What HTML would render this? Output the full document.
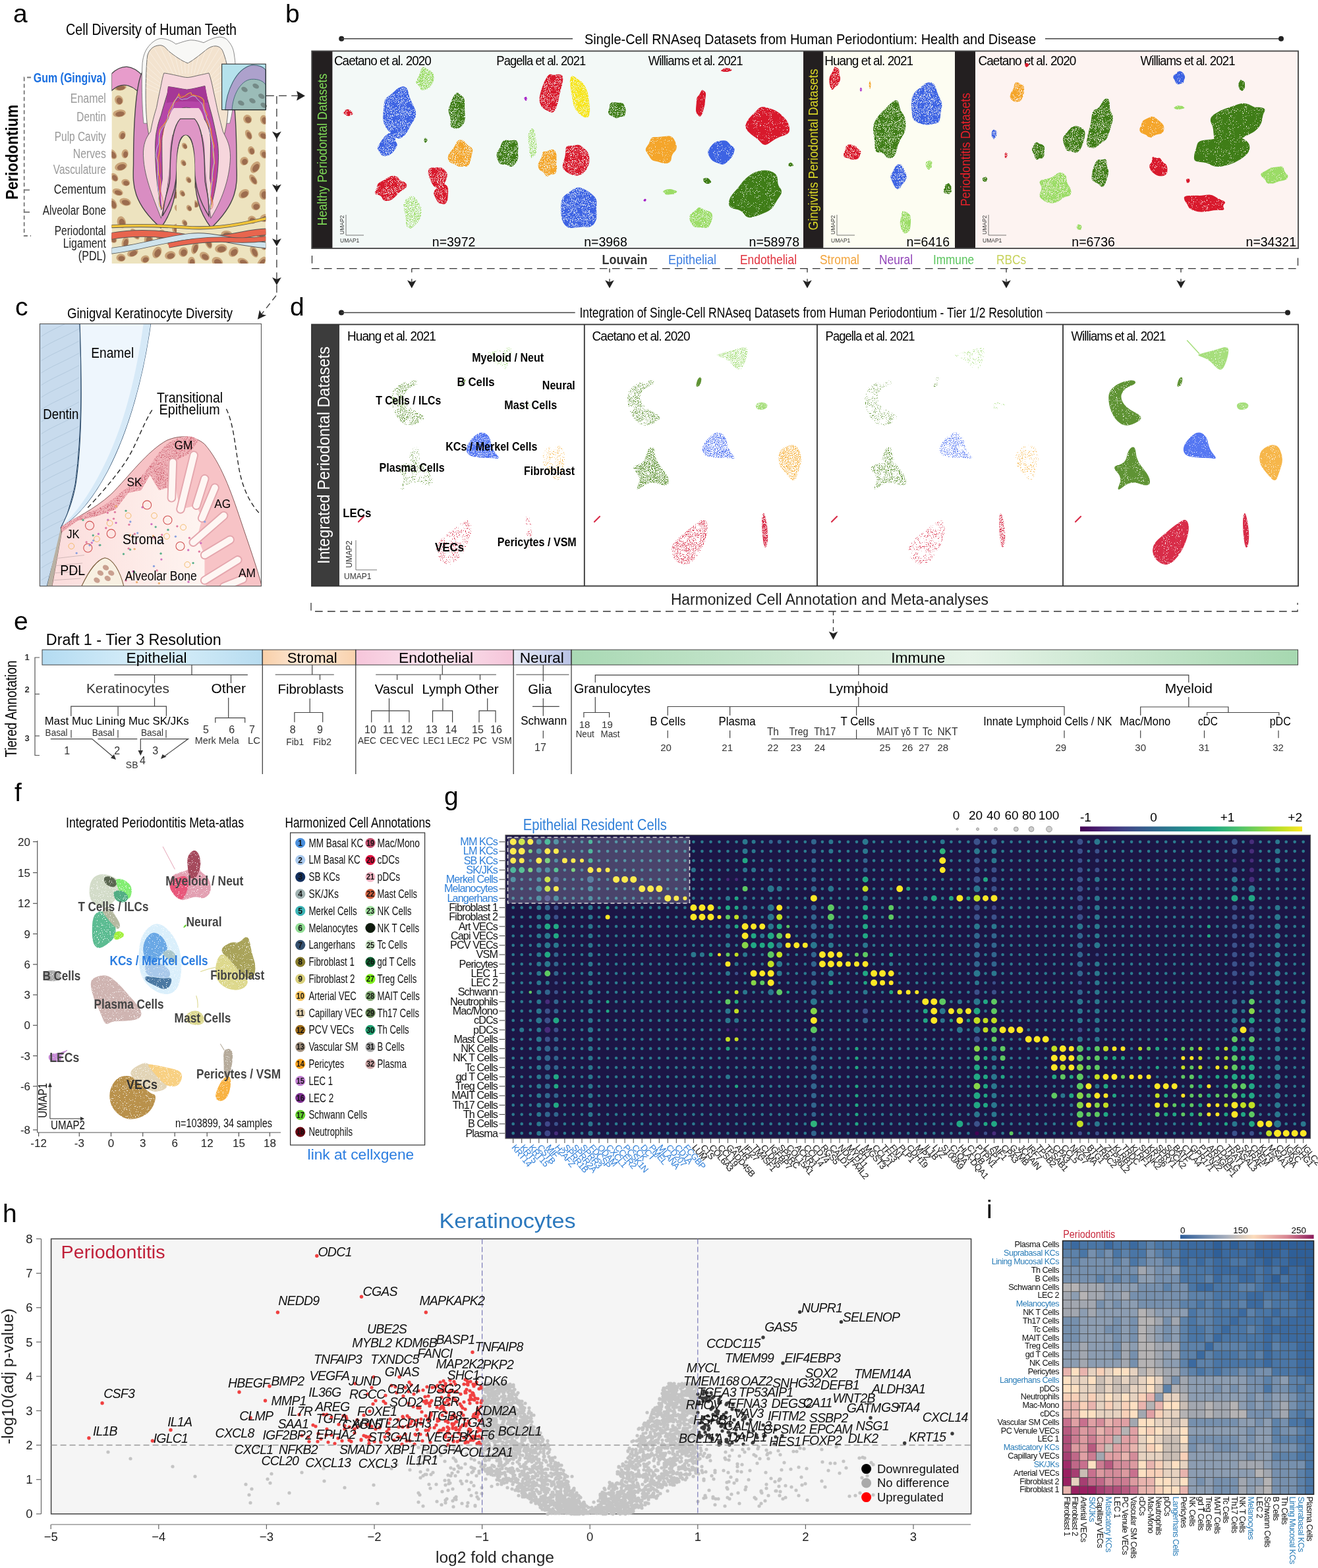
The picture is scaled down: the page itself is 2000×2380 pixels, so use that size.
<!DOCTYPE html>
<html><head><meta charset="utf-8"><title>Periodontal single-cell atlas</title>
<style>html,body{margin:0;padding:0;background:#fff;}body{width:2000px;height:2380px;overflow:hidden;}svg{display:block;font-family:"Liberation Sans",Arial,sans-serif;}</style></head><body>
<svg xmlns="http://www.w3.org/2000/svg" width="2000" height="2380" viewBox="0 0 2000 2380" font-family="Liberation Sans, Arial, sans-serif">
<defs><filter id="s95" x="-5%" y="-5%" width="110%" height="110%" color-interpolation-filters="sRGB"><feTurbulence type="fractalNoise" baseFrequency="0.95" numOctaves="2" seed="3" result="n"/><feColorMatrix in="n" type="matrix" values="0 0 0 0 0  0 0 0 0 0  0 0 0 0 0  12 0 0 0 -3.2" result="m"/><feComposite in="SourceGraphic" in2="m" operator="in"/></filter><filter id="s85" x="-5%" y="-5%" width="110%" height="110%" color-interpolation-filters="sRGB"><feTurbulence type="fractalNoise" baseFrequency="0.95" numOctaves="2" seed="5" result="n"/><feColorMatrix in="n" type="matrix" values="0 0 0 0 0  0 0 0 0 0  0 0 0 0 0  12 0 0 0 -4.2" result="m"/><feComposite in="SourceGraphic" in2="m" operator="in"/></filter><filter id="s65" x="-5%" y="-5%" width="110%" height="110%" color-interpolation-filters="sRGB"><feTurbulence type="fractalNoise" baseFrequency="0.95" numOctaves="2" seed="7" result="n"/><feColorMatrix in="n" type="matrix" values="0 0 0 0 0  0 0 0 0 0  0 0 0 0 0  12 0 0 0 -5.0" result="m"/><feComposite in="SourceGraphic" in2="m" operator="in"/></filter><filter id="s45" x="-5%" y="-5%" width="110%" height="110%" color-interpolation-filters="sRGB"><feTurbulence type="fractalNoise" baseFrequency="0.95" numOctaves="2" seed="9" result="n"/><feColorMatrix in="n" type="matrix" values="0 0 0 0 0  0 0 0 0 0  0 0 0 0 0  12 0 0 0 -5.8" result="m"/><feComposite in="SourceGraphic" in2="m" operator="in"/></filter><filter id="s25" x="-5%" y="-5%" width="110%" height="110%" color-interpolation-filters="sRGB"><feTurbulence type="fractalNoise" baseFrequency="0.95" numOctaves="2" seed="11" result="n"/><feColorMatrix in="n" type="matrix" values="0 0 0 0 0  0 0 0 0 0  0 0 0 0 0  12 0 0 0 -6.6" result="m"/><feComposite in="SourceGraphic" in2="m" operator="in"/></filter><filter id="s12" x="-5%" y="-5%" width="110%" height="110%" color-interpolation-filters="sRGB"><feTurbulence type="fractalNoise" baseFrequency="0.95" numOctaves="2" seed="13" result="n"/><feColorMatrix in="n" type="matrix" values="0 0 0 0 0  0 0 0 0 0  0 0 0 0 0  12 0 0 0 -7.3" result="m"/><feComposite in="SourceGraphic" in2="m" operator="in"/></filter></defs>
<text x="20.0" y="34.0" font-size="39">a</text>
<text x="100.0" y="52.8" font-size="23.62" textLength="259.0" lengthAdjust="spacingAndGlyphs">Cell Diversity of Human Teeth</text>
<text x="26.8" y="231.0" font-size="25.73" text-anchor="middle" font-weight="bold" textLength="144.0" lengthAdjust="spacingAndGlyphs" transform="rotate(-90 26.8 231.0)">Periodontium</text>
<path d="M47,117.5 H36.7 V358 H47" fill="none" stroke="#777" stroke-width="1.8" stroke-dasharray="6 4"/>
<line x1="36.7" y1="288.4" x2="45.0" y2="288.4" stroke="#777" stroke-width="1.8"/>
<line x1="36.7" y1="322.0" x2="45.0" y2="322.0" stroke="#777" stroke-width="1.8"/>
<text x="160.8" y="125.3" font-size="19.95" text-anchor="end" font-weight="bold" fill="#1a6fe0" textLength="110.0" lengthAdjust="spacingAndGlyphs">Gum (Gingiva)</text>
<text x="160.8" y="155.5" font-size="20.48" text-anchor="end" fill="#9a9a9a" textLength="54.0" lengthAdjust="spacingAndGlyphs">Enamel</text>
<text x="160.8" y="184.0" font-size="20.48" text-anchor="end" fill="#9a9a9a" textLength="44.5" lengthAdjust="spacingAndGlyphs">Dentin</text>
<text x="160.8" y="213.8" font-size="20.48" text-anchor="end" fill="#9a9a9a" textLength="78.0" lengthAdjust="spacingAndGlyphs">Pulp Cavity</text>
<text x="160.8" y="239.5" font-size="20.48" text-anchor="end" fill="#9a9a9a" textLength="50.0" lengthAdjust="spacingAndGlyphs">Nerves</text>
<text x="160.8" y="264.3" font-size="20.48" text-anchor="end" fill="#9a9a9a" textLength="80.0" lengthAdjust="spacingAndGlyphs">Vasculature</text>
<text x="160.8" y="294.0" font-size="20.48" text-anchor="end" fill="#222" textLength="79.0" lengthAdjust="spacingAndGlyphs">Cementum</text>
<text x="160.8" y="325.7" font-size="20.48" text-anchor="end" fill="#222" textLength="96.0" lengthAdjust="spacingAndGlyphs">Alveolar Bone</text>
<text x="160.8" y="356.5" font-size="20.48" text-anchor="end" fill="#222" textLength="78.0" lengthAdjust="spacingAndGlyphs">Periodontal</text>
<text x="160.8" y="375.5" font-size="20.48" text-anchor="end" fill="#222" textLength="65.0" lengthAdjust="spacingAndGlyphs">Ligament</text>
<text x="160.8" y="394.6" font-size="20.48" text-anchor="end" fill="#222" textLength="42.0" lengthAdjust="spacingAndGlyphs">(PDL)</text>
<g transform="translate(160,50) scale(0.171527)">
<clipPath id="clipA"><rect x="55" y="0" width="1363" height="2040"/></clipPath>
<g clip-path="url(#clipA)">
<path d="M55,2040 L55,510 Q190,400 330,560 L1418,560 L1418,2040 Z" fill="#ede3bf"/>
<ellipse cx="1133.5" cy="1937.3" rx="49.1" ry="37.7" fill="#c9a378" transform="rotate(133.18174345318752 1133.5 1937.3)"/>
<ellipse cx="1138.5" cy="1943.3" rx="34.4" ry="25.7" fill="#9c6c4e" transform="rotate(133.18174345318752 1138.5 1943.3)"/>
<ellipse cx="688.6" cy="1938.8" rx="43.8" ry="39.8" fill="#c9a378" transform="rotate(116.81541956464636 688.6 1938.8)"/>
<ellipse cx="693.6" cy="1944.8" rx="30.6" ry="27.1" fill="#9c6c4e" transform="rotate(116.81541956464636 693.6 1944.8)"/>
<ellipse cx="794.1" cy="1344.0" rx="56.8" ry="30.0" fill="#c9a378" transform="rotate(2.3605541260023966 794.1 1344.0)"/>
<ellipse cx="799.1" cy="1350.0" rx="39.7" ry="20.4" fill="#9c6c4e" transform="rotate(2.3605541260023966 799.1 1350.0)"/>
<ellipse cx="1297.1" cy="1652.8" rx="38.5" ry="32.9" fill="#c9a378" transform="rotate(28.72875822444688 1297.1 1652.8)"/>
<ellipse cx="1302.1" cy="1658.8" rx="26.9" ry="22.4" fill="#9c6c4e" transform="rotate(28.72875822444688 1302.1 1658.8)"/>
<ellipse cx="62.4" cy="1823.0" rx="42.5" ry="30.7" fill="#c9a378" transform="rotate(37.70214884912122 62.4 1823.0)"/>
<ellipse cx="67.4" cy="1829.0" rx="29.8" ry="20.9" fill="#9c6c4e" transform="rotate(37.70214884912122 67.4 1829.0)"/>
<ellipse cx="350.9" cy="2001.7" rx="38.5" ry="33.0" fill="#c9a378" transform="rotate(157.03339777862433 350.9 2001.7)"/>
<ellipse cx="355.9" cy="2007.7" rx="26.9" ry="22.4" fill="#9c6c4e" transform="rotate(157.03339777862433 355.9 2007.7)"/>
<ellipse cx="788.0" cy="1511.3" rx="42.1" ry="30.6" fill="#c9a378" transform="rotate(36.86031261608271 788.0 1511.3)"/>
<ellipse cx="793.0" cy="1517.3" rx="29.4" ry="20.8" fill="#9c6c4e" transform="rotate(36.86031261608271 793.0 1517.3)"/>
<ellipse cx="1330.3" cy="1531.9" rx="40.0" ry="37.8" fill="#c9a378" transform="rotate(173.98157621709518 1330.3 1531.9)"/>
<ellipse cx="1335.3" cy="1537.9" rx="28.0" ry="25.7" fill="#9c6c4e" transform="rotate(173.98157621709518 1335.3 1537.9)"/>
<ellipse cx="1266.6" cy="901.1" rx="46.4" ry="27.2" fill="#c9a378" transform="rotate(65.01418825002915 1266.6 901.1)"/>
<ellipse cx="1271.6" cy="907.1" rx="32.5" ry="18.5" fill="#9c6c4e" transform="rotate(65.01418825002915 1271.6 907.1)"/>
<ellipse cx="147.9" cy="905.2" rx="38.5" ry="29.9" fill="#c9a378" transform="rotate(108.55979953337778 147.9 905.2)"/>
<ellipse cx="152.9" cy="911.2" rx="27.0" ry="20.3" fill="#9c6c4e" transform="rotate(108.55979953337778 152.9 911.2)"/>
<ellipse cx="64.6" cy="1511.5" rx="51.2" ry="33.0" fill="#c9a378" transform="rotate(60.82143509301572 64.6 1511.5)"/>
<ellipse cx="69.6" cy="1517.5" rx="35.9" ry="22.4" fill="#9c6c4e" transform="rotate(60.82143509301572 69.6 1517.5)"/>
<ellipse cx="137.0" cy="1989.9" rx="41.2" ry="33.6" fill="#c9a378" transform="rotate(4.115801385489728 137.0 1989.9)"/>
<ellipse cx="142.0" cy="1995.9" rx="28.9" ry="22.9" fill="#9c6c4e" transform="rotate(4.115801385489728 142.0 1995.9)"/>
<ellipse cx="1072.2" cy="1780.3" rx="49.6" ry="31.7" fill="#c9a378" transform="rotate(3.2521563681354215 1072.2 1780.3)"/>
<ellipse cx="1077.2" cy="1786.3" rx="34.7" ry="21.5" fill="#9c6c4e" transform="rotate(3.2521563681354215 1077.2 1786.3)"/>
<ellipse cx="123.1" cy="711.3" rx="57.3" ry="32.6" fill="#c9a378" transform="rotate(171.93238192640993 123.1 711.3)"/>
<ellipse cx="128.1" cy="717.3" rx="40.1" ry="22.1" fill="#9c6c4e" transform="rotate(171.93238192640993 128.1 717.3)"/>
<ellipse cx="1315.0" cy="1936.7" rx="54.1" ry="30.3" fill="#c9a378" transform="rotate(61.988726349542155 1315.0 1936.7)"/>
<ellipse cx="1320.0" cy="1942.7" rx="37.8" ry="20.6" fill="#9c6c4e" transform="rotate(61.988726349542155 1320.0 1942.7)"/>
<ellipse cx="1307.7" cy="1297.7" rx="51.2" ry="27.1" fill="#c9a378" transform="rotate(56.241066481723244 1307.7 1297.7)"/>
<ellipse cx="1312.7" cy="1303.7" rx="35.8" ry="18.4" fill="#9c6c4e" transform="rotate(56.241066481723244 1312.7 1303.7)"/>
<ellipse cx="990.4" cy="2024.7" rx="50.9" ry="39.7" fill="#c9a378" transform="rotate(29.075303596430924 990.4 2024.7)"/>
<ellipse cx="995.4" cy="2030.7" rx="35.6" ry="27.0" fill="#9c6c4e" transform="rotate(29.075303596430924 995.4 2030.7)"/>
<ellipse cx="780.3" cy="1073.5" rx="51.5" ry="29.4" fill="#c9a378" transform="rotate(42.720588693771724 780.3 1073.5)"/>
<ellipse cx="785.3" cy="1079.5" rx="36.1" ry="20.0" fill="#9c6c4e" transform="rotate(42.720588693771724 785.3 1079.5)"/>
<ellipse cx="675.1" cy="1099.0" rx="38.1" ry="38.5" fill="#c9a378" transform="rotate(10.027301581420819 675.1 1099.0)"/>
<ellipse cx="680.1" cy="1105.0" rx="26.7" ry="26.2" fill="#9c6c4e" transform="rotate(10.027301581420819 680.1 1105.0)"/>
<ellipse cx="726.3" cy="1769.9" rx="52.6" ry="34.8" fill="#c9a378" transform="rotate(23.5029288875616 726.3 1769.9)"/>
<ellipse cx="731.3" cy="1775.9" rx="36.8" ry="23.7" fill="#9c6c4e" transform="rotate(23.5029288875616 731.3 1775.9)"/>
<ellipse cx="261.5" cy="1780.0" rx="56.3" ry="28.4" fill="#c9a378" transform="rotate(53.0663267181548 261.5 1780.0)"/>
<ellipse cx="266.5" cy="1786.0" rx="39.4" ry="19.3" fill="#9c6c4e" transform="rotate(53.0663267181548 266.5 1786.0)"/>
<ellipse cx="715.7" cy="1659.3" rx="49.2" ry="29.6" fill="#c9a378" transform="rotate(124.3589321440261 715.7 1659.3)"/>
<ellipse cx="720.7" cy="1665.3" rx="34.4" ry="20.1" fill="#9c6c4e" transform="rotate(124.3589321440261 720.7 1665.3)"/>
<ellipse cx="456.7" cy="1942.3" rx="53.9" ry="37.6" fill="#c9a378" transform="rotate(116.94458687422342 456.7 1942.3)"/>
<ellipse cx="461.7" cy="1948.3" rx="37.8" ry="25.6" fill="#9c6c4e" transform="rotate(116.94458687422342 461.7 1948.3)"/>
<ellipse cx="1197.9" cy="1820.6" rx="50.8" ry="36.8" fill="#c9a378" transform="rotate(123.9006522369469 1197.9 1820.6)"/>
<ellipse cx="1202.9" cy="1826.6" rx="35.6" ry="25.0" fill="#9c6c4e" transform="rotate(123.9006522369469 1202.9 1826.6)"/>
<ellipse cx="1325.5" cy="1188.4" rx="56.8" ry="36.5" fill="#c9a378" transform="rotate(124.45660527192511 1325.5 1188.4)"/>
<ellipse cx="1330.5" cy="1194.4" rx="39.8" ry="24.8" fill="#9c6c4e" transform="rotate(124.45660527192511 1330.5 1194.4)"/>
<ellipse cx="628.1" cy="1424.2" rx="54.4" ry="35.7" fill="#c9a378" transform="rotate(139.44685426416297 628.1 1424.2)"/>
<ellipse cx="633.1" cy="1430.2" rx="38.0" ry="24.3" fill="#9c6c4e" transform="rotate(139.44685426416297 633.1 1430.2)"/>
<ellipse cx="60.9" cy="1072.7" rx="49.3" ry="32.9" fill="#c9a378" transform="rotate(50.13505275587625 60.9 1072.7)"/>
<ellipse cx="65.9" cy="1078.7" rx="34.5" ry="22.4" fill="#9c6c4e" transform="rotate(50.13505275587625 65.9 1078.7)"/>
<ellipse cx="108.7" cy="1407.8" rx="48.1" ry="30.0" fill="#c9a378" transform="rotate(17.067899503936154 108.7 1407.8)"/>
<ellipse cx="113.7" cy="1413.8" rx="33.7" ry="20.4" fill="#9c6c4e" transform="rotate(17.067899503936154 113.7 1413.8)"/>
<ellipse cx="796.0" cy="966.4" rx="41.1" ry="28.6" fill="#c9a378" transform="rotate(104.56132287364099 796.0 966.4)"/>
<ellipse cx="801.0" cy="972.4" rx="28.7" ry="19.5" fill="#9c6c4e" transform="rotate(104.56132287364099 801.0 972.4)"/>
<ellipse cx="625.8" cy="1728.9" rx="42.2" ry="34.1" fill="#c9a378" transform="rotate(115.613377518277 625.8 1728.9)"/>
<ellipse cx="630.8" cy="1734.9" rx="29.5" ry="23.2" fill="#9c6c4e" transform="rotate(115.613377518277 630.8 1734.9)"/>
<ellipse cx="909.8" cy="1855.0" rx="57.9" ry="28.7" fill="#c9a378" transform="rotate(67.65269471150756 909.8 1855.0)"/>
<ellipse cx="914.8" cy="1861.0" rx="40.5" ry="19.5" fill="#9c6c4e" transform="rotate(67.65269471150756 914.8 1861.0)"/>
<ellipse cx="572.7" cy="1967.4" rx="48.2" ry="35.9" fill="#c9a378" transform="rotate(164.47450808156228 572.7 1967.4)"/>
<ellipse cx="577.7" cy="1973.4" rx="33.7" ry="24.4" fill="#9c6c4e" transform="rotate(164.47450808156228 577.7 1973.4)"/>
<ellipse cx="77.8" cy="1277.4" rx="41.4" ry="29.9" fill="#c9a378" transform="rotate(49.28177150953495 77.8 1277.4)"/>
<ellipse cx="82.8" cy="1283.4" rx="29.0" ry="20.3" fill="#9c6c4e" transform="rotate(49.28177150953495 82.8 1283.4)"/>
<ellipse cx="1290.8" cy="1040.6" rx="38.4" ry="29.7" fill="#c9a378" transform="rotate(70.53582431986239 1290.8 1040.6)"/>
<ellipse cx="1295.8" cy="1046.6" rx="26.9" ry="20.2" fill="#9c6c4e" transform="rotate(70.53582431986239 1295.8 1046.6)"/>
<ellipse cx="1381.2" cy="2027.3" rx="55.1" ry="27.4" fill="#c9a378" transform="rotate(126.22466703954636 1381.2 2027.3)"/>
<ellipse cx="1386.2" cy="2033.3" rx="38.6" ry="18.6" fill="#9c6c4e" transform="rotate(126.22466703954636 1386.2 2033.3)"/>
<ellipse cx="118.8" cy="594.2" rx="42.8" ry="37.0" fill="#c9a378" transform="rotate(68.25583006586649 118.8 594.2)"/>
<ellipse cx="123.8" cy="600.2" rx="29.9" ry="25.2" fill="#9c6c4e" transform="rotate(68.25583006586649 123.8 600.2)"/>
<ellipse cx="175.1" cy="1495.4" rx="51.9" ry="32.8" fill="#c9a378" transform="rotate(16.412089432845114 175.1 1495.4)"/>
<ellipse cx="180.1" cy="1501.4" rx="36.3" ry="22.3" fill="#9c6c4e" transform="rotate(16.412089432845114 180.1 1501.4)"/>
<ellipse cx="382.1" cy="1831.9" rx="56.8" ry="39.9" fill="#c9a378" transform="rotate(86.48422742928638 382.1 1831.9)"/>
<ellipse cx="387.1" cy="1837.9" rx="39.7" ry="27.1" fill="#9c6c4e" transform="rotate(86.48422742928638 387.1 1837.9)"/>
<ellipse cx="142.2" cy="1674.6" rx="52.7" ry="38.3" fill="#c9a378" transform="rotate(73.8303849887575 142.2 1674.6)"/>
<ellipse cx="147.2" cy="1680.6" rx="36.9" ry="26.1" fill="#9c6c4e" transform="rotate(73.8303849887575 147.2 1680.6)"/>
<ellipse cx="129.3" cy="480.5" rx="56.3" ry="29.4" fill="#c9a378" transform="rotate(174.8924439773671 129.3 480.5)"/>
<ellipse cx="134.3" cy="486.5" rx="39.4" ry="20.0" fill="#9c6c4e" transform="rotate(174.8924439773671 134.3 486.5)"/>
<ellipse cx="603.2" cy="1275.4" rx="38.7" ry="39.4" fill="#c9a378" transform="rotate(15.184754929305342 603.2 1275.4)"/>
<ellipse cx="608.2" cy="1281.4" rx="27.1" ry="26.8" fill="#9c6c4e" transform="rotate(15.184754929305342 608.2 1281.4)"/>
<ellipse cx="791.6" cy="1903.3" rx="55.5" ry="29.4" fill="#c9a378" transform="rotate(107.6915718135745 791.6 1903.3)"/>
<ellipse cx="796.6" cy="1909.3" rx="38.9" ry="20.0" fill="#9c6c4e" transform="rotate(107.6915718135745 796.6 1909.3)"/>
<ellipse cx="1386.3" cy="1772.7" rx="53.4" ry="32.4" fill="#c9a378" transform="rotate(152.9701513884352 1386.3 1772.7)"/>
<ellipse cx="1391.3" cy="1778.7" rx="37.4" ry="22.0" fill="#9c6c4e" transform="rotate(152.9701513884352 1391.3 1778.7)"/>
<ellipse cx="1225.2" cy="1423.2" rx="50.3" ry="36.7" fill="#c9a378" transform="rotate(144.0667183385546 1225.2 1423.2)"/>
<ellipse cx="1230.2" cy="1429.2" rx="35.2" ry="24.9" fill="#9c6c4e" transform="rotate(144.0667183385546 1230.2 1429.2)"/>
<ellipse cx="1257.1" cy="762.5" rx="40.3" ry="36.8" fill="#c9a378" transform="rotate(55.004365768520884 1257.1 762.5)"/>
<ellipse cx="1262.1" cy="768.5" rx="28.2" ry="25.0" fill="#9c6c4e" transform="rotate(55.004365768520884 1262.1 768.5)"/>
<ellipse cx="877.2" cy="1976.2" rx="47.4" ry="34.6" fill="#c9a378" transform="rotate(33.702148615767996 877.2 1976.2)"/>
<ellipse cx="882.2" cy="1982.2" rx="33.2" ry="23.5" fill="#9c6c4e" transform="rotate(33.702148615767996 882.2 1982.2)"/>
<ellipse cx="489.9" cy="1789.0" rx="51.3" ry="36.0" fill="#c9a378" transform="rotate(116.13263956564154 489.9 1789.0)"/>
<ellipse cx="494.9" cy="1795.0" rx="35.9" ry="24.5" fill="#9c6c4e" transform="rotate(116.13263956564154 494.9 1795.0)"/>
<ellipse cx="1022.7" cy="1907.8" rx="54.5" ry="38.4" fill="#c9a378" transform="rotate(172.2422007059545 1022.7 1907.8)"/>
<ellipse cx="1027.7" cy="1913.8" rx="38.1" ry="26.1" fill="#9c6c4e" transform="rotate(172.2422007059545 1027.7 1913.8)"/>
<ellipse cx="173.1" cy="1069.2" rx="40.3" ry="30.0" fill="#c9a378" transform="rotate(97.82391446739258 173.1 1069.2)"/>
<ellipse cx="178.1" cy="1075.2" rx="28.2" ry="20.4" fill="#9c6c4e" transform="rotate(97.82391446739258 178.1 1075.2)"/>
<ellipse cx="1408.7" cy="1637.6" rx="42.6" ry="34.0" fill="#c9a378" transform="rotate(160.52027241077465 1408.7 1637.6)"/>
<ellipse cx="1413.7" cy="1643.6" rx="29.8" ry="23.1" fill="#9c6c4e" transform="rotate(160.52027241077465 1413.7 1643.6)"/>
<ellipse cx="1402.1" cy="768.9" rx="42.6" ry="32.5" fill="#c9a378" transform="rotate(75.85473935541742 1402.1 768.9)"/>
<ellipse cx="1407.1" cy="774.9" rx="29.8" ry="22.1" fill="#9c6c4e" transform="rotate(75.85473935541742 1407.1 774.9)"/>
<ellipse cx="1393.8" cy="905.9" rx="42.9" ry="31.3" fill="#c9a378" transform="rotate(29.996018606107782 1393.8 905.9)"/>
<ellipse cx="1398.8" cy="911.9" rx="30.0" ry="21.3" fill="#9c6c4e" transform="rotate(29.996018606107782 1398.8 911.9)"/>
<ellipse cx="611.3" cy="950.2" rx="44.8" ry="31.7" fill="#c9a378" transform="rotate(17.266660601998247 611.3 950.2)"/>
<ellipse cx="616.3" cy="956.2" rx="31.3" ry="21.6" fill="#9c6c4e" transform="rotate(17.266660601998247 616.3 956.2)"/>
<ellipse cx="1216.8" cy="2025.2" rx="49.9" ry="30.7" fill="#c9a378" transform="rotate(23.43081255274075 1216.8 2025.2)"/>
<ellipse cx="1221.8" cy="2031.2" rx="34.9" ry="20.9" fill="#9c6c4e" transform="rotate(23.43081255274075 1221.8 2031.2)"/>
<ellipse cx="726.3" cy="1214.5" rx="53.8" ry="32.6" fill="#c9a378" transform="rotate(118.3391688827336 726.3 1214.5)"/>
<ellipse cx="731.3" cy="1220.5" rx="37.6" ry="22.2" fill="#9c6c4e" transform="rotate(118.3391688827336 731.3 1220.5)"/>
<ellipse cx="175.0" cy="1853.4" rx="50.9" ry="30.5" fill="#c9a378" transform="rotate(104.06905739494776 175.0 1853.4)"/>
<ellipse cx="180.0" cy="1859.4" rx="35.7" ry="20.7" fill="#9c6c4e" transform="rotate(104.06905739494776 180.0 1859.4)"/>
<ellipse cx="241.0" cy="1945.9" rx="51.1" ry="32.0" fill="#c9a378" transform="rotate(155.78871894863198 241.0 1945.9)"/>
<ellipse cx="246.0" cy="1951.9" rx="35.8" ry="21.8" fill="#9c6c4e" transform="rotate(155.78871894863198 246.0 1951.9)"/>
<ellipse cx="656.4" cy="1555.6" rx="48.9" ry="33.1" fill="#c9a378" transform="rotate(27.526814953654032 656.4 1555.6)"/>
<ellipse cx="661.4" cy="1561.6" rx="34.2" ry="22.5" fill="#9c6c4e" transform="rotate(27.526814953654032 661.4 1561.6)"/>
<ellipse cx="1401.4" cy="1427.9" rx="48.2" ry="39.2" fill="#c9a378" transform="rotate(88.58924094435382 1401.4 1427.9)"/>
<ellipse cx="1406.4" cy="1433.9" rx="33.7" ry="26.7" fill="#9c6c4e" transform="rotate(88.58924094435382 1406.4 1433.9)"/>
<ellipse cx="1227.6" cy="1134.0" rx="38.3" ry="36.3" fill="#c9a378" transform="rotate(115.20904075045182 1227.6 1134.0)"/>
<ellipse cx="1232.6" cy="1140.0" rx="26.8" ry="24.7" fill="#9c6c4e" transform="rotate(115.20904075045182 1232.6 1140.0)"/>
<ellipse cx="137.0" cy="1181.2" rx="55.9" ry="36.3" fill="#c9a378" transform="rotate(161.32342769173383 137.0 1181.2)"/>
<ellipse cx="142.0" cy="1187.2" rx="39.1" ry="24.7" fill="#9c6c4e" transform="rotate(161.32342769173383 142.0 1187.2)"/>
<ellipse cx="179.0" cy="1323.5" rx="38.2" ry="30.7" fill="#c9a378" transform="rotate(15.118315711783437 179.0 1323.5)"/>
<ellipse cx="184.0" cy="1329.5" rx="26.8" ry="20.9" fill="#9c6c4e" transform="rotate(15.118315711783437 184.0 1329.5)"/>
<ellipse cx="761.7" cy="2024.7" rx="43.8" ry="32.7" fill="#c9a378" transform="rotate(90.73133209992844 761.7 2024.7)"/>
<ellipse cx="766.7" cy="2030.7" rx="30.7" ry="22.3" fill="#9c6c4e" transform="rotate(90.73133209992844 766.7 2030.7)"/>
<ellipse cx="580.0" cy="1849.6" rx="38.8" ry="32.6" fill="#c9a378" transform="rotate(159.26361090190122 580.0 1849.6)"/>
<ellipse cx="585.0" cy="1855.6" rx="27.2" ry="22.2" fill="#9c6c4e" transform="rotate(159.26361090190122 585.0 1855.6)"/>
<ellipse cx="1409.9" cy="1883.9" rx="39.5" ry="27.8" fill="#c9a378" transform="rotate(119.4336429606546 1409.9 1883.9)"/>
<ellipse cx="1414.9" cy="1889.9" rx="27.6" ry="18.9" fill="#9c6c4e" transform="rotate(119.4336429606546 1414.9 1889.9)"/>
<ellipse cx="1401.7" cy="1072.0" rx="41.1" ry="32.7" fill="#c9a378" transform="rotate(58.50108825977425 1401.7 1072.0)"/>
<ellipse cx="1406.7" cy="1078.0" rx="28.8" ry="22.2" fill="#9c6c4e" transform="rotate(58.50108825977425 1406.7 1078.0)"/>
<path d="M55,360 Q190,230 330,380 L360,600 Q200,380 55,510 Z" fill="#e79ccb" stroke="#444" stroke-width="7"/>
<path d="M490,1725 C208,1475 248,1300 248,1150 C248,740.0 278,390 338,330 L1070,330 C1130,390 1160,740.0 1160,1150 C1160,1300 1200,1475 935,1725 C820,1575 790,1425 790,1210 C790,990 760.0,910 710.0,910 C660.0,910 630,990 630,1210 C630,1425 600,1575 490,1725 Z" fill="#d98dc2" stroke="#444" stroke-width="8"/>
<path d="M338,800 C322,650 318,400 327,265 C335,200 350,150 399,99 C440,60 470,50 491,49 C550,50 600,80 623,99 C680,80 720,66 756,63 C800,62 840,78 869,86 C920,60 960,40 1008,36 C1050,36 1075,55 1087,73 C1120,110 1135,150 1140,198 C1150,260 1150,300 1146,331 C1150,450 1140,650 1100,800 Z" fill="#f8f8f6" stroke="#777" stroke-width="5"/>
<path d="M385,905 C360,800 352,600 359,400 C362,300 365,250 372,198 C390,140 430,110 484,109 C520,110 540,140 557,159 C620,210 680,250 729,268 C780,240 840,190 888,152 C920,125 950,116 974,116 C1010,118 1030,140 1040,166 C1065,230 1078,290 1080,331 C1085,450 1088,550 1086,595 C1088,700 1075,820 1050,905 Z" fill="#f3e3cf" stroke="#555" stroke-width="5"/>
<clipPath id="clipCream"><path d="M385,905 C360,800 352,600 359,400 C362,300 365,250 372,198 C390,140 430,110 484,109 C520,110 540,140 557,159 C620,210 680,250 729,268 C780,240 840,190 888,152 C920,125 950,116 974,116 C1010,118 1030,140 1040,166 C1065,230 1078,290 1080,331 C1085,450 1088,550 1086,595 C1088,700 1075,820 1050,905 Z"/></clipPath>
<path d="M476,531 L194,428 M486,508 L215,378 M498,485 L241,330 M512,464 L272,285 M528,445 L306,242 M546,427 L345,204 M566,411 L388,169 M587,397 L433,139 M609,385 L482,113 M633,375 L532,92 M657,368 L585,77 M682,363 L638,66 M707,360 L693,61 M733,360 L747,61 M758,363 L802,66 M783,368 L855,77 M807,375 L908,92 M831,385 L958,113 M853,397 L1007,139 M874,411 L1052,169 M894,427 L1095,204 M912,445 L1134,242 M928,464 L1168,285 M942,485 L1199,330 M954,508 L1225,378 M964,531 L1246,428" fill="none" stroke="#fbf3ea" stroke-width="4" clip-path="url(#clipCream)"/>
<path d="M492,1640 C420,1450 330,1250 335,1050 C340,960 370,910 399,874 C420,760 440,700 452,661 C470,560 485,500 492,463 C500,420 508,380 518,355 C560,360 600,370 624,375 C670,385 700,394 730,394 C770,390 800,380 822,375 C860,368 890,360 915,355 C925,380 935,420 945,463 C960,540 975,600 987,661 C1000,720 1020,800 1040,874 C1080,950 1105,1000 1105,1100 C1100,1300 1020,1500 932,1640 C915,1490 885,1340 885,1060 C885,840 800,760 725,760 C650,760 565,840 565,1060 C565,1340 530,1490 492,1640 Z" fill="#f6d6dc" stroke="#555" stroke-width="5"/>
<path d="M495,1565 C460,1400 440,1200 440,1000 C445,900 450,880 452,874 C465,800 480,760 492,727 C515,640 535,580 550,528 C552,510 554,490 556,475 C610,482 670,495 721,502 C780,495 830,480 880,469 C884,490 886,510 888,528 C905,600 925,670 941,727 C955,780 965,830 974,874 C990,950 1000,1000 1000,1100 C995,1300 960,1450 925,1565 C915,1420 930,1200 930,960 C930,760 800,660 715,660 C630,660 500,760 500,960 C500,1200 510,1420 495,1565 Z" fill="#b646a8" stroke="#444" stroke-width="5"/>
<path d="M556,475 C610,482 670,495 721,502 C780,495 830,480 880,469 C895,530 905,580 905,620 C800,600 640,600 540,620 C540,570 548,520 556,475 Z" fill="#a53896"/>
<path d="M500,1560 C475,1310 515,1350 515,1200 C515,932.5 545,725 605,665 L825,665 C885,725 915,932.5 915,1200 C915,1350 955,1310 920,1560 C910,1410 880,1260 880,1060 C880,840 775.0,760 725.0,760 C675.0,760 570,840 570,1060 C570,1260 540,1410 500,1560 Z" fill="#f3d2dc"/>
<path d="M505,1620 C532,1370 572,1400 572,1250 C572,1005.0 602,820 662,760 L788,760 C848,820 878,1005.0 878,1250 C878,1400 918,1370 915,1620 C820,1470 790,1320 790,1205 C790,985 760.0,905 710.0,905 C660.0,905 630,985 630,1205 C630,1320 600,1470 505,1620 Z" fill="#df96c6" stroke="#444" stroke-width="8"/>
<path d="M630,1800 L630,1200 C630,990 680,905 710,905 C740,905 790,990 790,1200 L790,1800 Z" fill="#ede3bf"/>
<ellipse cx="700.0" cy="1000.0" rx="30.0" ry="22.0" fill="#c9a378" transform="rotate(60 700.0 1000.0)"/>
<ellipse cx="705.0" cy="1004.0" rx="21.0" ry="15.0" fill="#9b6e50" transform="rotate(60 705.0 1004.0)"/>
<ellipse cx="690.0" cy="1150.0" rx="30.0" ry="22.0" fill="#c9a378" transform="rotate(60 690.0 1150.0)"/>
<ellipse cx="695.0" cy="1154.0" rx="21.0" ry="15.0" fill="#9b6e50" transform="rotate(60 695.0 1154.0)"/>
<ellipse cx="735.0" cy="1300.0" rx="30.0" ry="22.0" fill="#c9a378" transform="rotate(60 735.0 1300.0)"/>
<ellipse cx="740.0" cy="1304.0" rx="21.0" ry="15.0" fill="#9b6e50" transform="rotate(60 740.0 1304.0)"/>
<ellipse cx="680.0" cy="1420.0" rx="30.0" ry="22.0" fill="#c9a378" transform="rotate(60 680.0 1420.0)"/>
<ellipse cx="685.0" cy="1424.0" rx="21.0" ry="15.0" fill="#9b6e50" transform="rotate(60 685.0 1424.0)"/>
<ellipse cx="740.0" cy="1550.0" rx="30.0" ry="22.0" fill="#c9a378" transform="rotate(60 740.0 1550.0)"/>
<ellipse cx="745.0" cy="1554.0" rx="21.0" ry="15.0" fill="#9b6e50" transform="rotate(60 745.0 1554.0)"/>
<ellipse cx="700.0" cy="1680.0" rx="30.0" ry="22.0" fill="#c9a378" transform="rotate(60 700.0 1680.0)"/>
<ellipse cx="705.0" cy="1684.0" rx="21.0" ry="15.0" fill="#9b6e50" transform="rotate(60 705.0 1684.0)"/>
<path d="M490,1550 Q456,1503 480,1400 Q496,1305 470,1250 Q467,1171 465,1100 Q485,1048 480,950 Q463,847 510,820 Q562,755 560,700 Q606,610 610,600 Q626,588 650,540 Q653,586 700,560 Q762,512 760,540 Q752,553 820,560 Q880,580 870,620 Q862,664 900,720 Q877,763 930,850 Q940,925 960,1000 Q941,1053 965,1150 Q935,1222 950,1300 Q923,1337 930,1450 Q955,1505 925,1550" fill="none" stroke="#f2b12a" stroke-width="6"/>
<path d="M500,1560 Q527,1516 490,1410 Q454,1306 480,1260 Q501,1202 475,1110 Q494,1022 490,960 Q512,902 520,830 Q551,746 570,710 Q590,653 620,610 Q656,615 660,550 Q716,563 710,570 Q736,544 770,550 Q768,527 830,570 Q853,587 880,630 Q887,707 910,730 Q927,799 940,860 Q937,902 970,1010 Q960,1060 975,1160 Q968,1270 960,1310 Q962,1363 940,1460 Q965,1531 935,1560" fill="none" stroke="#e8503a" stroke-width="4"/>
<path d="M482,1575 Q459,1503 472,1425 Q458,1357 462,1275 Q468,1170 457,1125 Q430,1074 472,975 Q470,891 502,845 Q562,783 552,725 Q601,673 602,625 Q632,571 642,565 Q676,601 692,585 Q724,592 752,565 Q794,544 812,585 Q855,621 862,645 Q863,662 892,745 Q933,808 922,875 Q952,977 952,1025 Q969,1129 957,1175 Q942,1271 942,1325 Q928,1430 922,1475 Q946,1497 917,1575" fill="none" stroke="#b8d4ee" stroke-width="5"/>
<path d="M40,1712 C300,1700 500,1705 700,1720 C900,1735 1100,1720 1430,1640" fill="none" stroke="#555" stroke-width="30"/>
<path d="M40,1712 C300,1700 500,1705 700,1720 C900,1735 1100,1720 1430,1640" fill="none" stroke="#f2c43a" stroke-width="20"/>
<path d="M40,1800 C250,1760 450,1770 650,1800 C850,1840 1000,1830 1200,1790 C1300,1770 1380,1760 1430,1760" fill="none" stroke="#555" stroke-width="62"/>
<path d="M40,1800 C250,1760 450,1770 650,1800 C850,1840 1000,1830 1200,1790 C1300,1770 1380,1760 1430,1760" fill="none" stroke="#e8654e" stroke-width="52"/>
<path d="M40,1930 C300,1900 500,1830 750,1800 C950,1780 1100,1850 1430,1880" fill="none" stroke="#555" stroke-width="56"/>
<path d="M40,1930 C300,1900 500,1830 750,1800 C950,1780 1100,1850 1430,1880" fill="none" stroke="#cfe3ec" stroke-width="46"/>
<path d="M560,1880 C700,1850 900,1820 1100,1830 C1250,1840 1350,1830 1430,1820" fill="none" stroke="#555" stroke-width="48"/>
<path d="M560,1880 C700,1850 900,1820 1100,1830 C1250,1840 1350,1830 1430,1820" fill="none" stroke="#e8654e" stroke-width="38"/>
</g>
<rect x="1030.0" y="275.0" width="388.0" height="405.0" fill="#bfe6ef"/>
<path d="M1060,680 C1070,520 1150,320 1290,285 C1350,280 1400,300 1418,330 L1418,680 Z" fill="#b596c8" stroke="#2a4a5a" stroke-width="6"/>
<path d="M1120,680 C1125,560 1190,420 1290,410 C1360,405 1400,430 1418,460 L1418,680 Z" fill="#9fb8b0" stroke="#2a4a5a" stroke-width="5"/>
<ellipse cx="1230.0" cy="500.0" rx="30.0" ry="20.0" fill="#707a74" transform="rotate(30 1230.0 500.0)"/>
<ellipse cx="1330.0" cy="470.0" rx="30.0" ry="20.0" fill="#707a74" transform="rotate(30 1330.0 470.0)"/>
<ellipse cx="1380.0" cy="560.0" rx="30.0" ry="20.0" fill="#707a74" transform="rotate(30 1380.0 560.0)"/>
<ellipse cx="1200.0" cy="620.0" rx="30.0" ry="20.0" fill="#707a74" transform="rotate(30 1200.0 620.0)"/>
<ellipse cx="1300.0" cy="600.0" rx="30.0" ry="20.0" fill="#707a74" transform="rotate(30 1300.0 600.0)"/>
<ellipse cx="1400.0" cy="640.0" rx="30.0" ry="20.0" fill="#707a74" transform="rotate(30 1400.0 640.0)"/>
<rect x="1030.0" y="275.0" width="388.0" height="405.0" fill="rgba(140,210,220,0.18)" stroke="#222" stroke-width="6"/>
</g>
<line x1="404.0" y1="145.4" x2="452.0" y2="145.4" stroke="#333" stroke-width="1.4" stroke-dasharray="11.8 7.3"/>
<path d="M463.0,145.4 L450.1,152.7 L452.1,145.4 L450.1,138.1 Z" fill="#222"/>
<line x1="419.9" y1="146.0" x2="419.9" y2="449.0" stroke="#444" stroke-width="1.4" stroke-dasharray="11.8 7.3"/>
<path d="M419.9,211.2 L413.0,199.4 L419.9,202.4 L426.8,199.4 Z" fill="#222"/>
<path d="M419.9,291.5 L413.0,279.7 L419.9,282.7 L426.8,279.7 Z" fill="#222"/>
<path d="M419.9,373.8 L413.0,362.0 L419.9,365.0 L426.8,362.0 Z" fill="#222"/>
<path d="M419.9,432.7 L413.0,420.9 L419.9,423.9 L426.8,420.9 Z" fill="#222"/>
<line x1="418.9" y1="448.7" x2="396.0" y2="478.0" stroke="#444" stroke-width="1.4" stroke-dasharray="9 6"/>
<path d="M390.9,484.7 L393.9,470.5 L397.1,476.9 L404.1,478.6 Z" fill="#222"/>
<text x="433.0" y="34.0" font-size="39">b</text>
<circle cx="518.2" cy="58.7" r="4.00" fill="#222"/>
<line x1="518.0" y1="58.7" x2="869.0" y2="58.7" stroke="#444" stroke-width="1.6"/>
<text x="887.0" y="66.5" font-size="22.57" textLength="685.0" lengthAdjust="spacingAndGlyphs">Single-Cell RNAseq Datasets from Human Periodontium: Health and Disease</text>
<line x1="1586.0" y1="58.7" x2="1944.0" y2="58.7" stroke="#444" stroke-width="1.6"/>
<circle cx="1944.0" cy="58.7" r="4.00" fill="#222"/>
<rect x="504.0" y="77.5" width="715.0" height="299.5" fill="#f3f9f7"/>
<rect x="1249.0" y="77.5" width="200.0" height="299.5" fill="#fdfdf2"/>
<rect x="1480.0" y="77.5" width="490.0" height="299.5" fill="#fdf3f1"/>
<rect x="473.2" y="77.5" width="31.2" height="299.5" fill="#231f20"/>
<rect x="1219.0" y="77.5" width="30.3" height="299.5" fill="#231f20"/>
<rect x="1449.0" y="77.5" width="31.0" height="299.5" fill="#231f20"/>
<rect x="473.2" y="77.5" width="1496.8" height="299.5" fill="none" stroke="#444" stroke-width="1.8"/>
<text x="496.0" y="227.0" font-size="20.48" text-anchor="middle" fill="#7ed957" textLength="231.0" lengthAdjust="spacingAndGlyphs" transform="rotate(-90 496.0 227.0)">Healthy Periodontal Datasets</text>
<text x="1241.0" y="227.0" font-size="20.48" text-anchor="middle" fill="#d9d627" textLength="245.0" lengthAdjust="spacingAndGlyphs" transform="rotate(-90 1241.0 227.0)">Gingivitis Periodontal Datasets</text>
<text x="1472.0" y="227.0" font-size="20.48" text-anchor="middle" fill="#e8202a" textLength="172.0" lengthAdjust="spacingAndGlyphs" transform="rotate(-90 1472.0 227.0)">Periodontitis Datasets</text>
<text x="506.9" y="99.0" font-size="20.48" textLength="147.0" lengthAdjust="spacingAndGlyphs" letter-spacing="-1">Caetano et al. 2020</text>
<text x="753.3" y="99.0" font-size="20.48" textLength="135.0" lengthAdjust="spacingAndGlyphs" letter-spacing="-1">Pagella et al. 2021</text>
<text x="983.7" y="99.0" font-size="20.48" textLength="143.0" lengthAdjust="spacingAndGlyphs" letter-spacing="-1">Williams et al. 2021</text>
<text x="1251.2" y="99.0" font-size="20.48" textLength="134.0" lengthAdjust="spacingAndGlyphs" letter-spacing="-1">Huang et al. 2021</text>
<text x="1484.4" y="99.0" font-size="20.48" textLength="148.0" lengthAdjust="spacingAndGlyphs" letter-spacing="-1">Caetano et al. 2020</text>
<text x="1730.6" y="99.0" font-size="20.48" textLength="143.0" lengthAdjust="spacingAndGlyphs" letter-spacing="-1">Williams et al. 2021</text>
<text x="655.8" y="374.0" font-size="19.5">n=3972</text>
<text x="886.2" y="374.0" font-size="19.5">n=3968</text>
<text x="1213.0" y="374.0" font-size="19.5" text-anchor="end">n=58978</text>
<text x="1441.0" y="374.0" font-size="19.5" text-anchor="end">n=6416</text>
<text x="1626.3" y="374.0" font-size="19.5">n=6736</text>
<text x="1967.0" y="374.0" font-size="19.5" text-anchor="end">n=34321</text>
<line x1="525.0" y1="357.0" x2="525.0" y2="326.0" stroke="#555" stroke-width="0.8"/>
<line x1="525.0" y1="357.0" x2="552.0" y2="357.0" stroke="#555" stroke-width="0.8"/>
<text x="522.0" y="356.0" font-size="8.5" fill="#333" transform="rotate(-90 522.0 356.0)">UMAP2</text>
<text x="516.0" y="368.0" font-size="8.5" fill="#333">UMAP1</text>
<line x1="1270.0" y1="357.0" x2="1270.0" y2="326.0" stroke="#555" stroke-width="0.8"/>
<line x1="1270.0" y1="357.0" x2="1297.0" y2="357.0" stroke="#555" stroke-width="0.8"/>
<text x="1267.0" y="356.0" font-size="8.5" fill="#333" transform="rotate(-90 1267.0 356.0)">UMAP2</text>
<text x="1261.0" y="368.0" font-size="8.5" fill="#333">UMAP1</text>
<line x1="1500.0" y1="357.0" x2="1500.0" y2="326.0" stroke="#555" stroke-width="0.8"/>
<line x1="1500.0" y1="357.0" x2="1527.0" y2="357.0" stroke="#555" stroke-width="0.8"/>
<text x="1497.0" y="356.0" font-size="8.5" fill="#333" transform="rotate(-90 1497.0 356.0)">UMAP2</text>
<text x="1491.0" y="368.0" font-size="8.5" fill="#333">UMAP1</text>
<path d="M658.6,116.7Q658.6,121.3 656.9,125.5Q655.1,129.7 652.4,132.2Q649.7,134.7 646.9,135.7Q644.1,136.7 641.3,136.7Q638.4,136.7 637.2,133.2Q635.9,129.8 633.0,127.8Q630.0,125.8 632.3,121.4Q634.6,117.1 635.9,114.2Q637.2,111.3 638.3,107.0Q639.3,102.8 642.1,101.9Q644.9,101.1 647.0,103.2Q649.0,105.3 651.3,106.3Q653.5,107.2 656.0,109.6Q658.5,112.0 658.6,116.7Z" fill="#9bdc66" filter="url(#s65)"/>
<path d="M534.5,170.4Q535.5,171.4 535.4,172.6Q535.2,173.9 533.7,174.5Q532.2,175.1 530.9,175.7Q529.6,176.3 528.1,176.1Q526.6,175.9 525.5,175.3Q524.4,174.7 523.6,173.9Q522.9,173.2 521.4,172.3Q519.9,171.4 521.5,170.5Q523.0,169.7 523.1,168.4Q523.1,167.0 524.7,166.4Q526.2,165.8 527.9,166.1Q529.6,166.5 531.0,167.0Q532.4,167.5 533.0,168.5Q533.5,169.5 534.5,170.4Z" fill="#d8192c" filter="url(#s85)"/>
<path d="M630.2,167.1Q633.2,175.2 628.1,182.4Q623.1,189.5 619.4,197.5Q615.7,205.5 609.3,209.0Q602.9,212.5 597.9,207.1Q592.9,201.6 588.8,197.7Q584.7,193.8 582.6,187.3Q580.6,180.9 581.3,173.5Q582.0,166.2 582.7,157.9Q583.4,149.6 589.0,146.2Q594.5,142.8 599.5,137.7Q604.4,132.6 610.9,131.3Q617.4,130.0 619.3,139.0Q621.2,148.1 624.2,153.5Q627.2,159.0 630.2,167.1Z" fill="#3d63e3" filter="url(#s85)"/>
<path d="M601.3,223.9Q598.8,228.3 595.9,231.6Q593.0,235.0 590.0,235.7Q586.9,236.4 584.3,236.9Q581.8,237.3 579.9,236.1Q578.0,234.9 577.0,232.6Q575.9,230.3 573.8,227.4Q571.7,224.5 574.5,220.2Q577.3,215.9 579.9,211.9Q582.5,207.9 586.0,205.0Q589.5,202.1 593.2,201.1Q596.9,200.2 598.3,203.6Q599.7,206.9 599.7,210.5Q599.7,214.0 601.7,216.8Q603.8,219.6 601.3,223.9Z" fill="#3d63e3" filter="url(#s85)"/>
<path d="M705.3,166.1Q705.4,171.0 705.8,177.3Q706.3,183.6 703.6,187.7Q700.9,191.7 698.0,193.6Q695.1,195.4 692.2,195.2Q689.3,194.9 686.2,193.8Q683.0,192.6 683.6,185.4Q684.2,178.2 681.8,173.4Q679.3,168.7 681.4,163.1Q683.5,157.5 685.4,152.1Q687.4,146.8 690.5,143.0Q693.6,139.3 696.6,141.9Q699.6,144.5 702.3,146.8Q705.0,149.0 705.1,155.1Q705.2,161.2 705.3,166.1Z" fill="#3f7d17" filter="url(#s85)"/>
<path d="M648.4,212.2Q648.5,213.0 648.2,213.7Q647.9,214.4 647.5,214.9Q647.2,215.4 646.8,216.1Q646.4,216.8 645.8,216.8Q645.2,216.8 644.8,216.2Q644.4,215.5 643.8,215.1Q643.2,214.7 643.4,213.9Q643.6,213.0 643.3,212.1Q643.1,211.2 643.6,210.6Q644.1,210.1 644.7,209.7Q645.2,209.4 645.8,209.4Q646.4,209.4 646.9,209.9Q647.3,210.3 647.8,210.8Q648.3,211.3 648.4,212.2Z" fill="#3f7d17" filter="url(#s85)"/>
<path d="M717.0,230.4Q715.6,235.8 714.8,240.0Q714.1,244.3 712.4,248.6Q710.7,253.0 706.6,253.0Q702.4,253.0 699.0,253.1Q695.6,253.1 692.7,251.2Q689.8,249.2 685.3,247.6Q680.8,246.0 679.9,240.9Q679.1,235.8 682.3,232.0Q685.6,228.3 687.7,225.3Q689.9,222.4 692.1,217.3Q694.4,212.2 699.0,212.3Q703.6,212.4 706.4,216.7Q709.2,220.9 713.8,222.9Q718.3,224.9 717.0,230.4Z" fill="#f4a52a" filter="url(#s85)"/>
<path d="M611.5,275.6Q616.4,276.9 617.1,281.0Q617.8,285.0 612.1,288.1Q606.4,291.1 603.9,294.2Q601.3,297.2 597.1,300.9Q592.9,304.6 587.2,305.0Q581.4,305.4 580.1,300.9Q578.8,296.4 572.9,295.7Q566.9,294.9 569.5,290.6Q572.0,286.2 572.3,282.1Q572.5,278.1 577.7,275.9Q582.8,273.7 587.3,270.3Q591.7,266.9 597.2,266.8Q602.8,266.7 604.7,270.5Q606.6,274.3 611.5,275.6Z" fill="#d8192c" filter="url(#s85)"/>
<path d="M677.6,261.8Q679.8,265.2 678.4,269.0Q676.9,272.8 675.9,276.1Q674.8,279.4 672.6,282.1Q670.3,284.8 667.1,285.4Q663.8,286.1 660.7,284.5Q657.6,282.9 656.0,279.5Q654.4,276.2 653.1,273.2Q651.7,270.2 650.4,266.3Q649.1,262.5 650.1,258.4Q651.2,254.4 655.1,254.5Q659.0,254.6 661.6,254.3Q664.2,253.9 667.0,254.1Q669.9,254.2 672.6,256.3Q675.3,258.4 677.6,261.8Z" fill="#d8192c" filter="url(#s85)"/>
<path d="M680.0,293.7Q679.6,296.7 679.5,300.2Q679.4,303.7 677.7,307.2Q676.0,310.7 673.0,310.0Q669.9,309.4 667.6,308.8Q665.3,308.2 663.9,305.9Q662.5,303.7 661.4,301.4Q660.3,299.0 658.8,295.9Q657.3,292.8 659.1,289.7Q660.9,286.6 663.3,285.2Q665.8,283.9 667.9,281.6Q670.1,279.4 672.8,279.4Q675.6,279.4 677.7,281.5Q679.8,283.7 680.1,287.2Q680.4,290.7 680.0,293.7Z" fill="#d8192c" filter="url(#s85)"/>
<path d="M639.6,318.7Q640.0,324.0 638.4,328.4Q636.9,332.7 635.1,335.9Q633.3,339.1 631.0,340.7Q628.7,342.3 625.9,345.2Q623.1,348.2 619.9,346.5Q616.6,344.8 616.1,338.8Q615.7,332.8 615.4,328.4Q615.1,324.0 613.0,317.7Q611.0,311.3 613.4,306.5Q615.9,301.6 619.3,299.3Q622.7,297.0 626.2,297.7Q629.7,298.4 632.1,302.4Q634.5,306.4 636.9,309.9Q639.2,313.3 639.6,318.7Z" fill="#9bdc66" filter="url(#s45)"/>
<path d="M800.1,149.0Q799.8,149.7 799.7,150.2Q799.6,150.7 799.4,151.3Q799.2,151.8 798.8,152.4Q798.4,153.1 797.8,152.9Q797.2,152.7 796.9,152.1Q796.5,151.6 796.2,151.2Q795.8,150.9 795.7,150.3Q795.6,149.7 795.4,149.0Q795.2,148.2 795.8,147.9Q796.3,147.5 796.8,147.4Q797.3,147.3 797.9,146.8Q798.4,146.4 798.8,147.0Q799.1,147.7 799.7,148.0Q800.3,148.3 800.1,149.0Z" fill="#a31cc6" filter="url(#s85)"/>
<path d="M850.6,137.5Q848.4,143.9 847.6,151.3Q846.8,158.7 843.2,165.4Q839.7,172.1 835.8,170.6Q831.9,169.1 829.2,167.6Q826.4,166.0 823.7,163.7Q821.1,161.5 819.4,156.4Q817.7,151.3 819.4,143.9Q821.2,136.5 823.6,129.8Q826.1,123.1 829.6,117.2Q833.2,111.4 836.7,112.9Q840.3,114.4 843.9,113.3Q847.4,112.1 851.3,113.5Q855.1,114.8 854.0,123.0Q852.8,131.1 850.6,137.5Z" fill="#d8192c" filter="url(#s85)"/>
<path d="M890.1,136.0Q892.5,141.7 893.2,147.9Q893.8,154.0 894.8,161.1Q895.8,168.2 894.4,173.7Q893.1,179.1 889.4,178.5Q885.8,177.9 882.1,175.4Q878.5,173.0 874.8,168.3Q871.1,163.5 869.6,155.9Q868.0,148.3 867.1,142.0Q866.2,135.6 865.2,128.2Q864.1,120.7 866.3,117.1Q868.5,113.6 872.3,116.8Q876.1,120.0 878.9,121.5Q881.7,123.0 884.7,126.6Q887.6,130.2 890.1,136.0Z" fill="#f7e51c" filter="url(#s85)"/>
<path d="M949.5,168.9Q949.0,171.4 948.4,174.2Q947.9,176.9 944.5,176.9Q941.2,176.9 938.5,178.5Q935.8,180.1 933.0,178.4Q930.2,176.7 926.7,175.4Q923.2,174.0 923.0,170.8Q922.9,167.6 924.2,165.2Q925.4,162.8 925.2,159.4Q924.9,156.0 928.4,155.4Q931.8,154.7 934.9,155.5Q938.0,156.2 941.5,155.8Q945.1,155.4 946.6,158.4Q948.1,161.3 949.0,163.9Q950.0,166.4 949.5,168.9Z" fill="#3f7d17" filter="url(#s85)"/>
<path d="M786.3,226.7Q785.6,231.3 786.2,235.8Q786.8,240.4 784.7,244.5Q782.6,248.5 779.2,251.5Q775.8,254.4 772.0,251.7Q768.2,249.0 763.7,249.7Q759.1,250.4 756.7,246.0Q754.2,241.6 753.7,236.5Q753.2,231.3 756.3,227.7Q759.4,224.1 760.3,219.7Q761.2,215.4 764.6,213.6Q767.9,211.9 771.3,212.8Q774.8,213.6 779.4,212.7Q784.1,211.8 785.5,216.9Q786.9,222.1 786.3,226.7Z" fill="#3f7d17" filter="url(#s85)"/>
<path d="M813.7,213.6Q814.3,217.7 814.6,223.0Q814.8,228.3 813.6,232.0Q812.4,235.7 810.8,236.5Q809.2,237.2 807.7,239.1Q806.1,241.0 805.0,237.2Q803.8,233.5 803.3,229.4Q802.7,225.4 802.3,221.5Q801.9,217.7 801.5,212.6Q801.0,207.5 802.0,203.1Q803.0,198.8 804.6,196.8Q806.1,194.9 807.8,194.9Q809.5,194.9 810.7,198.2Q811.9,201.5 812.5,205.6Q813.2,209.6 813.7,213.6Z" fill="#9bdc66" filter="url(#s45)"/>
<path d="M844.5,242.5Q843.8,247.0 844.8,251.7Q845.8,256.5 844.1,260.8Q842.3,265.1 838.8,264.7Q835.3,264.4 832.3,267.0Q829.2,269.7 827.2,265.4Q825.2,261.1 821.4,259.5Q817.5,258.0 816.7,252.5Q816.0,247.0 819.2,243.3Q822.5,239.6 822.9,234.4Q823.3,229.2 826.7,229.8Q830.2,230.4 833.0,228.2Q835.9,226.0 839.3,227.0Q842.8,228.0 844.0,233.0Q845.3,237.9 844.5,242.5Z" fill="#f4a52a" filter="url(#s85)"/>
<path d="M893.9,236.8Q894.9,242.0 893.9,247.2Q893.0,252.3 890.2,256.8Q887.5,261.3 883.1,264.3Q878.7,267.3 873.6,266.6Q868.5,265.9 864.0,263.7Q859.4,261.5 855.8,257.4Q852.3,253.2 854.4,247.6Q856.4,242.0 857.3,238.0Q858.3,233.9 858.3,227.5Q858.3,221.1 863.8,221.2Q869.2,221.4 873.8,220.2Q878.3,218.9 882.2,221.7Q886.2,224.5 889.6,228.1Q893.0,231.7 893.9,236.8Z" fill="#d8192c" filter="url(#s85)"/>
<path d="M905.5,309.6Q904.8,317.5 905.4,325.3Q906.0,333.2 901.8,339.2Q897.7,345.2 891.4,344.8Q885.1,344.4 880.2,344.8Q875.3,345.2 868.5,346.1Q861.7,347.0 856.8,340.9Q852.0,334.8 851.4,326.2Q850.9,317.5 851.5,308.9Q852.0,300.2 858.0,295.8Q863.9,291.4 869.0,287.4Q874.2,283.5 880.1,284.7Q886.0,285.8 890.9,289.3Q895.9,292.7 901.0,297.2Q906.2,301.7 905.5,309.6Z" fill="#3d63e3" filter="url(#s85)"/>
<path d="M1110.3,106.0Q1110.9,106.6 1109.8,107.2Q1108.7,107.7 1107.7,108.1Q1106.6,108.5 1105.3,108.8Q1104.0,109.0 1102.5,109.0Q1101.1,108.9 1099.2,109.0Q1097.3,109.0 1095.7,108.6Q1094.0,108.1 1094.1,107.4Q1094.2,106.6 1095.4,106.1Q1096.6,105.5 1097.1,104.9Q1097.6,104.3 1099.0,103.7Q1100.4,103.1 1102.4,103.3Q1104.4,103.6 1106.3,103.7Q1108.2,103.9 1108.9,104.6Q1109.7,105.3 1110.3,106.0Z" fill="#d8192c" filter="url(#s95)"/>
<path d="M1069.8,155.5Q1069.7,159.0 1068.6,162.4Q1067.6,165.8 1066.4,170.2Q1065.3,174.5 1063.3,176.2Q1061.3,177.8 1060.0,175.6Q1058.7,173.5 1057.4,172.3Q1056.0,171.2 1056.0,167.5Q1056.0,163.8 1056.4,160.2Q1056.8,156.7 1057.0,152.2Q1057.2,147.7 1059.2,146.1Q1061.2,144.5 1063.0,140.0Q1064.9,135.5 1066.6,136.7Q1068.4,137.9 1070.1,139.5Q1071.7,141.2 1070.8,146.6Q1069.8,152.0 1069.8,155.5Z" fill="#d8192c" filter="url(#s95)"/>
<path d="M1198.0,194.8Q1199.1,202.8 1190.2,205.4Q1181.4,208.0 1176.6,211.0Q1171.9,214.0 1165.8,218.3Q1159.7,222.5 1155.0,216.8Q1150.2,211.1 1145.0,207.8Q1139.9,204.6 1134.6,199.0Q1129.3,193.5 1132.4,186.6Q1135.5,179.7 1140.4,175.4Q1145.4,171.1 1149.7,166.0Q1154.0,160.9 1160.5,162.6Q1167.0,164.4 1172.5,166.1Q1178.1,167.9 1182.8,171.7Q1187.5,175.5 1192.3,181.1Q1197.0,186.7 1198.0,194.8Z" fill="#d8192c" filter="url(#s95)"/>
<path d="M1026.6,221.3Q1027.5,226.8 1023.3,230.7Q1019.1,234.6 1018.8,240.6Q1018.6,246.6 1013.2,247.7Q1007.8,248.8 1003.2,247.0Q998.6,245.2 993.9,244.6Q989.1,243.9 986.7,239.8Q984.3,235.7 981.2,231.3Q978.1,226.8 981.6,222.6Q985.2,218.3 986.5,213.2Q987.9,208.1 993.2,208.1Q998.5,208.0 1003.0,207.4Q1007.4,206.7 1013.4,206.4Q1019.4,206.0 1022.6,210.9Q1025.7,215.8 1026.6,221.3Z" fill="#f4a52a" filter="url(#s95)"/>
<path d="M1111.5,222.2Q1115.1,224.2 1114.5,228.1Q1113.9,232.0 1112.3,235.3Q1110.6,238.7 1107.8,241.7Q1105.1,244.6 1101.2,247.8Q1097.4,250.9 1093.1,249.0Q1088.8,247.2 1084.9,245.9Q1081.0,244.5 1078.8,241.4Q1076.5,238.3 1074.9,234.4Q1073.3,230.5 1075.7,226.5Q1078.2,222.5 1081.4,219.0Q1084.5,215.5 1089.3,214.2Q1094.2,213.0 1098.8,213.2Q1103.5,213.4 1105.7,216.8Q1108.0,220.2 1111.5,222.2Z" fill="#3d63e3" filter="url(#s95)"/>
<path d="M1079.1,275.7Q1079.5,276.8 1078.5,277.3Q1077.5,277.9 1076.6,278.5Q1075.7,279.1 1074.3,279.0Q1072.9,278.9 1071.6,278.4Q1070.2,277.9 1069.0,277.1Q1067.8,276.3 1067.7,275.2Q1067.7,274.2 1067.1,273.1Q1066.4,272.0 1067.2,271.3Q1068.0,270.5 1069.3,270.3Q1070.5,270.1 1071.8,270.0Q1073.1,269.9 1074.4,270.5Q1075.7,271.0 1076.4,272.0Q1077.0,273.0 1077.8,273.8Q1078.6,274.6 1079.1,275.7Z" fill="#3f7d17" filter="url(#s95)"/>
<path d="M1027.2,290.6Q1027.5,291.6 1025.9,292.4Q1024.3,293.1 1023.5,293.9Q1022.6,294.7 1020.4,294.8Q1018.2,294.8 1016.1,295.3Q1014.0,295.8 1011.6,295.5Q1009.1,295.3 1009.1,294.1Q1009.0,293.0 1007.4,292.3Q1005.9,291.6 1006.2,290.6Q1006.5,289.7 1008.0,288.9Q1009.6,288.2 1011.7,287.6Q1013.8,287.1 1016.4,287.0Q1019.1,286.9 1020.7,287.8Q1022.3,288.7 1024.5,289.1Q1026.8,289.6 1027.2,290.6Z" fill="#9bdc66" filter="url(#s95)"/>
<path d="M1081.1,326.8Q1081.7,331.0 1080.1,334.7Q1078.5,338.4 1076.8,342.1Q1075.1,345.9 1071.2,346.0Q1067.2,346.1 1064.1,345.6Q1061.0,345.1 1057.2,345.2Q1053.4,345.2 1051.1,342.0Q1048.8,338.8 1047.0,334.9Q1045.1,331.0 1046.8,327.0Q1048.5,323.1 1052.0,321.4Q1055.6,319.8 1057.9,316.7Q1060.3,313.7 1063.6,315.5Q1067.0,317.2 1069.7,318.4Q1072.5,319.7 1076.5,321.1Q1080.5,322.5 1081.1,326.8Z" fill="#9bdc66" filter="url(#s85)"/>
<path d="M1180.1,273.2Q1179.8,280.9 1184.1,285.8Q1188.3,290.8 1183.7,297.2Q1179.1,303.6 1175.3,310.8Q1171.5,318.1 1162.7,322.1Q1154.0,326.1 1144.0,329.2Q1133.9,332.4 1129.6,325.5Q1125.3,318.6 1115.3,317.2Q1105.2,315.7 1106.0,307.5Q1106.7,299.4 1113.3,292.5Q1119.9,285.7 1124.5,279.0Q1129.2,272.2 1137.4,266.2Q1145.6,260.2 1155.8,258.8Q1166.0,257.4 1173.1,261.5Q1180.3,265.6 1180.1,273.2Z" fill="#3f7d17" filter="url(#s95)"/>
<path d="M1203.2,249.5Q1203.6,250.0 1204.0,250.8Q1204.4,251.6 1203.2,251.8Q1202.1,251.9 1201.4,252.1Q1200.7,252.3 1199.9,252.7Q1199.0,253.2 1198.4,252.6Q1197.8,252.1 1196.7,251.8Q1195.7,251.6 1196.1,250.8Q1196.6,250.0 1196.5,249.4Q1196.4,248.7 1197.1,248.3Q1197.7,247.8 1198.3,247.2Q1198.9,246.5 1199.9,246.7Q1200.9,247.0 1201.5,247.5Q1202.1,248.0 1202.5,248.5Q1202.8,249.0 1203.2,249.5Z" fill="#3f7d17" filter="url(#s95)"/>
<path d="M980.6,303.4Q980.3,303.9 980.3,304.3Q980.2,304.6 980.0,304.9Q979.7,305.2 979.4,305.5Q979.1,305.8 978.7,305.8Q978.3,305.7 977.9,305.6Q977.4,305.5 977.0,305.2Q976.6,304.9 976.5,304.4Q976.4,303.9 976.7,303.5Q977.1,303.1 977.3,302.8Q977.6,302.5 977.9,302.2Q978.2,301.9 978.7,301.7Q979.2,301.6 979.6,301.9Q980.0,302.2 980.4,302.5Q980.8,302.9 980.6,303.4Z" fill="#a31cc6" filter="url(#s95)"/>
<path d="M1274.4,115.8Q1275.8,118.8 1274.6,122.3Q1273.4,125.9 1272.0,128.2Q1270.5,130.5 1268.9,131.0Q1267.3,131.5 1265.2,134.6Q1263.1,137.7 1261.5,135.3Q1259.9,132.9 1259.1,129.1Q1258.4,125.4 1258.3,121.3Q1258.2,117.2 1260.0,114.4Q1261.8,111.7 1262.9,109.4Q1264.0,107.1 1265.3,103.4Q1266.6,99.8 1268.3,101.5Q1269.9,103.3 1271.8,103.7Q1273.7,104.1 1273.4,108.4Q1273.1,112.8 1274.4,115.8Z" fill="#d8192c" filter="url(#s85)"/>
<path d="M1321.6,127.5Q1321.5,129.0 1321.5,130.3Q1321.4,131.7 1321.2,132.7Q1321.0,133.8 1320.7,134.5Q1320.4,135.2 1320.0,134.6Q1319.7,134.1 1319.4,133.6Q1319.2,133.2 1318.9,132.5Q1318.6,131.7 1318.6,130.4Q1318.7,129.0 1318.7,127.7Q1318.7,126.4 1318.9,125.8Q1319.2,125.1 1319.4,123.7Q1319.6,122.3 1320.0,122.4Q1320.4,122.4 1320.6,123.4Q1320.9,124.4 1321.2,125.2Q1321.6,126.0 1321.6,127.5Z" fill="#f4a52a" filter="url(#s85)"/>
<path d="M1307.8,135.4Q1307.8,136.0 1307.8,136.5Q1307.7,137.1 1307.7,137.8Q1307.6,138.6 1307.3,138.7Q1306.9,138.8 1306.6,138.9Q1306.3,139.0 1306.0,138.6Q1305.7,138.3 1305.3,137.9Q1305.0,137.6 1304.9,136.8Q1304.9,136.0 1304.9,135.2Q1305.0,134.5 1305.3,133.9Q1305.6,133.4 1305.9,133.2Q1306.3,133.1 1306.6,132.9Q1307.0,132.7 1307.3,133.2Q1307.5,133.6 1307.7,134.2Q1307.8,134.8 1307.8,135.4Z" fill="#a31cc6" filter="url(#s85)"/>
<path d="M1374.5,188.5Q1374.8,199.4 1369.2,207.3Q1363.7,215.1 1360.9,227.1Q1358.2,239.1 1352.4,240.1Q1346.7,241.1 1343.0,235.9Q1339.3,230.8 1333.4,231.4Q1327.5,232.1 1327.4,221.5Q1327.2,210.9 1325.4,200.6Q1323.7,190.4 1329.1,181.7Q1334.5,173.1 1339.2,169.0Q1343.9,164.8 1348.1,160.1Q1352.3,155.3 1357.6,152.7Q1362.8,150.0 1364.3,159.0Q1365.9,168.0 1370.1,172.8Q1374.3,177.7 1374.5,188.5Z" fill="#3f7d17" filter="url(#s85)"/>
<path d="M1426.7,150.3Q1430.5,156.7 1428.9,164.0Q1427.3,171.2 1426.7,178.7Q1426.0,186.2 1420.8,187.3Q1415.5,188.3 1411.2,189.1Q1407.0,189.8 1402.2,189.1Q1397.4,188.3 1391.1,185.8Q1384.8,183.2 1384.0,174.1Q1383.2,165.1 1382.9,157.3Q1382.5,149.5 1385.6,143.9Q1388.6,138.4 1392.8,135.8Q1396.9,133.1 1401.2,129.0Q1405.5,124.9 1411.7,125.1Q1417.9,125.3 1420.4,134.6Q1423.0,143.8 1426.7,150.3Z" fill="#3d63e3" filter="url(#s85)"/>
<path d="M1306.2,232.8Q1305.0,235.7 1303.8,238.4Q1302.7,241.2 1299.7,241.8Q1296.7,242.3 1294.1,242.5Q1291.6,242.7 1289.4,241.5Q1287.3,240.2 1283.9,239.5Q1280.6,238.9 1280.2,235.8Q1279.8,232.6 1281.5,230.2Q1283.2,227.7 1283.0,224.3Q1282.8,220.9 1285.8,219.9Q1288.8,218.8 1291.6,219.5Q1294.4,220.2 1296.7,221.1Q1299.0,222.0 1300.4,223.9Q1301.9,225.9 1304.7,227.9Q1307.4,229.9 1306.2,232.8Z" fill="#d8192c" filter="url(#s85)"/>
<path d="M1374.6,263.7Q1376.5,267.6 1375.0,271.8Q1373.4,276.0 1371.1,277.7Q1368.7,279.4 1367.3,282.8Q1365.8,286.2 1363.2,287.1Q1360.6,287.9 1358.7,284.9Q1356.7,281.9 1355.3,278.7Q1353.8,275.5 1352.1,271.5Q1350.3,267.6 1352.7,264.2Q1355.0,260.7 1356.2,257.8Q1357.4,254.8 1359.2,252.3Q1360.9,249.7 1363.4,249.2Q1365.8,248.7 1368.0,250.6Q1370.3,252.5 1371.4,256.2Q1372.6,259.8 1374.6,263.7Z" fill="#3d63e3" filter="url(#s85)"/>
<path d="M1414.2,248.2Q1413.5,250.3 1413.9,252.2Q1414.4,254.1 1413.2,254.7Q1411.9,255.2 1411.3,256.7Q1410.6,258.2 1409.6,257.7Q1408.5,257.2 1407.7,256.4Q1406.9,255.6 1406.2,254.5Q1405.6,253.3 1405.2,251.8Q1404.9,250.3 1404.7,248.4Q1404.5,246.5 1405.7,245.7Q1406.8,244.9 1407.7,244.5Q1408.6,244.1 1409.6,243.6Q1410.5,243.0 1411.6,243.4Q1412.7,243.9 1413.8,245.0Q1414.9,246.1 1414.2,248.2Z" fill="#9bdc66" filter="url(#s85)"/>
<path d="M1443.7,284.8Q1443.8,286.6 1444.0,288.6Q1444.2,290.6 1443.2,292.0Q1442.1,293.4 1440.8,294.2Q1439.4,295.0 1438.1,294.2Q1436.8,293.5 1435.3,293.6Q1433.7,293.8 1432.6,292.3Q1431.5,290.8 1432.0,288.7Q1432.6,286.6 1433.1,285.2Q1433.7,283.8 1433.9,282.0Q1434.1,280.1 1435.5,280.0Q1436.9,279.9 1438.2,278.6Q1439.6,277.2 1440.6,278.9Q1441.6,280.6 1442.6,281.8Q1443.5,283.0 1443.7,284.8Z" fill="#3f7d17" filter="url(#s85)"/>
<path d="M1382.1,331.8Q1382.2,335.6 1381.9,339.2Q1381.6,342.8 1381.0,346.8Q1380.3,350.8 1378.4,352.1Q1376.5,353.4 1374.5,354.1Q1372.5,354.8 1370.7,352.7Q1368.9,350.7 1367.7,347.3Q1366.5,343.9 1366.0,339.8Q1365.5,335.6 1366.8,332.2Q1368.0,328.8 1368.3,324.1Q1368.5,319.4 1370.8,320.3Q1373.1,321.2 1374.6,321.6Q1376.1,322.0 1377.6,322.9Q1379.0,323.8 1380.5,325.9Q1382.0,328.0 1382.1,331.8Z" fill="#9bdc66" filter="url(#s85)"/>
<path d="M1561.2,98.2Q1561.6,98.9 1561.0,99.5Q1560.4,100.0 1560.0,100.5Q1559.7,101.1 1559.2,101.3Q1558.6,101.6 1557.9,101.9Q1557.3,102.1 1556.9,101.4Q1556.5,100.8 1555.8,100.5Q1555.2,100.2 1555.4,99.6Q1555.6,98.9 1555.2,98.1Q1554.8,97.3 1555.4,96.9Q1556.1,96.5 1556.7,96.0Q1557.2,95.5 1558.0,95.6Q1558.7,95.6 1559.3,96.1Q1559.9,96.5 1560.3,97.1Q1560.7,97.6 1561.2,98.2Z" fill="#d8192c" filter="url(#s85)"/>
<path d="M1553.9,139.6Q1553.5,143.2 1552.4,146.4Q1551.2,149.6 1549.4,152.1Q1547.6,154.5 1545.5,154.5Q1543.4,154.4 1541.5,154.4Q1539.6,154.3 1537.6,153.4Q1535.6,152.5 1533.8,150.1Q1532.0,147.6 1533.1,143.7Q1534.2,139.8 1536.0,137.4Q1537.8,134.9 1538.6,130.7Q1539.3,126.4 1541.9,125.1Q1544.4,123.9 1546.3,126.0Q1548.2,128.2 1550.8,128.3Q1553.4,128.5 1553.9,132.3Q1554.3,136.0 1553.9,139.6Z" fill="#f4a52a" filter="url(#s85)"/>
<path d="M1512.6,201.5Q1512.6,203.2 1512.3,204.7Q1512.0,206.2 1511.4,207.4Q1510.8,208.5 1510.1,209.4Q1509.3,210.3 1508.3,210.9Q1507.3,211.5 1506.7,209.9Q1506.0,208.4 1505.3,207.4Q1504.6,206.4 1504.6,204.8Q1504.6,203.2 1504.8,201.8Q1505.1,200.4 1505.5,199.1Q1505.9,197.7 1506.8,197.4Q1507.6,197.1 1508.4,196.8Q1509.3,196.5 1510.0,197.2Q1510.8,197.9 1511.7,198.8Q1512.5,199.7 1512.6,201.5Z" fill="#3d63e3" filter="url(#s85)"/>
<path d="M1528.7,234.5Q1528.7,235.8 1528.4,236.8Q1528.2,237.8 1528.0,238.8Q1527.8,239.8 1527.3,239.7Q1526.9,239.7 1526.5,239.9Q1526.1,240.1 1525.6,240.1Q1525.1,240.1 1524.9,239.0Q1524.7,237.9 1524.8,236.9Q1524.9,235.8 1524.7,234.5Q1524.4,233.2 1524.9,233.0Q1525.5,232.7 1525.8,232.0Q1526.1,231.2 1526.5,231.5Q1526.9,231.7 1527.3,231.9Q1527.7,232.0 1528.2,232.6Q1528.7,233.2 1528.7,234.5Z" fill="#d8192c" filter="url(#s85)"/>
<path d="M1585.0,225.6Q1584.7,229.0 1584.9,232.3Q1585.1,235.7 1583.6,238.3Q1582.1,241.0 1579.7,240.5Q1577.2,239.9 1575.2,241.7Q1573.2,243.5 1571.7,241.1Q1570.1,238.7 1569.6,236.1Q1569.1,233.4 1567.3,231.2Q1565.4,229.0 1566.1,226.0Q1566.8,222.9 1568.2,220.6Q1569.6,218.3 1571.4,216.6Q1573.3,215.0 1575.2,216.8Q1577.1,218.6 1579.1,218.8Q1581.0,219.1 1583.1,220.6Q1585.3,222.2 1585.0,225.6Z" fill="#3f7d17" filter="url(#s85)"/>
<path d="M1644.5,213.9Q1642.9,218.4 1641.3,223.0Q1639.7,227.5 1636.1,230.3Q1632.6,233.1 1629.1,231.1Q1625.7,229.2 1622.4,229.4Q1619.1,229.7 1617.7,226.4Q1616.2,223.1 1614.8,219.8Q1613.5,216.5 1613.0,211.9Q1612.6,207.4 1616.0,204.3Q1619.4,201.3 1622.0,197.3Q1624.6,193.4 1628.6,192.0Q1632.6,190.7 1636.4,191.9Q1640.1,193.1 1643.5,195.8Q1646.9,198.5 1646.4,204.0Q1646.0,209.4 1644.5,213.9Z" fill="#3f7d17" filter="url(#s85)"/>
<path d="M1687.8,185.5Q1685.2,194.8 1682.4,203.5Q1679.6,212.2 1675.1,214.4Q1670.6,216.7 1667.0,220.6Q1663.3,224.4 1659.7,224.7Q1656.2,224.9 1652.1,223.6Q1648.0,222.2 1649.3,212.5Q1650.7,202.8 1653.2,194.9Q1655.7,186.9 1656.5,176.9Q1657.4,166.8 1662.4,166.0Q1667.4,165.2 1671.7,156.8Q1676.1,148.4 1680.0,149.3Q1684.0,150.3 1683.9,159.2Q1683.8,168.2 1687.1,172.2Q1690.4,176.2 1687.8,185.5Z" fill="#3f7d17" filter="url(#s85)"/>
<path d="M1681.3,256.6Q1682.9,260.8 1681.6,265.2Q1680.3,269.7 1679.0,274.1Q1677.8,278.5 1675.2,282.0Q1672.7,285.5 1669.9,282.2Q1667.0,278.8 1664.4,277.8Q1661.9,276.7 1658.6,274.5Q1655.4,272.2 1656.4,266.5Q1657.5,260.8 1658.6,256.8Q1659.7,252.9 1661.1,249.5Q1662.4,246.0 1664.6,243.8Q1666.8,241.6 1669.3,242.2Q1671.8,242.8 1675.4,241.7Q1679.0,240.5 1679.3,246.5Q1679.6,252.5 1681.3,256.6Z" fill="#3f7d17" filter="url(#s85)"/>
<path d="M1621.9,281.9Q1625.1,285.7 1625.5,291.1Q1626.0,296.6 1619.7,298.0Q1613.4,299.5 1610.0,302.9Q1606.5,306.3 1601.0,307.8Q1595.5,309.4 1589.8,307.5Q1584.1,305.5 1579.8,301.3Q1575.5,297.1 1578.9,291.4Q1582.2,285.7 1578.7,279.9Q1575.1,274.1 1582.1,272.8Q1589.0,271.5 1593.1,270.2Q1597.2,268.9 1602.5,264.5Q1607.8,260.1 1613.2,262.9Q1618.7,265.8 1618.7,271.9Q1618.6,278.1 1621.9,281.9Z" fill="#9bdc66" filter="url(#s85)"/>
<path d="M1498.1,271.2Q1498.2,272.0 1498.1,272.8Q1498.0,273.5 1497.6,274.2Q1497.2,275.0 1496.4,275.3Q1495.6,275.7 1494.8,275.7Q1493.9,275.8 1493.1,275.5Q1492.2,275.3 1491.6,274.5Q1491.0,273.8 1491.1,272.9Q1491.2,272.0 1490.9,271.0Q1490.6,270.0 1491.5,269.5Q1492.4,269.0 1493.2,268.9Q1494.1,268.9 1494.9,268.6Q1495.7,268.3 1496.4,268.7Q1497.1,269.1 1497.6,269.8Q1498.0,270.5 1498.1,271.2Z" fill="#3f7d17" filter="url(#s85)"/>
<path d="M1641.4,343.6Q1641.6,344.7 1641.2,345.7Q1640.8,346.6 1640.6,347.9Q1640.4,349.2 1639.4,348.8Q1638.3,348.5 1637.6,348.8Q1636.8,349.0 1636.0,348.8Q1635.2,348.5 1634.9,347.5Q1634.7,346.4 1633.8,345.6Q1633.0,344.7 1633.9,343.8Q1634.8,343.0 1635.0,341.9Q1635.1,340.8 1636.0,340.6Q1636.8,340.5 1637.6,340.7Q1638.3,340.9 1639.0,341.2Q1639.6,341.5 1640.4,342.0Q1641.1,342.6 1641.4,343.6Z" fill="#9bdc66" filter="url(#s85)"/>
<path d="M1798.0,116.1Q1798.4,118.0 1797.5,119.7Q1796.5,121.3 1796.3,123.8Q1796.2,126.3 1793.9,126.6Q1791.7,127.0 1789.4,127.7Q1787.2,128.4 1785.5,126.9Q1783.7,125.4 1783.2,123.4Q1782.7,121.3 1781.3,119.7Q1779.9,118.0 1780.4,115.9Q1781.0,113.8 1783.0,113.0Q1785.0,112.3 1786.2,110.1Q1787.3,108.0 1789.6,108.0Q1791.9,108.0 1793.7,109.3Q1795.5,110.6 1796.5,112.4Q1797.5,114.2 1798.0,116.1Z" fill="#3d63e3" filter="url(#s95)"/>
<path d="M1889.0,127.4Q1889.1,129.3 1889.1,131.3Q1889.2,133.3 1888.2,134.6Q1887.3,135.8 1886.3,137.1Q1885.3,138.4 1884.1,137.7Q1882.9,137.0 1881.9,136.3Q1880.9,135.6 1880.3,134.1Q1879.7,132.6 1879.5,130.9Q1879.3,129.3 1879.4,127.6Q1879.6,125.9 1880.4,124.8Q1881.2,123.8 1882.0,122.0Q1882.7,120.1 1883.8,121.6Q1884.9,123.1 1886.2,122.8Q1887.4,122.4 1888.2,124.0Q1888.9,125.5 1889.0,127.4Z" fill="#3f7d17" filter="url(#s95)"/>
<path d="M1796.5,162.8Q1797.7,163.3 1797.2,163.9Q1796.7,164.6 1795.1,164.9Q1793.5,165.1 1792.4,165.6Q1791.2,166.0 1789.5,166.2Q1787.8,166.3 1786.0,166.1Q1784.3,165.8 1783.5,165.2Q1782.7,164.6 1781.8,163.9Q1780.9,163.3 1782.3,162.8Q1783.6,162.2 1783.9,161.5Q1784.1,160.7 1785.9,160.4Q1787.6,160.1 1789.4,160.4Q1791.1,160.8 1793.0,160.8Q1794.9,160.8 1795.1,161.5Q1795.3,162.3 1796.5,162.8Z" fill="#9bdc66" filter="url(#s95)"/>
<path d="M1763.4,187.3Q1765.5,189.5 1766.2,192.6Q1766.9,195.8 1765.4,199.4Q1763.8,202.9 1758.7,203.6Q1753.5,204.2 1749.2,207.5Q1745.0,210.7 1741.8,207.3Q1738.6,203.9 1734.7,202.9Q1730.8,201.9 1729.7,199.0Q1728.6,196.0 1730.3,193.1Q1732.0,190.3 1732.5,187.0Q1733.0,183.7 1736.8,181.7Q1740.6,179.7 1745.1,177.7Q1749.7,175.7 1753.0,178.5Q1756.3,181.3 1758.8,183.2Q1761.3,185.0 1763.4,187.3Z" fill="#f4a52a" filter="url(#s95)"/>
<path d="M1908.0,165.9Q1914.2,170.3 1915.2,177.7Q1916.1,185.1 1910.6,192.4Q1905.1,199.7 1896.5,203.4Q1888.0,207.1 1881.6,211.7Q1875.2,216.3 1865.9,220.6Q1856.7,224.9 1850.0,221.1Q1843.4,217.2 1842.5,210.7Q1841.5,204.2 1841.2,198.8Q1841.0,193.5 1837.7,186.3Q1834.5,179.0 1842.8,173.3Q1851.1,167.6 1859.8,164.8Q1868.6,161.9 1878.0,158.4Q1887.4,155.0 1894.6,158.3Q1901.9,161.5 1908.0,165.9Z" fill="#3f7d17" filter="url(#s95)"/>
<path d="M1892.6,215.0Q1897.2,219.7 1896.2,225.8Q1895.3,231.8 1888.7,237.3Q1882.2,242.7 1873.4,246.8Q1864.6,250.8 1854.4,252.5Q1844.2,254.2 1837.7,250.4Q1831.2,246.5 1821.6,246.0Q1812.0,245.6 1811.9,240.2Q1811.8,234.7 1813.5,229.9Q1815.2,225.1 1816.6,219.2Q1818.0,213.4 1828.8,212.5Q1839.5,211.6 1846.9,209.9Q1854.4,208.3 1863.4,207.1Q1872.3,206.0 1880.2,208.2Q1888.0,210.4 1892.6,215.0Z" fill="#3f7d17" filter="url(#s95)"/>
<path d="M1917.6,164.3Q1920.8,166.0 1918.5,170.1Q1916.2,174.3 1916.0,177.3Q1915.8,180.4 1912.8,183.4Q1909.9,186.4 1906.3,189.5Q1902.7,192.7 1898.8,191.8Q1894.9,190.9 1889.3,193.2Q1883.7,195.5 1882.2,192.3Q1880.8,189.1 1878.9,186.2Q1877.0,183.3 1880.1,179.4Q1883.1,175.4 1885.6,171.7Q1888.1,167.9 1892.6,165.1Q1897.2,162.4 1901.6,162.6Q1906.0,162.8 1910.1,162.7Q1914.3,162.6 1917.6,164.3Z" fill="#3f7d17" filter="url(#s95)"/>
<path d="M1767.0,247.6Q1770.3,249.4 1771.1,253.5Q1771.8,257.6 1771.1,261.2Q1770.3,264.8 1767.7,265.9Q1765.0,267.0 1762.7,267.2Q1760.4,267.4 1758.1,266.9Q1755.8,266.3 1753.4,264.9Q1751.0,263.4 1748.3,260.9Q1745.7,258.4 1744.5,254.4Q1743.3,250.3 1745.9,248.2Q1748.6,246.1 1748.3,241.3Q1748.0,236.5 1751.6,238.6Q1755.3,240.7 1757.8,239.7Q1760.3,238.7 1762.1,242.2Q1763.8,245.7 1767.0,247.6Z" fill="#d8192c" filter="url(#s95)"/>
<path d="M1858.1,309.3Q1854.9,312.2 1857.0,315.8Q1859.2,319.4 1850.8,319.1Q1842.4,318.7 1837.6,320.0Q1832.8,321.3 1825.4,321.6Q1818.0,321.9 1811.3,319.4Q1804.6,316.8 1803.2,313.4Q1801.9,310.0 1799.4,307.0Q1796.9,304.0 1796.7,300.6Q1796.4,297.3 1804.0,296.9Q1811.5,296.5 1817.6,296.8Q1823.8,297.2 1831.1,295.8Q1838.4,294.4 1843.0,297.9Q1847.7,301.3 1854.5,303.9Q1861.3,306.4 1858.1,309.3Z" fill="#d8192c" filter="url(#s95)"/>
<path d="M1949.5,260.5Q1950.7,262.5 1953.2,265.0Q1955.8,267.6 1953.5,270.6Q1951.2,273.7 1945.8,274.2Q1940.3,274.7 1936.2,277.0Q1932.0,279.3 1927.0,279.1Q1922.1,278.8 1921.1,275.6Q1920.2,272.4 1917.4,270.6Q1914.6,268.8 1913.5,265.9Q1912.3,262.9 1917.2,260.9Q1922.0,258.8 1925.1,256.5Q1928.1,254.2 1932.5,254.0Q1936.9,253.8 1942.1,252.8Q1947.2,251.9 1947.8,255.2Q1948.4,258.6 1949.5,260.5Z" fill="#9bdc66" filter="url(#s95)"/>
<path d="M1805.5,273.8Q1805.6,274.4 1805.4,274.9Q1805.2,275.4 1804.9,275.9Q1804.6,276.4 1804.1,276.9Q1803.7,277.4 1803.0,277.5Q1802.3,277.6 1801.5,277.4Q1800.8,277.2 1800.7,276.4Q1800.6,275.6 1800.3,275.0Q1800.0,274.4 1799.9,273.6Q1799.7,272.8 1800.2,272.2Q1800.8,271.6 1801.5,271.4Q1802.3,271.2 1803.0,271.2Q1803.7,271.3 1804.5,271.4Q1805.3,271.5 1805.3,272.4Q1805.3,273.3 1805.5,273.8Z" fill="#d8192c" filter="url(#s95)"/>
<path d="M473.5,388 V407.6 H1969.5 V388" fill="none" stroke="#333" stroke-width="1.3" stroke-dasharray="11.7 7.3"/>
<line x1="624.8" y1="407.6" x2="624.8" y2="428.0" stroke="#333" stroke-width="1.3" stroke-dasharray="6 9.7"/>
<path d="M624.8,437.5 L618.0,425.3 L624.8,428.3 L631.6,425.3 Z" fill="#222"/>
<line x1="925.0" y1="407.6" x2="925.0" y2="428.0" stroke="#333" stroke-width="1.3" stroke-dasharray="6 9.7"/>
<path d="M925.0,437.5 L918.2,425.3 L925.0,428.3 L931.8,425.3 Z" fill="#222"/>
<line x1="1225.0" y1="407.6" x2="1225.0" y2="428.0" stroke="#333" stroke-width="1.3" stroke-dasharray="6 9.7"/>
<path d="M1225.0,437.5 L1218.2,425.3 L1225.0,428.3 L1231.8,425.3 Z" fill="#222"/>
<line x1="1527.0" y1="407.6" x2="1527.0" y2="428.0" stroke="#333" stroke-width="1.3" stroke-dasharray="6 9.7"/>
<path d="M1527.0,437.5 L1520.2,425.3 L1527.0,428.3 L1533.8,425.3 Z" fill="#222"/>
<line x1="1792.0" y1="407.6" x2="1792.0" y2="428.0" stroke="#333" stroke-width="1.3" stroke-dasharray="6 9.7"/>
<path d="M1792.0,437.5 L1785.2,425.3 L1792.0,428.3 L1798.8,425.3 Z" fill="#222"/>
<text x="913.4" y="401.0" font-size="19.43" font-weight="bold" fill="#333" textLength="69.0" lengthAdjust="spacingAndGlyphs">Louvain</text>
<text x="1014.0" y="401.0" font-size="19.43" fill="#3b7de0" textLength="73.0" lengthAdjust="spacingAndGlyphs">Epithelial</text>
<text x="1123.0" y="401.0" font-size="19.43" fill="#e0303c" textLength="86.0" lengthAdjust="spacingAndGlyphs">Endothelial</text>
<text x="1244.0" y="401.0" font-size="19.43" fill="#f2a33a" textLength="60.0" lengthAdjust="spacingAndGlyphs">Stromal</text>
<text x="1334.0" y="401.0" font-size="19.43" fill="#9042b8" textLength="51.0" lengthAdjust="spacingAndGlyphs">Neural</text>
<text x="1416.0" y="401.0" font-size="19.43" fill="#59c45c" textLength="62.0" lengthAdjust="spacingAndGlyphs">Immune</text>
<text x="1512.0" y="401.0" font-size="19.43" fill="#c7d25a" textLength="45.0" lengthAdjust="spacingAndGlyphs">RBCs</text>
<text x="23.0" y="479.0" font-size="39">c</text>
<text x="102.0" y="482.9" font-size="22.57" textLength="251.0" lengthAdjust="spacingAndGlyphs">Ginigval Keratinocyte Diversity</text>
<g transform="translate(0,380) scale(0.272109)">
<clipPath id="clipC"><rect x="222" y="410" width="1235" height="1463"/></clipPath><g clip-path="url(#clipC)">
<rect x="222.0" y="410.0" width="1235.0" height="1463.0" fill="#ffffff"/>
<path d="M222,410 L445,410 C455,700 460,1000 420,1300 C390,1450 340,1560 262,1873 L222,1873 Z" fill="#c8dbed" stroke="#2a4a6a" stroke-width="4"/>
<path d="M230,480 C290,440 350,420 440,370 M230,548 C290,508 350,488 440,438 M230,616 C290,576 350,556 440,506 M230,684 C290,644 350,624 440,574 M230,752 C290,712 350,692 440,642 M230,820 C290,780 350,760 440,710 M230,888 C290,848 350,828 440,778 M230,956 C290,916 350,896 440,846 M230,1024 C290,984 350,964 440,914 M230,1092 C290,1052 350,1032 440,982 M230,1160 C290,1120 350,1100 440,1050 M230,1228 C290,1188 350,1168 440,1118 M230,1296 C290,1256 350,1236 440,1186 M230,1364 C290,1324 350,1304 440,1254 M230,1432 C290,1392 350,1372 440,1322 M230,1500 C290,1460 350,1440 440,1390 M230,1568 C290,1528 350,1508 440,1458 M230,1636 C290,1596 350,1576 440,1526 M230,1704 C290,1664 350,1644 440,1594 M230,1772 C290,1732 350,1712 440,1662 M230,1840 C290,1800 350,1780 440,1730 M230,1908 C290,1868 350,1848 440,1798" fill="none" stroke="#a9c1d6" stroke-width="2.5"/>
<path d="M445,410 L840,410 C800,700 720,1000 600,1230 C520,1380 440,1480 340,1545 C390,1450 420,1350 430,1250 C460,1000 455,700 445,410 Z" fill="#eef6fd" stroke="#2a4a6a" stroke-width="4"/>
<path d="M800,410 L840,410 C800,700 720,1000 600,1230 C520,1380 440,1480 340,1545 C420,1470 500,1360 570,1220 C690,990 760,700 800,410 Z" fill="#d6e9f7"/>
<path d="M340,1545 L262,1873 L292,1873 L345,1580 Z" fill="#b9b1a3"/>
<path d="M340,1545 C420,1490 520,1450 620,1360 C720,1260 820,1120 930,1060 C1000,1030 1080,1030 1140,1080 C1230,1180 1290,1350 1340,1500 C1390,1650 1430,1760 1460,1873 L292,1873 L345,1580 Z" fill="#f7c3c6" stroke="#6a3a3a" stroke-width="3"/>
<linearGradient id="gStroma" x1="0" x2="1" y1="0" y2="0"><stop offset="0" stop-color="#fbdcdc"/><stop offset="0.5" stop-color="#fde9e6"/><stop offset="1" stop-color="#fef5f1"/></linearGradient>
<path d="M345,1575 L433,1508 L539,1483 L645,1444 L716,1352 L787,1338 L837,1253 L886,1338 L936,1324 L957,1189 L990,1380 L1007,1444 L1095,1423 L1127,1494 L1100,1600 L1141,1700 L1141,1841 L1150,1873 L292,1873 Z" fill="url(#gStroma)"/>
<path d="M341,1543 C390,1505 440,1480 539,1444 C600,1420 680,1340 759,1289 C820,1240 880,1120 929,1083 C960,1060 1000,1040 1040,1037 C1080,1037 1100,1050 1106,1062 L1056,1133 L1014,1154 L957,1189 L936,1324 L886,1338 L837,1253 L787,1338 L716,1352 L645,1444 L539,1483 L433,1508 L345,1570 Z" fill="#efb2b8"/>
<path d="M341,1543 C390,1505 440,1480 539,1444 C600,1420 680,1340 759,1289 C820,1240 880,1120 929,1083 C960,1060 1000,1040 1040,1037 C1080,1037 1100,1050 1106,1062 L1056,1133 L1014,1154 L957,1189 L936,1324 L886,1338 L837,1253 L787,1338 L716,1352 L645,1444 L539,1483 L433,1508 L345,1570 Z" fill="#d06a78" filter="url(#s25)"/>
<line x1="964" y1="1182" x2="957" y2="1381" stroke="#e4a6ad" stroke-width="50" stroke-linecap="round"/>
<line x1="964" y1="1182" x2="957" y2="1381" stroke="#fef6f3" stroke-width="36" stroke-linecap="round"/>
<line x1="1081" y1="1143" x2="1007" y2="1444" stroke="#e4a6ad" stroke-width="50" stroke-linecap="round"/>
<line x1="1081" y1="1143" x2="1007" y2="1444" stroke="#fef6f3" stroke-width="36" stroke-linecap="round"/>
<line x1="1141.6" y1="1274" x2="1095" y2="1423" stroke="#e4a6ad" stroke-width="50" stroke-linecap="round"/>
<line x1="1141.6" y1="1274" x2="1095" y2="1423" stroke="#fef6f3" stroke-width="36" stroke-linecap="round"/>
<line x1="1198" y1="1324" x2="1127" y2="1494" stroke="#e4a6ad" stroke-width="50" stroke-linecap="round"/>
<line x1="1198" y1="1324" x2="1127" y2="1494" stroke="#fef6f3" stroke-width="36" stroke-linecap="round"/>
<line x1="1248" y1="1480" x2="1077.6" y2="1628.5" stroke="#e4a6ad" stroke-width="50" stroke-linecap="round"/>
<line x1="1248" y1="1480" x2="1077.6" y2="1628.5" stroke="#fef6f3" stroke-width="36" stroke-linecap="round"/>
<line x1="1283" y1="1614.5" x2="1141.6" y2="1699.5" stroke="#e4a6ad" stroke-width="50" stroke-linecap="round"/>
<line x1="1283" y1="1614.5" x2="1141.6" y2="1699.5" stroke="#fef6f3" stroke-width="36" stroke-linecap="round"/>
<line x1="1325.6" y1="1727" x2="1141.6" y2="1841" stroke="#e4a6ad" stroke-width="50" stroke-linecap="round"/>
<line x1="1325.6" y1="1727" x2="1141.6" y2="1841" stroke="#fef6f3" stroke-width="36" stroke-linecap="round"/>
<line x1="1354" y1="1834" x2="1248" y2="1876" stroke="#e4a6ad" stroke-width="50" stroke-linecap="round"/>
<line x1="1354" y1="1834" x2="1248" y2="1876" stroke="#fef6f3" stroke-width="36" stroke-linecap="round"/>
<circle cx="750" cy="1666" r="6" fill="#f0b070"/><circle cx="750" cy="1796" r="6" fill="#5ab08a"/><circle cx="555" cy="1645" r="6" fill="#d070c0"/><circle cx="641" cy="1460" r="6" fill="#e07aa0"/><circle cx="855" cy="1594" r="6" fill="#f0b070"/><circle cx="897" cy="1691" r="6" fill="#5ab08a"/><circle cx="875" cy="1786" r="6" fill="#e07aa0"/><circle cx="463" cy="1504" r="6" fill="#5ab08a"/><circle cx="858" cy="1762" r="6" fill="#8aa0e0"/><circle cx="742" cy="1791" r="6" fill="#d070c0"/><circle cx="591" cy="1549" r="6" fill="#e07aa0"/><circle cx="904" cy="1621" r="6" fill="#8aa0e0"/><circle cx="717" cy="1663" r="6" fill="#e07aa0"/><circle cx="937" cy="1559" r="6" fill="#5ab08a"/><circle cx="794" cy="1433" r="6" fill="#d070c0"/><circle cx="979" cy="1596" r="6" fill="#8aa0e0"/><circle cx="702" cy="1842" r="6" fill="#e07aa0"/><circle cx="576" cy="1828" r="6" fill="#e07aa0"/><circle cx="763" cy="1851" r="6" fill="#f0b070"/><circle cx="726" cy="1669" r="6" fill="#5ab08a"/><circle cx="988" cy="1539" r="6" fill="#e07aa0"/><circle cx="647" cy="1427" r="6" fill="#f0b070"/><circle cx="600" cy="1464" r="6" fill="#e07aa0"/><circle cx="759" cy="1634" r="6" fill="#d070c0"/><circle cx="558" cy="1644" r="6" fill="#5ab08a"/><circle cx="726" cy="1589" r="6" fill="#f0b070"/><circle cx="727" cy="1514" r="6" fill="#8aa0e0"/><circle cx="1051" cy="1849" r="6" fill="#d070c0"/><circle cx="642" cy="1809" r="6" fill="#5ab08a"/><circle cx="557" cy="1858" r="6" fill="#d070c0"/><circle cx="1142" cy="1514" r="6" fill="#8aa0e0"/><circle cx="427" cy="1689" r="6" fill="#8aa0e0"/><circle cx="702" cy="1453" r="6" fill="#5ab08a"/><circle cx="845" cy="1527" r="6" fill="#d070c0"/><circle cx="689" cy="1694" r="6" fill="#5ab08a"/><circle cx="1120" cy="1633" r="6" fill="#d070c0"/><circle cx="519" cy="1590" r="6" fill="#5ab08a"/><circle cx="647" cy="1520" r="6" fill="#d070c0"/><circle cx="602" cy="1504" r="6" fill="#d070c0"/><circle cx="564" cy="1838" r="6" fill="#f0b070"/><circle cx="861" cy="1605" r="6" fill="#e07aa0"/><circle cx="500" cy="1645" r="6" fill="#8aa0e0"/><circle cx="594" cy="1730" r="6" fill="#8aa0e0"/><circle cx="727" cy="1818" r="6" fill="#f0b070"/><circle cx="634" cy="1497" r="6" fill="#e07aa0"/><circle cx="512" cy="1631" r="6" fill="#d070c0"/><circle cx="868" cy="1543" r="6" fill="#5ab08a"/><circle cx="720" cy="1530" r="6" fill="#e07aa0"/><circle cx="549" cy="1582" r="6" fill="#d070c0"/><circle cx="521" cy="1618" r="6" fill="#8aa0e0"/><circle cx="900" cy="1724" r="6" fill="#d070c0"/><circle cx="1111" cy="1680" r="6" fill="#e07aa0"/><circle cx="767" cy="1577" r="6" fill="#8aa0e0"/><circle cx="884" cy="1632" r="6" fill="#8aa0e0"/><circle cx="653" cy="1860" r="6" fill="#e07aa0"/><circle cx="751" cy="1582" r="6" fill="#e07aa0"/><circle cx="1077" cy="1744" r="6" fill="#5ab08a"/><circle cx="999" cy="1823" r="6" fill="#8aa0e0"/><circle cx="482" cy="1628" r="6" fill="#e07aa0"/><circle cx="1056" cy="1604" r="6" fill="#e07aa0"/><circle cx="1050" cy="1672" r="6" fill="#d070c0"/><circle cx="903" cy="1587" r="6" fill="#e07aa0"/><circle cx="887" cy="1857" r="6" fill="#f0b070"/><circle cx="820" cy="1420" r="24" fill="none" stroke="#d05050" stroke-width="4"/><circle cx="935" cy="1505" r="24" fill="none" stroke="#d05050" stroke-width="4"/><circle cx="500" cy="1535" r="24" fill="none" stroke="#d05050" stroke-width="4"/><circle cx="620" cy="1580" r="24" fill="none" stroke="#d05050" stroke-width="4"/><circle cx="490" cy="1660" r="24" fill="none" stroke="#d05050" stroke-width="4"/><circle cx="1005" cy="1650" r="24" fill="none" stroke="#d05050" stroke-width="4"/><circle cx="715" cy="1480" r="16" fill="none" stroke="#f0b050" stroke-width="3"/><circle cx="860" cy="1480" r="16" fill="none" stroke="#f0b050" stroke-width="3"/><circle cx="612" cy="1522" r="16" fill="none" stroke="#f0b050" stroke-width="3"/><circle cx="540" cy="1610" r="16" fill="none" stroke="#f0b050" stroke-width="3"/><circle cx="930" cy="1595" r="16" fill="none" stroke="#f0b050" stroke-width="3"/><circle cx="398" cy="1650" r="16" fill="none" stroke="#f0b050" stroke-width="3"/><circle cx="1022" cy="1545" r="16" fill="none" stroke="#f0b050" stroke-width="3"/><circle cx="1045" cy="1753" r="16" fill="none" stroke="#f0b050" stroke-width="3"/>
<path d="M300,1720 L470,1700 M300,1760 L460,1745 M300,1800 L455,1790 M300,1840 L450,1830" fill="none" stroke="#c8b0b0" stroke-width="3"/>
<path d="M455,1873 C500,1780 540,1725 585,1715 C630,1720 670,1790 690,1873 Z" fill="#f8f0e2" stroke="#7a5a3a" stroke-width="4"/>
<ellipse cx="560.0" cy="1800.0" rx="18.0" ry="14.0" fill="#c9a090" transform="rotate(30 560.0 1800.0)"/>
<ellipse cx="590.0" cy="1770.0" rx="18.0" ry="14.0" fill="#c9a090" transform="rotate(30 590.0 1770.0)"/>
<ellipse cx="600.0" cy="1830.0" rx="18.0" ry="14.0" fill="#c9a090" transform="rotate(30 600.0 1830.0)"/>
<ellipse cx="540.0" cy="1840.0" rx="18.0" ry="14.0" fill="#c9a090" transform="rotate(30 540.0 1840.0)"/>
<ellipse cx="620.0" cy="1800.0" rx="18.0" ry="14.0" fill="#c9a090" transform="rotate(30 620.0 1800.0)"/>
<path d="M490,1435 C560,1360 640,1270 700,1180 C760,1090 800,960 855,880" fill="none" stroke="#222" stroke-width="5" stroke-dasharray="26 16"/>
<path d="M1262,885 C1300,960 1310,1080 1330,1200 C1350,1330 1400,1420 1450,1470" fill="none" stroke="#222" stroke-width="5" stroke-dasharray="26 16"/>
</g>
<rect x="222.0" y="410.0" width="1235.0" height="1463.0" fill="none" stroke="#555" stroke-width="4"/>
</g>
<text x="138.2" y="543.3" font-size="22.05" textLength="65.0" lengthAdjust="spacingAndGlyphs">Enamel</text>
<text x="65.3" y="636.3" font-size="22.05" textLength="54.0" lengthAdjust="spacingAndGlyphs">Dentin</text>
<text x="238.1" y="610.7" font-size="22.05" textLength="100.0" lengthAdjust="spacingAndGlyphs">Transitional</text>
<text x="241.6" y="629.0" font-size="22.05" textLength="92.0" lengthAdjust="spacingAndGlyphs">Epithelium</text>
<text x="264.5" y="682.0" font-size="18.38" textLength="28.0" lengthAdjust="spacingAndGlyphs">GM</text>
<text x="192.4" y="737.8" font-size="18.38" textLength="23.0" lengthAdjust="spacingAndGlyphs">SK</text>
<text x="325.2" y="770.5" font-size="18.38" textLength="25.0" lengthAdjust="spacingAndGlyphs">AG</text>
<text x="101.2" y="816.7" font-size="18.38" textLength="19.5" lengthAdjust="spacingAndGlyphs">JK</text>
<text x="185.9" y="826.3" font-size="22.05" textLength="63.0" lengthAdjust="spacingAndGlyphs">Stroma</text>
<text x="91.2" y="872.5" font-size="22.05" textLength="38.0" lengthAdjust="spacingAndGlyphs">PDL</text>
<text x="189.7" y="880.7" font-size="20.48" textLength="109.0" lengthAdjust="spacingAndGlyphs">Alveolar Bone</text>
<text x="361.9" y="876.1" font-size="18.38" textLength="26.0" lengthAdjust="spacingAndGlyphs">AM</text>
<text x="440.0" y="479.0" font-size="39">d</text>
<circle cx="518.0" cy="474.5" r="4.00" fill="#222"/>
<line x1="518.0" y1="474.5" x2="872.7" y2="474.5" stroke="#444" stroke-width="1.6"/>
<text x="879.5" y="482.0" font-size="22.57" textLength="703.0" lengthAdjust="spacingAndGlyphs">Integration of Single-Cell RNAseq Datasets from Human Periodontium - Tier 1/2 Resolution</text>
<line x1="1587.0" y1="474.5" x2="1954.0" y2="474.5" stroke="#444" stroke-width="1.6"/>
<circle cx="1954.0" cy="474.5" r="4.00" fill="#222"/>
<rect x="473.0" y="492.5" width="496.5" height="397.0" fill="#ffffff"/>
<rect x="473.0" y="492.5" width="42.0" height="397.0" fill="#3c3c3c"/>
<rect x="473.0" y="492.5" width="1497.0" height="397.0" fill="none" stroke="#333" stroke-width="1.8"/>
<line x1="886.8" y1="492.5" x2="886.8" y2="889.5" stroke="#333" stroke-width="1.8"/>
<line x1="1240.0" y1="492.5" x2="1240.0" y2="889.5" stroke="#333" stroke-width="1.8"/>
<line x1="1613.0" y1="492.5" x2="1613.0" y2="889.5" stroke="#333" stroke-width="1.8"/>
<text x="500.0" y="691.0" font-size="25.2" text-anchor="middle" fill="#ffffff" textLength="330.0" lengthAdjust="spacingAndGlyphs" transform="rotate(-90 500.0 691.0)">Integrated Periodontal Datasets</text>
<text x="527.0" y="517.0" font-size="20.48" textLength="134.0" lengthAdjust="spacingAndGlyphs" letter-spacing="-1">Huang et al. 2021</text>
<text x="898.5" y="517.0" font-size="20.48" textLength="148.0" lengthAdjust="spacingAndGlyphs" letter-spacing="-1">Caetano et al. 2020</text>
<text x="1252.6" y="517.0" font-size="20.48" textLength="135.0" lengthAdjust="spacingAndGlyphs" letter-spacing="-1">Pagella et al. 2021</text>
<text x="1625.4" y="517.0" font-size="20.48" textLength="143.0" lengthAdjust="spacingAndGlyphs" letter-spacing="-1">Williams et al. 2021</text>
<line x1="540.0" y1="865.0" x2="540.0" y2="820.0" stroke="#555" stroke-width="0.8"/>
<line x1="540.0" y1="865.0" x2="572.0" y2="865.0" stroke="#555" stroke-width="0.8"/>
<text x="534.0" y="862.0" font-size="12" fill="#333" transform="rotate(-90 534.0 862.0)">UMAP2</text>
<text x="522.0" y="879.0" font-size="12" fill="#333">UMAP1</text>
<path d="M1709.8,578.2Q1720.4,576.1 1722.6,579.2Q1724.7,582.4 1716.2,585.6Q1707.7,588.8 1703.5,595.2Q1699.2,601.6 1703.5,610.1Q1707.7,618.6 1720.5,625.0Q1733.2,631.3 1731.1,635.5Q1728.9,639.8 1718.3,644.0Q1707.7,648.3 1699.2,642.0Q1690.7,635.6 1686.5,625.0Q1682.2,614.3 1682.2,603.7Q1682.2,593.1 1690.7,586.7Q1699.2,580.3 1709.8,578.2Z" fill="#5f9334" filter="url(#s95)"/>
<path d="M1717.3,679.1Q1722.6,676.0 1723.7,687.7Q1724.7,699.4 1735.3,712.1Q1746.0,724.9 1744.9,732.3Q1743.8,739.7 1730.0,734.4Q1716.2,729.1 1704.6,738.7Q1692.9,748.2 1698.2,736.5Q1703.4,724.9 1694.9,716.4Q1686.4,707.9 1697.1,705.8Q1707.7,703.6 1709.8,693.0Q1712.0,682.3 1717.3,679.1Z" fill="#5f9334" filter="url(#s95)"/>
<path d="M1794.8,789.7Q1801.2,786.5 1803.3,796.0Q1805.4,805.6 1799.1,822.7Q1792.7,839.7 1782.1,850.3Q1771.4,860.9 1760.8,854.5Q1750.2,848.2 1749.2,837.5Q1748.1,826.9 1757.7,818.4Q1767.2,809.9 1777.8,801.4Q1788.5,792.9 1794.8,789.7Z" fill="#d82c48" filter="url(#s95)"/>
<path d="M1811.8,659.0Q1818.2,654.7 1824.6,657.9Q1831.0,661.1 1833.1,671.7Q1835.2,682.3 1841.6,689.8Q1848.0,697.2 1841.6,696.2Q1835.2,695.1 1824.6,695.1Q1814.0,695.1 1805.5,693.0Q1797.0,690.8 1796.0,684.5Q1794.9,678.1 1800.2,670.7Q1805.5,663.2 1811.8,659.0Z" fill="#5577f2" filter="url(#s95)"/>
<path d="M1818.2,538.8Q1818.2,537.8 1831.0,534.6Q1843.7,531.4 1853.3,528.2Q1862.9,525.0 1864.0,530.4Q1865.0,535.7 1860.8,548.5Q1856.5,561.2 1852.2,561.2Q1848.0,561.2 1841.6,553.8Q1835.2,546.3 1826.7,543.1Q1818.2,539.9 1818.2,538.8Z" fill="#a6de7c" filter="url(#s95)"/>
<path d="M1911.3,693.0Q1911.8,682.3 1924.5,677.0Q1937.3,671.7 1942.6,683.4Q1947.9,695.1 1944.7,705.7Q1941.5,716.3 1938.3,724.8Q1935.2,733.4 1927.8,724.8Q1920.3,716.3 1915.6,710.0Q1910.9,703.6 1911.3,693.0Z" fill="#f6b64a" filter="url(#s95)"/>
<path d="M1887.5,780.5Q1889.0,776.0 1891.0,783.0Q1893.0,790.0 1894.5,802.5Q1896.0,815.0 1894.5,823.5Q1893.0,832.0 1891.0,831.0Q1889.0,830.0 1887.5,817.5Q1886.0,805.0 1886.0,795.0Q1886.0,785.0 1887.5,780.5Z" fill="#d82c48" filter="url(#s95)"/>
<path d="M1877.0,617.0Q1876.0,612.0 1883.0,611.0Q1890.0,610.0 1893.0,613.0Q1896.0,616.0 1893.0,619.0Q1890.0,622.0 1884.0,622.0Q1878.0,622.0 1877.0,617.0Z" fill="#a6de7c" filter="url(#s95)"/>
<path d="M1788.5,576.5Q1790.0,573.0 1792.5,572.5Q1795.0,572.0 1794.0,578.5Q1793.0,585.0 1789.5,586.5Q1786.0,588.0 1786.5,584.0Q1787.0,580.0 1788.5,576.5Z" fill="#5f9334" filter="url(#s95)"/>
<path d="M1632,792 L1640,784" fill="none" stroke="#d82c48" stroke-width="2.2" stroke-linecap="round"/>
<path d="M979.8,578.2Q990.4,576.1 992.6,579.2Q994.7,582.4 986.2,585.6Q977.7,588.8 973.5,595.2Q969.2,601.6 973.5,610.1Q977.7,618.6 990.5,625.0Q1003.2,631.3 1001.1,635.5Q998.9,639.8 988.3,644.0Q977.7,648.3 969.2,642.0Q960.7,635.6 956.5,625.0Q952.2,614.3 952.2,603.7Q952.2,593.1 960.7,586.7Q969.2,580.3 979.8,578.2Z" fill="#5f9334" filter="url(#s25)"/>
<path d="M987.3,679.1Q992.6,676.0 993.6,687.7Q994.7,699.4 1005.4,712.1Q1016.0,724.9 1014.9,732.3Q1013.8,739.7 1000.0,734.4Q986.2,729.1 974.6,738.7Q962.9,748.2 968.2,736.5Q973.4,724.9 964.9,716.4Q956.4,707.9 967.1,705.8Q977.7,703.6 979.9,693.0Q982.0,682.3 987.3,679.1Z" fill="#5f9334" filter="url(#s45)"/>
<path d="M1064.8,789.7Q1071.2,786.5 1073.3,796.0Q1075.4,805.6 1069.1,822.7Q1062.7,839.7 1052.1,850.3Q1041.4,860.9 1030.8,854.5Q1020.2,848.2 1019.1,837.5Q1018.1,826.9 1027.7,818.4Q1037.2,809.9 1047.8,801.4Q1058.5,792.9 1064.8,789.7Z" fill="#d82c48" filter="url(#s25)"/>
<path d="M1081.8,659.0Q1088.2,654.7 1094.6,657.9Q1101.0,661.1 1103.1,671.7Q1105.2,682.3 1111.6,689.8Q1118.0,697.2 1111.6,696.2Q1105.2,695.1 1094.6,695.1Q1084.0,695.1 1075.5,693.0Q1067.0,690.8 1066.0,684.5Q1064.9,678.1 1070.2,670.7Q1075.5,663.2 1081.8,659.0Z" fill="#5577f2" filter="url(#s45)"/>
<path d="M1088.2,538.8Q1088.2,537.8 1101.0,534.6Q1113.7,531.4 1123.3,528.2Q1132.9,525.0 1134.0,530.4Q1135.0,535.7 1130.8,548.5Q1126.5,561.2 1122.2,561.2Q1118.0,561.2 1111.6,553.8Q1105.2,546.3 1096.7,543.1Q1088.2,539.9 1088.2,538.8Z" fill="#a6de7c" filter="url(#s45)"/>
<path d="M1181.3,693.0Q1181.8,682.3 1194.5,677.0Q1207.3,671.7 1212.6,683.4Q1217.9,695.1 1214.7,705.7Q1211.5,716.3 1208.3,724.8Q1205.2,733.4 1197.8,724.8Q1190.3,716.3 1185.6,710.0Q1180.9,703.6 1181.3,693.0Z" fill="#f6b64a" filter="url(#s45)"/>
<path d="M1157.5,780.5Q1159.0,776.0 1161.0,783.0Q1163.0,790.0 1164.5,802.5Q1166.0,815.0 1164.5,823.5Q1163.0,832.0 1161.0,831.0Q1159.0,830.0 1157.5,817.5Q1156.0,805.0 1156.0,795.0Q1156.0,785.0 1157.5,780.5Z" fill="#d82c48" filter="url(#s65)"/>
<path d="M1147.0,617.0Q1146.0,612.0 1153.0,611.0Q1160.0,610.0 1163.0,613.0Q1166.0,616.0 1163.0,619.0Q1160.0,622.0 1154.0,622.0Q1148.0,622.0 1147.0,617.0Z" fill="#a6de7c" filter="url(#s85)"/>
<path d="M1058.5,576.5Q1060.0,573.0 1062.5,572.5Q1065.0,572.0 1064.0,578.5Q1063.0,585.0 1059.5,586.5Q1056.0,588.0 1056.5,584.0Q1057.0,580.0 1058.5,576.5Z" fill="#5f9334" filter="url(#s95)"/>
<path d="M902,792 L910,784" fill="none" stroke="#d82c48" stroke-width="2.2" stroke-linecap="round"/>
<path d="M1339.8,578.2Q1350.4,576.1 1352.6,579.2Q1354.7,582.4 1346.2,585.6Q1337.7,588.8 1333.5,595.2Q1329.2,601.6 1333.5,610.1Q1337.7,618.6 1350.5,625.0Q1363.2,631.3 1361.1,635.5Q1358.9,639.8 1348.3,644.0Q1337.7,648.3 1329.2,642.0Q1320.7,635.6 1316.5,625.0Q1312.2,614.3 1312.2,603.7Q1312.2,593.1 1320.7,586.7Q1329.2,580.3 1339.8,578.2Z" fill="#5f9334" filter="url(#s12)"/>
<path d="M1347.3,679.1Q1352.6,676.0 1353.7,687.7Q1354.7,699.4 1365.3,712.1Q1376.0,724.9 1374.9,732.3Q1373.8,739.7 1360.0,734.4Q1346.2,729.1 1334.6,738.7Q1322.9,748.2 1328.2,736.5Q1333.4,724.9 1324.9,716.4Q1316.4,707.9 1327.1,705.8Q1337.7,703.6 1339.8,693.0Q1342.0,682.3 1347.3,679.1Z" fill="#5f9334" filter="url(#s25)"/>
<path d="M1424.8,789.7Q1431.2,786.5 1433.3,796.0Q1435.4,805.6 1429.1,822.7Q1422.7,839.7 1412.1,850.3Q1401.4,860.9 1390.8,854.5Q1380.2,848.2 1379.2,837.5Q1378.1,826.9 1387.7,818.4Q1397.2,809.9 1407.8,801.4Q1418.5,792.9 1424.8,789.7Z" fill="#d82c48" filter="url(#s12)"/>
<path d="M1441.8,659.0Q1448.2,654.7 1454.6,657.9Q1461.0,661.1 1463.1,671.7Q1465.2,682.3 1471.6,689.8Q1478.0,697.2 1471.6,696.2Q1465.2,695.1 1454.6,695.1Q1444.0,695.1 1435.5,693.0Q1427.0,690.8 1426.0,684.5Q1424.9,678.1 1430.2,670.7Q1435.5,663.2 1441.8,659.0Z" fill="#5577f2" filter="url(#s25)"/>
<path d="M1448.2,538.8Q1448.2,537.8 1461.0,534.6Q1473.7,531.4 1483.3,528.2Q1492.9,525.0 1494.0,530.4Q1495.0,535.7 1490.8,548.5Q1486.5,561.2 1482.2,561.2Q1478.0,561.2 1471.6,553.8Q1465.2,546.3 1456.7,543.1Q1448.2,539.9 1448.2,538.8Z" fill="#a6de7c" filter="url(#s12)"/>
<path d="M1541.3,693.0Q1541.8,682.3 1554.5,677.0Q1567.3,671.7 1572.6,683.4Q1577.9,695.1 1574.7,705.7Q1571.5,716.3 1568.3,724.8Q1565.2,733.4 1557.8,724.8Q1550.3,716.3 1545.6,710.0Q1540.9,703.6 1541.3,693.0Z" fill="#f6b64a" filter="url(#s12)"/>
<path d="M1517.5,780.5Q1519.0,776.0 1521.0,783.0Q1523.0,790.0 1524.5,802.5Q1526.0,815.0 1524.5,823.5Q1523.0,832.0 1521.0,831.0Q1519.0,830.0 1517.5,817.5Q1516.0,805.0 1516.0,795.0Q1516.0,785.0 1517.5,780.5Z" fill="#d82c48" filter="url(#s45)"/>
<path d="M1507.0,617.0Q1506.0,612.0 1513.0,611.0Q1520.0,610.0 1523.0,613.0Q1526.0,616.0 1523.0,619.0Q1520.0,622.0 1514.0,622.0Q1508.0,622.0 1507.0,617.0Z" fill="#a6de7c" filter="url(#s12)"/>
<path d="M1418.5,576.5Q1420.0,573.0 1422.5,572.5Q1425.0,572.0 1424.0,578.5Q1423.0,585.0 1419.5,586.5Q1416.0,588.0 1416.5,584.0Q1417.0,580.0 1418.5,576.5Z" fill="#5f9334" filter="url(#s25)"/>
<path d="M1262,792 L1270,784" fill="none" stroke="#d82c48" stroke-width="2.2" stroke-linecap="round"/>
<path d="M621.8,578.2Q632.4,576.1 634.6,579.2Q636.7,582.4 628.2,585.6Q619.7,588.8 615.5,595.2Q611.2,601.6 615.5,610.1Q619.7,618.6 632.5,625.0Q645.2,631.3 643.1,635.5Q640.9,639.8 630.3,644.0Q619.7,648.3 611.2,642.0Q602.7,635.6 598.5,625.0Q594.2,614.3 594.2,603.7Q594.2,593.1 602.7,586.7Q611.2,580.3 621.8,578.2Z" fill="#5f9334" filter="url(#s25)"/>
<path d="M629.3,679.1Q634.6,676.0 635.6,687.7Q636.7,699.4 647.4,712.1Q658.0,724.9 656.9,732.3Q655.8,739.7 642.0,734.4Q628.2,729.1 616.6,738.7Q604.9,748.2 610.2,736.5Q615.4,724.9 606.9,716.4Q598.4,707.9 609.1,705.8Q619.7,703.6 621.9,693.0Q624.0,682.3 629.3,679.1Z" fill="#5f9334" filter="url(#s12)"/>
<path d="M706.9,789.7Q713.2,786.5 715.3,796.0Q717.4,805.6 711.1,822.7Q704.7,839.7 694.1,850.3Q683.4,860.9 672.8,854.5Q662.2,848.2 661.1,837.5Q660.1,826.9 669.6,818.4Q679.2,809.9 689.9,801.4Q700.5,792.9 706.9,789.7Z" fill="#d82c48" filter="url(#s12)"/>
<path d="M723.9,659.0Q730.2,654.7 736.6,657.9Q743.0,661.1 745.1,671.7Q747.2,682.3 753.6,689.8Q760.0,697.2 753.6,696.2Q747.2,695.1 736.6,695.1Q726.0,695.1 717.5,693.0Q709.0,690.8 708.0,684.5Q706.9,678.1 712.2,670.7Q717.5,663.2 723.9,659.0Z" fill="#5577f2" filter="url(#s85)"/>
<path d="M730.2,538.8Q730.2,537.8 743.0,534.6Q755.7,531.4 765.3,528.2Q774.9,525.0 776.0,530.4Q777.0,535.7 772.8,548.5Q768.5,561.2 764.2,561.2Q760.0,561.2 753.6,553.8Q747.2,546.3 738.7,543.1Q730.2,539.9 730.2,538.8Z" fill="#a6de7c" filter="url(#s12)"/>
<path d="M823.4,693.0Q823.8,682.3 836.5,677.0Q849.3,671.7 854.6,683.4Q859.9,695.1 856.7,705.7Q853.5,716.3 850.4,724.8Q847.2,733.4 839.8,724.8Q832.3,716.3 827.6,710.0Q822.9,703.6 823.4,693.0Z" fill="#f6b64a" filter="url(#s12)"/>
<path d="M799.5,780.5Q801.0,776.0 803.0,783.0Q805.0,790.0 806.5,802.5Q808.0,815.0 806.5,823.5Q805.0,832.0 803.0,831.0Q801.0,830.0 799.5,817.5Q798.0,805.0 798.0,795.0Q798.0,785.0 799.5,780.5Z" fill="#d82c48" filter="url(#s12)"/>
<path d="M789.0,617.0Q788.0,612.0 795.0,611.0Q802.0,610.0 805.0,613.0Q808.0,616.0 805.0,619.0Q802.0,622.0 796.0,622.0Q790.0,622.0 789.0,617.0Z" fill="#a6de7c" filter="url(#s12)"/>
<path d="M700.5,576.5Q702.0,573.0 704.5,572.5Q707.0,572.0 706.0,578.5Q705.0,585.0 701.5,586.5Q698.0,588.0 698.5,584.0Q699.0,580.0 700.5,576.5Z" fill="#5f9334" filter="url(#s45)"/>
<path d="M544,792 L552,784" fill="none" stroke="#d82c48" stroke-width="2.2" stroke-linecap="round"/>
<path d="M1801.2,516.5 L1820,537" fill="none" stroke="#a6de7c" stroke-width="1.5"/>
<text x="716.2" y="548.8" font-size="18.38" font-weight="bold" textLength="109.0" lengthAdjust="spacingAndGlyphs">Myeloid / Neut</text>
<text x="693.6" y="586.0" font-size="18.38" font-weight="bold" textLength="57.0" lengthAdjust="spacingAndGlyphs">B Cells</text>
<text x="822.8" y="590.6" font-size="18.38" font-weight="bold" textLength="50.0" lengthAdjust="spacingAndGlyphs">Neural</text>
<text x="570.2" y="613.7" font-size="18.38" font-weight="bold" textLength="99.0" lengthAdjust="spacingAndGlyphs">T Cells / ILCs</text>
<text x="765.2" y="620.5" font-size="18.38" font-weight="bold" textLength="80.0" lengthAdjust="spacingAndGlyphs">Mast Cells</text>
<text x="676.3" y="684.0" font-size="18.38" font-weight="bold" textLength="139.0" lengthAdjust="spacingAndGlyphs">KCs / Merkel Cells</text>
<text x="575.6" y="715.7" font-size="18.38" font-weight="bold" textLength="99.0" lengthAdjust="spacingAndGlyphs">Plasma Cells</text>
<text x="795.1" y="721.2" font-size="18.38" font-weight="bold" textLength="77.0" lengthAdjust="spacingAndGlyphs">Fibroblast</text>
<text x="520.3" y="784.7" font-size="18.38" font-weight="bold" textLength="43.0" lengthAdjust="spacingAndGlyphs">LECs</text>
<text x="660.0" y="836.8" font-size="18.38" font-weight="bold" textLength="44.0" lengthAdjust="spacingAndGlyphs">VECs</text>
<text x="754.8" y="829.0" font-size="18.38" font-weight="bold" textLength="120.0" lengthAdjust="spacingAndGlyphs">Pericytes / VSM</text>
<text x="1017.9" y="917.8" font-size="23.1" fill="#222" textLength="482.0" lengthAdjust="spacingAndGlyphs">Harmonized Cell Annotation and Meta-analyses</text>
<path d="M472,915 V928 H1969 V915" fill="none" stroke="#333" stroke-width="1.3" stroke-dasharray="11.7 7.3"/>
<line x1="1264.5" y1="928.0" x2="1264.5" y2="962.0" stroke="#333" stroke-width="1.3" stroke-dasharray="6 6"/>
<path d="M1264.5,971.0 L1257.7,958.5 L1264.5,961.5 L1271.3,958.5 Z" fill="#222"/>
<defs><linearGradient id="gEpi" x1="0" x2="1" y1="0" y2="0"><stop offset="0" stop-color="#b3dbf1"/><stop offset="0.5" stop-color="#dbf0fa"/><stop offset="1" stop-color="#b7dcf0"/></linearGradient><linearGradient id="gStr" x1="0" x2="1" y1="0" y2="0"><stop offset="0" stop-color="#f8cfa8"/><stop offset="0.45" stop-color="#fde9d8"/><stop offset="1" stop-color="#f9d2ad"/></linearGradient><linearGradient id="gEnd" x1="0" x2="1" y1="0" y2="0"><stop offset="0" stop-color="#f6c5da"/><stop offset="0.5" stop-color="#fbe7f0"/><stop offset="1" stop-color="#f5c4d9"/></linearGradient><linearGradient id="gNeu" x1="0" x2="1" y1="0" y2="0"><stop offset="0" stop-color="#e7eaf6"/><stop offset="1" stop-color="#b8c2e5"/></linearGradient><linearGradient id="gImm" x1="0" x2="1" y1="0" y2="0"><stop offset="0" stop-color="#a9d9b4"/><stop offset="0.55" stop-color="#e6f3e8"/><stop offset="1" stop-color="#a6d8b0"/></linearGradient></defs>
<text x="21.0" y="956.0" font-size="39">e</text>
<text x="69.8" y="978.7" font-size="23.62" textLength="266.0" lengthAdjust="spacingAndGlyphs">Draft 1 - Tier 3 Resolution</text>
<rect x="64.0" y="986.2" width="334.3" height="23.0" fill="url(#gEpi)" stroke="#444" stroke-width="1"/>
<rect x="398.3" y="986.2" width="141.5" height="23.0" fill="url(#gStr)" stroke="#444" stroke-width="1"/>
<rect x="539.8" y="986.2" width="239.4" height="23.0" fill="url(#gEnd)" stroke="#444" stroke-width="1"/>
<rect x="779.2" y="986.2" width="87.8" height="23.0" fill="url(#gNeu)" stroke="#444" stroke-width="1"/>
<rect x="867.0" y="986.2" width="1102.5" height="23.0" fill="url(#gImm)" stroke="#444" stroke-width="1"/>
<text x="237.6" y="1006.3" font-size="22.57" text-anchor="middle" textLength="92.0" lengthAdjust="spacingAndGlyphs">Epithelial</text>
<text x="473.7" y="1006.3" font-size="22.57" text-anchor="middle" textLength="76.0" lengthAdjust="spacingAndGlyphs">Stromal</text>
<text x="661.5" y="1006.3" font-size="22.57" text-anchor="middle" textLength="113.0" lengthAdjust="spacingAndGlyphs">Endothelial</text>
<text x="822.2" y="1006.3" font-size="22.57" text-anchor="middle" textLength="67.0" lengthAdjust="spacingAndGlyphs">Neural</text>
<text x="1393.3" y="1006.3" font-size="22.57" text-anchor="middle" textLength="82.0" lengthAdjust="spacingAndGlyphs">Immune</text>
<line x1="398.3" y1="986.0" x2="398.3" y2="1175.0" stroke="#444" stroke-width="1.3"/>
<line x1="539.8" y1="986.0" x2="539.8" y2="1175.0" stroke="#444" stroke-width="1.3"/>
<line x1="779.2" y1="986.0" x2="779.2" y2="1175.0" stroke="#444" stroke-width="1.3"/>
<line x1="867.0" y1="986.0" x2="867.0" y2="1175.0" stroke="#444" stroke-width="1.3"/>
<text x="25.0" y="1076.0" font-size="23.1" text-anchor="middle" textLength="147.0" lengthAdjust="spacingAndGlyphs" transform="rotate(-90 25.0 1076.0)">Tiered Annotation</text>
<path d="M60,998 H53 V1146.5 H60" fill="none" stroke="#555" stroke-width="1.2"/>
<line x1="53.0" y1="1053.5" x2="60.0" y2="1053.5" stroke="#555" stroke-width="1.2"/>
<line x1="53.0" y1="1117.0" x2="60.0" y2="1117.0" stroke="#555" stroke-width="1.2"/>
<text x="41.0" y="1002.4" font-size="13" text-anchor="middle" font-weight="bold" fill="#333">1</text>
<text x="41.0" y="1051.0" font-size="13" text-anchor="middle" font-weight="bold" fill="#333">2</text>
<text x="41.0" y="1124.6" font-size="13" text-anchor="middle" font-weight="bold" fill="#333">3</text>
<path d="M291.0,1009.0 L291.0,1024.3" fill="none" stroke="#444" stroke-width="1.2"/>
<path d="M173.4,1024.3 L375.9,1024.3" fill="none" stroke="#444" stroke-width="1.2"/>
<path d="M234.5,1024.3 L234.5,1037.0" fill="none" stroke="#444" stroke-width="1.2"/>
<path d="M350.5,1024.3 L350.5,1037.0" fill="none" stroke="#444" stroke-width="1.2"/>
<text x="131.0" y="1052.2" font-size="20.48" fill="#333" textLength="126.0" lengthAdjust="spacingAndGlyphs">Keratinocytes</text>
<text x="320.5" y="1052.2" font-size="20.48" textLength="52.5" lengthAdjust="spacingAndGlyphs">Other</text>
<path d="M234.5,1058.5 L234.5,1072.2" fill="none" stroke="#444" stroke-width="1.2"/>
<path d="M107.8,1087.0 L107.8,1072.2 L252.4,1072.2 L252.4,1087.0" fill="none" stroke="#444" stroke-width="1.2"/>
<path d="M179.1,1072.2 L179.1,1087.0" fill="none" stroke="#444" stroke-width="1.2"/>
<text x="67.8" y="1099.6" font-size="17.32" textLength="219.0" lengthAdjust="spacingAndGlyphs">Mast Muc Lining Muc SK/JKs</text>
<text x="68.6" y="1116.6" font-size="15.23" fill="#333" textLength="34.0" lengthAdjust="spacingAndGlyphs">Basal</text>
<text x="139.7" y="1116.6" font-size="15.23" fill="#333" textLength="34.0" lengthAdjust="spacingAndGlyphs">Basal</text>
<text x="214.0" y="1116.6" font-size="15.23" fill="#333" textLength="34.0" lengthAdjust="spacingAndGlyphs">Basal</text>
<path d="M108.0,1108.0 L108.0,1120.0" fill="none" stroke="#444" stroke-width="1.2"/>
<path d="M179.0,1108.0 L179.0,1120.0" fill="none" stroke="#444" stroke-width="1.2"/>
<path d="M252.0,1108.0 L252.0,1120.0" fill="none" stroke="#444" stroke-width="1.2"/>
<path d="M76.8,1121.6 L139.7,1121.6 L172.0,1149.0" fill="none" stroke="#444" stroke-width="1.2"/>
<path d="M148.4,1121.6 L208.3,1121.6" fill="none" stroke="#444" stroke-width="1.2"/>
<path d="M213.3,1142.0 L213.3,1121.6 L285.6,1121.6 L248.0,1149.0" fill="none" stroke="#444" stroke-width="1.2"/>
<path d="M168,1150.5 L176,1153 L173,1145 Z" fill="#333"/>
<path d="M209.5,1139 L213.3,1147 L217,1139 Z" fill="#333"/>
<path d="M244,1152 L252.5,1148.5 L246.5,1145 Z" fill="#333"/>
<text x="101.8" y="1144.5" font-size="16" text-anchor="middle" fill="#333">1</text>
<text x="177.6" y="1144.5" font-size="16" text-anchor="middle" fill="#333">2</text>
<text x="235.7" y="1144.5" font-size="16" text-anchor="middle" fill="#333">3</text>
<text x="190.8" y="1166.0" font-size="14" fill="#333">SB</text>
<text x="216.5" y="1160.0" font-size="16" text-anchor="middle" fill="#333">4</text>
<path d="M346.7,1059.0 L346.7,1089.7" fill="none" stroke="#444" stroke-width="1.2"/>
<path d="M326.8,1097.0 L326.8,1089.7 L371.7,1089.7 L371.7,1097.0" fill="none" stroke="#444" stroke-width="1.2"/>
<text x="312.5" y="1113.4" font-size="16" text-anchor="middle" fill="#333">5</text>
<text x="351.7" y="1113.4" font-size="16" text-anchor="middle" fill="#333">6</text>
<text x="382.4" y="1113.4" font-size="16" text-anchor="middle" fill="#333">7</text>
<text x="311.8" y="1128.8" font-size="15.23" text-anchor="middle" fill="#333" textLength="32.0" lengthAdjust="spacingAndGlyphs">Merk</text>
<text x="347.2" y="1128.8" font-size="15.23" text-anchor="middle" fill="#333" textLength="31.0" lengthAdjust="spacingAndGlyphs">Mela</text>
<text x="385.4" y="1128.8" font-size="15.23" text-anchor="middle" fill="#333" textLength="19.0" lengthAdjust="spacingAndGlyphs">LC</text>
<path d="M473.7,1009.0 L473.7,1024.0" fill="none" stroke="#444" stroke-width="1.2"/>
<path d="M417.7,1024.0 L506.8,1024.0" fill="none" stroke="#444" stroke-width="1.2"/>
<path d="M485.5,1024.0 L485.5,1032.0" fill="none" stroke="#444" stroke-width="1.2"/>
<text x="471.4" y="1052.9" font-size="20.48" text-anchor="middle" textLength="100.0" lengthAdjust="spacingAndGlyphs">Fibroblasts</text>
<path d="M470.2,1060.2 L470.2,1081.5" fill="none" stroke="#444" stroke-width="1.2"/>
<path d="M446.9,1096.2 L446.9,1081.5 L489.7,1081.5 L489.7,1096.2" fill="none" stroke="#444" stroke-width="1.2"/>
<text x="444.3" y="1113.3" font-size="16" text-anchor="middle" fill="#333">8</text>
<text x="485.5" y="1113.3" font-size="16" text-anchor="middle" fill="#333">9</text>
<text x="447.8" y="1131.0" font-size="15.23" text-anchor="middle" fill="#333" textLength="27.0" lengthAdjust="spacingAndGlyphs">Fib1</text>
<text x="489.0" y="1131.0" font-size="15.23" text-anchor="middle" fill="#333" textLength="28.0" lengthAdjust="spacingAndGlyphs">Fib2</text>
<path d="M671.3,1009.0 L671.3,1024.0" fill="none" stroke="#444" stroke-width="1.2"/>
<path d="M570.2,1024.0 L752.9,1024.0" fill="none" stroke="#444" stroke-width="1.2"/>
<path d="M602.6,1024.0 L602.6,1032.0" fill="none" stroke="#444" stroke-width="1.2"/>
<path d="M668.0,1024.0 L668.0,1032.0" fill="none" stroke="#444" stroke-width="1.2"/>
<path d="M728.5,1024.0 L728.5,1032.0" fill="none" stroke="#444" stroke-width="1.2"/>
<text x="598.2" y="1052.9" font-size="20.48" text-anchor="middle" textLength="59.0" lengthAdjust="spacingAndGlyphs">Vascul</text>
<text x="670.4" y="1052.9" font-size="20.48" text-anchor="middle" textLength="60.0" lengthAdjust="spacingAndGlyphs">Lymph</text>
<text x="730.8" y="1052.9" font-size="20.48" text-anchor="middle" textLength="52.0" lengthAdjust="spacingAndGlyphs">Other</text>
<path d="M590.5,1060.0 L590.5,1096.5" fill="none" stroke="#444" stroke-width="1.2"/>
<path d="M563.7,1096.5 L563.7,1078.8 L620.9,1078.8 L620.9,1096.5" fill="none" stroke="#444" stroke-width="1.2"/>
<path d="M671.9,1060.0 L671.9,1078.8" fill="none" stroke="#444" stroke-width="1.2"/>
<path d="M656.5,1096.5 L656.5,1078.8 L686.6,1078.8 L686.6,1096.5" fill="none" stroke="#444" stroke-width="1.2"/>
<path d="M739.7,1060.0 L739.7,1078.8" fill="none" stroke="#444" stroke-width="1.2"/>
<path d="M727.0,1096.5 L727.0,1078.8 L752.0,1078.8 L752.0,1096.5" fill="none" stroke="#444" stroke-width="1.2"/>
<text x="561.9" y="1113.3" font-size="16" text-anchor="middle" fill="#333">10</text>
<text x="589.3" y="1113.3" font-size="16" text-anchor="middle" fill="#333">11</text>
<text x="617.3" y="1113.3" font-size="16" text-anchor="middle" fill="#333">12</text>
<text x="654.8" y="1113.3" font-size="16" text-anchor="middle" fill="#333">13</text>
<text x="684.5" y="1113.3" font-size="16" text-anchor="middle" fill="#333">14</text>
<text x="724.9" y="1113.3" font-size="16" text-anchor="middle" fill="#333">15</text>
<text x="752.9" y="1113.3" font-size="16" text-anchor="middle" fill="#333">16</text>
<text x="556.9" y="1128.6" font-size="15.23" text-anchor="middle" fill="#333" textLength="28.0" lengthAdjust="spacingAndGlyphs">AEC</text>
<text x="590.8" y="1128.6" font-size="15.23" text-anchor="middle" fill="#333" textLength="29.0" lengthAdjust="spacingAndGlyphs">CEC</text>
<text x="621.7" y="1128.6" font-size="15.23" text-anchor="middle" fill="#333" textLength="29.0" lengthAdjust="spacingAndGlyphs">VEC</text>
<text x="658.6" y="1128.6" font-size="15.23" text-anchor="middle" fill="#333" textLength="33.0" lengthAdjust="spacingAndGlyphs">LEC1</text>
<text x="695.4" y="1128.6" font-size="15.23" text-anchor="middle" fill="#333" textLength="34.0" lengthAdjust="spacingAndGlyphs">LEC2</text>
<text x="728.5" y="1128.6" font-size="15.23" text-anchor="middle" fill="#333" textLength="21.0" lengthAdjust="spacingAndGlyphs">PC</text>
<text x="761.8" y="1128.6" font-size="15.23" text-anchor="middle" fill="#333" textLength="30.0" lengthAdjust="spacingAndGlyphs">VSM</text>
<path d="M824.3,1009.0 L824.3,1034.0" fill="none" stroke="#444" stroke-width="1.2"/>
<path d="M783.3,1024.0 L863.5,1024.0" fill="none" stroke="#444" stroke-width="1.2"/>
<text x="819.3" y="1052.9" font-size="20.48" text-anchor="middle" textLength="36.0" lengthAdjust="spacingAndGlyphs">Glia</text>
<path d="M824.3,1060.0 L824.3,1086.8" fill="none" stroke="#444" stroke-width="1.2"/>
<path d="M808.0,1072.3 L848.7,1072.3" fill="none" stroke="#444" stroke-width="1.2"/>
<text x="825.2" y="1100.0" font-size="18.9" text-anchor="middle" textLength="70.0" lengthAdjust="spacingAndGlyphs">Schwann</text>
<path d="M824.3,1108.9 L824.3,1120.7" fill="none" stroke="#444" stroke-width="1.2"/>
<text x="819.9" y="1139.8" font-size="16" text-anchor="middle" fill="#333">17</text>
<path d="M1302.8,1009.0 L1302.8,1024.6" fill="none" stroke="#444" stroke-width="1.2"/>
<path d="M903.3,1036.0 L903.3,1024.6 L1803.8,1024.6 L1803.8,1036.0" fill="none" stroke="#444" stroke-width="1.2"/>
<text x="929.0" y="1052.4" font-size="20.48" text-anchor="middle" textLength="116.0" lengthAdjust="spacingAndGlyphs">Granulocytes</text>
<text x="1302.8" y="1052.4" font-size="20.48" text-anchor="middle" textLength="90.0" lengthAdjust="spacingAndGlyphs">Lymphoid</text>
<text x="1803.8" y="1052.4" font-size="20.48" text-anchor="middle" textLength="72.0" lengthAdjust="spacingAndGlyphs">Myeloid</text>
<path d="M1302.8,1034.0 L1302.8,1040.0" fill="none" stroke="#444" stroke-width="1.2"/>
<path d="M1302.8,1058.0 L1302.8,1072.5" fill="none" stroke="#444" stroke-width="1.2"/>
<path d="M903.3,1058.0 L903.3,1081.5" fill="none" stroke="#444" stroke-width="1.2"/>
<path d="M885.9,1089.0 L885.9,1081.5 L924.6,1081.5 L924.6,1089.0" fill="none" stroke="#444" stroke-width="1.2"/>
<text x="887.0" y="1105.4" font-size="15" text-anchor="middle" fill="#333">18</text>
<text x="921.4" y="1105.4" font-size="15" text-anchor="middle" fill="#333">19</text>
<text x="887.8" y="1119.0" font-size="14.7" text-anchor="middle" fill="#333" textLength="28.0" lengthAdjust="spacingAndGlyphs">Neut</text>
<text x="926.0" y="1119.0" font-size="14.7" text-anchor="middle" fill="#333" textLength="29.0" lengthAdjust="spacingAndGlyphs">Mast</text>
<path d="M1013.2,1086.0 L1013.2,1072.5 L1615.0,1072.5 L1615.0,1086.0" fill="none" stroke="#444" stroke-width="1.2"/>
<path d="M1107.6,1072.5 L1107.6,1086.0" fill="none" stroke="#444" stroke-width="1.2"/>
<path d="M1299.6,1072.5 L1299.6,1086.0" fill="none" stroke="#444" stroke-width="1.2"/>
<text x="1013.2" y="1101.0" font-size="18.38" text-anchor="middle" textLength="54.0" lengthAdjust="spacingAndGlyphs">B Cells</text>
<text x="1118.6" y="1101.0" font-size="18.38" text-anchor="middle" textLength="56.0" lengthAdjust="spacingAndGlyphs">Plasma</text>
<text x="1301.5" y="1101.0" font-size="18.38" text-anchor="middle" textLength="52.0" lengthAdjust="spacingAndGlyphs">T Cells</text>
<text x="1492.2" y="1101.0" font-size="18.38" textLength="195.0" lengthAdjust="spacingAndGlyphs">Innate Lymphoid Cells / NK</text>
<path d="M1013.2,1108.7 L1013.2,1120.3" fill="none" stroke="#444" stroke-width="1.2"/>
<path d="M1107.6,1108.7 L1107.6,1120.3" fill="none" stroke="#444" stroke-width="1.2"/>
<path d="M1615.0,1108.7 L1615.0,1120.3" fill="none" stroke="#444" stroke-width="1.2"/>
<path d="M1299.6,1107.4 L1299.6,1121.6" fill="none" stroke="#444" stroke-width="1.2"/>
<path d="M1170.3,1121.6 L1441.8,1121.6" fill="none" stroke="#444" stroke-width="1.2"/>
<text x="1172.9" y="1116.4" font-size="16.8" text-anchor="middle" fill="#333" textLength="18.0" lengthAdjust="spacingAndGlyphs">Th</text>
<text x="1212.0" y="1116.4" font-size="16.8" text-anchor="middle" fill="#333" textLength="29.0" lengthAdjust="spacingAndGlyphs">Treg</text>
<text x="1251.7" y="1116.4" font-size="16.8" text-anchor="middle" fill="#333" textLength="33.0" lengthAdjust="spacingAndGlyphs">Th17</text>
<text x="1347.0" y="1116.4" font-size="16.8" text-anchor="middle" fill="#333" textLength="34.0" lengthAdjust="spacingAndGlyphs">MAIT</text>
<text x="1380.7" y="1116.4" font-size="16.8" text-anchor="middle" fill="#333" textLength="26.5" lengthAdjust="spacingAndGlyphs">γδ T</text>
<text x="1407.2" y="1116.4" font-size="16.8" text-anchor="middle" fill="#333" textLength="15.0" lengthAdjust="spacingAndGlyphs">Tc</text>
<text x="1437.9" y="1116.4" font-size="16.8" text-anchor="middle" fill="#333" textLength="31.0" lengthAdjust="spacingAndGlyphs">NKT</text>
<text x="1010.6" y="1139.7" font-size="15" text-anchor="middle" fill="#333">20</text>
<text x="1103.7" y="1139.7" font-size="15" text-anchor="middle" fill="#333">21</text>
<text x="1172.9" y="1139.7" font-size="15" text-anchor="middle" fill="#333">22</text>
<text x="1207.8" y="1139.7" font-size="15" text-anchor="middle" fill="#333">23</text>
<text x="1244.0" y="1139.7" font-size="15" text-anchor="middle" fill="#333">24</text>
<text x="1342.9" y="1139.7" font-size="15" text-anchor="middle" fill="#333">25</text>
<text x="1377.1" y="1139.7" font-size="15" text-anchor="middle" fill="#333">26</text>
<text x="1402.3" y="1139.7" font-size="15" text-anchor="middle" fill="#333">27</text>
<text x="1430.8" y="1139.7" font-size="15" text-anchor="middle" fill="#333">28</text>
<text x="1609.8" y="1139.7" font-size="15" text-anchor="middle" fill="#333">29</text>
<text x="1730.7" y="1139.7" font-size="15" text-anchor="middle" fill="#333">30</text>
<text x="1827.0" y="1139.7" font-size="15" text-anchor="middle" fill="#333">31</text>
<text x="1939.5" y="1139.7" font-size="15" text-anchor="middle" fill="#333">32</text>
<path d="M1803.8,1058.0 L1803.8,1073.0" fill="none" stroke="#444" stroke-width="1.2"/>
<path d="M1730.7,1086.0 L1730.7,1073.0 L1863.9,1073.0 L1863.9,1081.5" fill="none" stroke="#444" stroke-width="1.2"/>
<path d="M1831.6,1086.0 L1831.6,1081.5 L1940.8,1081.5 L1940.8,1086.0" fill="none" stroke="#444" stroke-width="1.2"/>
<text x="1737.8" y="1101.0" font-size="18.38" text-anchor="middle" textLength="77.0" lengthAdjust="spacingAndGlyphs">Mac/Mono</text>
<text x="1832.9" y="1101.0" font-size="18.38" text-anchor="middle" textLength="30.0" lengthAdjust="spacingAndGlyphs">cDC</text>
<text x="1942.7" y="1101.0" font-size="18.38" text-anchor="middle" textLength="32.0" lengthAdjust="spacingAndGlyphs">pDC</text>
<path d="M1730.7,1108.7 L1730.7,1120.3" fill="none" stroke="#444" stroke-width="1.2"/>
<path d="M1827.5,1108.7 L1827.5,1120.3" fill="none" stroke="#444" stroke-width="1.2"/>
<path d="M1940.0,1108.7 L1940.0,1120.3" fill="none" stroke="#444" stroke-width="1.2"/>
<text x="22.0" y="1216.0" font-size="39">f</text>
<text x="100.0" y="1256.4" font-size="21.53" textLength="270.0" lengthAdjust="spacingAndGlyphs">Integrated Periodontitis Meta-atlas</text>
<text x="432.5" y="1256.4" font-size="21.53" textLength="221.0" lengthAdjust="spacingAndGlyphs">Harmonized Cell Annotations</text>
<line x1="56.7" y1="1276.0" x2="56.7" y2="1719.0" stroke="#555" stroke-width="1.2"/>
<line x1="56.7" y1="1719.0" x2="426.0" y2="1719.0" stroke="#555" stroke-width="1.2"/>
<line x1="50.0" y1="1277.6" x2="56.7" y2="1277.6" stroke="#555" stroke-width="1.2"/>
<text x="46.0" y="1283.6" font-size="17" text-anchor="end" fill="#222">20</text>
<line x1="50.0" y1="1324.6" x2="56.7" y2="1324.6" stroke="#555" stroke-width="1.2"/>
<text x="46.0" y="1330.6" font-size="17" text-anchor="end" fill="#222">15</text>
<line x1="50.0" y1="1371.3" x2="56.7" y2="1371.3" stroke="#555" stroke-width="1.2"/>
<text x="46.0" y="1377.3" font-size="17" text-anchor="end" fill="#222">12</text>
<line x1="50.0" y1="1417.5" x2="56.7" y2="1417.5" stroke="#555" stroke-width="1.2"/>
<text x="46.0" y="1423.5" font-size="17" text-anchor="end" fill="#222">9</text>
<line x1="50.0" y1="1463.8" x2="56.7" y2="1463.8" stroke="#555" stroke-width="1.2"/>
<text x="46.0" y="1469.8" font-size="17" text-anchor="end" fill="#222">6</text>
<line x1="50.0" y1="1510.0" x2="56.7" y2="1510.0" stroke="#555" stroke-width="1.2"/>
<text x="46.0" y="1516.0" font-size="17" text-anchor="end" fill="#222">3</text>
<line x1="50.0" y1="1556.3" x2="56.7" y2="1556.3" stroke="#555" stroke-width="1.2"/>
<text x="46.0" y="1562.3" font-size="17" text-anchor="end" fill="#222">0</text>
<line x1="50.0" y1="1602.6" x2="56.7" y2="1602.6" stroke="#555" stroke-width="1.2"/>
<text x="46.0" y="1608.6" font-size="17" text-anchor="end" fill="#222">-3</text>
<line x1="50.0" y1="1648.8" x2="56.7" y2="1648.8" stroke="#555" stroke-width="1.2"/>
<text x="46.0" y="1654.8" font-size="17" text-anchor="end" fill="#222">-6</text>
<line x1="50.0" y1="1715.0" x2="56.7" y2="1715.0" stroke="#555" stroke-width="1.2"/>
<text x="46.0" y="1721.0" font-size="17" text-anchor="end" fill="#222">-8</text>
<line x1="58.6" y1="1719.0" x2="58.6" y2="1725.0" stroke="#555" stroke-width="1.2"/>
<text x="58.6" y="1740.5" font-size="17" text-anchor="middle" fill="#222">-12</text>
<line x1="120.3" y1="1719.0" x2="120.3" y2="1725.0" stroke="#555" stroke-width="1.2"/>
<text x="120.3" y="1740.5" font-size="17" text-anchor="middle" fill="#222">-3</text>
<line x1="168.5" y1="1719.0" x2="168.5" y2="1725.0" stroke="#555" stroke-width="1.2"/>
<text x="168.5" y="1740.5" font-size="17" text-anchor="middle" fill="#222">0</text>
<line x1="216.7" y1="1719.0" x2="216.7" y2="1725.0" stroke="#555" stroke-width="1.2"/>
<text x="216.7" y="1740.5" font-size="17" text-anchor="middle" fill="#222">3</text>
<line x1="265.2" y1="1719.0" x2="265.2" y2="1725.0" stroke="#555" stroke-width="1.2"/>
<text x="265.2" y="1740.5" font-size="17" text-anchor="middle" fill="#222">6</text>
<line x1="314.2" y1="1719.0" x2="314.2" y2="1725.0" stroke="#555" stroke-width="1.2"/>
<text x="314.2" y="1740.5" font-size="17" text-anchor="middle" fill="#222">12</text>
<line x1="362.4" y1="1719.0" x2="362.4" y2="1725.0" stroke="#555" stroke-width="1.2"/>
<text x="362.4" y="1740.5" font-size="17" text-anchor="middle" fill="#222">15</text>
<line x1="409.4" y1="1719.0" x2="409.4" y2="1725.0" stroke="#555" stroke-width="1.2"/>
<text x="409.4" y="1740.5" font-size="17" text-anchor="middle" fill="#222">18</text>
<g transform="translate(50,1270) scale(0.21542)">
<path d="M915,70 L1000,230" fill="none" stroke="#e8b0c0" stroke-width="5"/>
<path d="M965.0,340.0Q960.0,300.0 980.0,280.0Q1000.0,260.0 1040.0,250.0Q1080.0,240.0 1095.0,230.0Q1110.0,220.0 1105.0,180.0Q1100.0,140.0 1115.0,115.0Q1130.0,90.0 1145.0,100.0Q1160.0,110.0 1170.0,140.0Q1180.0,170.0 1175.0,205.0Q1170.0,240.0 1200.0,260.0Q1230.0,280.0 1242.5,310.0Q1255.0,340.0 1252.5,370.0Q1250.0,400.0 1225.0,420.0Q1200.0,440.0 1175.0,430.0Q1150.0,420.0 1115.0,430.0Q1080.0,440.0 1065.0,445.0Q1050.0,450.0 1030.0,440.0Q1010.0,430.0 990.0,405.0Q970.0,380.0 965.0,340.0Z" fill="#e3a0b2" filter="url(#s95)"/>
<path d="M962.5,345.0Q960.0,320.0 985.0,305.0Q1010.0,290.0 1045.0,280.0Q1080.0,270.0 1090.0,300.0Q1100.0,330.0 1090.0,365.0Q1080.0,400.0 1065.0,425.0Q1050.0,450.0 1025.0,435.0Q1000.0,420.0 982.5,395.0Q965.0,370.0 962.5,345.0Z" fill="#e8567a" filter="url(#s95)"/>
<path d="M1087.5,180.0Q1085.0,140.0 1107.5,115.0Q1130.0,90.0 1147.5,100.0Q1165.0,110.0 1175.0,145.0Q1185.0,180.0 1177.5,215.0Q1170.0,250.0 1155.0,275.0Q1140.0,300.0 1120.0,295.0Q1100.0,290.0 1095.0,255.0Q1090.0,220.0 1087.5,180.0Z" fill="#a4495c" filter="url(#s95)"/>
<path d="M397.5,375.0Q400.0,330.0 415.0,305.0Q430.0,280.0 455.0,271.0Q480.0,262.0 510.0,266.0Q540.0,270.0 570.0,285.0Q600.0,300.0 620.0,325.0Q640.0,350.0 620.0,385.0Q600.0,420.0 580.0,445.0Q560.0,470.0 530.0,485.0Q500.0,500.0 465.0,490.0Q430.0,480.0 412.5,450.0Q395.0,420.0 397.5,375.0Z" fill="#d3dcc9" filter="url(#s95)"/>
<path d="M502.5,312.5Q495.0,290.0 512.5,282.5Q530.0,275.0 555.0,285.0Q580.0,295.0 587.5,317.5Q595.0,340.0 577.5,350.0Q560.0,360.0 535.0,347.5Q510.0,335.0 502.5,312.5Z" fill="#5a6650" filter="url(#s95)"/>
<path d="M585.0,317.5Q580.0,295.0 610.0,297.5Q640.0,300.0 670.0,325.0Q700.0,350.0 695.0,390.0Q690.0,430.0 675.0,435.0Q660.0,440.0 635.0,415.0Q610.0,390.0 600.0,365.0Q590.0,340.0 585.0,317.5Z" fill="#82ee72" filter="url(#s95)"/>
<path d="M570.0,415.0Q560.0,380.0 600.0,380.0Q640.0,380.0 660.0,405.0Q680.0,430.0 660.0,450.0Q640.0,470.0 610.0,460.0Q580.0,450.0 570.0,415.0Z" fill="#52ad84" filter="url(#s95)"/>
<path d="M417.5,630.0Q420.0,560.0 445.0,540.0Q470.0,520.0 495.0,525.0Q520.0,530.0 540.0,565.0Q560.0,600.0 575.0,625.0Q590.0,650.0 580.0,685.0Q570.0,720.0 545.0,740.0Q520.0,760.0 495.0,775.0Q470.0,790.0 450.0,780.0Q430.0,770.0 422.5,735.0Q415.0,700.0 417.5,630.0Z" fill="#5cbc92" filter="url(#s95)"/>
<path d="M495.0,540.0Q480.0,520.0 505.0,500.0Q530.0,480.0 550.0,510.0Q570.0,540.0 595.0,580.0Q620.0,620.0 610.0,640.0Q600.0,660.0 580.0,640.0Q560.0,620.0 535.0,590.0Q510.0,560.0 495.0,540.0Z" fill="#b4b9a0" filter="url(#s95)"/>
<path d="M570.0,705.0Q570.0,680.0 590.0,670.0Q610.0,660.0 630.0,675.0Q650.0,690.0 635.0,705.0Q620.0,720.0 595.0,725.0Q570.0,730.0 570.0,705.0Z" fill="#a2f03e" filter="url(#s95)"/>
<path d="M750.0,775.0Q760.0,700.0 795.0,660.0Q830.0,620.0 865.0,615.0Q900.0,610.0 940.0,645.0Q980.0,680.0 1010.0,740.0Q1040.0,800.0 1045.0,875.0Q1050.0,950.0 1035.0,1015.0Q1020.0,1080.0 980.0,1100.0Q940.0,1120.0 890.0,1100.0Q840.0,1080.0 800.0,1035.0Q760.0,990.0 750.0,920.0Q740.0,850.0 750.0,775.0Z" fill="#daeffb" filter="url(#s95)"/>
<path d="M780.0,760.0Q790.0,720.0 815.0,695.0Q840.0,670.0 870.0,680.0Q900.0,690.0 920.0,720.0Q940.0,750.0 945.0,775.0Q950.0,800.0 925.0,815.0Q900.0,830.0 880.0,865.0Q860.0,900.0 830.0,890.0Q800.0,880.0 785.0,840.0Q770.0,800.0 780.0,760.0Z" fill="#6aa8e5" filter="url(#s95)"/>
<path d="M790.0,940.0Q780.0,900.0 815.0,890.0Q850.0,880.0 885.0,890.0Q920.0,900.0 945.0,925.0Q970.0,950.0 965.0,975.0Q960.0,1000.0 920.0,995.0Q880.0,990.0 840.0,985.0Q800.0,980.0 790.0,940.0Z" fill="#a9c9ea" filter="url(#s95)"/>
<path d="M935.0,850.0Q900.0,820.0 930.0,805.0Q960.0,790.0 985.0,810.0Q1010.0,830.0 1010.0,865.0Q1010.0,900.0 990.0,890.0Q970.0,880.0 935.0,850.0Z" fill="#aac6ca" filter="url(#s95)"/>
<path d="M790.0,995.0Q790.0,980.0 820.0,985.0Q850.0,990.0 890.0,995.0Q930.0,1000.0 955.0,995.0Q980.0,990.0 975.0,1020.0Q970.0,1050.0 950.0,1065.0Q930.0,1080.0 905.0,1070.0Q880.0,1060.0 850.0,1045.0Q820.0,1030.0 805.0,1020.0Q790.0,1010.0 790.0,995.0Z" fill="#4a78a2" filter="url(#s95)"/>
<path d="M1330.0,800.0Q1330.0,780.0 1365.0,760.0Q1400.0,740.0 1425.0,745.0Q1450.0,750.0 1475.0,725.0Q1500.0,700.0 1512.5,710.0Q1525.0,720.0 1532.5,770.0Q1540.0,820.0 1555.0,860.0Q1570.0,900.0 1565.0,945.0Q1560.0,990.0 1540.0,1000.0Q1520.0,1010.0 1485.0,980.0Q1450.0,950.0 1420.0,910.0Q1390.0,870.0 1360.0,845.0Q1330.0,820.0 1330.0,800.0Z" fill="#a9a35a" filter="url(#s95)"/>
<path d="M1290.0,900.0Q1300.0,850.0 1320.0,835.0Q1340.0,820.0 1365.0,845.0Q1390.0,870.0 1420.0,910.0Q1450.0,950.0 1485.0,980.0Q1520.0,1010.0 1510.0,1035.0Q1500.0,1060.0 1470.0,1072.5Q1440.0,1085.0 1400.0,1077.5Q1360.0,1070.0 1330.0,1045.0Q1300.0,1020.0 1290.0,985.0Q1280.0,950.0 1290.0,900.0Z" fill="#ddd88c" filter="url(#s95)"/>
<path d="M1180,950 Q1230,930 1285,920" fill="none" stroke="#ddd88c" stroke-width="5"/>
<path d="M72.5,982.5Q70.0,960.0 90.0,950.0Q110.0,940.0 140.0,942.5Q170.0,945.0 185.0,960.0Q200.0,975.0 190.0,995.0Q180.0,1015.0 150.0,1017.5Q120.0,1020.0 97.5,1012.5Q75.0,1005.0 72.5,982.5Z" fill="#a9a9a9" filter="url(#s95)"/>
<path d="M415.0,1090.0Q400.0,1030.0 415.0,1010.0Q430.0,990.0 475.0,980.0Q520.0,970.0 560.0,1000.0Q600.0,1030.0 630.0,1065.0Q660.0,1100.0 705.0,1150.0Q750.0,1200.0 760.0,1230.0Q770.0,1260.0 750.0,1275.0Q730.0,1290.0 685.0,1295.0Q640.0,1300.0 600.0,1300.0Q560.0,1300.0 535.0,1315.0Q510.0,1330.0 495.0,1290.0Q480.0,1250.0 455.0,1200.0Q430.0,1150.0 415.0,1090.0Z" fill="#cfb4b1" filter="url(#s95)"/>
<path d="M1150,1120 Q1165,1160 1160,1205" fill="none" stroke="#dcd890" stroke-width="5"/>
<path d="M1075.0,1285.0Q1070.0,1260.0 1095.0,1242.5Q1120.0,1225.0 1150.0,1227.5Q1180.0,1230.0 1195.0,1255.0Q1210.0,1280.0 1205.0,1300.0Q1200.0,1320.0 1170.0,1325.0Q1140.0,1330.0 1110.0,1320.0Q1080.0,1310.0 1075.0,1285.0Z" fill="#dcd890" filter="url(#s95)"/>
<path d="M110.0,1552.5Q110.0,1535.0 135.0,1530.0Q160.0,1525.0 180.0,1522.5Q200.0,1520.0 222.5,1510.0Q245.0,1500.0 242.5,1505.0Q240.0,1510.0 220.0,1525.0Q200.0,1540.0 200.0,1562.5Q200.0,1585.0 170.0,1587.5Q140.0,1590.0 125.0,1580.0Q110.0,1570.0 110.0,1552.5Z" fill="#c58ad4" filter="url(#s95)"/>
<path d="M540.0,1825.0Q540.0,1780.0 565.0,1740.0Q590.0,1700.0 625.0,1690.0Q660.0,1680.0 690.0,1690.0Q720.0,1700.0 740.0,1725.0Q760.0,1750.0 795.0,1780.0Q830.0,1810.0 850.0,1815.0Q870.0,1820.0 860.0,1860.0Q850.0,1900.0 825.0,1930.0Q800.0,1960.0 760.0,1975.0Q720.0,1990.0 685.0,1990.0Q650.0,1990.0 615.0,1965.0Q580.0,1940.0 560.0,1905.0Q540.0,1870.0 540.0,1825.0Z" fill="#b9914b" filter="url(#s95)"/>
<path d="M690.0,1675.0Q680.0,1650.0 720.0,1625.0Q760.0,1600.0 785.0,1595.0Q810.0,1590.0 845.0,1625.0Q880.0,1660.0 910.0,1690.0Q940.0,1720.0 945.0,1745.0Q950.0,1770.0 915.0,1785.0Q880.0,1800.0 850.0,1795.0Q820.0,1790.0 790.0,1770.0Q760.0,1750.0 730.0,1725.0Q700.0,1700.0 690.0,1675.0Z" fill="#e2d4b6" filter="url(#s95)"/>
<path d="M820.0,1625.0Q800.0,1600.0 835.0,1605.0Q870.0,1610.0 915.0,1620.0Q960.0,1630.0 1000.0,1640.0Q1040.0,1650.0 1047.5,1675.0Q1055.0,1700.0 1037.5,1730.0Q1020.0,1760.0 985.0,1760.0Q950.0,1760.0 925.0,1740.0Q900.0,1720.0 870.0,1685.0Q840.0,1650.0 820.0,1625.0Z" fill="#f8d082" filter="url(#s95)"/>
<path d="M1320,1460 L1348,1505" fill="none" stroke="#b5aa9a" stroke-width="5"/>
<path d="M1342.5,1550.0Q1340.0,1500.0 1370.0,1495.0Q1400.0,1490.0 1405.0,1525.0Q1410.0,1560.0 1402.5,1600.0Q1395.0,1640.0 1387.5,1670.0Q1380.0,1700.0 1362.5,1700.0Q1345.0,1700.0 1345.0,1650.0Q1345.0,1600.0 1342.5,1550.0Z" fill="#b5aa9a" filter="url(#s95)"/>
<path d="M1290.0,1805.0Q1300.0,1770.0 1320.0,1735.0Q1340.0,1700.0 1365.0,1690.0Q1390.0,1680.0 1392.5,1720.0Q1395.0,1760.0 1382.5,1800.0Q1370.0,1840.0 1345.0,1855.0Q1320.0,1870.0 1300.0,1855.0Q1280.0,1840.0 1290.0,1805.0Z" fill="#f8b242" filter="url(#s95)"/>
<path d="M1061.0,641.0Q1058.0,640.0 1064.0,631.0Q1070.0,622.0 1076.0,620.0Q1082.0,618.0 1080.0,625.0Q1078.0,632.0 1071.0,637.0Q1064.0,642.0 1061.0,641.0Z" fill="#62d02c" filter="url(#s95)"/>
</g>
<text x="251.3" y="1344.3" font-size="19.95" font-weight="bold" fill="#444" textLength="118.0" lengthAdjust="spacingAndGlyphs">Myeloid / Neut</text>
<text x="118.4" y="1382.8" font-size="19.95" font-weight="bold" fill="#444" textLength="107.0" lengthAdjust="spacingAndGlyphs">T Cells / ILCs</text>
<text x="282.6" y="1406.0" font-size="19.95" font-weight="bold" fill="#444" textLength="54.0" lengthAdjust="spacingAndGlyphs">Neural</text>
<text x="166.5" y="1464.5" font-size="19.95" font-weight="bold" fill="#2b7de0" textLength="149.0" lengthAdjust="spacingAndGlyphs">KCs / Merkel Cells</text>
<text x="64.4" y="1488.4" font-size="19.95" font-weight="bold" fill="#444" textLength="58.0" lengthAdjust="spacingAndGlyphs">B Cells</text>
<text x="319.2" y="1487.0" font-size="19.95" font-weight="bold" fill="#444" textLength="82.0" lengthAdjust="spacingAndGlyphs">Fibroblast</text>
<text x="142.6" y="1531.2" font-size="19.95" font-weight="bold" fill="#444" textLength="106.0" lengthAdjust="spacingAndGlyphs">Plasma Cells</text>
<text x="264.5" y="1552.4" font-size="19.95" font-weight="bold" fill="#444" textLength="86.0" lengthAdjust="spacingAndGlyphs">Mast Cells</text>
<text x="75.2" y="1612.2" font-size="19.95" font-weight="bold" fill="#444" textLength="45.0" lengthAdjust="spacingAndGlyphs">LECs</text>
<text x="298.0" y="1636.9" font-size="19.95" font-weight="bold" fill="#444" textLength="128.0" lengthAdjust="spacingAndGlyphs">Pericytes / VSM</text>
<text x="192.0" y="1652.7" font-size="19.95" font-weight="bold" fill="#333" textLength="47.0" lengthAdjust="spacingAndGlyphs">VECs</text>
<text x="266.0" y="1710.5" font-size="17.85" fill="#111" textLength="147.0" lengthAdjust="spacingAndGlyphs">n=103899, 34 samples</text>
<line x1="75.9" y1="1698.0" x2="75.9" y2="1648.0" stroke="#333" stroke-width="1"/>
<path d="M73,1650 L75.9,1643 L78.8,1650 Z" fill="#333"/>
<line x1="75.9" y1="1698.0" x2="124.0" y2="1698.0" stroke="#333" stroke-width="1"/>
<path d="M122,1695 L128,1698 L122,1701 Z" fill="#333"/>
<text x="71.0" y="1697.0" font-size="17.85" fill="#111" textLength="53.0" lengthAdjust="spacingAndGlyphs" transform="rotate(-90 71.0 1697.0)">UMAP1</text>
<text x="77.0" y="1714.0" font-size="17.85" fill="#111" textLength="52.0" lengthAdjust="spacingAndGlyphs">UMAP2</text>
<rect x="440.6" y="1264.0" width="204.0" height="474.0" fill="#fff" stroke="#333" stroke-width="1.2"/>
<circle cx="455.7" cy="1279.5" r="7.60" fill="#4a8fdc"/>
<text x="455.7" y="1283.8" font-size="12" text-anchor="middle" font-weight="bold" fill="#111">1</text>
<text x="468.4" y="1285.5" font-size="17.85" fill="#111" textLength="82.9" lengthAdjust="spacingAndGlyphs">MM Basal KC</text>
<circle cx="455.7" cy="1305.3" r="7.60" fill="#a9c9ee"/>
<text x="455.7" y="1309.6" font-size="12" text-anchor="middle" font-weight="bold" fill="#111">2</text>
<text x="468.4" y="1311.3" font-size="17.85" fill="#111" textLength="78.3" lengthAdjust="spacingAndGlyphs">LM Basal KC</text>
<circle cx="455.7" cy="1331.1" r="7.60" fill="#14305e"/>
<text x="455.7" y="1335.4" font-size="12" text-anchor="middle" font-weight="bold" fill="#111">3</text>
<text x="468.4" y="1337.1" font-size="17.85" fill="#111" textLength="47.4" lengthAdjust="spacingAndGlyphs">SB KCs</text>
<circle cx="455.7" cy="1356.9" r="7.60" fill="#9fb1b0"/>
<text x="455.7" y="1361.2" font-size="12" text-anchor="middle" font-weight="bold" fill="#111">4</text>
<text x="468.4" y="1362.9" font-size="17.85" fill="#111" textLength="45.5" lengthAdjust="spacingAndGlyphs">SK/JKs</text>
<circle cx="455.7" cy="1382.7" r="7.60" fill="#3bb3b5"/>
<text x="455.7" y="1387.0" font-size="12" text-anchor="middle" font-weight="bold" fill="#111">5</text>
<text x="468.4" y="1388.7" font-size="17.85" fill="#111" textLength="73.2" lengthAdjust="spacingAndGlyphs">Merkel Cells</text>
<circle cx="455.7" cy="1408.5" r="7.60" fill="#8fdc92"/>
<text x="455.7" y="1412.8" font-size="12" text-anchor="middle" font-weight="bold" fill="#111">6</text>
<text x="468.4" y="1414.5" font-size="17.85" fill="#111" textLength="74.4" lengthAdjust="spacingAndGlyphs">Melanocytes</text>
<circle cx="455.7" cy="1434.3" r="7.60" fill="#34506f"/>
<text x="455.7" y="1438.6" font-size="12" text-anchor="middle" font-weight="bold" fill="#111">7</text>
<text x="468.4" y="1440.3" font-size="17.85" fill="#111" textLength="70.5" lengthAdjust="spacingAndGlyphs">Langerhans</text>
<circle cx="455.7" cy="1460.1" r="7.60" fill="#857a2a"/>
<text x="455.7" y="1464.4" font-size="12" text-anchor="middle" font-weight="bold" fill="#111">8</text>
<text x="468.4" y="1466.1" font-size="17.85" fill="#111" textLength="69.4" lengthAdjust="spacingAndGlyphs">Fibroblast 1</text>
<circle cx="455.7" cy="1485.9" r="7.60" fill="#d8cf7a"/>
<text x="455.7" y="1490.2" font-size="12" text-anchor="middle" font-weight="bold" fill="#111">9</text>
<text x="468.4" y="1491.9" font-size="17.85" fill="#111" textLength="70.2" lengthAdjust="spacingAndGlyphs">Fibroblast 2</text>
<circle cx="455.7" cy="1511.7" r="7.60" fill="#f9c65e"/>
<text x="455.7" y="1516.0" font-size="12.6" text-anchor="middle" font-weight="bold" fill="#111" textLength="12.0" lengthAdjust="spacingAndGlyphs">10</text>
<text x="468.4" y="1517.7" font-size="17.85" fill="#111" textLength="72.5" lengthAdjust="spacingAndGlyphs">Arterial VEC</text>
<circle cx="455.7" cy="1537.5" r="7.60" fill="#dfcfae"/>
<text x="455.7" y="1541.8" font-size="12.6" text-anchor="middle" font-weight="bold" fill="#111" textLength="12.0" lengthAdjust="spacingAndGlyphs">11</text>
<text x="468.4" y="1543.5" font-size="17.85" fill="#111" textLength="82.1" lengthAdjust="spacingAndGlyphs">Capillary VEC</text>
<circle cx="455.7" cy="1563.3" r="7.60" fill="#9c6a18"/>
<text x="455.7" y="1567.6" font-size="12.6" text-anchor="middle" font-weight="bold" fill="#111" textLength="12.0" lengthAdjust="spacingAndGlyphs">12</text>
<text x="468.4" y="1569.3" font-size="17.85" fill="#111" textLength="68.6" lengthAdjust="spacingAndGlyphs">PCV VECs</text>
<circle cx="455.7" cy="1589.1" r="7.60" fill="#9f8e7c"/>
<text x="455.7" y="1593.4" font-size="12.6" text-anchor="middle" font-weight="bold" fill="#111" textLength="12.0" lengthAdjust="spacingAndGlyphs">13</text>
<text x="468.4" y="1595.1" font-size="17.85" fill="#111" textLength="75.2" lengthAdjust="spacingAndGlyphs">Vascular SM</text>
<circle cx="455.7" cy="1614.9" r="7.60" fill="#f9a11c"/>
<text x="455.7" y="1619.2" font-size="12.6" text-anchor="middle" font-weight="bold" fill="#111" textLength="12.0" lengthAdjust="spacingAndGlyphs">14</text>
<text x="468.4" y="1620.9" font-size="17.85" fill="#111" textLength="54.0" lengthAdjust="spacingAndGlyphs">Pericytes</text>
<circle cx="455.7" cy="1640.7" r="7.60" fill="#c27fd2"/>
<text x="455.7" y="1645.0" font-size="12.6" text-anchor="middle" font-weight="bold" fill="#111" textLength="12.0" lengthAdjust="spacingAndGlyphs">15</text>
<text x="468.4" y="1646.7" font-size="17.85" fill="#111" textLength="36.6" lengthAdjust="spacingAndGlyphs">LEC 1</text>
<circle cx="455.7" cy="1666.5" r="7.60" fill="#7d2e90"/>
<text x="455.7" y="1670.8" font-size="12.6" text-anchor="middle" font-weight="bold" fill="#111" textLength="12.0" lengthAdjust="spacingAndGlyphs">16</text>
<text x="468.4" y="1672.5" font-size="17.85" fill="#111" textLength="37.8" lengthAdjust="spacingAndGlyphs">LEC 2</text>
<circle cx="455.7" cy="1692.3" r="7.60" fill="#62d02c"/>
<text x="455.7" y="1696.6" font-size="12.6" text-anchor="middle" font-weight="bold" fill="#111" textLength="12.0" lengthAdjust="spacingAndGlyphs">17</text>
<text x="468.4" y="1698.3" font-size="17.85" fill="#111" textLength="88.7" lengthAdjust="spacingAndGlyphs">Schwann Cells</text>
<circle cx="455.7" cy="1718.1" r="7.60" fill="#6a0010"/>
<text x="455.7" y="1722.4" font-size="12.6" text-anchor="middle" font-weight="bold" fill="#111" textLength="12.0" lengthAdjust="spacingAndGlyphs">18</text>
<text x="468.4" y="1724.1" font-size="17.85" fill="#111" textLength="66.7" lengthAdjust="spacingAndGlyphs">Neutrophils</text>
<circle cx="562.0" cy="1279.5" r="7.60" fill="#bf4d6c"/>
<text x="562.0" y="1283.8" font-size="12.6" text-anchor="middle" font-weight="bold" fill="#111" textLength="12.0" lengthAdjust="spacingAndGlyphs">19</text>
<text x="572.5" y="1285.5" font-size="17.85" fill="#111" textLength="64.4" lengthAdjust="spacingAndGlyphs">Mac/Mono</text>
<circle cx="562.0" cy="1305.3" r="7.60" fill="#e0103f"/>
<text x="562.0" y="1309.6" font-size="12.6" text-anchor="middle" font-weight="bold" fill="#111" textLength="12.0" lengthAdjust="spacingAndGlyphs">20</text>
<text x="572.5" y="1311.3" font-size="17.85" fill="#111" textLength="33.5" lengthAdjust="spacingAndGlyphs">cDCs</text>
<circle cx="562.0" cy="1331.1" r="7.60" fill="#f3b6c4"/>
<text x="562.0" y="1335.4" font-size="12.6" text-anchor="middle" font-weight="bold" fill="#111" textLength="12.0" lengthAdjust="spacingAndGlyphs">21</text>
<text x="572.5" y="1337.1" font-size="17.85" fill="#111" textLength="34.7" lengthAdjust="spacingAndGlyphs">pDCs</text>
<circle cx="562.0" cy="1356.9" r="7.60" fill="#cf5f3e"/>
<text x="562.0" y="1361.2" font-size="12.6" text-anchor="middle" font-weight="bold" fill="#111" textLength="12.0" lengthAdjust="spacingAndGlyphs">22</text>
<text x="572.5" y="1362.9" font-size="17.85" fill="#111" textLength="60.5" lengthAdjust="spacingAndGlyphs">Mast Cells</text>
<circle cx="562.0" cy="1382.7" r="7.60" fill="#a3e2a0"/>
<text x="562.0" y="1387.0" font-size="12.6" text-anchor="middle" font-weight="bold" fill="#111" textLength="12.0" lengthAdjust="spacingAndGlyphs">23</text>
<text x="572.5" y="1388.7" font-size="17.85" fill="#111" textLength="52.0" lengthAdjust="spacingAndGlyphs">NK Cells</text>
<circle cx="562.0" cy="1408.5" r="7.60" fill="#0f1f0c"/>
<text x="562.0" y="1412.8" font-size="12.6" text-anchor="middle" font-weight="bold" fill="#111" textLength="12.0" lengthAdjust="spacingAndGlyphs">24</text>
<text x="572.5" y="1414.5" font-size="17.85" fill="#111" textLength="63.6" lengthAdjust="spacingAndGlyphs">NK T Cells</text>
<circle cx="562.0" cy="1434.3" r="7.60" fill="#c8e1c1"/>
<text x="562.0" y="1438.6" font-size="12.6" text-anchor="middle" font-weight="bold" fill="#111" textLength="12.0" lengthAdjust="spacingAndGlyphs">25</text>
<text x="572.5" y="1440.3" font-size="17.85" fill="#111" textLength="45.5" lengthAdjust="spacingAndGlyphs">Tc Cells</text>
<circle cx="562.0" cy="1460.1" r="7.60" fill="#0e6130"/>
<text x="562.0" y="1464.4" font-size="12.6" text-anchor="middle" font-weight="bold" fill="#111" textLength="12.0" lengthAdjust="spacingAndGlyphs">26</text>
<text x="572.5" y="1466.1" font-size="17.85" fill="#111" textLength="58.2" lengthAdjust="spacingAndGlyphs">gd T Cells</text>
<circle cx="562.0" cy="1485.9" r="7.60" fill="#7ff01c"/>
<text x="562.0" y="1490.2" font-size="12.6" text-anchor="middle" font-weight="bold" fill="#111" textLength="12.0" lengthAdjust="spacingAndGlyphs">27</text>
<text x="572.5" y="1491.9" font-size="17.85" fill="#111" textLength="59.8" lengthAdjust="spacingAndGlyphs">Treg Cells</text>
<circle cx="562.0" cy="1511.7" r="7.60" fill="#82aa72"/>
<text x="562.0" y="1516.0" font-size="12.6" text-anchor="middle" font-weight="bold" fill="#111" textLength="12.0" lengthAdjust="spacingAndGlyphs">28</text>
<text x="572.5" y="1517.7" font-size="17.85" fill="#111" textLength="64.4" lengthAdjust="spacingAndGlyphs">MAIT Cells</text>
<circle cx="562.0" cy="1537.5" r="7.60" fill="#5f7d4e"/>
<text x="562.0" y="1541.8" font-size="12.6" text-anchor="middle" font-weight="bold" fill="#111" textLength="12.0" lengthAdjust="spacingAndGlyphs">29</text>
<text x="572.5" y="1543.5" font-size="17.85" fill="#111" textLength="63.6" lengthAdjust="spacingAndGlyphs">Th17 Cells</text>
<circle cx="562.0" cy="1563.3" r="7.60" fill="#1fa271"/>
<text x="562.0" y="1567.6" font-size="12.6" text-anchor="middle" font-weight="bold" fill="#111" textLength="12.0" lengthAdjust="spacingAndGlyphs">30</text>
<text x="572.5" y="1569.3" font-size="17.85" fill="#111" textLength="48.2" lengthAdjust="spacingAndGlyphs">Th Cells</text>
<circle cx="562.0" cy="1589.1" r="7.60" fill="#a3a3a3"/>
<text x="562.0" y="1593.4" font-size="12.6" text-anchor="middle" font-weight="bold" fill="#111" textLength="12.0" lengthAdjust="spacingAndGlyphs">31</text>
<text x="572.5" y="1595.1" font-size="17.85" fill="#111" textLength="41.2" lengthAdjust="spacingAndGlyphs">B Cells</text>
<circle cx="562.0" cy="1614.9" r="7.60" fill="#c9a2a2"/>
<text x="562.0" y="1619.2" font-size="12.6" text-anchor="middle" font-weight="bold" fill="#111" textLength="12.0" lengthAdjust="spacingAndGlyphs">32</text>
<text x="572.5" y="1620.9" font-size="17.85" fill="#111" textLength="44.3" lengthAdjust="spacingAndGlyphs">Plasma</text>
<text x="547.4" y="1760.0" font-size="22.57" text-anchor="middle" fill="#2b7de0" textLength="161.6" lengthAdjust="spacingAndGlyphs">link at cellxgene</text>
<text x="674.0" y="1222.0" font-size="39">g</text>
<text x="793.8" y="1259.5" font-size="23.62" fill="#2f7fd8" textLength="218.0" lengthAdjust="spacingAndGlyphs">Epithelial Resident Cells</text>
<circle cx="1452.7" cy="1258.5" r="1.60" fill="#cfcfcf" stroke="#777" stroke-width="0.7"/>
<circle cx="1483.5" cy="1258.5" r="2.00" fill="#cfcfcf" stroke="#777" stroke-width="0.7"/>
<circle cx="1510.9" cy="1258.5" r="2.50" fill="#cfcfcf" stroke="#777" stroke-width="0.7"/>
<circle cx="1541.8" cy="1258.5" r="3.40" fill="#cfcfcf" stroke="#777" stroke-width="0.7"/>
<circle cx="1565.0" cy="1258.5" r="3.90" fill="#cfcfcf" stroke="#777" stroke-width="0.7"/>
<circle cx="1592.0" cy="1258.5" r="4.40" fill="#cfcfcf" stroke="#777" stroke-width="0.7"/>
<text x="1451.0" y="1243.5" font-size="19" text-anchor="middle">0</text>
<text x="1480.5" y="1243.5" font-size="19" text-anchor="middle">20</text>
<text x="1507.5" y="1243.5" font-size="19" text-anchor="middle">40</text>
<text x="1535.0" y="1243.5" font-size="19" text-anchor="middle">60</text>
<text x="1561.5" y="1243.5" font-size="19" text-anchor="middle">80</text>
<text x="1591.5" y="1243.5" font-size="19" text-anchor="middle">100</text>
<defs><linearGradient id="vir" x1="0" x2="1" y1="0" y2="0"><stop offset="0.0" stop-color="#440154"/><stop offset="0.1" stop-color="#482475"/><stop offset="0.2" stop-color="#414487"/><stop offset="0.3" stop-color="#355f8d"/><stop offset="0.4" stop-color="#2a788e"/><stop offset="0.5" stop-color="#21918c"/><stop offset="0.6" stop-color="#22a884"/><stop offset="0.7" stop-color="#44bf70"/><stop offset="0.8" stop-color="#7ad151"/><stop offset="0.9" stop-color="#bddf26"/><stop offset="1.0" stop-color="#fde725"/></linearGradient></defs>
<rect x="1639.0" y="1254.5" width="337.0" height="7.5" fill="url(#vir)"/>
<text x="1639.0" y="1247.0" font-size="19">-1</text>
<text x="1750.5" y="1247.0" font-size="19" text-anchor="middle">0</text>
<text x="1862.5" y="1247.0" font-size="19" text-anchor="middle">+1</text>
<text x="1976.0" y="1247.0" font-size="19" text-anchor="end">+2</text>
<rect x="767.0" y="1267.5" width="1221.5" height="460.5" fill="#1c1646" stroke="#555" stroke-width="1.2"/>
<path d="M778.7 1277.8h0M778.7 1292.1h0M791.7 1292.1h0M1430.3 1306.3h0M935.1 1334.9h0M948.1 1334.9h0M961.2 1334.9h0M974.2 1349.1h0M987.2 1349.1h0M1000.3 1349.1h0M1365.2 1349.1h0M1013.3 1363.4h0M1234.9 1363.4h0M1456.4 1363.4h0M1508.5 1363.4h0M1052.4 1377.7h0M1065.4 1377.7h0M1078.5 1377.7h0M1052.4 1392.0h0M1065.4 1392.0h0M1078.5 1392.0h0M1130.6 1406.2h0M1130.6 1420.5h0M1247.9 1449.0h0M1260.9 1449.0h0M1247.9 1463.3h0M1260.9 1463.3h0M1143.6 1477.6h0M1169.7 1477.6h0M1326.1 1477.6h0M1339.1 1477.6h0M1169.7 1491.8h0M1326.1 1491.8h0M1404.3 1520.4h0M1417.3 1520.4h0M1417.3 1534.7h0M1234.9 1548.9h0M1417.3 1548.9h0M1456.4 1548.9h0M1521.6 1563.2h0M1534.6 1563.2h0M1547.6 1563.2h0M1886.5 1563.2h0M1560.7 1577.5h0M1573.7 1577.5h0M1586.7 1577.5h0M1612.8 1591.7h0M1599.8 1606.0h0M1612.8 1606.0h0M1599.8 1620.3h0M1873.5 1677.4h0M1873.5 1691.6h0M1912.6 1705.9h0M1925.6 1705.9h0M1951.7 1720.2h0M1964.7 1720.2h0M1977.7 1720.2h0" stroke="#fde725" stroke-width="10.0" stroke-linecap="round"/>
<path d="M791.7 1277.8h0M1482.5 1363.4h0M1169.7 1463.3h0M1482.5 1548.9h0M1899.5 1677.4h0M1638.9 1705.9h0" stroke="#c2df23" stroke-width="10.0" stroke-linecap="round"/>
<path d="M804.8 1277.8h0M830.8 1292.1h0M778.7 1306.3h0M817.8 1306.3h0M896.0 1320.6h0M1430.3 1320.6h0M1495.5 1363.4h0M1182.7 1377.7h0M1143.6 1406.2h0M1156.7 1406.2h0M1208.8 1434.8h0M1274.0 1449.0h0M1274.0 1463.3h0M1313.1 1463.3h0M1156.7 1477.6h0M1352.2 1477.6h0M1443.4 1534.7h0M1469.4 1534.7h0M1625.8 1606.0h0M1625.8 1620.3h0M1678.0 1634.5h0M1691.0 1634.5h0M1651.9 1648.8h0M1756.2 1648.8h0M1769.2 1648.8h0M1782.2 1648.8h0M1664.9 1663.1h0" stroke="#fde725" stroke-width="9.0" stroke-linecap="round"/>
<path d="M817.8 1277.8h0M843.9 1277.8h0M1130.6 1277.8h0M817.8 1292.1h0M1130.6 1292.1h0M1313.1 1292.1h0M1508.5 1292.1h0M1938.6 1292.1h0M1508.5 1306.3h0M1938.6 1306.3h0M817.8 1320.6h0M830.8 1320.6h0M1938.6 1320.6h0M778.7 1334.9h0M896.0 1349.1h0M1182.7 1349.1h0M817.8 1363.4h0M843.9 1363.4h0M1313.1 1363.4h0M1664.9 1363.4h0M1664.9 1377.7h0M1938.6 1377.7h0M1664.9 1392.0h0M1260.9 1406.2h0M1508.5 1406.2h0M1664.9 1406.2h0M1260.9 1420.5h0M843.9 1434.8h0M1260.9 1434.8h0M1313.1 1434.8h0M1052.4 1449.0h0M1182.7 1477.6h0M1508.5 1477.6h0M1664.9 1477.6h0M817.8 1534.7h0M1104.5 1534.7h0M1638.9 1534.7h0M1873.5 1534.7h0M1104.5 1548.9h0M1638.9 1548.9h0M896.0 1563.2h0M817.8 1577.5h0M1638.9 1577.5h0M1938.6 1577.5h0M1508.5 1591.7h0M1899.5 1591.7h0M1938.6 1591.7h0M1508.5 1606.0h0M1508.5 1663.1h0M1508.5 1691.6h0M1664.9 1705.9h0M1873.5 1705.9h0M1977.7 1705.9h0" stroke="#2a788e" stroke-width="8.0" stroke-linecap="round"/>
<path d="M830.8 1277.8h0M778.7 1320.6h0M1313.1 1334.9h0M1417.3 1363.4h0M830.8 1406.2h0M1143.6 1434.8h0M830.8 1449.0h0M843.9 1548.9h0M1899.5 1548.9h0M1873.5 1591.7h0M1899.5 1606.0h0M1482.5 1620.3h0M1899.5 1620.3h0M1873.5 1634.5h0M1899.5 1634.5h0M1899.5 1648.8h0M1899.5 1663.1h0M1508.5 1705.9h0M1899.5 1705.9h0" stroke="#22a884" stroke-width="9.0" stroke-linecap="round"/>
<path d="M856.9 1277.8h0M869.9 1277.8h0M883.0 1277.8h0M909.0 1277.8h0M922.1 1277.8h0M935.1 1277.8h0M948.1 1277.8h0M961.2 1277.8h0M974.2 1277.8h0M987.2 1277.8h0M1000.3 1277.8h0M1013.3 1277.8h0M1026.3 1277.8h0M1039.4 1277.8h0M1052.4 1277.8h0M1065.4 1277.8h0M1078.5 1277.8h0M1091.5 1277.8h0M1104.5 1277.8h0M1117.6 1277.8h0M1156.7 1277.8h0M1195.8 1277.8h0M1208.8 1277.8h0M1221.8 1277.8h0M1247.9 1277.8h0M1274.0 1277.8h0M1287.0 1277.8h0M1300.0 1277.8h0M1326.1 1277.8h0M1339.1 1277.8h0M1352.2 1277.8h0M1365.2 1277.8h0M1378.2 1277.8h0M1391.3 1277.8h0M1404.3 1277.8h0M1417.3 1277.8h0M1443.4 1277.8h0M1456.4 1277.8h0M1469.4 1277.8h0M1495.5 1277.8h0M1521.6 1277.8h0M1534.6 1277.8h0M1547.6 1277.8h0M1560.7 1277.8h0M1573.7 1277.8h0M1586.7 1277.8h0M1599.8 1277.8h0M1612.8 1277.8h0M1625.8 1277.8h0M1651.9 1277.8h0M1678.0 1277.8h0M1691.0 1277.8h0M1704.0 1277.8h0M1717.1 1277.8h0M1730.1 1277.8h0M1743.1 1277.8h0M1756.2 1277.8h0M1769.2 1277.8h0M1782.2 1277.8h0M1795.3 1277.8h0M1808.3 1277.8h0M1821.3 1277.8h0M1834.4 1277.8h0M1847.4 1277.8h0M1860.4 1277.8h0M1886.5 1277.8h0M1912.6 1277.8h0M1925.6 1277.8h0M1951.7 1277.8h0M1964.7 1277.8h0M1977.7 1277.8h0M856.9 1292.1h0M869.9 1292.1h0M883.0 1292.1h0M909.0 1292.1h0M922.1 1292.1h0M935.1 1292.1h0M948.1 1292.1h0M961.2 1292.1h0M974.2 1292.1h0M987.2 1292.1h0M1000.3 1292.1h0M1013.3 1292.1h0M1026.3 1292.1h0M1039.4 1292.1h0M1052.4 1292.1h0M1065.4 1292.1h0M1078.5 1292.1h0M1091.5 1292.1h0M1104.5 1292.1h0M1117.6 1292.1h0M1156.7 1292.1h0M1169.7 1292.1h0M1182.7 1292.1h0M1195.8 1292.1h0M1208.8 1292.1h0M1221.8 1292.1h0M1247.9 1292.1h0M1274.0 1292.1h0M1287.0 1292.1h0M1300.0 1292.1h0M1326.1 1292.1h0M1339.1 1292.1h0M1352.2 1292.1h0M1365.2 1292.1h0M1378.2 1292.1h0M1391.3 1292.1h0M1404.3 1292.1h0M1417.3 1292.1h0M1443.4 1292.1h0M1456.4 1292.1h0M1469.4 1292.1h0M1495.5 1292.1h0M1521.6 1292.1h0M1534.6 1292.1h0M1547.6 1292.1h0M1560.7 1292.1h0M1573.7 1292.1h0M1586.7 1292.1h0M1599.8 1292.1h0M1612.8 1292.1h0M1625.8 1292.1h0M1651.9 1292.1h0M1678.0 1292.1h0M1691.0 1292.1h0M1704.0 1292.1h0M1717.1 1292.1h0M1730.1 1292.1h0M1743.1 1292.1h0M1756.2 1292.1h0M1769.2 1292.1h0M1782.2 1292.1h0M1795.3 1292.1h0M1808.3 1292.1h0M1821.3 1292.1h0M1834.4 1292.1h0M1847.4 1292.1h0M1860.4 1292.1h0M1886.5 1292.1h0M1912.6 1292.1h0M1925.6 1292.1h0M1951.7 1292.1h0M1964.7 1292.1h0M1977.7 1292.1h0M804.8 1306.3h0M909.0 1306.3h0M922.1 1306.3h0M935.1 1306.3h0M948.1 1306.3h0M961.2 1306.3h0M974.2 1306.3h0M987.2 1306.3h0M1000.3 1306.3h0M1013.3 1306.3h0M1026.3 1306.3h0M1039.4 1306.3h0M1052.4 1306.3h0M1065.4 1306.3h0M1078.5 1306.3h0M1091.5 1306.3h0M1104.5 1306.3h0M1117.6 1306.3h0M1143.6 1306.3h0M1156.7 1306.3h0M1169.7 1306.3h0M1182.7 1306.3h0M1195.8 1306.3h0M1208.8 1306.3h0M1221.8 1306.3h0M1247.9 1306.3h0M1260.9 1306.3h0M1287.0 1306.3h0M1300.0 1306.3h0M1326.1 1306.3h0M1339.1 1306.3h0M1352.2 1306.3h0M1365.2 1306.3h0M1378.2 1306.3h0M1391.3 1306.3h0M1404.3 1306.3h0M1417.3 1306.3h0M1443.4 1306.3h0M1456.4 1306.3h0M1469.4 1306.3h0M1495.5 1306.3h0M1521.6 1306.3h0M1534.6 1306.3h0M1547.6 1306.3h0M1560.7 1306.3h0M1573.7 1306.3h0M1586.7 1306.3h0M1599.8 1306.3h0M1612.8 1306.3h0M1625.8 1306.3h0M1651.9 1306.3h0M1678.0 1306.3h0M1691.0 1306.3h0M1704.0 1306.3h0M1717.1 1306.3h0M1730.1 1306.3h0M1743.1 1306.3h0M1756.2 1306.3h0M1769.2 1306.3h0M1782.2 1306.3h0M1795.3 1306.3h0M1808.3 1306.3h0M1821.3 1306.3h0M1834.4 1306.3h0M1847.4 1306.3h0M1860.4 1306.3h0M1886.5 1306.3h0M1912.6 1306.3h0M1925.6 1306.3h0M1951.7 1306.3h0M1964.7 1306.3h0M1977.7 1306.3h0M856.9 1320.6h0M883.0 1320.6h0M935.1 1320.6h0M948.1 1320.6h0M961.2 1320.6h0M974.2 1320.6h0M987.2 1320.6h0M1000.3 1320.6h0M1013.3 1320.6h0M1026.3 1320.6h0M1039.4 1320.6h0M1065.4 1320.6h0M1078.5 1320.6h0M1091.5 1320.6h0M1104.5 1320.6h0M1117.6 1320.6h0M1156.7 1320.6h0M1182.7 1320.6h0M1195.8 1320.6h0M1208.8 1320.6h0M1221.8 1320.6h0M1247.9 1320.6h0M1260.9 1320.6h0M1274.0 1320.6h0M1287.0 1320.6h0M1300.0 1320.6h0M1326.1 1320.6h0M1339.1 1320.6h0M1352.2 1320.6h0M1365.2 1320.6h0M1378.2 1320.6h0M1391.3 1320.6h0M1404.3 1320.6h0M1417.3 1320.6h0M1443.4 1320.6h0M1456.4 1320.6h0M1469.4 1320.6h0M1495.5 1320.6h0M1521.6 1320.6h0M1534.6 1320.6h0M1547.6 1320.6h0M1560.7 1320.6h0M1573.7 1320.6h0M1586.7 1320.6h0M1599.8 1320.6h0M1612.8 1320.6h0M1625.8 1320.6h0M1651.9 1320.6h0M1678.0 1320.6h0M1691.0 1320.6h0M1704.0 1320.6h0M1717.1 1320.6h0M1730.1 1320.6h0M1743.1 1320.6h0M1756.2 1320.6h0M1769.2 1320.6h0M1782.2 1320.6h0M1795.3 1320.6h0M1808.3 1320.6h0M1821.3 1320.6h0M1834.4 1320.6h0M1847.4 1320.6h0M1860.4 1320.6h0M1886.5 1320.6h0M1912.6 1320.6h0M1925.6 1320.6h0M1951.7 1320.6h0M1964.7 1320.6h0M1977.7 1320.6h0M791.7 1334.9h0M804.8 1334.9h0M856.9 1334.9h0M869.9 1334.9h0M883.0 1334.9h0M909.0 1334.9h0M922.1 1334.9h0M974.2 1334.9h0M987.2 1334.9h0M1000.3 1334.9h0M1013.3 1334.9h0M1026.3 1334.9h0M1039.4 1334.9h0M1052.4 1334.9h0M1065.4 1334.9h0M1078.5 1334.9h0M1091.5 1334.9h0M1130.6 1334.9h0M1143.6 1334.9h0M1156.7 1334.9h0M1169.7 1334.9h0M1182.7 1334.9h0M1195.8 1334.9h0M1208.8 1334.9h0M1221.8 1334.9h0M1247.9 1334.9h0M1260.9 1334.9h0M1274.0 1334.9h0M1287.0 1334.9h0M1300.0 1334.9h0M1326.1 1334.9h0M1339.1 1334.9h0M1352.2 1334.9h0M1365.2 1334.9h0M1378.2 1334.9h0M1391.3 1334.9h0M1404.3 1334.9h0M1417.3 1334.9h0M1430.3 1334.9h0M1443.4 1334.9h0M1456.4 1334.9h0M1469.4 1334.9h0M1521.6 1334.9h0M1534.6 1334.9h0M1547.6 1334.9h0M1560.7 1334.9h0M1573.7 1334.9h0M1586.7 1334.9h0M1599.8 1334.9h0M1612.8 1334.9h0M1625.8 1334.9h0M1651.9 1334.9h0M1678.0 1334.9h0M1691.0 1334.9h0M1704.0 1334.9h0M1717.1 1334.9h0M1730.1 1334.9h0M1743.1 1334.9h0M1756.2 1334.9h0M1769.2 1334.9h0M1782.2 1334.9h0M1795.3 1334.9h0M1808.3 1334.9h0M1821.3 1334.9h0M1834.4 1334.9h0M1847.4 1334.9h0M1860.4 1334.9h0M1886.5 1334.9h0M1912.6 1334.9h0M1925.6 1334.9h0M1951.7 1334.9h0M1964.7 1334.9h0M1977.7 1334.9h0M778.7 1349.1h0M791.7 1349.1h0M804.8 1349.1h0M856.9 1349.1h0M869.9 1349.1h0M883.0 1349.1h0M909.0 1349.1h0M922.1 1349.1h0M935.1 1349.1h0M948.1 1349.1h0M961.2 1349.1h0M1013.3 1349.1h0M1026.3 1349.1h0M1039.4 1349.1h0M1052.4 1349.1h0M1065.4 1349.1h0M1078.5 1349.1h0M1091.5 1349.1h0M1104.5 1349.1h0M1117.6 1349.1h0M1143.6 1349.1h0M1156.7 1349.1h0M1195.8 1349.1h0M1208.8 1349.1h0M1221.8 1349.1h0M1247.9 1349.1h0M1274.0 1349.1h0M1287.0 1349.1h0M1300.0 1349.1h0M1326.1 1349.1h0M1339.1 1349.1h0M1352.2 1349.1h0M1391.3 1349.1h0M1404.3 1349.1h0M1417.3 1349.1h0M1430.3 1349.1h0M1443.4 1349.1h0M1456.4 1349.1h0M1469.4 1349.1h0M1495.5 1349.1h0M1521.6 1349.1h0M1534.6 1349.1h0M1547.6 1349.1h0M1560.7 1349.1h0M1573.7 1349.1h0M1586.7 1349.1h0M1599.8 1349.1h0M1612.8 1349.1h0M1625.8 1349.1h0M1651.9 1349.1h0M1678.0 1349.1h0M1691.0 1349.1h0M1704.0 1349.1h0M1717.1 1349.1h0M1730.1 1349.1h0M1743.1 1349.1h0M1756.2 1349.1h0M1769.2 1349.1h0M1782.2 1349.1h0M1795.3 1349.1h0M1808.3 1349.1h0M1821.3 1349.1h0M1834.4 1349.1h0M1847.4 1349.1h0M1860.4 1349.1h0M1886.5 1349.1h0M1912.6 1349.1h0M1925.6 1349.1h0M1951.7 1349.1h0M1964.7 1349.1h0M1977.7 1349.1h0M778.7 1363.4h0M791.7 1363.4h0M804.8 1363.4h0M856.9 1363.4h0M869.9 1363.4h0M883.0 1363.4h0M909.0 1363.4h0M922.1 1363.4h0M935.1 1363.4h0M948.1 1363.4h0M961.2 1363.4h0M974.2 1363.4h0M987.2 1363.4h0M1000.3 1363.4h0M1052.4 1363.4h0M1065.4 1363.4h0M1078.5 1363.4h0M1091.5 1363.4h0M1130.6 1363.4h0M1143.6 1363.4h0M1156.7 1363.4h0M1169.7 1363.4h0M1182.7 1363.4h0M1195.8 1363.4h0M1208.8 1363.4h0M1221.8 1363.4h0M1247.9 1363.4h0M1260.9 1363.4h0M1274.0 1363.4h0M1287.0 1363.4h0M1300.0 1363.4h0M1326.1 1363.4h0M1339.1 1363.4h0M1352.2 1363.4h0M1365.2 1363.4h0M1378.2 1363.4h0M1391.3 1363.4h0M1430.3 1363.4h0M1521.6 1363.4h0M1534.6 1363.4h0M1547.6 1363.4h0M1560.7 1363.4h0M1573.7 1363.4h0M1586.7 1363.4h0M1599.8 1363.4h0M1612.8 1363.4h0M1625.8 1363.4h0M1651.9 1363.4h0M1678.0 1363.4h0M1691.0 1363.4h0M1704.0 1363.4h0M1717.1 1363.4h0M1730.1 1363.4h0M1743.1 1363.4h0M1756.2 1363.4h0M1769.2 1363.4h0M1782.2 1363.4h0M1795.3 1363.4h0M1808.3 1363.4h0M1834.4 1363.4h0M1847.4 1363.4h0M1860.4 1363.4h0M1886.5 1363.4h0M1912.6 1363.4h0M1925.6 1363.4h0M1951.7 1363.4h0M1964.7 1363.4h0M1977.7 1363.4h0M778.7 1377.7h0M791.7 1377.7h0M804.8 1377.7h0M856.9 1377.7h0M869.9 1377.7h0M883.0 1377.7h0M909.0 1377.7h0M935.1 1377.7h0M948.1 1377.7h0M961.2 1377.7h0M974.2 1377.7h0M987.2 1377.7h0M1000.3 1377.7h0M1013.3 1377.7h0M1026.3 1377.7h0M1039.4 1377.7h0M1143.6 1377.7h0M1156.7 1377.7h0M1195.8 1377.7h0M1208.8 1377.7h0M1221.8 1377.7h0M1247.9 1377.7h0M1274.0 1377.7h0M1287.0 1377.7h0M1300.0 1377.7h0M1326.1 1377.7h0M1339.1 1377.7h0M1365.2 1377.7h0M1378.2 1377.7h0M1391.3 1377.7h0M1404.3 1377.7h0M1417.3 1377.7h0M1430.3 1377.7h0M1443.4 1377.7h0M1456.4 1377.7h0M1469.4 1377.7h0M1495.5 1377.7h0M1521.6 1377.7h0M1534.6 1377.7h0M1547.6 1377.7h0M1560.7 1377.7h0M1573.7 1377.7h0M1586.7 1377.7h0M1599.8 1377.7h0M1612.8 1377.7h0M1625.8 1377.7h0M1651.9 1377.7h0M1678.0 1377.7h0M1691.0 1377.7h0M1704.0 1377.7h0M1717.1 1377.7h0M1730.1 1377.7h0M1743.1 1377.7h0M1756.2 1377.7h0M1769.2 1377.7h0M1782.2 1377.7h0M1795.3 1377.7h0M1808.3 1377.7h0M1821.3 1377.7h0M1834.4 1377.7h0M1847.4 1377.7h0M1860.4 1377.7h0M1886.5 1377.7h0M1912.6 1377.7h0M1925.6 1377.7h0M1951.7 1377.7h0M1964.7 1377.7h0M1977.7 1377.7h0M778.7 1392.0h0M791.7 1392.0h0M804.8 1392.0h0M856.9 1392.0h0M869.9 1392.0h0M883.0 1392.0h0M909.0 1392.0h0M935.1 1392.0h0M948.1 1392.0h0M961.2 1392.0h0M974.2 1392.0h0M987.2 1392.0h0M1000.3 1392.0h0M1013.3 1392.0h0M1026.3 1392.0h0M1039.4 1392.0h0M1143.6 1392.0h0M1156.7 1392.0h0M1195.8 1392.0h0M1208.8 1392.0h0M1221.8 1392.0h0M1247.9 1392.0h0M1274.0 1392.0h0M1287.0 1392.0h0M1300.0 1392.0h0M1326.1 1392.0h0M1339.1 1392.0h0M1365.2 1392.0h0M1378.2 1392.0h0M1391.3 1392.0h0M1404.3 1392.0h0M1417.3 1392.0h0M1430.3 1392.0h0M1443.4 1392.0h0M1456.4 1392.0h0M1469.4 1392.0h0M1495.5 1392.0h0M1521.6 1392.0h0M1534.6 1392.0h0M1547.6 1392.0h0M1560.7 1392.0h0M1573.7 1392.0h0M1586.7 1392.0h0M1599.8 1392.0h0M1612.8 1392.0h0M1625.8 1392.0h0M1651.9 1392.0h0M1678.0 1392.0h0M1691.0 1392.0h0M1704.0 1392.0h0M1717.1 1392.0h0M1730.1 1392.0h0M1743.1 1392.0h0M1756.2 1392.0h0M1769.2 1392.0h0M1782.2 1392.0h0M1795.3 1392.0h0M1808.3 1392.0h0M1821.3 1392.0h0M1834.4 1392.0h0M1847.4 1392.0h0M1860.4 1392.0h0M1886.5 1392.0h0M1912.6 1392.0h0M1925.6 1392.0h0M1951.7 1392.0h0M1964.7 1392.0h0M1977.7 1392.0h0M778.7 1406.2h0M791.7 1406.2h0M804.8 1406.2h0M856.9 1406.2h0M869.9 1406.2h0M883.0 1406.2h0M909.0 1406.2h0M922.1 1406.2h0M935.1 1406.2h0M948.1 1406.2h0M961.2 1406.2h0M974.2 1406.2h0M987.2 1406.2h0M1000.3 1406.2h0M1013.3 1406.2h0M1026.3 1406.2h0M1039.4 1406.2h0M1052.4 1406.2h0M1065.4 1406.2h0M1078.5 1406.2h0M1091.5 1406.2h0M1208.8 1406.2h0M1221.8 1406.2h0M1247.9 1406.2h0M1274.0 1406.2h0M1287.0 1406.2h0M1300.0 1406.2h0M1326.1 1406.2h0M1339.1 1406.2h0M1352.2 1406.2h0M1365.2 1406.2h0M1378.2 1406.2h0M1391.3 1406.2h0M1404.3 1406.2h0M1417.3 1406.2h0M1430.3 1406.2h0M1443.4 1406.2h0M1456.4 1406.2h0M1469.4 1406.2h0M1495.5 1406.2h0M1521.6 1406.2h0M1534.6 1406.2h0M1547.6 1406.2h0M1560.7 1406.2h0M1573.7 1406.2h0M1586.7 1406.2h0M1599.8 1406.2h0M1612.8 1406.2h0M1625.8 1406.2h0M1651.9 1406.2h0M1678.0 1406.2h0M1691.0 1406.2h0M1704.0 1406.2h0M1717.1 1406.2h0M1730.1 1406.2h0M1743.1 1406.2h0M1756.2 1406.2h0M1769.2 1406.2h0M1782.2 1406.2h0M1795.3 1406.2h0M1808.3 1406.2h0M1821.3 1406.2h0M1847.4 1406.2h0M1860.4 1406.2h0M1886.5 1406.2h0M1912.6 1406.2h0M1925.6 1406.2h0M1951.7 1406.2h0M1964.7 1406.2h0M1977.7 1406.2h0M778.7 1420.5h0M791.7 1420.5h0M804.8 1420.5h0M856.9 1420.5h0M869.9 1420.5h0M883.0 1420.5h0M909.0 1420.5h0M922.1 1420.5h0M935.1 1420.5h0M948.1 1420.5h0M961.2 1420.5h0M974.2 1420.5h0M987.2 1420.5h0M1000.3 1420.5h0M1013.3 1420.5h0M1026.3 1420.5h0M1039.4 1420.5h0M1052.4 1420.5h0M1065.4 1420.5h0M1078.5 1420.5h0M1091.5 1420.5h0M1117.6 1420.5h0M1208.8 1420.5h0M1221.8 1420.5h0M1247.9 1420.5h0M1274.0 1420.5h0M1287.0 1420.5h0M1300.0 1420.5h0M1326.1 1420.5h0M1339.1 1420.5h0M1352.2 1420.5h0M1365.2 1420.5h0M1378.2 1420.5h0M1391.3 1420.5h0M1404.3 1420.5h0M1417.3 1420.5h0M1430.3 1420.5h0M1443.4 1420.5h0M1456.4 1420.5h0M1469.4 1420.5h0M1495.5 1420.5h0M1521.6 1420.5h0M1534.6 1420.5h0M1547.6 1420.5h0M1560.7 1420.5h0M1573.7 1420.5h0M1586.7 1420.5h0M1599.8 1420.5h0M1612.8 1420.5h0M1625.8 1420.5h0M1651.9 1420.5h0M1678.0 1420.5h0M1691.0 1420.5h0M1704.0 1420.5h0M1717.1 1420.5h0M1730.1 1420.5h0M1743.1 1420.5h0M1756.2 1420.5h0M1769.2 1420.5h0M1782.2 1420.5h0M1795.3 1420.5h0M1808.3 1420.5h0M1821.3 1420.5h0M1847.4 1420.5h0M1860.4 1420.5h0M1886.5 1420.5h0M1912.6 1420.5h0M1925.6 1420.5h0M1951.7 1420.5h0M1964.7 1420.5h0M1977.7 1420.5h0M778.7 1434.8h0M791.7 1434.8h0M804.8 1434.8h0M856.9 1434.8h0M869.9 1434.8h0M883.0 1434.8h0M909.0 1434.8h0M922.1 1434.8h0M935.1 1434.8h0M948.1 1434.8h0M961.2 1434.8h0M974.2 1434.8h0M987.2 1434.8h0M1000.3 1434.8h0M1013.3 1434.8h0M1026.3 1434.8h0M1039.4 1434.8h0M1052.4 1434.8h0M1065.4 1434.8h0M1078.5 1434.8h0M1091.5 1434.8h0M1117.6 1434.8h0M1247.9 1434.8h0M1274.0 1434.8h0M1287.0 1434.8h0M1300.0 1434.8h0M1326.1 1434.8h0M1339.1 1434.8h0M1352.2 1434.8h0M1365.2 1434.8h0M1378.2 1434.8h0M1391.3 1434.8h0M1404.3 1434.8h0M1417.3 1434.8h0M1430.3 1434.8h0M1443.4 1434.8h0M1456.4 1434.8h0M1469.4 1434.8h0M1495.5 1434.8h0M1521.6 1434.8h0M1534.6 1434.8h0M1547.6 1434.8h0M1560.7 1434.8h0M1573.7 1434.8h0M1586.7 1434.8h0M1599.8 1434.8h0M1612.8 1434.8h0M1625.8 1434.8h0M1651.9 1434.8h0M1678.0 1434.8h0M1691.0 1434.8h0M1704.0 1434.8h0M1717.1 1434.8h0M1730.1 1434.8h0M1743.1 1434.8h0M1756.2 1434.8h0M1769.2 1434.8h0M1782.2 1434.8h0M1795.3 1434.8h0M1808.3 1434.8h0M1821.3 1434.8h0M1834.4 1434.8h0M1847.4 1434.8h0M1860.4 1434.8h0M1886.5 1434.8h0M1912.6 1434.8h0M1925.6 1434.8h0M1951.7 1434.8h0M1964.7 1434.8h0M1977.7 1434.8h0M778.7 1449.0h0M791.7 1449.0h0M804.8 1449.0h0M856.9 1449.0h0M869.9 1449.0h0M883.0 1449.0h0M909.0 1449.0h0M922.1 1449.0h0M935.1 1449.0h0M948.1 1449.0h0M961.2 1449.0h0M974.2 1449.0h0M987.2 1449.0h0M1000.3 1449.0h0M1013.3 1449.0h0M1026.3 1449.0h0M1039.4 1449.0h0M1143.6 1449.0h0M1156.7 1449.0h0M1195.8 1449.0h0M1208.8 1449.0h0M1221.8 1449.0h0M1287.0 1449.0h0M1326.1 1449.0h0M1339.1 1449.0h0M1365.2 1449.0h0M1378.2 1449.0h0M1391.3 1449.0h0M1404.3 1449.0h0M1417.3 1449.0h0M1430.3 1449.0h0M1443.4 1449.0h0M1456.4 1449.0h0M1469.4 1449.0h0M1495.5 1449.0h0M1521.6 1449.0h0M1534.6 1449.0h0M1547.6 1449.0h0M1560.7 1449.0h0M1573.7 1449.0h0M1586.7 1449.0h0M1599.8 1449.0h0M1612.8 1449.0h0M1625.8 1449.0h0M1651.9 1449.0h0M1678.0 1449.0h0M1691.0 1449.0h0M1704.0 1449.0h0M1717.1 1449.0h0M1730.1 1449.0h0M1743.1 1449.0h0M1756.2 1449.0h0M1769.2 1449.0h0M1782.2 1449.0h0M1795.3 1449.0h0M1808.3 1449.0h0M1821.3 1449.0h0M1834.4 1449.0h0M1847.4 1449.0h0M1860.4 1449.0h0M1886.5 1449.0h0M1912.6 1449.0h0M1925.6 1449.0h0M1951.7 1449.0h0M1964.7 1449.0h0M1977.7 1449.0h0M778.7 1463.3h0M791.7 1463.3h0M804.8 1463.3h0M856.9 1463.3h0M869.9 1463.3h0M883.0 1463.3h0M909.0 1463.3h0M922.1 1463.3h0M935.1 1463.3h0M948.1 1463.3h0M961.2 1463.3h0M974.2 1463.3h0M987.2 1463.3h0M1000.3 1463.3h0M1013.3 1463.3h0M1026.3 1463.3h0M1039.4 1463.3h0M1052.4 1463.3h0M1065.4 1463.3h0M1078.5 1463.3h0M1091.5 1463.3h0M1130.6 1463.3h0M1143.6 1463.3h0M1156.7 1463.3h0M1195.8 1463.3h0M1208.8 1463.3h0M1221.8 1463.3h0M1326.1 1463.3h0M1339.1 1463.3h0M1365.2 1463.3h0M1378.2 1463.3h0M1391.3 1463.3h0M1404.3 1463.3h0M1417.3 1463.3h0M1430.3 1463.3h0M1443.4 1463.3h0M1456.4 1463.3h0M1469.4 1463.3h0M1495.5 1463.3h0M1521.6 1463.3h0M1534.6 1463.3h0M1547.6 1463.3h0M1560.7 1463.3h0M1573.7 1463.3h0M1586.7 1463.3h0M1599.8 1463.3h0M1612.8 1463.3h0M1625.8 1463.3h0M1651.9 1463.3h0M1678.0 1463.3h0M1691.0 1463.3h0M1704.0 1463.3h0M1717.1 1463.3h0M1730.1 1463.3h0M1743.1 1463.3h0M1756.2 1463.3h0M1769.2 1463.3h0M1782.2 1463.3h0M1795.3 1463.3h0M1808.3 1463.3h0M1821.3 1463.3h0M1834.4 1463.3h0M1847.4 1463.3h0M1860.4 1463.3h0M1886.5 1463.3h0M1912.6 1463.3h0M1925.6 1463.3h0M1951.7 1463.3h0M1964.7 1463.3h0M1977.7 1463.3h0M778.7 1477.6h0M791.7 1477.6h0M804.8 1477.6h0M856.9 1477.6h0M869.9 1477.6h0M883.0 1477.6h0M909.0 1477.6h0M922.1 1477.6h0M935.1 1477.6h0M948.1 1477.6h0M961.2 1477.6h0M974.2 1477.6h0M987.2 1477.6h0M1000.3 1477.6h0M1013.3 1477.6h0M1026.3 1477.6h0M1039.4 1477.6h0M1052.4 1477.6h0M1065.4 1477.6h0M1078.5 1477.6h0M1091.5 1477.6h0M1130.6 1477.6h0M1195.8 1477.6h0M1208.8 1477.6h0M1221.8 1477.6h0M1247.9 1477.6h0M1274.0 1477.6h0M1287.0 1477.6h0M1300.0 1477.6h0M1365.2 1477.6h0M1378.2 1477.6h0M1391.3 1477.6h0M1404.3 1477.6h0M1417.3 1477.6h0M1430.3 1477.6h0M1443.4 1477.6h0M1456.4 1477.6h0M1469.4 1477.6h0M1495.5 1477.6h0M1521.6 1477.6h0M1534.6 1477.6h0M1547.6 1477.6h0M1560.7 1477.6h0M1573.7 1477.6h0M1586.7 1477.6h0M1599.8 1477.6h0M1612.8 1477.6h0M1625.8 1477.6h0M1651.9 1477.6h0M1678.0 1477.6h0M1691.0 1477.6h0M1704.0 1477.6h0M1717.1 1477.6h0M1730.1 1477.6h0M1743.1 1477.6h0M1756.2 1477.6h0M1769.2 1477.6h0M1782.2 1477.6h0M1795.3 1477.6h0M1808.3 1477.6h0M1821.3 1477.6h0M1834.4 1477.6h0M1847.4 1477.6h0M1860.4 1477.6h0M1886.5 1477.6h0M1912.6 1477.6h0M1925.6 1477.6h0M1951.7 1477.6h0M1964.7 1477.6h0M1977.7 1477.6h0M778.7 1491.8h0M791.7 1491.8h0M804.8 1491.8h0M856.9 1491.8h0M869.9 1491.8h0M883.0 1491.8h0M909.0 1491.8h0M922.1 1491.8h0M935.1 1491.8h0M948.1 1491.8h0M961.2 1491.8h0M974.2 1491.8h0M987.2 1491.8h0M1000.3 1491.8h0M1013.3 1491.8h0M1026.3 1491.8h0M1039.4 1491.8h0M1052.4 1491.8h0M1065.4 1491.8h0M1078.5 1491.8h0M1091.5 1491.8h0M1104.5 1491.8h0M1117.6 1491.8h0M1130.6 1491.8h0M1182.7 1491.8h0M1195.8 1491.8h0M1208.8 1491.8h0M1221.8 1491.8h0M1247.9 1491.8h0M1274.0 1491.8h0M1287.0 1491.8h0M1300.0 1491.8h0M1365.2 1491.8h0M1378.2 1491.8h0M1391.3 1491.8h0M1404.3 1491.8h0M1417.3 1491.8h0M1430.3 1491.8h0M1443.4 1491.8h0M1456.4 1491.8h0M1469.4 1491.8h0M1495.5 1491.8h0M1521.6 1491.8h0M1534.6 1491.8h0M1547.6 1491.8h0M1560.7 1491.8h0M1573.7 1491.8h0M1586.7 1491.8h0M1599.8 1491.8h0M1612.8 1491.8h0M1625.8 1491.8h0M1651.9 1491.8h0M1678.0 1491.8h0M1691.0 1491.8h0M1704.0 1491.8h0M1717.1 1491.8h0M1730.1 1491.8h0M1743.1 1491.8h0M1756.2 1491.8h0M1769.2 1491.8h0M1782.2 1491.8h0M1795.3 1491.8h0M1808.3 1491.8h0M1821.3 1491.8h0M1834.4 1491.8h0M1847.4 1491.8h0M1860.4 1491.8h0M1886.5 1491.8h0M1912.6 1491.8h0M1925.6 1491.8h0M1951.7 1491.8h0M1964.7 1491.8h0M1977.7 1491.8h0M778.7 1506.1h0M791.7 1506.1h0M856.9 1506.1h0M869.9 1506.1h0M883.0 1506.1h0M909.0 1506.1h0M922.1 1506.1h0M935.1 1506.1h0M948.1 1506.1h0M961.2 1506.1h0M974.2 1506.1h0M987.2 1506.1h0M1000.3 1506.1h0M1013.3 1506.1h0M1026.3 1506.1h0M1039.4 1506.1h0M1052.4 1506.1h0M1065.4 1506.1h0M1078.5 1506.1h0M1104.5 1506.1h0M1143.6 1506.1h0M1156.7 1506.1h0M1208.8 1506.1h0M1221.8 1506.1h0M1247.9 1506.1h0M1274.0 1506.1h0M1287.0 1506.1h0M1300.0 1506.1h0M1326.1 1506.1h0M1339.1 1506.1h0M1404.3 1506.1h0M1417.3 1506.1h0M1430.3 1506.1h0M1443.4 1506.1h0M1456.4 1506.1h0M1469.4 1506.1h0M1495.5 1506.1h0M1521.6 1506.1h0M1534.6 1506.1h0M1547.6 1506.1h0M1560.7 1506.1h0M1573.7 1506.1h0M1586.7 1506.1h0M1599.8 1506.1h0M1612.8 1506.1h0M1625.8 1506.1h0M1651.9 1506.1h0M1678.0 1506.1h0M1691.0 1506.1h0M1704.0 1506.1h0M1717.1 1506.1h0M1730.1 1506.1h0M1743.1 1506.1h0M1756.2 1506.1h0M1769.2 1506.1h0M1782.2 1506.1h0M1795.3 1506.1h0M1808.3 1506.1h0M1821.3 1506.1h0M1834.4 1506.1h0M1847.4 1506.1h0M1860.4 1506.1h0M1886.5 1506.1h0M1912.6 1506.1h0M1925.6 1506.1h0M1951.7 1506.1h0M1964.7 1506.1h0M1977.7 1506.1h0M778.7 1520.4h0M791.7 1520.4h0M804.8 1520.4h0M856.9 1520.4h0M869.9 1520.4h0M883.0 1520.4h0M909.0 1520.4h0M935.1 1520.4h0M948.1 1520.4h0M961.2 1520.4h0M974.2 1520.4h0M987.2 1520.4h0M1000.3 1520.4h0M1013.3 1520.4h0M1026.3 1520.4h0M1039.4 1520.4h0M1052.4 1520.4h0M1065.4 1520.4h0M1078.5 1520.4h0M1091.5 1520.4h0M1130.6 1520.4h0M1143.6 1520.4h0M1156.7 1520.4h0M1169.7 1520.4h0M1182.7 1520.4h0M1195.8 1520.4h0M1208.8 1520.4h0M1221.8 1520.4h0M1247.9 1520.4h0M1260.9 1520.4h0M1274.0 1520.4h0M1287.0 1520.4h0M1300.0 1520.4h0M1313.1 1520.4h0M1326.1 1520.4h0M1339.1 1520.4h0M1352.2 1520.4h0M1365.2 1520.4h0M1378.2 1520.4h0M1391.3 1520.4h0M1443.4 1520.4h0M1469.4 1520.4h0M1521.6 1520.4h0M1534.6 1520.4h0M1547.6 1520.4h0M1560.7 1520.4h0M1573.7 1520.4h0M1586.7 1520.4h0M1599.8 1520.4h0M1612.8 1520.4h0M1625.8 1520.4h0M1651.9 1520.4h0M1678.0 1520.4h0M1691.0 1520.4h0M1704.0 1520.4h0M1717.1 1520.4h0M1730.1 1520.4h0M1743.1 1520.4h0M1756.2 1520.4h0M1769.2 1520.4h0M1782.2 1520.4h0M1795.3 1520.4h0M1808.3 1520.4h0M1821.3 1520.4h0M1834.4 1520.4h0M1847.4 1520.4h0M1860.4 1520.4h0M1912.6 1520.4h0M1925.6 1520.4h0M1951.7 1520.4h0M1964.7 1520.4h0M778.7 1534.7h0M791.7 1534.7h0M804.8 1534.7h0M856.9 1534.7h0M869.9 1534.7h0M883.0 1534.7h0M909.0 1534.7h0M935.1 1534.7h0M948.1 1534.7h0M961.2 1534.7h0M974.2 1534.7h0M987.2 1534.7h0M1000.3 1534.7h0M1013.3 1534.7h0M1026.3 1534.7h0M1039.4 1534.7h0M1052.4 1534.7h0M1065.4 1534.7h0M1078.5 1534.7h0M1091.5 1534.7h0M1130.6 1534.7h0M1143.6 1534.7h0M1156.7 1534.7h0M1169.7 1534.7h0M1182.7 1534.7h0M1195.8 1534.7h0M1208.8 1534.7h0M1221.8 1534.7h0M1247.9 1534.7h0M1260.9 1534.7h0M1274.0 1534.7h0M1287.0 1534.7h0M1300.0 1534.7h0M1326.1 1534.7h0M1339.1 1534.7h0M1352.2 1534.7h0M1365.2 1534.7h0M1378.2 1534.7h0M1391.3 1534.7h0M1495.5 1534.7h0M1521.6 1534.7h0M1534.6 1534.7h0M1547.6 1534.7h0M1560.7 1534.7h0M1573.7 1534.7h0M1586.7 1534.7h0M1599.8 1534.7h0M1612.8 1534.7h0M1625.8 1534.7h0M1651.9 1534.7h0M1678.0 1534.7h0M1691.0 1534.7h0M1704.0 1534.7h0M1717.1 1534.7h0M1730.1 1534.7h0M1743.1 1534.7h0M1756.2 1534.7h0M1769.2 1534.7h0M1782.2 1534.7h0M1795.3 1534.7h0M1808.3 1534.7h0M1821.3 1534.7h0M1834.4 1534.7h0M1847.4 1534.7h0M1860.4 1534.7h0M1912.6 1534.7h0M1925.6 1534.7h0M1951.7 1534.7h0M1964.7 1534.7h0M778.7 1548.9h0M791.7 1548.9h0M804.8 1548.9h0M856.9 1548.9h0M869.9 1548.9h0M883.0 1548.9h0M909.0 1548.9h0M922.1 1548.9h0M935.1 1548.9h0M948.1 1548.9h0M961.2 1548.9h0M974.2 1548.9h0M987.2 1548.9h0M1000.3 1548.9h0M1013.3 1548.9h0M1026.3 1548.9h0M1039.4 1548.9h0M1052.4 1548.9h0M1065.4 1548.9h0M1078.5 1548.9h0M1091.5 1548.9h0M1130.6 1548.9h0M1143.6 1548.9h0M1156.7 1548.9h0M1169.7 1548.9h0M1182.7 1548.9h0M1195.8 1548.9h0M1208.8 1548.9h0M1221.8 1548.9h0M1247.9 1548.9h0M1260.9 1548.9h0M1274.0 1548.9h0M1287.0 1548.9h0M1300.0 1548.9h0M1326.1 1548.9h0M1339.1 1548.9h0M1352.2 1548.9h0M1365.2 1548.9h0M1378.2 1548.9h0M1391.3 1548.9h0M1521.6 1548.9h0M1534.6 1548.9h0M1547.6 1548.9h0M1560.7 1548.9h0M1573.7 1548.9h0M1586.7 1548.9h0M1599.8 1548.9h0M1612.8 1548.9h0M1625.8 1548.9h0M1651.9 1548.9h0M1678.0 1548.9h0M1691.0 1548.9h0M1704.0 1548.9h0M1717.1 1548.9h0M1730.1 1548.9h0M1743.1 1548.9h0M1756.2 1548.9h0M1769.2 1548.9h0M1782.2 1548.9h0M1795.3 1548.9h0M1808.3 1548.9h0M1821.3 1548.9h0M1834.4 1548.9h0M1847.4 1548.9h0M1860.4 1548.9h0M1912.6 1548.9h0M1925.6 1548.9h0M1951.7 1548.9h0M1964.7 1548.9h0M778.7 1563.2h0M804.8 1563.2h0M856.9 1563.2h0M869.9 1563.2h0M883.0 1563.2h0M909.0 1563.2h0M922.1 1563.2h0M935.1 1563.2h0M948.1 1563.2h0M961.2 1563.2h0M974.2 1563.2h0M987.2 1563.2h0M1000.3 1563.2h0M1013.3 1563.2h0M1026.3 1563.2h0M1039.4 1563.2h0M1052.4 1563.2h0M1065.4 1563.2h0M1078.5 1563.2h0M1091.5 1563.2h0M1130.6 1563.2h0M1143.6 1563.2h0M1156.7 1563.2h0M1169.7 1563.2h0M1182.7 1563.2h0M1195.8 1563.2h0M1208.8 1563.2h0M1221.8 1563.2h0M1247.9 1563.2h0M1260.9 1563.2h0M1274.0 1563.2h0M1287.0 1563.2h0M1300.0 1563.2h0M1313.1 1563.2h0M1326.1 1563.2h0M1339.1 1563.2h0M1352.2 1563.2h0M1365.2 1563.2h0M1378.2 1563.2h0M1391.3 1563.2h0M1404.3 1563.2h0M1417.3 1563.2h0M1430.3 1563.2h0M1443.4 1563.2h0M1469.4 1563.2h0M1560.7 1563.2h0M1573.7 1563.2h0M1586.7 1563.2h0M1599.8 1563.2h0M1612.8 1563.2h0M1625.8 1563.2h0M1651.9 1563.2h0M1678.0 1563.2h0M1691.0 1563.2h0M1704.0 1563.2h0M1717.1 1563.2h0M1730.1 1563.2h0M1743.1 1563.2h0M1756.2 1563.2h0M1769.2 1563.2h0M1782.2 1563.2h0M1795.3 1563.2h0M1808.3 1563.2h0M1821.3 1563.2h0M1834.4 1563.2h0M1847.4 1563.2h0M1860.4 1563.2h0M1912.6 1563.2h0M1925.6 1563.2h0M1951.7 1563.2h0M1964.7 1563.2h0M778.7 1577.5h0M791.7 1577.5h0M804.8 1577.5h0M856.9 1577.5h0M869.9 1577.5h0M883.0 1577.5h0M909.0 1577.5h0M922.1 1577.5h0M935.1 1577.5h0M948.1 1577.5h0M961.2 1577.5h0M974.2 1577.5h0M987.2 1577.5h0M1000.3 1577.5h0M1013.3 1577.5h0M1026.3 1577.5h0M1039.4 1577.5h0M1052.4 1577.5h0M1065.4 1577.5h0M1078.5 1577.5h0M1091.5 1577.5h0M1130.6 1577.5h0M1143.6 1577.5h0M1156.7 1577.5h0M1169.7 1577.5h0M1182.7 1577.5h0M1195.8 1577.5h0M1208.8 1577.5h0M1221.8 1577.5h0M1247.9 1577.5h0M1260.9 1577.5h0M1274.0 1577.5h0M1287.0 1577.5h0M1300.0 1577.5h0M1313.1 1577.5h0M1326.1 1577.5h0M1339.1 1577.5h0M1352.2 1577.5h0M1365.2 1577.5h0M1378.2 1577.5h0M1391.3 1577.5h0M1404.3 1577.5h0M1417.3 1577.5h0M1430.3 1577.5h0M1443.4 1577.5h0M1456.4 1577.5h0M1469.4 1577.5h0M1495.5 1577.5h0M1521.6 1577.5h0M1534.6 1577.5h0M1547.6 1577.5h0M1599.8 1577.5h0M1612.8 1577.5h0M1625.8 1577.5h0M1651.9 1577.5h0M1678.0 1577.5h0M1691.0 1577.5h0M1704.0 1577.5h0M1717.1 1577.5h0M1730.1 1577.5h0M1743.1 1577.5h0M1756.2 1577.5h0M1782.2 1577.5h0M1795.3 1577.5h0M1808.3 1577.5h0M1821.3 1577.5h0M1834.4 1577.5h0M1847.4 1577.5h0M1860.4 1577.5h0M1912.6 1577.5h0M1925.6 1577.5h0M1951.7 1577.5h0M1964.7 1577.5h0M1977.7 1577.5h0M778.7 1591.7h0M791.7 1591.7h0M804.8 1591.7h0M856.9 1591.7h0M869.9 1591.7h0M883.0 1591.7h0M909.0 1591.7h0M922.1 1591.7h0M935.1 1591.7h0M948.1 1591.7h0M961.2 1591.7h0M974.2 1591.7h0M987.2 1591.7h0M1000.3 1591.7h0M1013.3 1591.7h0M1026.3 1591.7h0M1039.4 1591.7h0M1052.4 1591.7h0M1065.4 1591.7h0M1078.5 1591.7h0M1091.5 1591.7h0M1117.6 1591.7h0M1130.6 1591.7h0M1143.6 1591.7h0M1156.7 1591.7h0M1169.7 1591.7h0M1182.7 1591.7h0M1195.8 1591.7h0M1208.8 1591.7h0M1221.8 1591.7h0M1247.9 1591.7h0M1260.9 1591.7h0M1274.0 1591.7h0M1287.0 1591.7h0M1313.1 1591.7h0M1326.1 1591.7h0M1339.1 1591.7h0M1352.2 1591.7h0M1365.2 1591.7h0M1378.2 1591.7h0M1391.3 1591.7h0M1404.3 1591.7h0M1417.3 1591.7h0M1430.3 1591.7h0M1443.4 1591.7h0M1456.4 1591.7h0M1469.4 1591.7h0M1534.6 1591.7h0M1547.6 1591.7h0M1560.7 1591.7h0M1573.7 1591.7h0M1586.7 1591.7h0M1717.1 1591.7h0M1769.2 1591.7h0M1782.2 1591.7h0M1834.4 1591.7h0M1912.6 1591.7h0M1925.6 1591.7h0M1951.7 1591.7h0M1964.7 1591.7h0M1977.7 1591.7h0M778.7 1606.0h0M791.7 1606.0h0M804.8 1606.0h0M856.9 1606.0h0M869.9 1606.0h0M883.0 1606.0h0M909.0 1606.0h0M922.1 1606.0h0M935.1 1606.0h0M948.1 1606.0h0M961.2 1606.0h0M974.2 1606.0h0M987.2 1606.0h0M1000.3 1606.0h0M1013.3 1606.0h0M1026.3 1606.0h0M1039.4 1606.0h0M1052.4 1606.0h0M1065.4 1606.0h0M1078.5 1606.0h0M1091.5 1606.0h0M1104.5 1606.0h0M1117.6 1606.0h0M1130.6 1606.0h0M1143.6 1606.0h0M1156.7 1606.0h0M1169.7 1606.0h0M1182.7 1606.0h0M1195.8 1606.0h0M1208.8 1606.0h0M1221.8 1606.0h0M1247.9 1606.0h0M1260.9 1606.0h0M1274.0 1606.0h0M1287.0 1606.0h0M1313.1 1606.0h0M1326.1 1606.0h0M1339.1 1606.0h0M1352.2 1606.0h0M1365.2 1606.0h0M1378.2 1606.0h0M1391.3 1606.0h0M1404.3 1606.0h0M1417.3 1606.0h0M1430.3 1606.0h0M1443.4 1606.0h0M1456.4 1606.0h0M1469.4 1606.0h0M1534.6 1606.0h0M1547.6 1606.0h0M1560.7 1606.0h0M1573.7 1606.0h0M1586.7 1606.0h0M1717.1 1606.0h0M1743.1 1606.0h0M1756.2 1606.0h0M1769.2 1606.0h0M1782.2 1606.0h0M1834.4 1606.0h0M1912.6 1606.0h0M1925.6 1606.0h0M1951.7 1606.0h0M1964.7 1606.0h0M1977.7 1606.0h0M778.7 1620.3h0M791.7 1620.3h0M804.8 1620.3h0M856.9 1620.3h0M869.9 1620.3h0M883.0 1620.3h0M909.0 1620.3h0M922.1 1620.3h0M935.1 1620.3h0M948.1 1620.3h0M961.2 1620.3h0M974.2 1620.3h0M987.2 1620.3h0M1000.3 1620.3h0M1013.3 1620.3h0M1026.3 1620.3h0M1039.4 1620.3h0M1052.4 1620.3h0M1065.4 1620.3h0M1078.5 1620.3h0M1091.5 1620.3h0M1104.5 1620.3h0M1117.6 1620.3h0M1130.6 1620.3h0M1143.6 1620.3h0M1156.7 1620.3h0M1169.7 1620.3h0M1182.7 1620.3h0M1195.8 1620.3h0M1208.8 1620.3h0M1221.8 1620.3h0M1247.9 1620.3h0M1260.9 1620.3h0M1274.0 1620.3h0M1287.0 1620.3h0M1313.1 1620.3h0M1326.1 1620.3h0M1339.1 1620.3h0M1352.2 1620.3h0M1365.2 1620.3h0M1378.2 1620.3h0M1391.3 1620.3h0M1404.3 1620.3h0M1417.3 1620.3h0M1430.3 1620.3h0M1443.4 1620.3h0M1456.4 1620.3h0M1469.4 1620.3h0M1534.6 1620.3h0M1547.6 1620.3h0M1560.7 1620.3h0M1573.7 1620.3h0M1586.7 1620.3h0M1678.0 1620.3h0M1691.0 1620.3h0M1704.0 1620.3h0M1717.1 1620.3h0M1730.1 1620.3h0M1743.1 1620.3h0M1769.2 1620.3h0M1782.2 1620.3h0M1834.4 1620.3h0M1912.6 1620.3h0M1925.6 1620.3h0M1951.7 1620.3h0M1964.7 1620.3h0M1977.7 1620.3h0M778.7 1634.5h0M791.7 1634.5h0M804.8 1634.5h0M856.9 1634.5h0M869.9 1634.5h0M883.0 1634.5h0M909.0 1634.5h0M922.1 1634.5h0M935.1 1634.5h0M948.1 1634.5h0M961.2 1634.5h0M974.2 1634.5h0M987.2 1634.5h0M1000.3 1634.5h0M1013.3 1634.5h0M1026.3 1634.5h0M1039.4 1634.5h0M1052.4 1634.5h0M1065.4 1634.5h0M1078.5 1634.5h0M1091.5 1634.5h0M1117.6 1634.5h0M1130.6 1634.5h0M1143.6 1634.5h0M1156.7 1634.5h0M1169.7 1634.5h0M1182.7 1634.5h0M1195.8 1634.5h0M1208.8 1634.5h0M1221.8 1634.5h0M1247.9 1634.5h0M1260.9 1634.5h0M1274.0 1634.5h0M1287.0 1634.5h0M1300.0 1634.5h0M1313.1 1634.5h0M1326.1 1634.5h0M1339.1 1634.5h0M1352.2 1634.5h0M1365.2 1634.5h0M1378.2 1634.5h0M1391.3 1634.5h0M1404.3 1634.5h0M1417.3 1634.5h0M1430.3 1634.5h0M1443.4 1634.5h0M1456.4 1634.5h0M1469.4 1634.5h0M1534.6 1634.5h0M1547.6 1634.5h0M1560.7 1634.5h0M1573.7 1634.5h0M1586.7 1634.5h0M1651.9 1634.5h0M1756.2 1634.5h0M1769.2 1634.5h0M1782.2 1634.5h0M1834.4 1634.5h0M1912.6 1634.5h0M1925.6 1634.5h0M1951.7 1634.5h0M1964.7 1634.5h0M1977.7 1634.5h0M778.7 1648.8h0M791.7 1648.8h0M804.8 1648.8h0M856.9 1648.8h0M869.9 1648.8h0M883.0 1648.8h0M909.0 1648.8h0M922.1 1648.8h0M935.1 1648.8h0M948.1 1648.8h0M961.2 1648.8h0M974.2 1648.8h0M987.2 1648.8h0M1000.3 1648.8h0M1013.3 1648.8h0M1026.3 1648.8h0M1039.4 1648.8h0M1052.4 1648.8h0M1065.4 1648.8h0M1078.5 1648.8h0M1091.5 1648.8h0M1104.5 1648.8h0M1130.6 1648.8h0M1143.6 1648.8h0M1156.7 1648.8h0M1169.7 1648.8h0M1182.7 1648.8h0M1195.8 1648.8h0M1208.8 1648.8h0M1221.8 1648.8h0M1247.9 1648.8h0M1260.9 1648.8h0M1274.0 1648.8h0M1287.0 1648.8h0M1313.1 1648.8h0M1326.1 1648.8h0M1339.1 1648.8h0M1352.2 1648.8h0M1365.2 1648.8h0M1378.2 1648.8h0M1391.3 1648.8h0M1404.3 1648.8h0M1417.3 1648.8h0M1430.3 1648.8h0M1443.4 1648.8h0M1456.4 1648.8h0M1469.4 1648.8h0M1521.6 1648.8h0M1534.6 1648.8h0M1547.6 1648.8h0M1560.7 1648.8h0M1573.7 1648.8h0M1586.7 1648.8h0M1599.8 1648.8h0M1612.8 1648.8h0M1625.8 1648.8h0M1691.0 1648.8h0M1704.0 1648.8h0M1717.1 1648.8h0M1730.1 1648.8h0M1743.1 1648.8h0M1795.3 1648.8h0M1847.4 1648.8h0M1912.6 1648.8h0M1925.6 1648.8h0M1951.7 1648.8h0M1964.7 1648.8h0M1977.7 1648.8h0M778.7 1663.1h0M791.7 1663.1h0M804.8 1663.1h0M856.9 1663.1h0M869.9 1663.1h0M883.0 1663.1h0M909.0 1663.1h0M922.1 1663.1h0M935.1 1663.1h0M948.1 1663.1h0M961.2 1663.1h0M974.2 1663.1h0M987.2 1663.1h0M1000.3 1663.1h0M1013.3 1663.1h0M1026.3 1663.1h0M1039.4 1663.1h0M1052.4 1663.1h0M1065.4 1663.1h0M1078.5 1663.1h0M1091.5 1663.1h0M1104.5 1663.1h0M1117.6 1663.1h0M1130.6 1663.1h0M1143.6 1663.1h0M1156.7 1663.1h0M1169.7 1663.1h0M1182.7 1663.1h0M1195.8 1663.1h0M1208.8 1663.1h0M1221.8 1663.1h0M1247.9 1663.1h0M1260.9 1663.1h0M1274.0 1663.1h0M1287.0 1663.1h0M1313.1 1663.1h0M1326.1 1663.1h0M1339.1 1663.1h0M1352.2 1663.1h0M1365.2 1663.1h0M1378.2 1663.1h0M1391.3 1663.1h0M1404.3 1663.1h0M1417.3 1663.1h0M1430.3 1663.1h0M1443.4 1663.1h0M1456.4 1663.1h0M1469.4 1663.1h0M1521.6 1663.1h0M1534.6 1663.1h0M1547.6 1663.1h0M1560.7 1663.1h0M1573.7 1663.1h0M1586.7 1663.1h0M1704.0 1663.1h0M1717.1 1663.1h0M1730.1 1663.1h0M1743.1 1663.1h0M1782.2 1663.1h0M1912.6 1663.1h0M1925.6 1663.1h0M1951.7 1663.1h0M1964.7 1663.1h0M1977.7 1663.1h0M778.7 1677.4h0M791.7 1677.4h0M804.8 1677.4h0M856.9 1677.4h0M869.9 1677.4h0M883.0 1677.4h0M909.0 1677.4h0M922.1 1677.4h0M935.1 1677.4h0M948.1 1677.4h0M961.2 1677.4h0M974.2 1677.4h0M987.2 1677.4h0M1000.3 1677.4h0M1013.3 1677.4h0M1026.3 1677.4h0M1039.4 1677.4h0M1052.4 1677.4h0M1065.4 1677.4h0M1078.5 1677.4h0M1091.5 1677.4h0M1104.5 1677.4h0M1130.6 1677.4h0M1143.6 1677.4h0M1156.7 1677.4h0M1169.7 1677.4h0M1182.7 1677.4h0M1195.8 1677.4h0M1208.8 1677.4h0M1221.8 1677.4h0M1247.9 1677.4h0M1260.9 1677.4h0M1274.0 1677.4h0M1287.0 1677.4h0M1313.1 1677.4h0M1326.1 1677.4h0M1339.1 1677.4h0M1352.2 1677.4h0M1365.2 1677.4h0M1378.2 1677.4h0M1391.3 1677.4h0M1404.3 1677.4h0M1417.3 1677.4h0M1430.3 1677.4h0M1443.4 1677.4h0M1456.4 1677.4h0M1469.4 1677.4h0M1521.6 1677.4h0M1534.6 1677.4h0M1547.6 1677.4h0M1560.7 1677.4h0M1573.7 1677.4h0M1586.7 1677.4h0M1599.8 1677.4h0M1612.8 1677.4h0M1691.0 1677.4h0M1704.0 1677.4h0M1717.1 1677.4h0M1730.1 1677.4h0M1743.1 1677.4h0M1912.6 1677.4h0M1925.6 1677.4h0M1951.7 1677.4h0M1964.7 1677.4h0M1977.7 1677.4h0M778.7 1691.6h0M791.7 1691.6h0M804.8 1691.6h0M856.9 1691.6h0M869.9 1691.6h0M883.0 1691.6h0M909.0 1691.6h0M922.1 1691.6h0M935.1 1691.6h0M948.1 1691.6h0M961.2 1691.6h0M974.2 1691.6h0M987.2 1691.6h0M1000.3 1691.6h0M1013.3 1691.6h0M1026.3 1691.6h0M1039.4 1691.6h0M1052.4 1691.6h0M1065.4 1691.6h0M1078.5 1691.6h0M1091.5 1691.6h0M1104.5 1691.6h0M1117.6 1691.6h0M1130.6 1691.6h0M1143.6 1691.6h0M1156.7 1691.6h0M1169.7 1691.6h0M1182.7 1691.6h0M1195.8 1691.6h0M1208.8 1691.6h0M1221.8 1691.6h0M1247.9 1691.6h0M1260.9 1691.6h0M1274.0 1691.6h0M1287.0 1691.6h0M1313.1 1691.6h0M1326.1 1691.6h0M1339.1 1691.6h0M1352.2 1691.6h0M1365.2 1691.6h0M1378.2 1691.6h0M1391.3 1691.6h0M1404.3 1691.6h0M1417.3 1691.6h0M1430.3 1691.6h0M1443.4 1691.6h0M1456.4 1691.6h0M1469.4 1691.6h0M1495.5 1691.6h0M1521.6 1691.6h0M1534.6 1691.6h0M1547.6 1691.6h0M1560.7 1691.6h0M1573.7 1691.6h0M1586.7 1691.6h0M1599.8 1691.6h0M1612.8 1691.6h0M1625.8 1691.6h0M1691.0 1691.6h0M1704.0 1691.6h0M1717.1 1691.6h0M1730.1 1691.6h0M1743.1 1691.6h0M1912.6 1691.6h0M1925.6 1691.6h0M1951.7 1691.6h0M1964.7 1691.6h0M1977.7 1691.6h0M778.7 1705.9h0M791.7 1705.9h0M804.8 1705.9h0M856.9 1705.9h0M869.9 1705.9h0M883.0 1705.9h0M909.0 1705.9h0M922.1 1705.9h0M935.1 1705.9h0M948.1 1705.9h0M961.2 1705.9h0M974.2 1705.9h0M987.2 1705.9h0M1000.3 1705.9h0M1013.3 1705.9h0M1026.3 1705.9h0M1039.4 1705.9h0M1052.4 1705.9h0M1065.4 1705.9h0M1078.5 1705.9h0M1091.5 1705.9h0M1104.5 1705.9h0M1117.6 1705.9h0M1130.6 1705.9h0M1143.6 1705.9h0M1156.7 1705.9h0M1169.7 1705.9h0M1182.7 1705.9h0M1195.8 1705.9h0M1208.8 1705.9h0M1221.8 1705.9h0M1247.9 1705.9h0M1260.9 1705.9h0M1274.0 1705.9h0M1287.0 1705.9h0M1313.1 1705.9h0M1326.1 1705.9h0M1339.1 1705.9h0M1352.2 1705.9h0M1365.2 1705.9h0M1378.2 1705.9h0M1391.3 1705.9h0M1404.3 1705.9h0M1417.3 1705.9h0M1430.3 1705.9h0M1443.4 1705.9h0M1469.4 1705.9h0M1521.6 1705.9h0M1534.6 1705.9h0M1547.6 1705.9h0M1560.7 1705.9h0M1573.7 1705.9h0M1586.7 1705.9h0M1599.8 1705.9h0M1612.8 1705.9h0M1625.8 1705.9h0M1651.9 1705.9h0M1678.0 1705.9h0M1691.0 1705.9h0M1704.0 1705.9h0M1717.1 1705.9h0M1730.1 1705.9h0M1743.1 1705.9h0M1756.2 1705.9h0M1769.2 1705.9h0M1782.2 1705.9h0M1795.3 1705.9h0M1808.3 1705.9h0M1834.4 1705.9h0M1847.4 1705.9h0M1886.5 1705.9h0M1951.7 1705.9h0M1964.7 1705.9h0M778.7 1720.2h0M791.7 1720.2h0M804.8 1720.2h0M856.9 1720.2h0M869.9 1720.2h0M883.0 1720.2h0M909.0 1720.2h0M922.1 1720.2h0M935.1 1720.2h0M948.1 1720.2h0M961.2 1720.2h0M974.2 1720.2h0M987.2 1720.2h0M1000.3 1720.2h0M1013.3 1720.2h0M1026.3 1720.2h0M1039.4 1720.2h0M1052.4 1720.2h0M1065.4 1720.2h0M1078.5 1720.2h0M1091.5 1720.2h0M1104.5 1720.2h0M1117.6 1720.2h0M1130.6 1720.2h0M1143.6 1720.2h0M1156.7 1720.2h0M1169.7 1720.2h0M1182.7 1720.2h0M1195.8 1720.2h0M1208.8 1720.2h0M1221.8 1720.2h0M1247.9 1720.2h0M1260.9 1720.2h0M1274.0 1720.2h0M1287.0 1720.2h0M1300.0 1720.2h0M1313.1 1720.2h0M1326.1 1720.2h0M1339.1 1720.2h0M1352.2 1720.2h0M1365.2 1720.2h0M1378.2 1720.2h0M1391.3 1720.2h0M1404.3 1720.2h0M1417.3 1720.2h0M1430.3 1720.2h0M1443.4 1720.2h0M1456.4 1720.2h0M1469.4 1720.2h0M1521.6 1720.2h0M1547.6 1720.2h0M1560.7 1720.2h0M1573.7 1720.2h0M1586.7 1720.2h0M1599.8 1720.2h0M1612.8 1720.2h0M1625.8 1720.2h0M1651.9 1720.2h0M1678.0 1720.2h0M1691.0 1720.2h0M1704.0 1720.2h0M1717.1 1720.2h0M1730.1 1720.2h0M1743.1 1720.2h0M1756.2 1720.2h0M1769.2 1720.2h0M1782.2 1720.2h0M1795.3 1720.2h0M1808.3 1720.2h0M1821.3 1720.2h0M1834.4 1720.2h0M1847.4 1720.2h0M1860.4 1720.2h0M1886.5 1720.2h0M1912.6 1720.2h0" stroke="#2b7a8e" stroke-width="4.7" stroke-linecap="round"/>
<path d="M896.0 1277.8h0" stroke="#22a884" stroke-width="6.4" stroke-linecap="round"/>
<path d="M1143.6 1277.8h0M1143.6 1292.1h0M843.9 1306.3h0M1117.6 1463.3h0M1352.2 1463.3h0M830.8 1491.8h0M1886.5 1520.4h0M1886.5 1534.7h0M1886.5 1577.5h0" stroke="#2a788e" stroke-width="6.0" stroke-linecap="round"/>
<path d="M1169.7 1277.8h0M1182.7 1277.8h0M1234.9 1577.5h0" stroke="#31668e" stroke-width="6.0" stroke-linecap="round"/>
<path d="M1234.9 1277.8h0M830.8 1377.7h0M1508.5 1420.5h0M1508.5 1434.8h0M1508.5 1449.0h0M1508.5 1463.3h0M830.8 1506.1h0M1638.9 1506.1h0M1873.5 1520.4h0M1313.1 1548.9h0M1234.9 1591.7h0M830.8 1634.5h0M830.8 1648.8h0M830.8 1663.1h0M1234.9 1663.1h0M830.8 1677.4h0M1234.9 1677.4h0M830.8 1691.6h0M1234.9 1720.2h0" stroke="#31668e" stroke-width="8.0" stroke-linecap="round"/>
<path d="M1260.9 1277.8h0M1430.3 1277.8h0M1938.6 1277.8h0M1260.9 1292.1h0M1052.4 1320.6h0M1130.6 1320.6h0M1143.6 1320.6h0M817.8 1334.9h0M896.0 1363.4h0M1104.5 1363.4h0M1404.3 1363.4h0M817.8 1377.7h0M1130.6 1377.7h0M817.8 1392.0h0M1130.6 1392.0h0M817.8 1406.2h0M1104.5 1406.2h0M817.8 1420.5h0M1104.5 1420.5h0M1156.7 1420.5h0M817.8 1434.8h0M1104.5 1434.8h0M817.8 1449.0h0M1065.4 1449.0h0M1130.6 1449.0h0M817.8 1463.3h0M817.8 1477.6h0M1104.5 1477.6h0M817.8 1491.8h0M1482.5 1491.8h0M1899.5 1491.8h0M817.8 1506.1h0M1130.6 1506.1h0M1260.9 1506.1h0M1313.1 1506.1h0M1899.5 1506.1h0M1938.6 1506.1h0M817.8 1520.4h0M1456.4 1520.4h0M1977.7 1520.4h0M1977.7 1534.7h0M1117.6 1548.9h0M1430.3 1548.9h0M1886.5 1548.9h0M1977.7 1548.9h0M791.7 1563.2h0M817.8 1563.2h0M1977.7 1563.2h0M817.8 1591.7h0M817.8 1606.0h0M817.8 1620.3h0M1508.5 1620.3h0M817.8 1634.5h0M1104.5 1634.5h0M817.8 1648.8h0M1664.9 1648.8h0M817.8 1663.1h0M1612.8 1663.1h0M817.8 1677.4h0M817.8 1691.6h0M817.8 1705.9h0M817.8 1720.2h0" stroke="#2a788e" stroke-width="7.0" stroke-linecap="round"/>
<path d="M1313.1 1277.8h0M1664.9 1277.8h0M1482.5 1292.1h0M1873.5 1334.9h0M817.8 1349.1h0M1260.9 1349.1h0M1873.5 1349.1h0M830.8 1392.0h0M1938.6 1392.0h0M1169.7 1406.2h0M1482.5 1406.2h0M1638.9 1406.2h0M1938.6 1406.2h0M830.8 1420.5h0M830.8 1434.8h0M1182.7 1434.8h0M1664.9 1434.8h0M830.8 1463.3h0M1182.7 1463.3h0M1260.9 1477.6h0M1169.7 1506.1h0M1638.9 1520.4h0M1938.6 1520.4h0M1430.3 1534.7h0M1938.6 1534.7h0M817.8 1548.9h0M1873.5 1548.9h0M1938.6 1548.9h0M1456.4 1563.2h0M1873.5 1563.2h0M1938.6 1606.0h0M1938.6 1620.3h0M1508.5 1634.5h0M1938.6 1634.5h0M1508.5 1648.8h0M1938.6 1648.8h0M1938.6 1663.1h0M1508.5 1677.4h0M1938.6 1677.4h0M1482.5 1691.6h0M1938.6 1691.6h0" stroke="#2a788e" stroke-width="9.0" stroke-linecap="round"/>
<path d="M1482.5 1277.8h0M1482.5 1334.9h0" stroke="#3b528b" stroke-width="10.0" stroke-linecap="round"/>
<path d="M1508.5 1277.8h0M1638.9 1277.8h0M1873.5 1277.8h0M1482.5 1306.3h0M1482.5 1320.6h0M1638.9 1334.9h0M1638.9 1349.1h0M1638.9 1363.4h0M1482.5 1377.7h0M1482.5 1392.0h0M1638.9 1392.0h0M830.8 1548.9h0M1482.5 1577.5h0M1482.5 1705.9h0" stroke="#3b528b" stroke-width="9.0" stroke-linecap="round"/>
<path d="M1899.5 1277.8h0M1899.5 1292.1h0M1899.5 1320.6h0M830.8 1520.4h0" stroke="#472d7b" stroke-width="7.0" stroke-linecap="round"/>
<path d="M804.8 1292.1h0M869.9 1320.6h0M1104.5 1449.0h0M1300.0 1449.0h0M1743.1 1591.7h0M1795.3 1591.7h0M1808.3 1591.7h0M1651.9 1606.0h0M1847.4 1606.0h0M1808.3 1620.3h0M1704.0 1634.5h0M1795.3 1634.5h0M1808.3 1648.8h0M1808.3 1663.1h0M1821.3 1663.1h0M1847.4 1663.1h0M1860.4 1663.1h0M1782.2 1677.4h0M1808.3 1677.4h0M1795.3 1691.6h0M1821.3 1691.6h0M1534.6 1720.2h0" stroke="#5ec962" stroke-width="6.0" stroke-linecap="round"/>
<path d="M843.9 1292.1h0M791.7 1306.3h0M856.9 1306.3h0M843.9 1349.1h0M1026.3 1363.4h0M1195.8 1420.5h0M1195.8 1434.8h0M1221.8 1434.8h0M1104.5 1463.3h0M1287.0 1463.3h0M1300.0 1463.3h0M1339.1 1491.8h0M1625.8 1591.7h0M1651.9 1677.4h0M1756.2 1677.4h0" stroke="#fde725" stroke-width="8.0" stroke-linecap="round"/>
<path d="M896.0 1292.1h0M896.0 1306.3h0M1495.5 1334.9h0M1443.4 1363.4h0M1104.5 1377.7h0M1260.9 1491.8h0M1495.5 1520.4h0M1404.3 1534.7h0M1404.3 1548.9h0M1886.5 1591.7h0M1886.5 1606.0h0M1886.5 1620.3h0M1495.5 1634.5h0M1599.8 1634.5h0M1886.5 1634.5h0M843.9 1648.8h0M1495.5 1648.8h0M1678.0 1648.8h0M1625.8 1663.1h0M1886.5 1663.1h0M1495.5 1677.4h0M1678.0 1691.6h0M1886.5 1691.6h0" stroke="#22a884" stroke-width="7.0" stroke-linecap="round"/>
<path d="M1234.9 1292.1h0M1234.9 1306.3h0M1313.1 1306.3h0M1169.7 1320.6h0M1234.9 1320.6h0M1313.1 1320.6h0M1234.9 1334.9h0M843.9 1449.0h0M843.9 1463.3h0M843.9 1477.6h0M1234.9 1477.6h0M843.9 1520.4h0M843.9 1534.7h0M843.9 1577.5h0M843.9 1591.7h0M843.9 1606.0h0M843.9 1620.3h0M843.9 1663.1h0M843.9 1691.6h0M1234.9 1691.6h0" stroke="#31668e" stroke-width="7.0" stroke-linecap="round"/>
<path d="M1430.3 1292.1h0M791.7 1320.6h0" stroke="#2fb47c" stroke-width="9.0" stroke-linecap="round"/>
<path d="M1638.9 1292.1h0M1873.5 1292.1h0M1508.5 1320.6h0M1638.9 1320.6h0M1873.5 1320.6h0M843.9 1334.9h0M1508.5 1334.9h0M1508.5 1349.1h0M1638.9 1377.7h0M1873.5 1377.7h0M1899.5 1377.7h0M1508.5 1392.0h0M1873.5 1392.0h0M1899.5 1392.0h0M1873.5 1406.2h0M1899.5 1406.2h0M1873.5 1420.5h0M1899.5 1420.5h0M1873.5 1434.8h0M1899.5 1434.8h0M1873.5 1449.0h0M1899.5 1449.0h0M1873.5 1463.3h0M1899.5 1463.3h0M1873.5 1477.6h0M1899.5 1477.6h0M1482.5 1506.1h0M830.8 1534.7h0M1313.1 1534.7h0M1899.5 1563.2h0M830.8 1577.5h0M1873.5 1720.2h0" stroke="#3b528b" stroke-width="8.0" stroke-linecap="round"/>
<path d="M1664.9 1292.1h0M1638.9 1306.3h0M1664.9 1320.6h0M843.9 1377.7h0M843.9 1392.0h0M1508.5 1506.1h0M843.9 1563.2h0M1638.9 1563.2h0M1899.5 1720.2h0" stroke="#3b528b" stroke-width="7.0" stroke-linecap="round"/>
<path d="M830.8 1306.3h0M1130.6 1349.1h0M1352.2 1377.7h0M1352.2 1392.0h0M1313.1 1449.0h0M1104.5 1520.4h0M1508.5 1577.5h0M1521.6 1591.7h0M1664.9 1591.7h0M1521.6 1606.0h0M1664.9 1606.0h0M1664.9 1620.3h0M1612.8 1634.5h0M1664.9 1691.6h0" stroke="#5ec962" stroke-width="8.0" stroke-linecap="round"/>
<path d="M869.9 1306.3h0M909.0 1320.6h0M922.1 1320.6h0M922.1 1392.0h0M1352.2 1491.8h0M1365.2 1506.1h0M1378.2 1506.1h0M1691.0 1591.7h0M1704.0 1591.7h0M1717.1 1634.5h0M1730.1 1634.5h0M1743.1 1634.5h0M1678.0 1663.1h0" stroke="#fde725" stroke-width="7.0" stroke-linecap="round"/>
<path d="M883.0 1306.3h0M1039.4 1363.4h0M1091.5 1392.0h0M1391.3 1506.1h0M1795.3 1606.0h0M1808.3 1606.0h0M1847.4 1620.3h0M1834.4 1648.8h0M1795.3 1663.1h0M1834.4 1677.4h0M1847.4 1677.4h0M1834.4 1691.6h0M1847.4 1691.6h0" stroke="#fde725" stroke-width="6.0" stroke-linecap="round"/>
<path d="M1130.6 1306.3h0M1313.1 1377.7h0M1313.1 1392.0h0M843.9 1406.2h0M1182.7 1406.2h0M1313.1 1406.2h0M843.9 1420.5h0M1143.6 1420.5h0M1313.1 1420.5h0M1156.7 1434.8h0M1313.1 1477.6h0M843.9 1634.5h0M843.9 1677.4h0" stroke="#22a884" stroke-width="8.0" stroke-linecap="round"/>
<path d="M1274.0 1306.3h0M922.1 1377.7h0M1091.5 1377.7h0M922.1 1520.4h0M922.1 1534.7h0" stroke="#22a884" stroke-width="5.0" stroke-linecap="round"/>
<path d="M1664.9 1306.3h0M1664.9 1349.1h0M1638.9 1491.8h0M1873.5 1491.8h0M843.9 1506.1h0M843.9 1705.9h0M1638.9 1720.2h0M1664.9 1720.2h0" stroke="#3b528b" stroke-width="6.0" stroke-linecap="round"/>
<path d="M1873.5 1306.3h0M1899.5 1306.3h0M843.9 1720.2h0M1508.5 1720.2h0" stroke="#472d7b" stroke-width="6.0" stroke-linecap="round"/>
<path d="M804.8 1320.6h0M1104.5 1392.0h0M1156.7 1491.8h0M1651.9 1620.3h0M1808.3 1634.5h0M1651.9 1663.1h0M1651.9 1691.6h0M1756.2 1691.6h0" stroke="#5ec962" stroke-width="7.0" stroke-linecap="round"/>
<path d="M843.9 1320.6h0" stroke="#2fb47c" stroke-width="7.0" stroke-linecap="round"/>
<path d="M830.8 1334.9h0M830.8 1349.1h0M1313.1 1349.1h0M1182.7 1392.0h0M1182.7 1449.0h0M1456.4 1534.7h0M1508.5 1548.9h0M1599.8 1591.7h0M1612.8 1620.3h0M1886.5 1677.4h0M1925.6 1720.2h0" stroke="#c2df23" stroke-width="9.0" stroke-linecap="round"/>
<path d="M896.0 1334.9h0" stroke="#31668e" stroke-width="10.0" stroke-linecap="round"/>
<path d="M1104.5 1334.9h0M1117.6 1334.9h0M1104.5 1563.2h0M1117.6 1563.2h0" stroke="#472d7b" stroke-width="4.8" stroke-linecap="round"/>
<path d="M1664.9 1334.9h0M1664.9 1420.5h0M1664.9 1463.3h0M1664.9 1491.8h0M1664.9 1506.1h0M1664.9 1520.4h0M1664.9 1534.7h0M1664.9 1548.9h0M1664.9 1563.2h0M1664.9 1577.5h0" stroke="#2a788e" stroke-width="7.6" stroke-linecap="round"/>
<path d="M1899.5 1334.9h0" stroke="#472d7b" stroke-width="8.0" stroke-linecap="round"/>
<path d="M1938.6 1334.9h0M1938.6 1349.1h0M1938.6 1363.4h0M1117.6 1677.4h0M1625.8 1677.4h0" stroke="#2a788e" stroke-width="5.2" stroke-linecap="round"/>
<path d="M1169.7 1349.1h0M1482.5 1349.1h0M1899.5 1349.1h0M1169.7 1377.7h0M1169.7 1392.0h0M1234.9 1434.8h0M1482.5 1477.6h0M1234.9 1520.4h0M1482.5 1520.4h0M1482.5 1563.2h0M1938.6 1563.2h0" stroke="#2a788e" stroke-width="10.0" stroke-linecap="round"/>
<path d="M1234.9 1349.1h0M1234.9 1377.7h0M1234.9 1392.0h0M1234.9 1449.0h0M1234.9 1463.3h0M1234.9 1491.8h0M1234.9 1506.1h0" stroke="#31668e" stroke-width="8.4" stroke-linecap="round"/>
<path d="M1378.2 1349.1h0M1117.6 1363.4h0M1469.4 1363.4h0M1117.6 1377.7h0M1117.6 1406.2h0M1078.5 1449.0h0M1352.2 1449.0h0M1352.2 1506.1h0M1117.6 1520.4h0M1104.5 1591.7h0M1495.5 1591.7h0M1651.9 1591.7h0M1756.2 1591.7h0M1847.4 1591.7h0M1495.5 1606.0h0M1678.0 1606.0h0M1691.0 1606.0h0M1704.0 1606.0h0M1730.1 1606.0h0M1521.6 1634.5h0M1625.8 1634.5h0M1821.3 1634.5h0M1847.4 1634.5h0M1860.4 1634.5h0M1821.3 1648.8h0M1860.4 1648.8h0M1495.5 1663.1h0M1691.0 1663.1h0M1769.2 1663.1h0M1834.4 1663.1h0M1795.3 1677.4h0M1821.3 1677.4h0M1769.2 1691.6h0M1782.2 1691.6h0M1808.3 1691.6h0M1860.4 1691.6h0M1495.5 1705.9h0M1821.3 1705.9h0" stroke="#22a884" stroke-width="6.0" stroke-linecap="round"/>
<path d="M830.8 1363.4h0M830.8 1720.2h0" stroke="#3f4889" stroke-width="9.0" stroke-linecap="round"/>
<path d="M1821.3 1363.4h0" stroke="#2a788e" stroke-width="5.6" stroke-linecap="round"/>
<path d="M1873.5 1363.4h0M1899.5 1363.4h0M1169.7 1420.5h0M1169.7 1434.8h0M1482.5 1534.7h0M1482.5 1634.5h0M1482.5 1663.1h0M1482.5 1677.4h0M1456.4 1705.9h0" stroke="#22a884" stroke-width="10.0" stroke-linecap="round"/>
<path d="M896.0 1377.7h0M896.0 1392.0h0M896.0 1406.2h0M896.0 1420.5h0M896.0 1434.8h0M896.0 1449.0h0M896.0 1463.3h0M896.0 1477.6h0M896.0 1491.8h0M896.0 1506.1h0M896.0 1520.4h0M896.0 1534.7h0M896.0 1548.9h0M896.0 1577.5h0M896.0 1591.7h0M896.0 1606.0h0M896.0 1620.3h0M896.0 1634.5h0M896.0 1648.8h0M896.0 1663.1h0M896.0 1677.4h0M896.0 1691.6h0M896.0 1705.9h0M896.0 1720.2h0" stroke="#2a788e" stroke-width="7.2" stroke-linecap="round"/>
<path d="M1260.9 1377.7h0M1260.9 1392.0h0M1169.7 1449.0h0M1430.3 1520.4h0M1234.9 1563.2h0M1638.9 1591.7h0M1638.9 1606.0h0M1638.9 1634.5h0M1638.9 1648.8h0M1638.9 1691.6h0" stroke="#5ec962" stroke-width="10.0" stroke-linecap="round"/>
<path d="M1508.5 1377.7h0" stroke="#3f4889" stroke-width="7.0" stroke-linecap="round"/>
<path d="M1117.6 1392.0h0M1117.6 1534.7h0M1104.5 1577.5h0M1756.2 1663.1h0M1769.2 1677.4h0" stroke="#c2df23" stroke-width="7.0" stroke-linecap="round"/>
<path d="M1195.8 1406.2h0" stroke="#5ec962" stroke-width="5.0" stroke-linecap="round"/>
<path d="M1234.9 1406.2h0M1234.9 1420.5h0M1482.5 1420.5h0M1482.5 1434.8h0M1482.5 1449.0h0M1482.5 1463.3h0M830.8 1591.7h0M830.8 1606.0h0M1234.9 1606.0h0M830.8 1620.3h0M1234.9 1620.3h0M1234.9 1634.5h0M1234.9 1648.8h0" stroke="#31668e" stroke-width="9.0" stroke-linecap="round"/>
<path d="M1834.4 1406.2h0M1834.4 1420.5h0M1443.4 1548.9h0M1469.4 1548.9h0M1769.2 1577.5h0M1300.0 1591.7h0M1300.0 1606.0h0M1300.0 1620.3h0M1495.5 1620.3h0M1521.6 1620.3h0M1756.2 1620.3h0M1117.6 1648.8h0M1300.0 1648.8h0M1300.0 1663.1h0M1300.0 1677.4h0M1300.0 1691.6h0M1300.0 1705.9h0M1860.4 1705.9h0" stroke="#22a884" stroke-width="5.2" stroke-linecap="round"/>
<path d="M1182.7 1420.5h0M830.8 1477.6h0M1182.7 1506.1h0M1508.5 1520.4h0M1899.5 1520.4h0M1508.5 1534.7h0M1508.5 1563.2h0M1873.5 1577.5h0M1899.5 1577.5h0M1482.5 1606.0h0M1873.5 1606.0h0M1873.5 1620.3h0M1873.5 1648.8h0M1886.5 1648.8h0M1599.8 1663.1h0M1873.5 1663.1h0M1899.5 1691.6h0" stroke="#5ec962" stroke-width="9.0" stroke-linecap="round"/>
<path d="M1638.9 1420.5h0M1638.9 1434.8h0M1638.9 1449.0h0M1638.9 1463.3h0M1638.9 1477.6h0" stroke="#31668e" stroke-width="8.8" stroke-linecap="round"/>
<path d="M1938.6 1420.5h0M1938.6 1434.8h0M1938.6 1449.0h0M1938.6 1463.3h0M1938.6 1477.6h0M1938.6 1491.8h0" stroke="#2a788e" stroke-width="8.6" stroke-linecap="round"/>
<path d="M1130.6 1434.8h0M1234.9 1534.7h0M1638.9 1620.3h0M1482.5 1648.8h0M1638.9 1663.1h0M1638.9 1677.4h0" stroke="#86d549" stroke-width="10.0" stroke-linecap="round"/>
<path d="M1091.5 1449.0h0" stroke="#fde725" stroke-width="5.0" stroke-linecap="round"/>
<path d="M1117.6 1449.0h0M1117.6 1506.1h0M1117.6 1577.5h0M1730.1 1591.7h0M1821.3 1591.7h0M1860.4 1591.7h0M1821.3 1606.0h0M1860.4 1606.0h0M1795.3 1620.3h0M1821.3 1620.3h0M1860.4 1620.3h0M1860.4 1677.4h0" stroke="#c2df23" stroke-width="6.0" stroke-linecap="round"/>
<path d="M1664.9 1449.0h0M1117.6 1477.6h0M843.9 1491.8h0M1508.5 1491.8h0M1495.5 1720.2h0" stroke="#3b528b" stroke-width="5.2" stroke-linecap="round"/>
<path d="M1143.6 1491.8h0M1664.9 1677.4h0" stroke="#86d549" stroke-width="8.0" stroke-linecap="round"/>
<path d="M1313.1 1491.8h0" stroke="#22a884" stroke-width="5.6" stroke-linecap="round"/>
<path d="M804.8 1506.1h0" stroke="#5ec962" stroke-width="4.8" stroke-linecap="round"/>
<path d="M1091.5 1506.1h0M1195.8 1506.1h0" stroke="#22a884" stroke-width="4.8" stroke-linecap="round"/>
<path d="M1873.5 1506.1h0" stroke="#3b528b" stroke-width="5.6" stroke-linecap="round"/>
<path d="M1899.5 1534.7h0M1482.5 1591.7h0" stroke="#86d549" stroke-width="9.0" stroke-linecap="round"/>
<path d="M1495.5 1548.9h0M1495.5 1563.2h0M1678.0 1591.7h0M1664.9 1634.5h0M1678.0 1677.4h0" stroke="#c2df23" stroke-width="8.0" stroke-linecap="round"/>
<path d="M830.8 1563.2h0" stroke="#472d7b" stroke-width="9.0" stroke-linecap="round"/>
<path d="M830.8 1705.9h0" stroke="#3f4889" stroke-width="8.0" stroke-linecap="round"/>
<path d="M1234.9 1705.9h0" stroke="#2fb47c" stroke-width="10.0" stroke-linecap="round"/>
<path d="M1938.6 1705.9h0" stroke="#2a788e" stroke-width="11.0" stroke-linecap="round"/>
<path d="M1482.5 1720.2h0" stroke="#440154" stroke-width="6.0" stroke-linecap="round"/>
<path d="M1938.6 1720.2h0" stroke="#fde725" stroke-width="11.0" stroke-linecap="round"/>
<rect x="770.5" y="1271.0" width="276.0" height="100.0" fill="rgba(255,255,255,0.2)" stroke="#dddddd" stroke-width="1.6" stroke-dasharray="6 4"/>
<text x="755.0" y="1283.1" font-size="16.2" text-anchor="end" fill="#2f7fd8" letter-spacing="-0.9">MM KCs</text>
<line x1="757.5" y1="1277.8" x2="766.0" y2="1277.8" stroke="#444" stroke-width="1"/>
<text x="755.0" y="1297.4" font-size="16.2" text-anchor="end" fill="#2f7fd8" letter-spacing="-0.9">LM KCs</text>
<line x1="757.5" y1="1292.1" x2="766.0" y2="1292.1" stroke="#444" stroke-width="1"/>
<text x="755.0" y="1311.6" font-size="16.2" text-anchor="end" fill="#2f7fd8" letter-spacing="-0.9">SB KCs</text>
<line x1="757.5" y1="1306.3" x2="766.0" y2="1306.3" stroke="#444" stroke-width="1"/>
<text x="755.0" y="1325.9" font-size="16.2" text-anchor="end" fill="#2f7fd8" letter-spacing="-0.9">SK/JKs</text>
<line x1="757.5" y1="1320.6" x2="766.0" y2="1320.6" stroke="#444" stroke-width="1"/>
<text x="755.0" y="1340.2" font-size="16.2" text-anchor="end" fill="#2f7fd8" letter-spacing="-0.9">Merkel Cells</text>
<line x1="757.5" y1="1334.9" x2="766.0" y2="1334.9" stroke="#444" stroke-width="1"/>
<text x="755.0" y="1354.4" font-size="16.2" text-anchor="end" fill="#2f7fd8" letter-spacing="-0.9">Melanocytes</text>
<line x1="757.5" y1="1349.1" x2="766.0" y2="1349.1" stroke="#444" stroke-width="1"/>
<text x="755.0" y="1368.7" font-size="16.2" text-anchor="end" fill="#2f7fd8" letter-spacing="-0.9">Langerhans</text>
<line x1="757.5" y1="1363.4" x2="766.0" y2="1363.4" stroke="#444" stroke-width="1"/>
<text x="755.0" y="1383.0" font-size="16.2" text-anchor="end" fill="#111" letter-spacing="-0.9">Fibroblast 1</text>
<line x1="757.5" y1="1377.7" x2="766.0" y2="1377.7" stroke="#444" stroke-width="1"/>
<text x="755.0" y="1397.3" font-size="16.2" text-anchor="end" fill="#111" letter-spacing="-0.9">Fibroblast 2</text>
<line x1="757.5" y1="1392.0" x2="766.0" y2="1392.0" stroke="#444" stroke-width="1"/>
<text x="755.0" y="1411.5" font-size="16.2" text-anchor="end" fill="#111" letter-spacing="-0.9">Art VECs</text>
<line x1="757.5" y1="1406.2" x2="766.0" y2="1406.2" stroke="#444" stroke-width="1"/>
<text x="755.0" y="1425.8" font-size="16.2" text-anchor="end" fill="#111" letter-spacing="-0.9">Capi VECs</text>
<line x1="757.5" y1="1420.5" x2="766.0" y2="1420.5" stroke="#444" stroke-width="1"/>
<text x="755.0" y="1440.1" font-size="16.2" text-anchor="end" fill="#111" letter-spacing="-0.9">PCV VECs</text>
<line x1="757.5" y1="1434.8" x2="766.0" y2="1434.8" stroke="#444" stroke-width="1"/>
<text x="755.0" y="1454.3" font-size="16.2" text-anchor="end" fill="#111" letter-spacing="-0.9">VSM</text>
<line x1="757.5" y1="1449.0" x2="766.0" y2="1449.0" stroke="#444" stroke-width="1"/>
<text x="755.0" y="1468.6" font-size="16.2" text-anchor="end" fill="#111" letter-spacing="-0.9">Pericytes</text>
<line x1="757.5" y1="1463.3" x2="766.0" y2="1463.3" stroke="#444" stroke-width="1"/>
<text x="755.0" y="1482.9" font-size="16.2" text-anchor="end" fill="#111" letter-spacing="-0.9">LEC 1</text>
<line x1="757.5" y1="1477.6" x2="766.0" y2="1477.6" stroke="#444" stroke-width="1"/>
<text x="755.0" y="1497.1" font-size="16.2" text-anchor="end" fill="#111" letter-spacing="-0.9">LEC 2</text>
<line x1="757.5" y1="1491.8" x2="766.0" y2="1491.8" stroke="#444" stroke-width="1"/>
<text x="755.0" y="1511.4" font-size="16.2" text-anchor="end" fill="#111" letter-spacing="-0.9">Schwann</text>
<line x1="757.5" y1="1506.1" x2="766.0" y2="1506.1" stroke="#444" stroke-width="1"/>
<text x="755.0" y="1525.7" font-size="16.2" text-anchor="end" fill="#111" letter-spacing="-0.9">Neutrophils</text>
<line x1="757.5" y1="1520.4" x2="766.0" y2="1520.4" stroke="#444" stroke-width="1"/>
<text x="755.0" y="1540.0" font-size="16.2" text-anchor="end" fill="#111" letter-spacing="-0.9">Mac/Mono</text>
<line x1="757.5" y1="1534.7" x2="766.0" y2="1534.7" stroke="#444" stroke-width="1"/>
<text x="755.0" y="1554.2" font-size="16.2" text-anchor="end" fill="#111" letter-spacing="-0.9">cDCs</text>
<line x1="757.5" y1="1548.9" x2="766.0" y2="1548.9" stroke="#444" stroke-width="1"/>
<text x="755.0" y="1568.5" font-size="16.2" text-anchor="end" fill="#111" letter-spacing="-0.9">pDCs</text>
<line x1="757.5" y1="1563.2" x2="766.0" y2="1563.2" stroke="#444" stroke-width="1"/>
<text x="755.0" y="1582.8" font-size="16.2" text-anchor="end" fill="#111" letter-spacing="-0.9">Mast Cells</text>
<line x1="757.5" y1="1577.5" x2="766.0" y2="1577.5" stroke="#444" stroke-width="1"/>
<text x="755.0" y="1597.0" font-size="16.2" text-anchor="end" fill="#111" letter-spacing="-0.9">NK Cells</text>
<line x1="757.5" y1="1591.7" x2="766.0" y2="1591.7" stroke="#444" stroke-width="1"/>
<text x="755.0" y="1611.3" font-size="16.2" text-anchor="end" fill="#111" letter-spacing="-0.9">NK T Cells</text>
<line x1="757.5" y1="1606.0" x2="766.0" y2="1606.0" stroke="#444" stroke-width="1"/>
<text x="755.0" y="1625.6" font-size="16.2" text-anchor="end" fill="#111" letter-spacing="-0.9">Tc Cells</text>
<line x1="757.5" y1="1620.3" x2="766.0" y2="1620.3" stroke="#444" stroke-width="1"/>
<text x="755.0" y="1639.8" font-size="16.2" text-anchor="end" fill="#111" letter-spacing="-0.9">gd T Cells</text>
<line x1="757.5" y1="1634.5" x2="766.0" y2="1634.5" stroke="#444" stroke-width="1"/>
<text x="755.0" y="1654.1" font-size="16.2" text-anchor="end" fill="#111" letter-spacing="-0.9">Treg Cells</text>
<line x1="757.5" y1="1648.8" x2="766.0" y2="1648.8" stroke="#444" stroke-width="1"/>
<text x="755.0" y="1668.4" font-size="16.2" text-anchor="end" fill="#111" letter-spacing="-0.9">MAIT Cells</text>
<line x1="757.5" y1="1663.1" x2="766.0" y2="1663.1" stroke="#444" stroke-width="1"/>
<text x="755.0" y="1682.7" font-size="16.2" text-anchor="end" fill="#111" letter-spacing="-0.9">Th17 Cells</text>
<line x1="757.5" y1="1677.4" x2="766.0" y2="1677.4" stroke="#444" stroke-width="1"/>
<text x="755.0" y="1696.9" font-size="16.2" text-anchor="end" fill="#111" letter-spacing="-0.9">Th Cells</text>
<line x1="757.5" y1="1691.6" x2="766.0" y2="1691.6" stroke="#444" stroke-width="1"/>
<text x="755.0" y="1711.2" font-size="16.2" text-anchor="end" fill="#111" letter-spacing="-0.9">B Cells</text>
<line x1="757.5" y1="1705.9" x2="766.0" y2="1705.9" stroke="#444" stroke-width="1"/>
<text x="755.0" y="1725.5" font-size="16.2" text-anchor="end" fill="#111" letter-spacing="-0.9">Plasma</text>
<line x1="757.5" y1="1720.2" x2="766.0" y2="1720.2" stroke="#444" stroke-width="1"/>
<line x1="778.7" y1="1728.0" x2="778.7" y2="1735.0" stroke="#444" stroke-width="1"/>
<text x="775.7" y="1742.0" font-size="13.5" fill="#2f7fd8" transform="rotate(50 775.7 1742.0)" letter-spacing="-0.6">KRT14</text>
<line x1="791.7" y1="1728.0" x2="791.7" y2="1735.0" stroke="#444" stroke-width="1"/>
<text x="788.7" y="1742.0" font-size="13.5" fill="#2f7fd8" transform="rotate(50 788.7 1742.0)" letter-spacing="-0.6">KRT5</text>
<line x1="804.8" y1="1728.0" x2="804.8" y2="1735.0" stroke="#444" stroke-width="1"/>
<text x="801.8" y="1742.0" font-size="13.5" fill="#2f7fd8" transform="rotate(50 801.8 1742.0)" letter-spacing="-0.6">KRT15</text>
<line x1="817.8" y1="1728.0" x2="817.8" y2="1735.0" stroke="#444" stroke-width="1"/>
<text x="814.8" y="1742.0" font-size="13.5" fill="#2f7fd8" transform="rotate(50 814.8 1742.0)" letter-spacing="-0.6">CSTB</text>
<line x1="830.8" y1="1728.0" x2="830.8" y2="1735.0" stroke="#444" stroke-width="1"/>
<text x="827.8" y="1742.0" font-size="13.5" fill="#2f7fd8" transform="rotate(50 827.8 1742.0)" letter-spacing="-0.6">MIF</text>
<line x1="843.9" y1="1728.0" x2="843.9" y2="1735.0" stroke="#444" stroke-width="1"/>
<text x="840.9" y="1742.0" font-size="13.5" fill="#2f7fd8" transform="rotate(50 840.9 1742.0)" letter-spacing="-0.6">H2AFZ</text>
<line x1="856.9" y1="1728.0" x2="856.9" y2="1735.0" stroke="#444" stroke-width="1"/>
<text x="853.9" y="1742.0" font-size="13.5" fill="#2f7fd8" transform="rotate(50 853.9 1742.0)" letter-spacing="-0.6">SPRR1B</text>
<line x1="869.9" y1="1728.0" x2="869.9" y2="1735.0" stroke="#444" stroke-width="1"/>
<text x="866.9" y="1742.0" font-size="13.5" fill="#2f7fd8" transform="rotate(50 866.9 1742.0)" letter-spacing="-0.6">SPRR2A</text>
<line x1="883.0" y1="1728.0" x2="883.0" y2="1735.0" stroke="#444" stroke-width="1"/>
<text x="880.0" y="1742.0" font-size="13.5" fill="#2f7fd8" transform="rotate(50 880.0 1742.0)" letter-spacing="-0.6">SPRR3</text>
<line x1="896.0" y1="1728.0" x2="896.0" y2="1735.0" stroke="#444" stroke-width="1"/>
<text x="893.0" y="1742.0" font-size="13.5" fill="#2f7fd8" transform="rotate(50 893.0 1742.0)" letter-spacing="-0.6">FDCSP</text>
<line x1="909.0" y1="1728.0" x2="909.0" y2="1735.0" stroke="#444" stroke-width="1"/>
<text x="906.0" y="1742.0" font-size="13.5" fill="#2f7fd8" transform="rotate(50 906.0 1742.0)" letter-spacing="-0.6">ODAM</text>
<line x1="922.1" y1="1728.0" x2="922.1" y2="1735.0" stroke="#444" stroke-width="1"/>
<text x="919.1" y="1742.0" font-size="13.5" fill="#2f7fd8" transform="rotate(50 919.1 1742.0)" letter-spacing="-0.6">CXCL1</text>
<line x1="935.1" y1="1728.0" x2="935.1" y2="1735.0" stroke="#444" stroke-width="1"/>
<text x="932.1" y="1742.0" font-size="13.5" fill="#2f7fd8" transform="rotate(50 932.1 1742.0)" letter-spacing="-0.6">CCER2</text>
<line x1="948.1" y1="1728.0" x2="948.1" y2="1735.0" stroke="#444" stroke-width="1"/>
<text x="945.1" y="1742.0" font-size="13.5" fill="#2f7fd8" transform="rotate(50 945.1 1742.0)" letter-spacing="-0.6">PCSK1N</text>
<line x1="961.2" y1="1728.0" x2="961.2" y2="1735.0" stroke="#444" stroke-width="1"/>
<text x="958.2" y="1742.0" font-size="13.5" fill="#2f7fd8" transform="rotate(50 958.2 1742.0)" letter-spacing="-0.6">CCK</text>
<line x1="974.2" y1="1728.0" x2="974.2" y2="1735.0" stroke="#444" stroke-width="1"/>
<text x="971.2" y="1742.0" font-size="13.5" fill="#2f7fd8" transform="rotate(50 971.2 1742.0)" letter-spacing="-0.6">DCT</text>
<line x1="987.2" y1="1728.0" x2="987.2" y2="1735.0" stroke="#444" stroke-width="1"/>
<text x="984.2" y="1742.0" font-size="13.5" fill="#2f7fd8" transform="rotate(50 984.2 1742.0)" letter-spacing="-0.6">PMEL</text>
<line x1="1000.3" y1="1728.0" x2="1000.3" y2="1735.0" stroke="#444" stroke-width="1"/>
<text x="997.3" y="1742.0" font-size="13.5" fill="#2f7fd8" transform="rotate(50 997.3 1742.0)" letter-spacing="-0.6">MLANA</text>
<line x1="1013.3" y1="1728.0" x2="1013.3" y2="1735.0" stroke="#444" stroke-width="1"/>
<text x="1010.3" y="1742.0" font-size="13.5" fill="#2f7fd8" transform="rotate(50 1010.3 1742.0)" letter-spacing="-0.6">CD207</text>
<line x1="1026.3" y1="1728.0" x2="1026.3" y2="1735.0" stroke="#444" stroke-width="1"/>
<text x="1023.3" y="1742.0" font-size="13.5" fill="#2f7fd8" transform="rotate(50 1023.3 1742.0)" letter-spacing="-0.6">CD1A</text>
<line x1="1039.4" y1="1728.0" x2="1039.4" y2="1735.0" stroke="#444" stroke-width="1"/>
<text x="1036.4" y="1742.0" font-size="13.5" fill="#2f7fd8" transform="rotate(50 1036.4 1742.0)" letter-spacing="-0.6">FCGBP</text>
<line x1="1052.4" y1="1728.0" x2="1052.4" y2="1735.0" stroke="#444" stroke-width="1"/>
<text x="1049.4" y="1742.0" font-size="13.5" fill="#111" transform="rotate(50 1049.4 1742.0)" letter-spacing="-0.6">LUM</text>
<line x1="1065.4" y1="1728.0" x2="1065.4" y2="1735.0" stroke="#444" stroke-width="1"/>
<text x="1062.4" y="1742.0" font-size="13.5" fill="#111" transform="rotate(50 1062.4 1742.0)" letter-spacing="-0.6">C1S</text>
<line x1="1078.5" y1="1728.0" x2="1078.5" y2="1735.0" stroke="#444" stroke-width="1"/>
<text x="1075.5" y="1742.0" font-size="13.5" fill="#111" transform="rotate(50 1075.5 1742.0)" letter-spacing="-0.6">COL6A3</text>
<line x1="1091.5" y1="1728.0" x2="1091.5" y2="1735.0" stroke="#444" stroke-width="1"/>
<text x="1088.5" y="1742.0" font-size="13.5" fill="#111" transform="rotate(50 1088.5 1742.0)" letter-spacing="-0.6">CCL19</text>
<line x1="1104.5" y1="1728.0" x2="1104.5" y2="1735.0" stroke="#444" stroke-width="1"/>
<text x="1101.5" y="1742.0" font-size="13.5" fill="#111" transform="rotate(50 1101.5 1742.0)" letter-spacing="-0.6">GADD45B</text>
<line x1="1117.6" y1="1728.0" x2="1117.6" y2="1735.0" stroke="#444" stroke-width="1"/>
<text x="1114.6" y="1742.0" font-size="13.5" fill="#111" transform="rotate(50 1114.6 1742.0)" letter-spacing="-0.6">AHR</text>
<line x1="1130.6" y1="1728.0" x2="1130.6" y2="1735.0" stroke="#444" stroke-width="1"/>
<text x="1127.6" y="1742.0" font-size="13.5" fill="#111" transform="rotate(50 1127.6 1742.0)" letter-spacing="-0.6">IFI27</text>
<line x1="1143.6" y1="1728.0" x2="1143.6" y2="1735.0" stroke="#444" stroke-width="1"/>
<text x="1140.6" y="1742.0" font-size="13.5" fill="#111" transform="rotate(50 1140.6 1742.0)" letter-spacing="-0.6">TM4SF1</text>
<line x1="1156.7" y1="1728.0" x2="1156.7" y2="1735.0" stroke="#444" stroke-width="1"/>
<text x="1153.7" y="1742.0" font-size="13.5" fill="#111" transform="rotate(50 1153.7 1742.0)" letter-spacing="-0.6">CLDN5</text>
<line x1="1169.7" y1="1728.0" x2="1169.7" y2="1735.0" stroke="#444" stroke-width="1"/>
<text x="1166.7" y="1742.0" font-size="13.5" fill="#111" transform="rotate(50 1166.7 1742.0)" letter-spacing="-0.6">IGFBP7</text>
<line x1="1182.7" y1="1728.0" x2="1182.7" y2="1735.0" stroke="#444" stroke-width="1"/>
<text x="1179.7" y="1742.0" font-size="13.5" fill="#111" transform="rotate(50 1179.7 1742.0)" letter-spacing="-0.6">SPARC</text>
<line x1="1195.8" y1="1728.0" x2="1195.8" y2="1735.0" stroke="#444" stroke-width="1"/>
<text x="1192.8" y="1742.0" font-size="13.5" fill="#111" transform="rotate(50 1192.8 1742.0)" letter-spacing="-0.6">COL15A1</text>
<line x1="1208.8" y1="1728.0" x2="1208.8" y2="1735.0" stroke="#444" stroke-width="1"/>
<text x="1205.8" y="1742.0" font-size="13.5" fill="#111" transform="rotate(50 1205.8 1742.0)" letter-spacing="-0.6">ACKR1</text>
<line x1="1221.8" y1="1728.0" x2="1221.8" y2="1735.0" stroke="#444" stroke-width="1"/>
<text x="1218.8" y="1742.0" font-size="13.5" fill="#111" transform="rotate(50 1218.8 1742.0)" letter-spacing="-0.6">CCL14</text>
<line x1="1234.9" y1="1728.0" x2="1234.9" y2="1735.0" stroke="#444" stroke-width="1"/>
<text x="1231.9" y="1742.0" font-size="13.5" fill="#111" transform="rotate(50 1231.9 1742.0)" letter-spacing="-0.6">CD74</text>
<line x1="1247.9" y1="1728.0" x2="1247.9" y2="1735.0" stroke="#444" stroke-width="1"/>
<text x="1244.9" y="1742.0" font-size="13.5" fill="#111" transform="rotate(50 1244.9 1742.0)" letter-spacing="-0.6">RGS5</text>
<line x1="1260.9" y1="1728.0" x2="1260.9" y2="1735.0" stroke="#444" stroke-width="1"/>
<text x="1257.9" y="1742.0" font-size="13.5" fill="#111" transform="rotate(50 1257.9 1742.0)" letter-spacing="-0.6">CALD1</text>
<line x1="1274.0" y1="1728.0" x2="1274.0" y2="1735.0" stroke="#444" stroke-width="1"/>
<text x="1271.0" y="1742.0" font-size="13.5" fill="#111" transform="rotate(50 1271.0 1742.0)" letter-spacing="-0.6">NDUFA4L2</text>
<line x1="1287.0" y1="1728.0" x2="1287.0" y2="1735.0" stroke="#444" stroke-width="1"/>
<text x="1284.0" y="1742.0" font-size="13.5" fill="#111" transform="rotate(50 1284.0 1742.0)" letter-spacing="-0.6">MYH11</text>
<line x1="1300.0" y1="1728.0" x2="1300.0" y2="1735.0" stroke="#444" stroke-width="1"/>
<text x="1297.0" y="1742.0" font-size="13.5" fill="#111" transform="rotate(50 1297.0 1742.0)" letter-spacing="-0.6">LBH</text>
<line x1="1313.1" y1="1728.0" x2="1313.1" y2="1735.0" stroke="#444" stroke-width="1"/>
<text x="1310.1" y="1742.0" font-size="13.5" fill="#111" transform="rotate(50 1310.1 1742.0)" letter-spacing="-0.6">MGST3</text>
<line x1="1326.1" y1="1728.0" x2="1326.1" y2="1735.0" stroke="#444" stroke-width="1"/>
<text x="1323.1" y="1742.0" font-size="13.5" fill="#111" transform="rotate(50 1323.1 1742.0)" letter-spacing="-0.6">CCL21</text>
<line x1="1339.1" y1="1728.0" x2="1339.1" y2="1735.0" stroke="#444" stroke-width="1"/>
<text x="1336.1" y="1742.0" font-size="13.5" fill="#111" transform="rotate(50 1336.1 1742.0)" letter-spacing="-0.6">TFF3</text>
<line x1="1352.2" y1="1728.0" x2="1352.2" y2="1735.0" stroke="#444" stroke-width="1"/>
<text x="1349.2" y="1742.0" font-size="13.5" fill="#111" transform="rotate(50 1349.2 1742.0)" letter-spacing="-0.6">FN1</text>
<line x1="1365.2" y1="1728.0" x2="1365.2" y2="1735.0" stroke="#444" stroke-width="1"/>
<text x="1362.2" y="1742.0" font-size="13.5" fill="#111" transform="rotate(50 1362.2 1742.0)" letter-spacing="-0.6">PLP1</text>
<line x1="1378.2" y1="1728.0" x2="1378.2" y2="1735.0" stroke="#444" stroke-width="1"/>
<text x="1375.2" y="1742.0" font-size="13.5" fill="#111" transform="rotate(50 1375.2 1742.0)" letter-spacing="-0.6">CDH19</text>
<line x1="1391.3" y1="1728.0" x2="1391.3" y2="1735.0" stroke="#444" stroke-width="1"/>
<text x="1388.3" y="1742.0" font-size="13.5" fill="#111" transform="rotate(50 1388.3 1742.0)" letter-spacing="-0.6">MPZ</text>
<line x1="1404.3" y1="1728.0" x2="1404.3" y2="1735.0" stroke="#444" stroke-width="1"/>
<text x="1401.3" y="1742.0" font-size="13.5" fill="#111" transform="rotate(50 1401.3 1742.0)" letter-spacing="-0.6">IL1B</text>
<line x1="1417.3" y1="1728.0" x2="1417.3" y2="1735.0" stroke="#444" stroke-width="1"/>
<text x="1414.3" y="1742.0" font-size="13.5" fill="#111" transform="rotate(50 1414.3 1742.0)" letter-spacing="-0.6">LYZ</text>
<line x1="1430.3" y1="1728.0" x2="1430.3" y2="1735.0" stroke="#444" stroke-width="1"/>
<text x="1427.3" y="1742.0" font-size="13.5" fill="#111" transform="rotate(50 1427.3 1742.0)" letter-spacing="-0.6">S100A9</text>
<line x1="1443.4" y1="1728.0" x2="1443.4" y2="1735.0" stroke="#444" stroke-width="1"/>
<text x="1440.4" y="1742.0" font-size="13.5" fill="#111" transform="rotate(50 1440.4 1742.0)" letter-spacing="-0.6">C1QA</text>
<line x1="1456.4" y1="1728.0" x2="1456.4" y2="1735.0" stroke="#444" stroke-width="1"/>
<text x="1453.4" y="1742.0" font-size="13.5" fill="#111" transform="rotate(50 1453.4 1742.0)" letter-spacing="-0.6">HLA-DQA1</text>
<line x1="1469.4" y1="1728.0" x2="1469.4" y2="1735.0" stroke="#444" stroke-width="1"/>
<text x="1466.4" y="1742.0" font-size="13.5" fill="#111" transform="rotate(50 1466.4 1742.0)" letter-spacing="-0.6">C1QB</text>
<line x1="1482.5" y1="1728.0" x2="1482.5" y2="1735.0" stroke="#444" stroke-width="1"/>
<text x="1479.5" y="1742.0" font-size="13.5" fill="#111" transform="rotate(50 1479.5 1742.0)" letter-spacing="-0.6">PTPN1</text>
<line x1="1495.5" y1="1728.0" x2="1495.5" y2="1735.0" stroke="#444" stroke-width="1"/>
<text x="1492.5" y="1742.0" font-size="13.5" fill="#111" transform="rotate(50 1492.5 1742.0)" letter-spacing="-0.6">LSP1</text>
<line x1="1508.5" y1="1728.0" x2="1508.5" y2="1735.0" stroke="#444" stroke-width="1"/>
<text x="1505.5" y="1742.0" font-size="13.5" fill="#111" transform="rotate(50 1505.5 1742.0)" letter-spacing="-0.6">AIF1</text>
<line x1="1521.6" y1="1728.0" x2="1521.6" y2="1735.0" stroke="#444" stroke-width="1"/>
<text x="1518.6" y="1742.0" font-size="13.5" fill="#111" transform="rotate(50 1518.6 1742.0)" letter-spacing="-0.6">CPA3</text>
<line x1="1534.6" y1="1728.0" x2="1534.6" y2="1735.0" stroke="#444" stroke-width="1"/>
<text x="1531.6" y="1742.0" font-size="13.5" fill="#111" transform="rotate(50 1531.6 1742.0)" letter-spacing="-0.6">GZMB</text>
<line x1="1547.6" y1="1728.0" x2="1547.6" y2="1735.0" stroke="#444" stroke-width="1"/>
<text x="1544.6" y="1742.0" font-size="13.5" fill="#111" transform="rotate(50 1544.6 1742.0)" letter-spacing="-0.6">JCHAIN</text>
<line x1="1560.7" y1="1728.0" x2="1560.7" y2="1735.0" stroke="#444" stroke-width="1"/>
<text x="1557.7" y="1742.0" font-size="13.5" fill="#111" transform="rotate(50 1557.7 1742.0)" letter-spacing="-0.6">IRF7</text>
<line x1="1573.7" y1="1728.0" x2="1573.7" y2="1735.0" stroke="#444" stroke-width="1"/>
<text x="1570.7" y="1742.0" font-size="13.5" fill="#111" transform="rotate(50 1570.7 1742.0)" letter-spacing="-0.6">TPSB2</text>
<line x1="1586.7" y1="1728.0" x2="1586.7" y2="1735.0" stroke="#444" stroke-width="1"/>
<text x="1583.7" y="1742.0" font-size="13.5" fill="#111" transform="rotate(50 1583.7 1742.0)" letter-spacing="-0.6">TPSAB1</text>
<line x1="1599.8" y1="1728.0" x2="1599.8" y2="1735.0" stroke="#444" stroke-width="1"/>
<text x="1596.8" y="1742.0" font-size="13.5" fill="#111" transform="rotate(50 1596.8 1742.0)" letter-spacing="-0.6">CPA3</text>
<line x1="1612.8" y1="1728.0" x2="1612.8" y2="1735.0" stroke="#444" stroke-width="1"/>
<text x="1609.8" y="1742.0" font-size="13.5" fill="#111" transform="rotate(50 1609.8 1742.0)" letter-spacing="-0.6">CCL5</text>
<line x1="1625.8" y1="1728.0" x2="1625.8" y2="1735.0" stroke="#444" stroke-width="1"/>
<text x="1622.8" y="1742.0" font-size="13.5" fill="#111" transform="rotate(50 1622.8 1742.0)" letter-spacing="-0.6">NKG7</text>
<line x1="1638.9" y1="1728.0" x2="1638.9" y2="1735.0" stroke="#444" stroke-width="1"/>
<text x="1635.9" y="1742.0" font-size="13.5" fill="#111" transform="rotate(50 1635.9 1742.0)" letter-spacing="-0.6">GZMA</text>
<line x1="1651.9" y1="1728.0" x2="1651.9" y2="1735.0" stroke="#444" stroke-width="1"/>
<text x="1648.9" y="1742.0" font-size="13.5" fill="#111" transform="rotate(50 1648.9 1742.0)" letter-spacing="-0.6">BTG1</text>
<line x1="1664.9" y1="1728.0" x2="1664.9" y2="1735.0" stroke="#444" stroke-width="1"/>
<text x="1661.9" y="1742.0" font-size="13.5" fill="#111" transform="rotate(50 1661.9 1742.0)" letter-spacing="-0.6">TRBC2</text>
<line x1="1678.0" y1="1728.0" x2="1678.0" y2="1735.0" stroke="#444" stroke-width="1"/>
<text x="1675.0" y="1742.0" font-size="13.5" fill="#111" transform="rotate(50 1675.0 1742.0)" letter-spacing="-0.6">ZFP36L2</text>
<line x1="1691.0" y1="1728.0" x2="1691.0" y2="1735.0" stroke="#444" stroke-width="1"/>
<text x="1688.0" y="1742.0" font-size="13.5" fill="#111" transform="rotate(50 1688.0 1742.0)" letter-spacing="-0.6">KLRB1</text>
<line x1="1704.0" y1="1728.0" x2="1704.0" y2="1735.0" stroke="#444" stroke-width="1"/>
<text x="1701.0" y="1742.0" font-size="13.5" fill="#111" transform="rotate(50 1701.0 1742.0)" letter-spacing="-0.6">TRDC</text>
<line x1="1717.1" y1="1728.0" x2="1717.1" y2="1735.0" stroke="#444" stroke-width="1"/>
<text x="1714.1" y="1742.0" font-size="13.5" fill="#111" transform="rotate(50 1714.1 1742.0)" letter-spacing="-0.6">KLRF1</text>
<line x1="1730.1" y1="1728.0" x2="1730.1" y2="1735.0" stroke="#444" stroke-width="1"/>
<text x="1727.1" y="1742.0" font-size="13.5" fill="#111" transform="rotate(50 1727.1 1742.0)" letter-spacing="-0.6">SPINK2</text>
<line x1="1743.1" y1="1728.0" x2="1743.1" y2="1735.0" stroke="#444" stroke-width="1"/>
<text x="1740.1" y="1742.0" font-size="13.5" fill="#111" transform="rotate(50 1740.1 1742.0)" letter-spacing="-0.6">KRT86</text>
<line x1="1756.2" y1="1728.0" x2="1756.2" y2="1735.0" stroke="#444" stroke-width="1"/>
<text x="1753.2" y="1742.0" font-size="13.5" fill="#111" transform="rotate(50 1753.2 1742.0)" letter-spacing="-0.6">SPRY1</text>
<line x1="1769.2" y1="1728.0" x2="1769.2" y2="1735.0" stroke="#444" stroke-width="1"/>
<text x="1766.2" y="1742.0" font-size="13.5" fill="#111" transform="rotate(50 1766.2 1742.0)" letter-spacing="-0.6">SOCK2</text>
<line x1="1782.2" y1="1728.0" x2="1782.2" y2="1735.0" stroke="#444" stroke-width="1"/>
<text x="1779.2" y="1742.0" font-size="13.5" fill="#111" transform="rotate(50 1779.2 1742.0)" letter-spacing="-0.6">BATF</text>
<line x1="1795.3" y1="1728.0" x2="1795.3" y2="1735.0" stroke="#444" stroke-width="1"/>
<text x="1792.3" y="1742.0" font-size="13.5" fill="#111" transform="rotate(50 1792.3 1742.0)" letter-spacing="-0.6">CTLA4</text>
<line x1="1808.3" y1="1728.0" x2="1808.3" y2="1735.0" stroke="#444" stroke-width="1"/>
<text x="1805.3" y="1742.0" font-size="13.5" fill="#111" transform="rotate(50 1805.3 1742.0)" letter-spacing="-0.6">GPR171</text>
<line x1="1821.3" y1="1728.0" x2="1821.3" y2="1735.0" stroke="#444" stroke-width="1"/>
<text x="1818.3" y="1742.0" font-size="13.5" fill="#111" transform="rotate(50 1818.3 1742.0)" letter-spacing="-0.6">PTPN22</text>
<line x1="1834.4" y1="1728.0" x2="1834.4" y2="1735.0" stroke="#444" stroke-width="1"/>
<text x="1831.4" y="1742.0" font-size="13.5" fill="#111" transform="rotate(50 1831.4 1742.0)" letter-spacing="-0.6">ARHGEF1</text>
<line x1="1847.4" y1="1728.0" x2="1847.4" y2="1735.0" stroke="#444" stroke-width="1"/>
<text x="1844.4" y="1742.0" font-size="13.5" fill="#111" transform="rotate(50 1844.4 1742.0)" letter-spacing="-0.6">CD40LG</text>
<line x1="1860.4" y1="1728.0" x2="1860.4" y2="1735.0" stroke="#444" stroke-width="1"/>
<text x="1857.4" y="1742.0" font-size="13.5" fill="#111" transform="rotate(50 1857.4 1742.0)" letter-spacing="-0.6">TRAT1</text>
<line x1="1873.5" y1="1728.0" x2="1873.5" y2="1735.0" stroke="#444" stroke-width="1"/>
<text x="1870.5" y="1742.0" font-size="13.5" fill="#111" transform="rotate(50 1870.5 1742.0)" letter-spacing="-0.6">RASAL3</text>
<line x1="1886.5" y1="1728.0" x2="1886.5" y2="1735.0" stroke="#444" stroke-width="1"/>
<text x="1883.5" y="1742.0" font-size="13.5" fill="#111" transform="rotate(50 1883.5 1742.0)" letter-spacing="-0.6">SARAF</text>
<line x1="1899.5" y1="1728.0" x2="1899.5" y2="1735.0" stroke="#444" stroke-width="1"/>
<text x="1896.5" y="1742.0" font-size="13.5" fill="#111" transform="rotate(50 1896.5 1742.0)" letter-spacing="-0.6">CREM</text>
<line x1="1912.6" y1="1728.0" x2="1912.6" y2="1735.0" stroke="#444" stroke-width="1"/>
<text x="1909.6" y="1742.0" font-size="13.5" fill="#111" transform="rotate(50 1909.6 1742.0)" letter-spacing="-0.6">KLF6</text>
<line x1="1925.6" y1="1728.0" x2="1925.6" y2="1735.0" stroke="#444" stroke-width="1"/>
<text x="1922.6" y="1742.0" font-size="13.5" fill="#111" transform="rotate(50 1922.6 1742.0)" letter-spacing="-0.6">MS4A1</text>
<line x1="1938.6" y1="1728.0" x2="1938.6" y2="1735.0" stroke="#444" stroke-width="1"/>
<text x="1935.6" y="1742.0" font-size="13.5" fill="#111" transform="rotate(50 1935.6 1742.0)" letter-spacing="-0.6">CD79A</text>
<line x1="1951.7" y1="1728.0" x2="1951.7" y2="1735.0" stroke="#444" stroke-width="1"/>
<text x="1948.7" y="1742.0" font-size="13.5" fill="#111" transform="rotate(50 1948.7 1742.0)" letter-spacing="-0.6">IGKC</text>
<line x1="1964.7" y1="1728.0" x2="1964.7" y2="1735.0" stroke="#444" stroke-width="1"/>
<text x="1961.7" y="1742.0" font-size="13.5" fill="#111" transform="rotate(50 1961.7 1742.0)" letter-spacing="-0.6">IGHG1</text>
<line x1="1977.7" y1="1728.0" x2="1977.7" y2="1735.0" stroke="#444" stroke-width="1"/>
<text x="1974.7" y="1742.0" font-size="13.5" fill="#111" transform="rotate(50 1974.7 1742.0)" letter-spacing="-0.6">IGLC2</text>
<text x="4.0" y="1855.4" font-size="39">h</text>
<text x="770.0" y="1864.0" font-size="32.02" text-anchor="middle" fill="#2b78bd" textLength="207.0" lengthAdjust="spacingAndGlyphs">Keratinocytes</text>
<rect x="77.6" y="1880.4" width="1396.0" height="417.5" fill="#f5f5f5" stroke="#444" stroke-width="1.5"/>
<line x1="62.5" y1="1880.4" x2="62.5" y2="2297.9" stroke="#666" stroke-width="1.2"/>
<line x1="55.0" y1="2297.9" x2="62.5" y2="2297.9" stroke="#666" stroke-width="1.2"/>
<text x="49.5" y="2304.4" font-size="18.5" text-anchor="end" fill="#222">0</text>
<line x1="55.0" y1="2245.7" x2="62.5" y2="2245.7" stroke="#666" stroke-width="1.2"/>
<text x="49.5" y="2252.2" font-size="18.5" text-anchor="end" fill="#222">1</text>
<line x1="55.0" y1="2193.5" x2="62.5" y2="2193.5" stroke="#666" stroke-width="1.2"/>
<text x="49.5" y="2200.0" font-size="18.5" text-anchor="end" fill="#222">2</text>
<line x1="55.0" y1="2141.3" x2="62.5" y2="2141.3" stroke="#666" stroke-width="1.2"/>
<text x="49.5" y="2147.8" font-size="18.5" text-anchor="end" fill="#222">3</text>
<line x1="55.0" y1="2089.1" x2="62.5" y2="2089.1" stroke="#666" stroke-width="1.2"/>
<text x="49.5" y="2095.6" font-size="18.5" text-anchor="end" fill="#222">4</text>
<line x1="55.0" y1="2037.0" x2="62.5" y2="2037.0" stroke="#666" stroke-width="1.2"/>
<text x="49.5" y="2043.5" font-size="18.5" text-anchor="end" fill="#222">5</text>
<line x1="55.0" y1="1984.8" x2="62.5" y2="1984.8" stroke="#666" stroke-width="1.2"/>
<text x="49.5" y="1991.3" font-size="18.5" text-anchor="end" fill="#222">6</text>
<line x1="55.0" y1="1932.6" x2="62.5" y2="1932.6" stroke="#666" stroke-width="1.2"/>
<text x="49.5" y="1939.1" font-size="18.5" text-anchor="end" fill="#222">7</text>
<line x1="55.0" y1="1880.4" x2="62.5" y2="1880.4" stroke="#666" stroke-width="1.2"/>
<text x="49.5" y="1886.9" font-size="18.5" text-anchor="end" fill="#222">8</text>
<line x1="77.6" y1="2314.0" x2="1473.0" y2="2314.0" stroke="#666" stroke-width="1.2"/>
<line x1="77.2" y1="2314.0" x2="77.2" y2="2321.0" stroke="#666" stroke-width="1.2"/>
<text x="77.2" y="2338.8" font-size="18.5" text-anchor="middle" fill="#222">−5</text>
<line x1="240.8" y1="2314.0" x2="240.8" y2="2321.0" stroke="#666" stroke-width="1.2"/>
<text x="240.8" y="2338.8" font-size="18.5" text-anchor="middle" fill="#222">−4</text>
<line x1="404.4" y1="2314.0" x2="404.4" y2="2321.0" stroke="#666" stroke-width="1.2"/>
<text x="404.4" y="2338.8" font-size="18.5" text-anchor="middle" fill="#222">−3</text>
<line x1="568.0" y1="2314.0" x2="568.0" y2="2321.0" stroke="#666" stroke-width="1.2"/>
<text x="568.0" y="2338.8" font-size="18.5" text-anchor="middle" fill="#222">−2</text>
<line x1="731.6" y1="2314.0" x2="731.6" y2="2321.0" stroke="#666" stroke-width="1.2"/>
<text x="731.6" y="2338.8" font-size="18.5" text-anchor="middle" fill="#222">−1</text>
<line x1="895.2" y1="2314.0" x2="895.2" y2="2321.0" stroke="#666" stroke-width="1.2"/>
<text x="895.2" y="2338.8" font-size="18.5" text-anchor="middle" fill="#222">0</text>
<line x1="1058.8" y1="2314.0" x2="1058.8" y2="2321.0" stroke="#666" stroke-width="1.2"/>
<text x="1058.8" y="2338.8" font-size="18.5" text-anchor="middle" fill="#222">1</text>
<line x1="1222.4" y1="2314.0" x2="1222.4" y2="2321.0" stroke="#666" stroke-width="1.2"/>
<text x="1222.4" y="2338.8" font-size="18.5" text-anchor="middle" fill="#222">2</text>
<line x1="1386.0" y1="2314.0" x2="1386.0" y2="2321.0" stroke="#666" stroke-width="1.2"/>
<text x="1386.0" y="2338.8" font-size="18.5" text-anchor="middle" fill="#222">3</text>
<text x="751.0" y="2372.0" font-size="24.15" text-anchor="middle" fill="#222" textLength="180.0" lengthAdjust="spacingAndGlyphs">log2 fold change</text>
<text x="19.5" y="2089.0" font-size="24.15" text-anchor="middle" fill="#222" textLength="206.0" lengthAdjust="spacingAndGlyphs" transform="rotate(-90 19.5 2089.0)">-log10(adj p-value)</text>
<text x="92.6" y="1910.0" font-size="27.83" fill="#c0203a" textLength="158.0" lengthAdjust="spacingAndGlyphs">Periodontitis</text>
<path d="M803 2182h0M1007 2174h0M860 2266h0M1043 2202h0M792 2145h0M768 2244h0M738 2145h0M759 2139h0M903 2293h0M930 2285h0M811 2268h0M850 2274h0M748 2182h0M941 2264h0M1042 2113h0M777 2120h0M957 2258h0M1015 2100h0M971 2185h0M1051 2101h0M792 2164h0M821 2284h0M786 2258h0M853 2251h0M953 2203h0M946 2296h0M910 2291h0M910 2290h0M1003 2201h0M805 2203h0M974 2180h0M951 2244h0M1057 2184h0M862 2262h0M1036 2197h0M859 2286h0M1005 2175h0M1024 2132h0M818 2255h0M743 2201h0M1031 2117h0M1055 2232h0M737 2150h0M805 2200h0M832 2195h0M1053 2211h0M928 2272h0M1040 2125h0M818 2194h0M943 2262h0M733 2157h0M829 2289h0M743 2128h0M823 2188h0M936 2251h0M848 2284h0M836 2269h0M1013 2136h0M752 2153h0M750 2226h0M971 2202h0M769 2250h0M809 2267h0M742 2231h0M775 2105h0M764 2245h0M785 2257h0M846 2265h0M845 2264h0M759 2107h0M1052 2204h0M760 2108h0M825 2249h0M786 2259h0M1008 2164h0M744 2177h0M967 2251h0M835 2281h0M961 2187h0M993 2226h0M982 2267h0M871 2288h0M995 2157h0M918 2261h0M1015 2184h0M1036 2178h0M1009 2227h0M793 2260h0M735 2102h0M739 2211h0M772 2217h0M957 2207h0M933 2256h0M784 2170h0M740 2229h0M1010 2170h0M1052 2241h0M993 2158h0M1019 2225h0M955 2275h0M1011 2233h0M969 2219h0M1049 2155h0M962 2288h0M749 2180h0M866 2269h0M1041 2198h0M750 2189h0M842 2284h0M771 2233h0M951 2285h0M1034 2103h0M1045 2210h0M1048 2109h0M750 2161h0M818 2215h0M1013 2139h0M1041 2188h0M797 2267h0M854 2256h0M1024 2214h0M1036 2148h0M793 2194h0M955 2245h0M979 2270h0M792 2266h0M946 2254h0M844 2297h0M770 2169h0M972 2196h0M1023 2114h0M1016 2184h0M745 2101h0M838 2265h0M746 2102h0M1042 2112h0M846 2274h0M1002 2253h0M761 2171h0M752 2115h0M779 2140h0M764 2197h0M1007 2113h0M842 2225h0M1051 2138h0M852 2294h0M950 2272h0M1033 2242h0M736 2170h0M1057 2221h0M1009 2209h0M825 2271h0M843 2269h0M925 2282h0M736 2201h0M785 2219h0M1067 2210h0M782 2201h0M765 2131h0M808 2210h0M1035 2100h0M984 2201h0M1037 2169h0M778 2159h0M795 2141h0M782 2193h0M1020 2220h0M769 2218h0M1024 2134h0M979 2164h0M1044 2184h0M857 2286h0M1022 2122h0M964 2278h0M871 2288h0M923 2279h0M1002 2145h0M976 2242h0M1027 2136h0M808 2196h0M757 2178h0M953 2293h0M759 2146h0M740 2174h0M765 2122h0M1038 2161h0M849 2280h0M762 2139h0M1054 2158h0M994 2239h0M744 2175h0M828 2284h0M743 2120h0M1022 2251h0M967 2213h0M778 2175h0M944 2277h0M760 2111h0M758 2133h0M847 2240h0M1014 2221h0M1026 2149h0M1049 2154h0M969 2278h0M954 2281h0M915 2297h0M947 2292h0M772 2151h0M935 2293h0M760 2108h0M835 2214h0M937 2290h0M1038 2101h0M747 2168h0M942 2267h0M1019 2229h0M969 2277h0M845 2286h0M800 2199h0M1053 2157h0M982 2195h0M758 2136h0M756 2136h0M916 2295h0M817 2168h0M1019 2198h0M1008 2158h0M984 2164h0M863 2276h0M1028 2215h0M790 2226h0M896 2293h0M944 2267h0M753 2158h0M1048 2139h0M858 2296h0M975 2167h0M1058 2146h0M1031 2136h0M849 2249h0M868 2283h0M1000 2142h0M811 2190h0M789 2213h0M743 2198h0M933 2277h0M923 2292h0M738 2139h0M757 2210h0M982 2222h0M974 2277h0M993 2165h0M981 2224h0M754 2230h0M869 2290h0M787 2178h0M966 2279h0M793 2192h0M744 2143h0M989 2206h0M959 2273h0M871 2280h0M777 2138h0M825 2281h0M771 2144h0M984 2263h0M786 2204h0M993 2238h0M759 2235h0M813 2279h0M863 2285h0M826 2256h0M914 2265h0M998 2211h0M1052 2116h0M851 2254h0M820 2222h0M965 2201h0M1007 2251h0M882 2284h0M977 2262h0M1054 2229h0M1004 2206h0M971 2218h0M756 2149h0M770 2161h0M821 2273h0M1024 2144h0M840 2293h0M1045 2102h0M974 2240h0M1043 2238h0M740 2106h0M761 2146h0M1021 2202h0M992 2190h0M777 2130h0M762 2112h0M768 2173h0M922 2294h0M1056 2197h0M780 2155h0M970 2260h0M789 2199h0M853 2254h0M836 2221h0M794 2136h0M736 2125h0M826 2210h0M850 2295h0M733 2188h0M831 2206h0M796 2181h0M1055 2151h0M1012 2121h0M758 2247h0M1033 2136h0M852 2251h0M833 2277h0M830 2198h0M790 2195h0M1054 2212h0M992 2145h0M1008 2224h0M1047 2165h0M983 2199h0M945 2286h0M1034 2131h0M1016 2155h0M950 2296h0M758 2241h0M801 2218h0M779 2163h0M838 2270h0M853 2255h0M737 2233h0M912 2269h0M798 2245h0M754 2246h0M808 2251h0M793 2251h0M1033 2194h0M758 2217h0M764 2164h0M793 2137h0M874 2284h0M735 2230h0M870 2291h0M1049 2206h0M779 2241h0M1017 2188h0M770 2106h0M1020 2248h0M813 2282h0M767 2110h0M982 2242h0M820 2204h0M775 2193h0M889 2292h0M873 2298h0M1053 2128h0M772 2181h0M794 2163h0M952 2273h0M1053 2115h0M797 2197h0M1038 2203h0M951 2270h0M827 2272h0M805 2273h0M910 2287h0M800 2261h0M799 2251h0M865 2291h0M784 2124h0M935 2252h0M1022 2158h0M813 2204h0M1041 2129h0M781 2198h0M915 2278h0M1040 2194h0M793 2209h0M751 2163h0M836 2293h0M866 2290h0M775 2154h0M805 2235h0M996 2177h0M971 2204h0M860 2296h0M781 2141h0M775 2163h0M1006 2127h0M1031 2191h0M867 2263h0M831 2253h0M809 2175h0M792 2265h0M761 2120h0M1024 2113h0M847 2278h0M761 2251h0M1020 2107h0M810 2180h0M824 2271h0M963 2271h0M797 2130h0M1046 2109h0M768 2190h0M828 2236h0M783 2212h0M1034 2120h0M959 2278h0M974 2277h0M747 2179h0M1036 2181h0M775 2164h0M834 2291h0M794 2154h0M864 2297h0M831 2187h0M946 2297h0M1055 2143h0M974 2278h0M786 2232h0M810 2265h0M1025 2155h0M868 2297h0M1009 2198h0M962 2267h0M941 2289h0M747 2116h0M987 2166h0M778 2138h0M846 2279h0M873 2292h0M1006 2110h0M1052 2101h0M767 2173h0M757 2166h0M978 2160h0M952 2240h0M989 2200h0M988 2191h0M820 2288h0M932 2274h0M927 2291h0M979 2260h0M861 2284h0M744 2145h0M1057 2106h0M828 2248h0M804 2213h0M780 2233h0M783 2173h0M747 2224h0M829 2230h0M1056 2165h0M775 2232h0M763 2148h0M863 2288h0M867 2293h0M769 2108h0M996 2208h0M1007 2152h0M885 2285h0M922 2279h0M978 2216h0M751 2144h0M924 2275h0M997 2199h0M1020 2182h0M813 2192h0M1047 2144h0M771 2246h0M1019 2182h0M1042 2136h0M974 2187h0M946 2272h0M766 2235h0M1018 2100h0M945 2222h0M766 2143h0M949 2229h0M1023 2155h0M1011 2220h0M856 2283h0M961 2294h0M1054 2139h0M1045 2142h0M753 2144h0M927 2275h0M822 2241h0M755 2253h0M827 2286h0M774 2131h0M763 2140h0M808 2257h0M961 2286h0M747 2111h0M1003 2162h0M976 2204h0M1031 2140h0M851 2243h0M999 2220h0M773 2110h0M959 2276h0M980 2237h0M1038 2169h0M1022 2216h0M1019 2170h0M904 2290h0M1049 2128h0M774 2101h0M958 2224h0M810 2172h0M989 2193h0M807 2255h0M1039 2151h0M977 2208h0M1010 2124h0M734 2192h0M855 2280h0M988 2155h0M796 2258h0M1026 2184h0M807 2204h0M841 2269h0M754 2138h0M1021 2136h0M1039 2189h0M736 2167h0M797 2150h0M863 2257h0M980 2256h0M1008 2221h0M991 2259h0M980 2210h0M741 2235h0M1022 2120h0M784 2164h0M807 2219h0M876 2297h0M1032 2219h0M1001 2123h0M787 2263h0M941 2298h0M832 2205h0M735 2166h0M976 2168h0M947 2280h0M765 2108h0M997 2168h0M928 2269h0M1055 2219h0M849 2250h0M1045 2140h0M853 2287h0M957 2258h0M1047 2158h0M881 2297h0M1004 2237h0M1048 2143h0M934 2281h0M1042 2220h0M909 2295h0M983 2255h0M926 2252h0M838 2280h0M1058 2146h0M1001 2202h0M806 2273h0M847 2291h0M763 2106h0M766 2119h0M1053 2147h0M1057 2192h0M1022 2169h0M1030 2102h0M937 2287h0M748 2119h0M761 2136h0M740 2152h0M953 2233h0M1051 2112h0M1058 2107h0M1029 2193h0M776 2162h0M738 2108h0M869 2266h0M996 2262h0M1013 2167h0M930 2260h0M1058 2235h0M801 2236h0M818 2179h0M929 2252h0M1047 2237h0M831 2192h0M918 2275h0M978 2271h0M812 2255h0M861 2277h0M977 2190h0M928 2288h0M803 2177h0M985 2238h0M988 2257h0M797 2243h0M760 2137h0M835 2217h0M753 2165h0M807 2186h0M759 2106h0M1036 2225h0M1023 2121h0M763 2246h0M999 2185h0M1050 2193h0M961 2254h0M975 2215h0M1046 2189h0M1013 2263h0M767 2142h0M967 2286h0M1037 2140h0M804 2267h0M782 2141h0M912 2280h0M767 2139h0M769 2168h0M947 2282h0M786 2130h0M1010 2158h0M766 2196h0M796 2257h0M931 2297h0M777 2260h0M967 2227h0M810 2174h0M762 2177h0M765 2251h0M1055 2132h0M743 2154h0M759 2177h0M871 2259h0M808 2196h0M765 2150h0M1000 2137h0M851 2259h0M1012 2244h0M784 2149h0M1056 2218h0M1016 2126h0M912 2292h0M800 2197h0M798 2151h0M885 2298h0M776 2214h0M943 2231h0M1030 2237h0M1031 2174h0M875 2281h0M991 2251h0M1049 2126h0M950 2271h0M1029 2163h0M1034 2238h0M762 2204h0M872 2296h0M1021 2217h0M1023 2177h0M1003 2139h0M868 2284h0M915 2269h0M874 2268h0M1013 2122h0M976 2209h0M1017 2102h0M873 2294h0M833 2286h0M830 2274h0M861 2286h0M786 2256h0M796 2147h0M819 2276h0M880 2272h0M1050 2137h0M815 2230h0M767 2174h0M1034 2175h0M1031 2177h0M803 2137h0M984 2276h0M953 2213h0M784 2181h0M957 2222h0M1019 2179h0M870 2287h0M947 2268h0M968 2265h0M1036 2178h0M822 2243h0M804 2168h0M796 2164h0M1021 2233h0M778 2229h0M955 2222h0M1043 2205h0M779 2210h0M819 2281h0M1028 2235h0M1019 2108h0M756 2169h0M795 2166h0M761 2253h0M1020 2109h0M1004 2241h0M743 2158h0M1021 2207h0M789 2157h0M817 2171h0M823 2285h0M1045 2199h0M737 2176h0M840 2249h0M732 2150h0M765 2180h0M1043 2108h0M849 2274h0M863 2281h0M877 2277h0M1018 2187h0M997 2150h0M955 2211h0M858 2267h0M1052 2205h0M768 2175h0M734 2109h0M746 2235h0M852 2237h0M872 2270h0M770 2204h0M763 2131h0M1052 2105h0M843 2220h0M979 2199h0M766 2184h0M769 2182h0M948 2289h0M861 2287h0M804 2217h0M768 2202h0M733 2147h0M776 2200h0M1054 2112h0M806 2181h0M798 2270h0M1034 2116h0M934 2290h0M841 2281h0M835 2248h0M999 2198h0M827 2261h0M945 2280h0M804 2250h0M776 2133h0M931 2289h0M740 2194h0M1032 2202h0M944 2265h0M769 2209h0M1023 2145h0M801 2273h0M1000 2215h0M1039 2238h0M1052 2218h0M1041 2168h0M795 2202h0M742 2138h0M802 2241h0M833 2211h0M979 2267h0M965 2264h0M919 2267h0M827 2196h0M833 2292h0M1023 2198h0M960 2287h0M1049 2139h0M1001 2178h0M970 2192h0M1001 2133h0M759 2217h0M847 2283h0M1035 2124h0M848 2293h0M763 2236h0M870 2286h0M847 2254h0M806 2149h0M806 2171h0M956 2260h0M1043 2173h0M966 2238h0M753 2167h0M965 2223h0M1007 2244h0M773 2108h0M951 2225h0M792 2235h0M1025 2191h0M937 2269h0M974 2191h0M785 2262h0M801 2241h0M839 2290h0M999 2242h0M1025 2116h0M828 2289h0M746 2129h0M1063 2198h0M955 2220h0M989 2183h0M1046 2110h0M885 2286h0M816 2216h0M799 2172h0M778 2129h0M823 2277h0M966 2187h0M746 2186h0M982 2213h0M782 2195h0M826 2211h0M969 2169h0M807 2195h0M947 2263h0M991 2267h0M932 2273h0M960 2257h0M1022 2109h0M741 2101h0M827 2251h0M941 2291h0M1036 2245h0M957 2296h0M1035 2196h0M1045 2175h0M852 2254h0M1027 2244h0M933 2276h0M1049 2181h0M979 2193h0M1041 2162h0M814 2275h0M900 2295h0M932 2277h0M1006 2254h0M778 2177h0M731 2203h0M828 2273h0M804 2207h0M1003 2145h0M919 2298h0M927 2297h0M939 2226h0M837 2230h0M985 2234h0M1038 2154h0M1050 2159h0M841 2253h0M954 2271h0M958 2285h0M862 2277h0M766 2100h0M1016 2111h0M989 2270h0M770 2153h0M865 2295h0M810 2217h0M875 2293h0M936 2269h0M990 2183h0M1039 2149h0M974 2191h0M1031 2186h0M977 2181h0M1057 2104h0M868 2270h0M1022 2215h0M857 2271h0M1010 2120h0M979 2258h0M975 2272h0M782 2164h0M811 2212h0M958 2284h0M786 2129h0M1041 2138h0M1040 2238h0M1034 2213h0M796 2199h0M995 2141h0M748 2113h0M961 2271h0M1028 2158h0M960 2220h0M1058 2232h0M971 2241h0M763 2154h0M850 2267h0M731 2222h0M983 2208h0M1039 2133h0M965 2200h0M1000 2241h0M738 2144h0M746 2163h0M800 2196h0M1033 2196h0M1052 2142h0M1035 2179h0M847 2250h0M953 2266h0M985 2192h0M913 2280h0M904 2288h0M820 2199h0M1039 2161h0M1030 2117h0M832 2247h0M979 2187h0M746 2142h0M819 2284h0M1001 2142h0M881 2296h0M863 2259h0M898 2296h0M862 2254h0M849 2297h0M1037 2131h0M819 2236h0M787 2205h0M917 2296h0M957 2276h0M754 2105h0M1031 2125h0M918 2277h0M1018 2109h0M853 2277h0M804 2268h0M852 2249h0M741 2105h0M738 2112h0M1015 2154h0M764 2115h0M951 2284h0M1027 2198h0M770 2171h0M951 2237h0M912 2295h0M801 2159h0M1030 2103h0M985 2261h0M800 2249h0M763 2129h0M869 2293h0M955 2199h0M995 2232h0M812 2188h0M758 2221h0M1013 2169h0M1004 2193h0M1038 2170h0M938 2283h0M1007 2148h0M1034 2153h0M1027 2130h0M987 2153h0M839 2269h0M808 2202h0M1011 2217h0M1042 2202h0M820 2278h0M994 2137h0M821 2273h0M760 2149h0M928 2286h0M839 2226h0M803 2256h0M979 2284h0M786 2171h0M957 2248h0M1002 2198h0M959 2188h0M745 2185h0M1016 2229h0M849 2269h0M824 2247h0M994 2187h0M1031 2175h0M792 2185h0M814 2229h0M793 2248h0M1015 2126h0M1041 2103h0M1034 2191h0M909 2295h0M776 2111h0M988 2151h0M752 2212h0M738 2152h0M775 2174h0M766 2207h0M857 2287h0M1020 2249h0M950 2270h0M837 2278h0M866 2268h0M984 2254h0M1022 2223h0M858 2292h0M777 2138h0M1054 2166h0M947 2280h0M992 2172h0M771 2132h0M1016 2176h0M828 2217h0M751 2190h0M988 2246h0M1058 2229h0M1023 2243h0M1031 2149h0M1035 2116h0M1054 2200h0M934 2284h0M738 2177h0M811 2183h0M1017 2234h0M1052 2197h0M779 2104h0M808 2231h0M868 2292h0M1024 2131h0M1016 2235h0M987 2271h0M1017 2100h0M1054 2164h0M752 2181h0M1008 2227h0M789 2241h0M963 2263h0M1013 2105h0M959 2219h0M763 2159h0M1008 2249h0M799 2209h0M740 2147h0M1013 2163h0M936 2292h0M914 2288h0M933 2255h0M1042 2192h0M1043 2168h0M917 2288h0M756 2101h0M818 2267h0M863 2283h0M1032 2157h0M974 2278h0M812 2173h0M741 2182h0M1001 2245h0M1033 2152h0M801 2244h0M999 2139h0M916 2266h0M740 2114h0M840 2282h0M1029 2198h0M1050 2218h0M981 2226h0M923 2289h0M755 2110h0M813 2188h0M984 2266h0M864 2289h0M963 2278h0M771 2169h0M757 2214h0M1037 2203h0M1026 2197h0M777 2183h0M940 2288h0M853 2294h0M768 2184h0M956 2279h0M861 2291h0M842 2222h0M942 2293h0M769 2173h0M862 2294h0M908 2293h0M846 2250h0M1046 2142h0M1055 2145h0M742 2105h0M989 2154h0M799 2229h0M852 2294h0M905 2297h0M748 2179h0M1021 2170h0M1014 2114h0M1025 2111h0M928 2263h0M753 2155h0M793 2256h0M839 2217h0M788 2254h0M880 2293h0M757 2215h0M824 2246h0M1027 2246h0M992 2266h0M782 2117h0M813 2184h0M933 2291h0M768 2243h0M1057 2188h0M764 2133h0M948 2255h0M815 2195h0M871 2298h0M850 2295h0M847 2221h0M1042 2111h0M742 2216h0M945 2296h0M758 2148h0M904 2290h0M791 2257h0M882 2288h0M788 2174h0M849 2239h0M925 2268h0M778 2114h0M977 2265h0M933 2291h0M791 2166h0M1055 2146h0M1049 2125h0M1044 2110h0M779 2129h0M789 2203h0M839 2253h0M1024 2181h0M1007 2192h0M925 2280h0M1027 2107h0M855 2275h0M1002 2137h0M912 2294h0M991 2198h0M1051 2203h0M985 2212h0M1033 2160h0M987 2253h0M763 2198h0M1021 2123h0M796 2137h0M991 2194h0M833 2204h0M793 2270h0M980 2239h0M1023 2254h0M1044 2162h0M1049 2145h0M784 2193h0M1052 2103h0M785 2230h0M779 2156h0M870 2293h0M818 2219h0M1049 2138h0M959 2213h0M748 2101h0M1040 2130h0M962 2209h0M944 2247h0M816 2228h0M1010 2115h0M747 2157h0M858 2251h0M1017 2141h0M946 2243h0M807 2271h0M959 2205h0M939 2289h0M781 2239h0M1020 2243h0M1004 2133h0M886 2289h0M750 2156h0M885 2291h0M790 2156h0M811 2272h0M758 2112h0M969 2262h0M794 2266h0M755 2106h0M1046 2238h0M955 2241h0M771 2103h0M1000 2168h0M1021 2254h0M975 2200h0M791 2137h0M1022 2213h0M879 2279h0M756 2105h0M1052 2102h0M751 2166h0M981 2232h0M946 2255h0M970 2184h0M1029 2173h0M757 2186h0M1025 2148h0M1042 2243h0M978 2226h0M1041 2220h0M1031 2167h0M836 2284h0M992 2217h0M1058 2106h0M870 2295h0M904 2295h0M832 2240h0M989 2192h0M843 2296h0M751 2123h0M1033 2236h0M1040 2174h0M781 2187h0M1009 2149h0M1046 2100h0M791 2136h0M1025 2217h0M998 2145h0M976 2185h0M796 2168h0M773 2159h0M762 2153h0M1013 2239h0M945 2225h0M820 2229h0M824 2231h0M1016 2219h0M819 2276h0M958 2273h0M739 2133h0M846 2230h0M755 2163h0M1063 2207h0M1047 2127h0M979 2194h0M949 2278h0M1049 2193h0M734 2227h0M858 2239h0M732 2189h0M781 2149h0M757 2239h0M1056 2234h0M874 2287h0M1050 2119h0M958 2294h0M741 2229h0M775 2141h0M990 2143h0M975 2181h0M812 2184h0M732 2107h0M1042 2148h0M993 2171h0M992 2272h0M749 2112h0M1022 2106h0M808 2226h0M973 2283h0M800 2174h0M797 2150h0M1025 2190h0M821 2230h0M1028 2121h0M830 2280h0M982 2167h0M737 2245h0M1008 2107h0M792 2186h0M785 2199h0M1031 2128h0M827 2283h0M743 2158h0M1052 2155h0M738 2101h0M1004 2147h0M770 2258h0M927 2294h0M790 2136h0M855 2272h0M780 2194h0M768 2229h0M870 2295h0M778 2111h0M1019 2178h0M763 2107h0M998 2161h0M819 2181h0M740 2236h0M953 2287h0M1018 2157h0M794 2145h0M1047 2139h0M751 2198h0M978 2225h0M831 2265h0M1052 2206h0M811 2278h0M929 2252h0M1009 2227h0M858 2259h0M872 2273h0M797 2252h0M943 2258h0M807 2158h0M869 2297h0M763 2130h0M1046 2106h0M936 2251h0M748 2107h0M960 2225h0M961 2219h0M745 2168h0M912 2269h0M732 2184h0M1005 2191h0M1042 2192h0M998 2165h0M763 2125h0M961 2242h0M1034 2243h0M976 2190h0M758 2166h0M1038 2147h0M796 2158h0M921 2285h0M923 2293h0M995 2140h0M988 2187h0M966 2241h0M761 2171h0M947 2224h0M1054 2188h0M972 2285h0M997 2253h0M1044 2180h0M1037 2229h0M1032 2211h0M1011 2176h0M772 2146h0M996 2147h0M781 2145h0M827 2275h0M748 2123h0M765 2207h0M925 2250h0M1002 2206h0M759 2202h0M1005 2150h0M848 2245h0M813 2254h0M956 2276h0M992 2152h0M855 2237h0M850 2282h0M742 2145h0M810 2205h0M1021 2165h0M965 2246h0M810 2166h0M788 2216h0M1003 2208h0M736 2224h0M870 2278h0M765 2132h0M1042 2113h0M914 2282h0M1052 2102h0M1049 2193h0M780 2142h0M744 2228h0M754 2217h0M1041 2220h0M1003 2146h0M758 2203h0M740 2131h0M813 2199h0M979 2195h0M1017 2124h0M1058 2149h0M802 2145h0M943 2296h0M936 2259h0M959 2259h0M967 2187h0M825 2247h0M952 2282h0M984 2157h0M829 2230h0M843 2257h0M800 2150h0M795 2269h0M998 2204h0M1057 2219h0M1046 2115h0M989 2241h0M1008 2160h0M854 2279h0M1027 2110h0M1054 2157h0M770 2220h0M930 2298h0M755 2124h0M750 2180h0M1049 2175h0M912 2273h0M1005 2115h0M1036 2118h0M1008 2165h0M778 2122h0M792 2233h0M1017 2177h0M947 2281h0M766 2207h0M1018 2170h0M786 2114h0M1018 2225h0M960 2239h0M960 2228h0M1054 2196h0M870 2289h0M852 2286h0M954 2245h0M827 2292h0M1022 2186h0M949 2291h0M861 2281h0M918 2290h0M847 2286h0M842 2297h0M983 2244h0M870 2270h0M931 2270h0M1039 2163h0M1007 2249h0M1017 2127h0M1012 2238h0M1001 2210h0M844 2269h0M788 2170h0M1015 2108h0M988 2149h0M808 2264h0M843 2245h0M945 2239h0M911 2270h0M982 2270h0M751 2200h0M942 2296h0M741 2115h0M737 2113h0M958 2290h0M1056 2236h0M862 2293h0M765 2246h0M1016 2107h0M754 2177h0M980 2210h0M996 2170h0M1014 2118h0M739 2132h0M1011 2115h0M795 2223h0M1032 2227h0M1014 2235h0M844 2288h0M1007 2117h0M808 2270h0M746 2256h0M789 2160h0M764 2150h0M956 2217h0M826 2264h0M1046 2156h0M931 2271h0M825 2199h0M919 2297h0M1018 2172h0M882 2296h0M794 2245h0M1039 2104h0M964 2284h0M947 2285h0M941 2271h0M1014 2178h0M790 2132h0M1048 2216h0M838 2268h0M1041 2114h0M874 2297h0M785 2206h0M771 2160h0M1047 2166h0M825 2260h0M988 2272h0M774 2130h0M775 2169h0M825 2201h0M980 2246h0M864 2289h0M789 2133h0M856 2246h0M798 2262h0M857 2274h0M1021 2234h0M1008 2240h0M756 2169h0M1001 2124h0M1017 2152h0M922 2287h0M740 2175h0M920 2275h0M779 2199h0M918 2282h0M860 2248h0M985 2180h0M779 2191h0M748 2135h0M1041 2169h0M1045 2183h0M821 2244h0M857 2263h0M741 2124h0M907 2291h0M837 2294h0M773 2246h0M779 2105h0M756 2245h0M979 2261h0M1018 2247h0M928 2270h0M988 2192h0M997 2163h0M981 2261h0M1021 2150h0M765 2224h0M745 2148h0M1042 2118h0M1010 2219h0M918 2280h0M736 2211h0M749 2107h0M803 2230h0M803 2270h0M769 2210h0M784 2117h0M1029 2184h0M778 2221h0M756 2137h0M998 2232h0M815 2227h0M787 2178h0M1042 2162h0M942 2279h0M775 2103h0M967 2206h0M1054 2168h0M789 2143h0M809 2259h0M1021 2130h0M1005 2243h0M857 2291h0M850 2286h0M1009 2155h0M745 2238h0M999 2176h0M841 2285h0M866 2279h0M1036 2143h0M720 2229h0M938 2296h0M1012 2223h0M730 2226h0M1013 2122h0M1003 2207h0M761 2147h0M959 2275h0M922 2267h0M1053 2165h0M924 2259h0M766 2204h0M1044 2116h0M760 2165h0M1003 2133h0M962 2287h0M1010 2238h0M959 2291h0M794 2239h0M955 2265h0M757 2113h0M825 2278h0M763 2249h0M1028 2216h0M769 2104h0M1047 2144h0M766 2214h0M749 2102h0M789 2156h0M865 2270h0M1037 2195h0M936 2275h0M875 2266h0M820 2196h0M836 2226h0M822 2273h0M1010 2107h0M1028 2214h0M745 2170h0M1002 2180h0M930 2288h0M760 2196h0M848 2272h0M960 2285h0M764 2143h0M768 2214h0M984 2282h0M1043 2191h0M844 2281h0M871 2294h0M818 2227h0M789 2208h0M794 2170h0M939 2267h0M997 2251h0M942 2240h0M946 2235h0M845 2227h0M760 2101h0M793 2141h0M952 2225h0M945 2284h0M955 2245h0M843 2236h0M979 2273h0M775 2206h0M1030 2124h0M764 2159h0M1001 2216h0M885 2281h0M750 2106h0M954 2272h0M1039 2226h0M1016 2133h0M913 2288h0M744 2159h0M799 2227h0M754 2100h0M743 2121h0M783 2261h0M733 2206h0M790 2127h0M992 2209h0M849 2283h0M871 2283h0M737 2197h0M1032 2140h0M970 2241h0M1007 2125h0M907 2288h0M938 2277h0M955 2226h0M1023 2137h0M1000 2130h0M996 2159h0M770 2176h0M735 2165h0M1012 2118h0M942 2296h0M1044 2173h0M943 2253h0M739 2209h0M805 2261h0M737 2168h0M822 2183h0M1006 2116h0M964 2230h0M975 2216h0M953 2255h0M914 2294h0M1054 2121h0M809 2250h0M773 2245h0M813 2237h0M842 2281h0M1059 2179h0M1064 2202h0M1021 2164h0M1048 2128h0M781 2165h0M1024 2211h0M851 2293h0M1065 2232h0M1011 2157h0M821 2272h0M1021 2148h0M930 2266h0M794 2262h0M843 2257h0M1015 2204h0M952 2288h0M752 2188h0M792 2266h0M772 2105h0M775 2235h0M760 2142h0M1038 2157h0M778 2123h0M961 2271h0M959 2275h0M974 2289h0M1021 2206h0M938 2296h0M977 2261h0M1043 2108h0M1025 2167h0M878 2275h0M978 2185h0M1048 2209h0M822 2226h0M952 2235h0M855 2284h0M818 2283h0M963 2273h0M1002 2176h0M734 2119h0M874 2289h0M1014 2247h0M915 2290h0M1030 2101h0M792 2170h0M776 2179h0M1016 2205h0M1034 2195h0M867 2298h0M741 2118h0M742 2142h0M1006 2120h0M781 2109h0M851 2237h0M1004 2130h0M815 2197h0M1012 2158h0M795 2150h0M893 2295h0M744 2173h0M826 2211h0M817 2207h0M820 2266h0M760 2142h0M927 2275h0M898 2289h0M1034 2203h0M810 2201h0M955 2198h0M1022 2113h0M787 2270h0M885 2286h0M839 2278h0M1017 2253h0M756 2165h0M825 2276h0M1023 2116h0M1045 2133h0M865 2268h0M747 2212h0M1015 2107h0M1026 2115h0M950 2273h0M787 2129h0M841 2294h0M981 2281h0M747 2173h0M805 2186h0M906 2297h0M904 2289h0M814 2181h0M1018 2119h0M1000 2248h0M822 2255h0M821 2247h0M857 2239h0M1041 2111h0M847 2290h0M1041 2206h0M1009 2123h0M838 2228h0M861 2241h0M1023 2191h0M1048 2103h0M971 2277h0M1007 2107h0M1058 2139h0M963 2266h0M727 2236h0M848 2297h0M1027 2131h0M1017 2241h0M834 2273h0M991 2235h0M1054 2186h0M779 2180h0M1037 2117h0M968 2253h0M800 2270h0M1033 2229h0M1041 2237h0M781 2137h0M808 2229h0M735 2142h0M814 2262h0M760 2146h0M947 2274h0M752 2146h0M1055 2185h0M850 2224h0M1044 2118h0M822 2221h0M788 2252h0M736 2153h0M784 2182h0M910 2284h0M991 2239h0M942 2289h0M949 2249h0M881 2273h0M1034 2101h0M983 2159h0M966 2209h0M1040 2246h0M1008 2215h0M1007 2159h0M934 2274h0M751 2194h0M759 2214h0M1016 2186h0M821 2183h0M762 2193h0M823 2241h0M813 2240h0M927 2282h0M774 2147h0M774 2206h0M764 2132h0M1014 2248h0M1019 2102h0M779 2235h0M1051 2102h0M1036 2124h0M866 2286h0M1008 2232h0M1055 2169h0M937 2237h0M935 2285h0M803 2271h0M1047 2115h0M752 2112h0M966 2257h0M1046 2132h0M842 2282h0M955 2247h0M848 2288h0M926 2268h0M924 2266h0M1032 2192h0M1052 2221h0M796 2239h0M854 2271h0M1043 2180h0M1037 2125h0M962 2257h0M976 2211h0M994 2180h0M792 2192h0M973 2180h0M848 2257h0M756 2165h0M959 2257h0M782 2191h0M973 2216h0M913 2290h0M973 2217h0M1054 2173h0M814 2261h0M999 2138h0M785 2250h0M917 2259h0M740 2166h0M1035 2191h0M1022 2105h0M833 2261h0M798 2270h0M735 2173h0M961 2258h0M1036 2101h0M736 2188h0M992 2253h0M958 2278h0M926 2253h0M788 2192h0M879 2298h0M976 2176h0M1020 2101h0M1020 2217h0M1026 2107h0M775 2198h0M941 2269h0M797 2198h0M811 2224h0M1007 2166h0M869 2295h0M1012 2187h0M1031 2203h0M1040 2231h0M941 2292h0M926 2286h0M981 2160h0M866 2278h0M1054 2134h0M1021 2171h0M962 2286h0M831 2292h0M755 2137h0M814 2187h0M1022 2178h0M812 2253h0M985 2234h0M896 2295h0M817 2181h0M772 2108h0M816 2240h0M810 2234h0M829 2244h0M995 2251h0M736 2217h0M1054 2206h0M1041 2187h0M849 2286h0M764 2104h0M948 2274h0M817 2188h0M792 2189h0M960 2236h0M832 2224h0M754 2144h0M950 2269h0M762 2202h0M1013 2181h0M943 2241h0M844 2226h0M987 2251h0M847 2265h0M879 2290h0M1022 2134h0M1053 2169h0M875 2295h0M816 2279h0M736 2128h0M736 2168h0M778 2191h0M821 2257h0M1065 2226h0M853 2292h0M815 2173h0M982 2170h0M1013 2124h0M876 2291h0M740 2126h0M1002 2143h0M828 2242h0M817 2216h0M1052 2213h0M787 2166h0M1009 2206h0M1018 2123h0M959 2280h0M740 2237h0M1010 2180h0M926 2255h0M993 2188h0M919 2268h0M775 2203h0M750 2118h0M811 2243h0M782 2161h0M772 2173h0M798 2197h0M746 2117h0M925 2288h0M750 2187h0M995 2189h0M845 2273h0M838 2216h0M925 2256h0M798 2154h0M915 2278h0M813 2172h0M875 2291h0M1035 2133h0M913 2289h0M778 2237h0M933 2279h0M1020 2179h0M884 2293h0M771 2144h0M857 2243h0M847 2236h0M961 2265h0M984 2161h0M1038 2206h0M955 2261h0M753 2158h0M748 2239h0M777 2189h0M860 2282h0M930 2279h0M777 2228h0M1007 2123h0M972 2200h0M836 2226h0M764 2119h0M733 2166h0M1030 2187h0M1039 2222h0M759 2216h0M1042 2115h0M778 2180h0M765 2113h0M1023 2124h0M776 2248h0M748 2102h0M921 2285h0M747 2127h0M746 2176h0M856 2295h0M884 2297h0M1046 2197h0M938 2284h0M1004 2258h0M1018 2241h0M783 2210h0M776 2167h0M751 2147h0M905 2294h0M777 2113h0M741 2161h0M792 2133h0M938 2268h0M1025 2194h0M814 2251h0M944 2233h0M1059 2128h0M999 2177h0M773 2169h0M814 2214h0M1044 2126h0M822 2248h0M1004 2257h0M831 2230h0M1038 2112h0M757 2164h0M1019 2154h0M990 2269h0M786 2146h0M1051 2114h0M969 2232h0M798 2152h0M996 2178h0M930 2289h0M751 2139h0M853 2270h0M879 2296h0M737 2217h0M976 2215h0M1007 2212h0M938 2265h0M751 2198h0M941 2286h0M829 2279h0M945 2263h0M940 2277h0M1025 2171h0M774 2179h0M1044 2101h0M997 2156h0M769 2106h0M993 2214h0M762 2225h0M817 2187h0M958 2268h0M760 2219h0M901 2280h0M938 2277h0M975 2170h0M866 2276h0M1054 2117h0M777 2185h0M923 2289h0M960 2285h0M748 2153h0M755 2176h0M877 2287h0M982 2247h0M813 2176h0M821 2236h0M731 2205h0M1034 2138h0M1018 2149h0M855 2295h0M1002 2267h0M845 2273h0M915 2298h0M1017 2118h0M855 2293h0M1046 2141h0M1041 2217h0M853 2295h0M886 2280h0M961 2291h0M1042 2187h0M735 2167h0M1042 2114h0M991 2140h0M850 2256h0M1015 2138h0M1005 2197h0M849 2287h0M1011 2154h0M754 2163h0M874 2271h0M930 2273h0M1042 2127h0M1017 2214h0M1041 2184h0M798 2204h0M763 2147h0M1009 2147h0M911 2295h0M1017 2193h0M970 2168h0M1029 2245h0M1034 2218h0M1040 2196h0M822 2237h0M1035 2128h0M802 2152h0M741 2118h0M734 2157h0M979 2249h0M917 2298h0M851 2263h0M1015 2136h0M753 2172h0M806 2167h0M814 2280h0M795 2227h0M1040 2193h0M772 2244h0M986 2181h0M960 2244h0M1023 2141h0M810 2173h0M908 2285h0M785 2196h0M822 2232h0M999 2190h0M777 2245h0M965 2205h0M744 2115h0M958 2221h0M965 2238h0M944 2252h0M932 2296h0M902 2294h0M792 2163h0M737 2171h0M988 2207h0M761 2105h0M931 2289h0M1055 2111h0M864 2283h0M1022 2134h0M1041 2155h0M1032 2175h0M954 2230h0M983 2191h0M786 2246h0M794 2193h0M921 2297h0M1038 2159h0M847 2295h0M980 2243h0M992 2248h0M868 2241h0M1046 2200h0M808 2189h0M755 2197h0M805 2232h0M769 2247h0M778 2155h0M797 2213h0M939 2273h0M827 2274h0M839 2230h0M1055 2100h0M799 2197h0M737 2127h0M870 2276h0M1054 2118h0M727 2220h0M1036 2106h0M1055 2118h0M1054 2174h0M796 2259h0M1028 2204h0M806 2232h0M961 2209h0M933 2258h0M1041 2229h0M961 2286h0M830 2261h0M1037 2169h0M961 2253h0M1035 2113h0M939 2252h0M958 2235h0M751 2194h0M977 2231h0M1052 2134h0M978 2274h0M1018 2112h0M1014 2151h0M736 2120h0M1023 2207h0M852 2286h0M801 2159h0M801 2261h0M870 2261h0M1040 2201h0M778 2122h0M1034 2194h0M973 2183h0M775 2203h0M1051 2132h0M806 2145h0M784 2190h0M1022 2111h0M731 2199h0M1004 2214h0M955 2290h0M756 2182h0M957 2267h0M937 2251h0M1036 2154h0M744 2110h0M1005 2257h0M964 2278h0M1030 2227h0M1050 2107h0M1002 2168h0M990 2247h0M917 2267h0M816 2246h0M957 2293h0M861 2255h0M928 2256h0M1014 2158h0M914 2277h0M1012 2196h0M851 2296h0M810 2249h0M855 2272h0M976 2168h0M851 2230h0M1025 2120h0M783 2211h0M738 2183h0M739 2146h0M1037 2101h0M1022 2222h0M758 2180h0M847 2225h0M912 2296h0M760 2174h0M1052 2196h0M805 2152h0M1054 2136h0M956 2264h0M777 2115h0M796 2224h0M1009 2160h0M836 2236h0M990 2163h0M811 2189h0M993 2146h0M945 2297h0M1053 2112h0M1035 2100h0M1026 2111h0M860 2261h0M741 2155h0M840 2237h0M770 2108h0M863 2284h0M1048 2121h0M1053 2126h0M949 2236h0M1015 2124h0M769 2104h0M1053 2182h0M1035 2178h0M998 2158h0M1012 2113h0M779 2126h0M804 2246h0M767 2127h0M1046 2195h0M907 2293h0M1029 2147h0M997 2243h0M922 2267h0M1050 2153h0M760 2145h0M822 2243h0M1033 2108h0M988 2201h0M1040 2103h0M1047 2113h0M931 2296h0M1013 2132h0M1009 2112h0M1038 2183h0M771 2113h0M1045 2112h0M867 2280h0M1030 2249h0M754 2230h0M1047 2111h0M992 2270h0M1054 2125h0M980 2175h0M948 2285h0M880 2282h0M1059 2121h0M755 2125h0M995 2171h0M761 2100h0M776 2176h0M1015 2131h0M1059 2210h0M853 2285h0M754 2176h0M1055 2138h0M734 2190h0M836 2283h0M812 2228h0M736 2134h0M823 2184h0M845 2296h0M1044 2162h0M1013 2106h0M766 2102h0M800 2202h0M756 2136h0M790 2138h0M982 2182h0M789 2258h0M799 2156h0M742 2121h0M845 2232h0M751 2128h0M740 2232h0M787 2126h0M1019 2223h0M981 2213h0M988 2180h0M773 2188h0M774 2229h0M1049 2105h0M977 2238h0M741 2110h0M944 2281h0M782 2249h0M785 2181h0M866 2292h0M911 2274h0M787 2131h0M1030 2197h0M1000 2168h0M777 2204h0M1045 2112h0M916 2297h0M744 2105h0M932 2261h0M818 2180h0M791 2196h0M859 2279h0M1019 2128h0M743 2103h0M899 2296h0M914 2274h0M843 2295h0M928 2271h0M756 2130h0M803 2167h0M841 2295h0M1012 2145h0M773 2208h0M1038 2118h0M983 2222h0M955 2262h0M734 2119h0M1038 2137h0M799 2206h0M861 2269h0M940 2227h0M733 2199h0M806 2153h0M808 2250h0M1001 2160h0M737 2108h0M762 2207h0M953 2286h0M875 2269h0M911 2268h0M1041 2143h0M782 2138h0M740 2127h0M850 2268h0M745 2229h0M801 2214h0M1016 2222h0M773 2123h0M830 2259h0M858 2254h0M1030 2127h0M768 2101h0M857 2272h0M843 2224h0M783 2154h0M1049 2112h0M991 2181h0M839 2272h0M938 2290h0M758 2108h0M1005 2186h0M847 2285h0M760 2153h0M822 2289h0M792 2254h0M781 2188h0M874 2277h0M984 2274h0M868 2296h0M1045 2203h0M1043 2113h0M808 2234h0M860 2268h0M771 2178h0M952 2230h0M745 2179h0M910 2292h0M1028 2208h0M1024 2176h0M986 2231h0M768 2131h0M755 2188h0M880 2287h0M943 2249h0M756 2137h0M835 2217h0M757 2123h0M807 2276h0M1013 2122h0M1012 2156h0M834 2296h0M793 2272h0M1009 2126h0M763 2251h0M759 2175h0M893 2288h0M965 2228h0M1049 2207h0M958 2262h0M804 2157h0M958 2281h0M851 2236h0M738 2169h0M759 2230h0M1062 2214h0M813 2176h0M1014 2145h0M989 2146h0M789 2145h0M1043 2130h0M958 2282h0M951 2287h0M931 2292h0M931 2270h0M987 2174h0M836 2273h0M989 2169h0M746 2101h0M748 2210h0M813 2205h0M846 2290h0M1042 2142h0M1053 2159h0M798 2173h0M788 2222h0M987 2249h0M755 2241h0M1028 2106h0M990 2157h0M779 2102h0M987 2177h0M938 2234h0M951 2250h0M806 2163h0M919 2291h0M1018 2253h0M860 2297h0M818 2226h0M1058 2145h0M977 2222h0M745 2130h0M969 2195h0M1019 2183h0M803 2142h0M908 2286h0M993 2190h0M795 2151h0M869 2291h0M808 2215h0M769 2189h0M1037 2191h0M770 2146h0M893 2297h0M1052 2155h0M1034 2185h0M969 2256h0M825 2281h0M789 2238h0M1043 2180h0M1011 2254h0M982 2165h0M760 2207h0M808 2244h0M825 2206h0M1049 2143h0M871 2262h0M937 2265h0M751 2130h0M854 2296h0M812 2201h0M873 2297h0M804 2275h0M934 2255h0M986 2189h0M802 2254h0M758 2231h0M743 2129h0M1007 2174h0M807 2185h0M961 2249h0M781 2164h0M747 2118h0M1007 2114h0M901 2292h0M784 2162h0M766 2106h0M939 2252h0M773 2116h0M1048 2111h0M1032 2163h0M932 2296h0M987 2232h0M827 2273h0M1010 2129h0M761 2175h0M739 2101h0M1043 2168h0M939 2287h0M770 2123h0M735 2230h0M965 2278h0M773 2109h0M764 2181h0M953 2243h0M766 2183h0M742 2148h0M1037 2102h0M763 2201h0M801 2214h0M989 2207h0M772 2157h0M747 2124h0M967 2284h0M841 2231h0M883 2296h0M933 2290h0M983 2231h0M1011 2226h0M838 2213h0M792 2132h0M1013 2186h0M868 2294h0M969 2288h0M984 2158h0M1015 2151h0M979 2281h0M803 2211h0M1031 2179h0M1017 2123h0M922 2284h0M837 2297h0M850 2293h0M998 2264h0M957 2279h0M798 2238h0M797 2183h0M1050 2227h0M1047 2232h0M849 2276h0M1027 2237h0M952 2229h0M1037 2168h0M1044 2176h0M1018 2118h0M773 2216h0M767 2145h0M932 2290h0M1000 2157h0M948 2291h0M767 2175h0M745 2158h0M1022 2180h0M987 2152h0M1025 2125h0M807 2219h0M989 2246h0M736 2130h0M1004 2196h0M977 2208h0M778 2253h0M749 2198h0M771 2230h0M769 2125h0M767 2239h0M969 2274h0M1033 2148h0M822 2261h0M811 2278h0M739 2103h0M814 2221h0M796 2269h0M964 2216h0M779 2146h0M998 2257h0M773 2125h0M809 2255h0M861 2257h0M1024 2248h0M759 2187h0M1001 2257h0M969 2220h0M975 2262h0M975 2267h0M783 2160h0M789 2256h0M776 2247h0M1021 2237h0M1016 2149h0M975 2253h0M757 2115h0M795 2234h0M1016 2121h0M742 2100h0M742 2191h0M946 2287h0M869 2288h0M837 2255h0M816 2264h0M755 2111h0M777 2124h0M916 2290h0M829 2219h0M802 2261h0M902 2296h0M811 2277h0M932 2255h0M1000 2182h0M798 2220h0M1050 2231h0M750 2189h0M1030 2230h0M1019 2191h0M955 2237h0M749 2225h0M998 2158h0M956 2264h0M792 2127h0M1005 2124h0M1009 2235h0M1041 2209h0M837 2241h0M908 2278h0M1035 2207h0M1011 2186h0M852 2224h0M738 2162h0M1023 2236h0M935 2279h0M880 2293h0M1004 2228h0M1047 2119h0M735 2215h0M743 2213h0M760 2104h0M750 2126h0M756 2176h0M1021 2151h0M750 2114h0M758 2146h0M931 2266h0M997 2203h0M964 2288h0M1015 2249h0M964 2217h0M1028 2128h0M1004 2135h0M856 2246h0M890 2297h0M982 2144h0M836 2280h0M1032 2240h0M853 2294h0M998 2270h0M1043 2192h0M852 2290h0M890 2286h0M788 2176h0M1010 2252h0M1023 2103h0M921 2277h0M760 2222h0M821 2195h0M1054 2113h0M967 2217h0M909 2295h0M995 2178h0M827 2246h0M757 2198h0M844 2229h0M782 2262h0M762 2228h0M761 2237h0M808 2267h0M763 2205h0M794 2225h0M953 2202h0M796 2230h0M1020 2116h0M1021 2192h0M849 2264h0M922 2294h0M740 2109h0M762 2229h0M1027 2250h0M802 2177h0M815 2199h0M898 2288h0M1038 2158h0M783 2122h0M862 2249h0M780 2129h0M1001 2147h0M943 2282h0M1039 2176h0M755 2234h0M1056 2186h0M844 2243h0M780 2156h0M912 2285h0M818 2182h0M827 2264h0M937 2234h0M831 2298h0M1054 2229h0M997 2136h0M804 2213h0M874 2295h0M837 2252h0M918 2280h0M949 2229h0M827 2251h0M1050 2130h0M964 2286h0M851 2267h0M753 2201h0M1014 2195h0M1052 2124h0M817 2178h0M1008 2193h0M775 2203h0M848 2288h0M1029 2184h0M737 2110h0M848 2256h0M877 2291h0M1035 2243h0M832 2260h0M970 2212h0M874 2281h0M825 2280h0M736 2172h0M967 2179h0M804 2268h0M1002 2246h0M848 2269h0M1058 2133h0M800 2260h0M986 2158h0M815 2254h0M911 2290h0M1019 2132h0M1022 2224h0M1016 2103h0M755 2238h0M1025 2249h0M733 2123h0M734 2133h0M759 2105h0M973 2200h0M779 2250h0M1023 2184h0M819 2236h0M991 2240h0M1047 2198h0M738 2131h0M1043 2105h0M855 2286h0M811 2181h0M771 2188h0M1022 2114h0M765 2156h0M1022 2147h0M743 2196h0M727 2200h0M994 2176h0M935 2273h0M767 2222h0M1039 2238h0M1005 2171h0M927 2294h0M847 2276h0M804 2275h0M1036 2123h0M1023 2221h0M999 2222h0M1045 2189h0M857 2252h0M753 2147h0M756 2133h0M743 2142h0M971 2262h0M965 2203h0M786 2201h0M915 2279h0M844 2223h0M985 2220h0M889 2297h0M841 2295h0M879 2288h0M755 2203h0M761 2164h0M825 2211h0M861 2278h0M781 2153h0M922 2293h0M985 2191h0M989 2243h0M983 2198h0M772 2247h0M1010 2237h0M828 2268h0M759 2149h0M1018 2117h0M880 2282h0M809 2205h0M805 2273h0M941 2236h0M958 2277h0M968 2274h0M967 2276h0M791 2163h0M866 2288h0M758 2234h0M936 2293h0M1050 2172h0M824 2236h0M753 2143h0M841 2238h0M1019 2245h0M809 2171h0M987 2262h0M1040 2140h0M866 2265h0M776 2206h0M927 2269h0M746 2231h0M761 2163h0M773 2156h0M1045 2230h0M919 2272h0M763 2151h0M984 2261h0M994 2254h0M876 2298h0M913 2280h0M1010 2206h0M787 2232h0M732 2230h0M987 2210h0M960 2287h0M749 2207h0M1013 2151h0M998 2148h0M792 2151h0M1049 2207h0M1024 2130h0M793 2159h0M837 2241h0M779 2215h0M796 2186h0M826 2283h0M742 2151h0M799 2160h0M793 2187h0M835 2296h0M827 2290h0M798 2221h0M770 2196h0M750 2130h0M1053 2158h0M772 2207h0M801 2197h0M740 2126h0M1052 2125h0M762 2151h0M931 2292h0M744 2182h0M996 2274h0M736 2189h0M1029 2123h0M1012 2142h0M1021 2177h0M866 2295h0M825 2202h0M1055 2196h0M750 2199h0M781 2154h0M938 2282h0M801 2193h0M1043 2134h0M1046 2176h0M1040 2100h0M831 2288h0M888 2295h0M947 2288h0M828 2230h0M1025 2223h0M967 2255h0M920 2276h0M773 2132h0M829 2287h0M1052 2118h0M1035 2151h0M1016 2107h0M776 2116h0M988 2232h0M1022 2101h0M753 2236h0M1030 2248h0M955 2271h0M1017 2192h0M1045 2131h0M799 2254h0M745 2232h0M842 2212h0M764 2182h0M974 2285h0M757 2202h0M792 2263h0M1039 2129h0M960 2295h0M776 2149h0M762 2101h0M864 2263h0M846 2239h0M868 2272h0M792 2173h0M1013 2114h0M1018 2179h0M855 2232h0M1031 2152h0M1044 2202h0M782 2245h0M765 2203h0M827 2253h0M979 2209h0M742 2202h0M1045 2224h0M1022 2234h0M740 2187h0M1025 2106h0M1033 2185h0M764 2138h0M810 2148h0M756 2173h0M783 2177h0M1000 2245h0M1057 2123h0M940 2272h0M785 2140h0M742 2172h0M795 2265h0M842 2285h0M997 2271h0M779 2113h0M820 2265h0M875 2285h0M795 2238h0M1022 2112h0M802 2173h0M843 2282h0M887 2283h0M816 2168h0M954 2267h0M819 2246h0M1021 2142h0M1051 2227h0M791 2135h0M771 2148h0M1035 2112h0M1002 2161h0M1011 2136h0M972 2280h0M858 2291h0M958 2222h0M783 2244h0M1023 2244h0M806 2166h0M1029 2121h0M877 2280h0M828 2237h0M817 2281h0M1016 2130h0M927 2268h0M823 2251h0M743 2101h0M839 2265h0M792 2181h0M794 2160h0M781 2206h0M994 2160h0M1001 2137h0M911 2297h0M988 2165h0M754 2208h0M803 2216h0M1058 2215h0M1022 2186h0M770 2123h0M947 2272h0M748 2171h0M1052 2178h0M832 2274h0M744 2127h0M1013 2194h0M863 2275h0M1020 2124h0M1050 2214h0M1036 2144h0M807 2260h0M981 2272h0M916 2271h0M1026 2123h0M778 2214h0M742 2120h0M832 2286h0M804 2202h0M775 2189h0M759 2197h0M1006 2237h0M823 2291h0M796 2269h0M999 2143h0M750 2138h0M760 2131h0M977 2162h0M825 2216h0M952 2270h0M981 2192h0M873 2277h0M1027 2169h0M972 2189h0M958 2281h0M744 2164h0M878 2270h0M1020 2226h0M784 2129h0M788 2254h0M824 2185h0M771 2104h0M732 2192h0M753 2137h0M866 2267h0M1051 2212h0M951 2256h0M861 2250h0M735 2126h0M964 2227h0M849 2291h0M966 2226h0M957 2255h0M1041 2131h0M806 2166h0M736 2121h0M941 2238h0M1008 2174h0M993 2261h0M757 2225h0M745 2209h0M1035 2200h0M845 2276h0M820 2175h0M1020 2106h0M969 2221h0M931 2293h0M999 2251h0M1013 2198h0M939 2227h0M949 2298h0M996 2231h0M846 2224h0M1006 2206h0M1025 2104h0M826 2193h0M818 2176h0M832 2194h0M1005 2156h0M990 2260h0M806 2188h0M759 2141h0M771 2182h0M1008 2143h0M969 2235h0M965 2216h0M813 2272h0M1012 2194h0M780 2166h0M776 2177h0M959 2203h0M1026 2176h0M1052 2116h0M764 2172h0M800 2151h0M747 2108h0M744 2117h0M777 2117h0M788 2222h0M999 2197h0M914 2274h0M1045 2217h0M942 2288h0M833 2276h0M820 2190h0M750 2233h0M940 2292h0M1013 2148h0M775 2123h0M1002 2171h0M750 2116h0M796 2272h0M945 2254h0M993 2188h0M888 2297h0M808 2241h0M958 2282h0M776 2204h0M806 2280h0M1012 2223h0M798 2251h0M762 2163h0M1023 2100h0M1057 2164h0M842 2260h0M918 2296h0M931 2278h0M958 2270h0M830 2291h0M766 2152h0M759 2184h0M950 2219h0M752 2208h0M754 2119h0M1057 2204h0M996 2186h0M1017 2125h0M754 2177h0M869 2291h0M941 2236h0M769 2172h0M772 2144h0M929 2281h0M1020 2215h0M915 2280h0M757 2237h0M834 2200h0M953 2258h0M750 2239h0M790 2150h0M1045 2145h0M1053 2146h0M984 2228h0M763 2189h0M858 2276h0M1036 2147h0M986 2232h0M850 2273h0M1006 2211h0M901 2291h0M1061 2208h0M736 2129h0M954 2297h0M860 2258h0M772 2119h0M1014 2216h0M735 2157h0M970 2238h0M1050 2200h0M1031 2157h0M960 2250h0M991 2270h0M766 2166h0M1054 2105h0M971 2224h0M822 2181h0M960 2200h0M747 2165h0M817 2234h0M881 2295h0M814 2211h0M742 2128h0M1006 2160h0M962 2254h0M950 2260h0M1017 2140h0M1019 2190h0M1036 2172h0M779 2191h0M1037 2129h0M691 2240h0M649 2205h0M701 2282h0M731 2258h0M690 2275h0M680 2262h0M678 2275h0M670 2284h0M642 2220h0M692 2218h0M671 2264h0M660 2203h0M715 2227h0M692 2272h0M657 2235h0M644 2197h0M730 2226h0M683 2251h0M714 2200h0M689 2196h0M684 2240h0M638 2234h0M724 2272h0M645 2212h0M635 2266h0M721 2286h0M701 2252h0M676 2277h0M723 2240h0M695 2225h0M688 2213h0M681 2252h0M635 2280h0M662 2253h0M712 2261h0M723 2266h0M688 2201h0M697 2228h0M642 2240h0M638 2243h0M675 2218h0M717 2228h0M653 2259h0M718 2233h0M715 2214h0M637 2269h0M709 2286h0M715 2250h0M651 2253h0M713 2200h0M727 2233h0M676 2281h0M635 2223h0M676 2197h0M699 2248h0M642 2286h0M697 2202h0M663 2279h0M642 2209h0M731 2267h0M661 2212h0M687 2278h0M694 2202h0M691 2216h0M680 2239h0M635 2216h0M708 2248h0M687 2260h0M647 2238h0M689 2230h0M649 2231h0M710 2238h0M686 2236h0M684 2228h0M645 2238h0M700 2228h0M710 2281h0M636 2213h0M676 2254h0M716 2235h0M721 2285h0M692 2276h0M726 2275h0M720 2216h0M669 2209h0M695 2234h0M715 2270h0M635 2197h0M688 2287h0M726 2204h0M1107 2275h0M1068 2245h0M1103 2258h0M1184 2245h0M1119 2222h0M1147 2275h0M1098 2232h0M1161 2278h0M1147 2210h0M1131 2261h0M1138 2232h0M1182 2247h0M1082 2274h0M1182 2256h0M1136 2246h0M1165 2206h0M1178 2263h0M1155 2263h0M1076 2211h0M1104 2260h0M1122 2210h0M1101 2215h0M1075 2209h0M1077 2209h0M1107 2210h0M1152 2286h0M1155 2282h0M1111 2201h0M1176 2249h0M1183 2245h0M1086 2275h0M1170 2244h0M1082 2272h0M1132 2257h0M1153 2214h0M1059 2279h0M1127 2200h0M1166 2270h0M1149 2221h0M1090 2275h0M1114 2251h0M1181 2202h0M1163 2253h0M1122 2282h0M1105 2235h0M1150 2199h0M1071 2234h0M1186 2231h0M1169 2205h0M1073 2212h0M1070 2270h0M1069 2206h0M1156 2266h0M1166 2214h0M1066 2235h0M1085 2284h0M1068 2247h0M1100 2286h0M1184 2264h0M1151 2196h0M567 2254h0M681 2247h0M654 2238h0M382 2260h0M439 2266h0M412 2237h0M458 2235h0M719 2255h0M675 2247h0M373 2253h0M523 2258h0M491 2229h0M492 2248h0M690 2274h0M391 2197h0M706 2222h0M422 2282h0M406 2245h0M378 2269h0M661 2203h0M602 2223h0M594 2229h0M462 2200h0M622 2231h0M380 2281h0M573 2282h0M708 2207h0M410 2251h0M573 2227h0M1192 2273h0M1252 2257h0M1192 2255h0M1248 2219h0M1325 2223h0M1217 2254h0M1220 2199h0M1163 2259h0M1060 2237h0M1164 2208h0M1103 2250h0M1119 2226h0M1289 2271h0M1118 2246h0M1130 2204h0M1110 2268h0M1208 2262h0M1076 2262h0M1322 2220h0M1100 2213h0M1144 2208h0M1078 2217h0M1068 2274h0M1308 2243h0M1247 2248h0M1060 2215h0M1209 2203h0M1201 2257h0M1101 2204h0M1083 2245h0M1120 2266h0M1317 2254h0M1247 2200h0M1316 2240h0M1269 2196h0M1214 2198h0M1184 2208h0M1298 2270h0M1224 2229h0M1177 2263h0M1072 2200h0M1126 2223h0M1304 2213h0M1305 2266h0M1162 2235h0M1080 2240h0M1188 2275h0M1225 2277h0M1183 2270h0M1155 2264h0M1257 2232h0M1109 2242h0M1325 2269h0M1280 2218h0M1106 2249h0M1312 2213h0M1204 2203h0M1260 2221h0M1216 2242h0M1274 2236h0M1118 2247h0M1212 2270h0M1222 2252h0M1267 2221h0M1190 2220h0M1085 2232h0M1071 2273h0M1335 2250h0M1125 2234h0M1284 2228h0M1119 2233h0M1163 2201h0M1200 2230h0M1309 2212h0M1136 2199h0M1145 2273h0M1085 2235h0M1106 2216h0M1104 2273h0M1212 2227h0M164 2204h0M198 2214h0M262 2226h0M296 2241h0" stroke="#c4c4c4" stroke-width="5.2" stroke-linecap="round" fill="none"/>
<path d="M727 2108h0M728 2171h0M642 2110h0M711 2171h0M712 2169h0M699 2166h0M679 2173h0M727 2180h0M731 2183h0M652 2152h0M672 2134h0M714 2174h0M698 2131h0M729 2192h0M688 2188h0M722 2101h0M716 2181h0M688 2122h0M604 2181h0M730 2107h0M727 2189h0M628 2116h0M712 2160h0M710 2189h0M731 2126h0M688 2112h0M667 2171h0M635 2111h0M672 2104h0M715 2184h0M698 2186h0M724 2191h0M685 2152h0M656 2106h0M689 2147h0M632 2156h0M631 2178h0M650 2119h0M699 2116h0M725 2167h0M673 2112h0M641 2187h0M702 2137h0M706 2114h0M722 2145h0M700 2144h0M676 2157h0M670 2110h0M654 2148h0M612 2119h0M682 2124h0M691 2101h0M664 2154h0M692 2158h0M714 2118h0M681 2168h0M692 2151h0M673 2096h0M696 2175h0M650 2171h0M724 2129h0M727 2156h0M699 2177h0M722 2180h0M707 2164h0M710 2179h0M718 2180h0M666 2111h0M679 2125h0M652 2167h0M674 2109h0M651 2130h0M654 2145h0M709 2096h0M645 2120h0M704 2101h0M702 2163h0M693 2112h0M655 2126h0M687 2167h0M714 2170h0M675 2180h0M539 2100h0M689 2097h0M707 2188h0M674 2141h0M724 2173h0M681 2113h0M714 2186h0M686 2111h0M685 2153h0M666 2156h0M719 2147h0M670 2121h0M659 2167h0M689 2161h0M648 2105h0M707 2114h0M719 2104h0M620 2130h0M673 2170h0M711 2157h0M604 2155h0M709 2101h0M668 2098h0M688 2187h0M718 2186h0M680 2159h0M676 2103h0M673 2137h0M594 2103h0M662 2163h0M681 2118h0M700 2134h0M663 2136h0M592 2154h0M708 2109h0M697 2170h0M555 2180h0M678 2157h0M692 2167h0M542 2155h0M683 2095h0M710 2099h0M681 2169h0M661 2105h0M619 2164h0M688 2162h0M694 2188h0M634 2137h0M711 2171h0M621 2098h0M726 2141h0M720 2125h0M620 2112h0M624 2102h0M711 2157h0M706 2139h0M605 2166h0M648 2178h0M619 2166h0M600 2105h0M602 2114h0M673 2168h0M679 2126h0M653 2189h0M638 2177h0M730 2129h0M726 2141h0M718 2115h0M646 2171h0M646 2149h0M649 2154h0M707 2161h0M704 2182h0M664 2103h0M719 2118h0M716 2124h0M684 2101h0M622 2187h0M675 2129h0M704 2128h0M560 2191h0M556 2162h0M676 2181h0M717 2114h0M647 2128h0M567 2090h0M587 2173h0M664 2157h0M681 2131h0M585 2118h0M693 2158h0M712 2125h0M590 2169h0M582 2127h0M646 2130h0M676 2100h0M692 2170h0M727 2145h0M568 2188h0M727 2189h0M585 2130h0M705 2154h0M570 2126h0M728 2170h0M725 2123h0M665 2174h0M703 2148h0M679 2166h0M706 2112h0M638 2160h0M687 2180h0M676 2178h0M723 2098h0M643 2127h0M687 2163h0M731 2157h0M730 2104h0M724 2151h0M730 2171h0M713 2111h0M668 2138h0M570 2169h0M639 2161h0M706 2094h0M691 2125h0M610 2192h0M670 2171h0M621 2152h0M617 2187h0M683 2111h0M618 2149h0M681 2186h0M629 2192h0M720 2184h0M681 2132h0M590 2160h0M650 2156h0M576 2167h0M630 2177h0M687 2149h0M722 2151h0M647 2126h0M590 2176h0M640 2143h0M566 2131h0M725 2138h0M637 2137h0M615 2106h0M721 2122h0M714 2121h0M607 2181h0M693 2127h0M584 2181h0M560 2181h0M564 2106h0M639 2154h0M730 2135h0M680 2193h0M627 2135h0M623 2161h0M671 2148h0M718 2101h0M706 2190h0M625 2157h0M677 2144h0M558 2116h0M653 2129h0M725 2147h0M681 2175h0M615 2177h0M606 2090h0M652 2134h0M612 2152h0M718 2150h0M630 2162h0M611 2166h0M714 2097h0M686 2161h0M598 2186h0M713 2130h0M687 2168h0M633 2170h0M710 2102h0M670 2135h0M578 2189h0M611 2150h0M523 2169h0M561 2142h0M530 2166h0M542 2166h0M552 2179h0M482 2188h0M454 2147h0M519 2187h0M533 2188h0M508 2191h0M491 2147h0M513 2183h0M526 2153h0M496 2169h0M521 2149h0M468 2181h0M458 2179h0M503 2178h0M560 2186h0M523 2164h0M548 2186h0M538 2175h0M469 2188h0M538 2169h0M552 2148h0M514 2162h0M475 2163h0M525 2150h0M564 2165h0M503 2151h0M559 2162h0M562 2180h0M495 2178h0M483 2176h0M498 2189h0M479 2165h0M496 2147h0M487 2184h0M548 2185h0M530 2186h0" stroke="#f04040" stroke-width="5.2" stroke-linecap="round" fill="none"/>
<path d="M1066 2123h0M1082 2155h0M1088 2178h0M1128 2192h0M1105 2174h0M1131 2151h0M1082 2136h0M1077 2125h0M1079 2139h0M1089 2146h0M1177 2170h0M1062 2181h0M1130 2153h0M1076 2168h0M1070 2174h0M1075 2127h0M1129 2180h0M1095 2161h0M1088 2178h0M1060 2131h0M1068 2111h0M1088 2141h0M1062 2182h0M1090 2160h0M1061 2174h0M1067 2154h0M1102 2188h0M1089 2158h0M1139 2155h0M1066 2122h0M1062 2182h0M1069 2167h0M1075 2170h0M1070 2163h0M1187 2179h0M1106 2174h0M1107 2179h0M1067 2127h0M1127 2155h0M1079 2114h0M1091 2127h0M1121 2180h0M1065 2180h0M1073 2120h0M1104 2189h0M1143 2172h0M1106 2129h0M1102 2185h0M1100 2167h0M1061 2128h0M1086 2143h0M1143 2189h0M1158 2163h0M1077 2181h0M1094 2165h0M1089 2144h0M1072 2126h0M1134 2161h0M1103 2130h0M1068 2151h0M1102 2132h0M1121 2141h0M1080 2156h0M1062 2178h0M1081 2183h0M1074 2149h0M1068 2113h0M1082 2147h0M1092 2189h0M1081 2122h0M1062 2121h0M1067 2116h0M1102 2144h0M1090 2142h0M1059 2144h0M1112 2132h0M1081 2185h0M1075 2179h0M1136 2173h0M1093 2192h0M1072 2122h0M1075 2179h0M1081 2137h0M1076 2120h0M1100 2162h0M1091 2193h0M1068 2169h0M1175 2192h0M1102 2152h0M1127 2145h0M1067 2166h0M1060 2180h0M1070 2122h0M1101 2151h0M1095 2164h0M1148 2178h0M1060 2160h0M1088 2144h0M1076 2178h0M1159 2180h0M1075 2164h0M1093 2120h0M1108 2164h0M1149 2182h0M1111 2139h0M1177 2181h0M1117 2170h0M1065 2167h0M1091 2130h0M1076 2157h0M1114 2155h0M1065 2159h0M1091 2124h0M1073 2114h0M1142 2190h0M1096 2172h0M1095 2151h0M1103 2185h0M1116 2176h0M1111 2190h0M1069 2122h0M1117 2187h0M1119 2162h0M1083 2120h0M1086 2149h0M1107 2193h0M1061 2130h0M1098 2147h0M1091 2189h0M1077 2182h0M1161 2179h0M1059 2116h0M1117 2140h0M1093 2153h0M1093 2129h0" stroke="#3a3a3a" stroke-width="5.2" stroke-linecap="round" fill="none"/>
<line x1="77.6" y1="2193.5" x2="1473.6" y2="2193.5" stroke="#999" stroke-width="1.3" stroke-dasharray="9 5"/>
<line x1="731.6" y1="1880.4" x2="731.6" y2="2297.9" stroke="#7a7ab8" stroke-width="1.2" stroke-dasharray="8 4"/>
<line x1="1058.8" y1="1880.4" x2="1058.8" y2="2297.9" stroke="#7a7ab8" stroke-width="1.2" stroke-dasharray="8 4"/>
<circle cx="480.8" cy="1906.2" r="2.70" fill="#f04040"/>
<text x="482.5" y="1907.0" font-size="19.5" fill="#111" font-style="italic" letter-spacing="-0.8">ODC1</text>
<circle cx="548.5" cy="1968.3" r="2.70" fill="#f04040"/>
<text x="550.6" y="1967.4" font-size="19.5" fill="#111" font-style="italic" letter-spacing="-0.8">CGAS</text>
<circle cx="421.4" cy="1992.0" r="2.70" fill="#f04040"/>
<text x="422.2" y="1981.2" font-size="19.5" fill="#111" font-style="italic" letter-spacing="-0.8">NEDD9</text>
<circle cx="646.3" cy="1992.0" r="2.70" fill="#f04040"/>
<text x="636.4" y="1981.2" font-size="19.5" fill="#111" font-style="italic" letter-spacing="-0.8">MAPKAPK2</text>
<text x="557.0" y="2024.3" font-size="19.5" fill="#111" font-style="italic" letter-spacing="-0.8">UBE2S</text>
<text x="534.3" y="2045.0" font-size="19.5" fill="#111" font-style="italic" letter-spacing="-0.8">MYBL2</text>
<text x="599.7" y="2045.0" font-size="19.5" fill="#111" font-style="italic" letter-spacing="-0.8">KDM6B</text>
<text x="661.4" y="2039.8" font-size="19.5" fill="#111" font-style="italic" letter-spacing="-0.8">BASP1</text>
<circle cx="717.0" cy="2052.5" r="2.70" fill="#f04040"/>
<text x="720.4" y="2051.4" font-size="19.5" fill="#111" font-style="italic" letter-spacing="-0.8">TNFAIP8</text>
<text x="633.3" y="2061.0" font-size="19.5" fill="#111" font-style="italic" letter-spacing="-0.8">FANCI</text>
<text x="476.0" y="2069.5" font-size="19.5" fill="#111" font-style="italic" letter-spacing="-0.8">TNFAIP3</text>
<text x="562.3" y="2069.5" font-size="19.5" fill="#111" font-style="italic" letter-spacing="-0.8">TXNDC5</text>
<text x="661.4" y="2077.3" font-size="19.5" fill="#111" font-style="italic" letter-spacing="-0.8">MAP2K2</text>
<text x="732.4" y="2077.5" font-size="19.5" fill="#111" font-style="italic" letter-spacing="-0.8">PKP2</text>
<text x="583.8" y="2089.3" font-size="19.5" fill="#111" font-style="italic" letter-spacing="-0.8">GNAS</text>
<text x="678.6" y="2093.7" font-size="19.5" fill="#111" font-style="italic" letter-spacing="-0.8">SHC1</text>
<text x="720.4" y="2103.0" font-size="19.5" fill="#111" font-style="italic" letter-spacing="-0.8">CDK6</text>
<text x="469.6" y="2094.5" font-size="19.5" fill="#111" font-style="italic" letter-spacing="-0.8">VEGFA</text>
<text x="529.0" y="2103.0" font-size="19.5" fill="#111" font-style="italic" letter-spacing="-0.8">JUND</text>
<circle cx="363.0" cy="2113.0" r="2.70" fill="#f04040"/>
<text x="346.0" y="2106.0" font-size="19.5" fill="#111" font-style="italic" letter-spacing="-0.8">HBEGF</text>
<circle cx="409.0" cy="2104.0" r="2.70" fill="#f04040"/>
<text x="411.5" y="2103.0" font-size="19.5" fill="#111" font-style="italic" letter-spacing="-0.8">BMP2</text>
<text x="468.3" y="2120.4" font-size="19.5" fill="#111" font-style="italic" letter-spacing="-0.8">IL36G</text>
<text x="530.0" y="2122.5" font-size="19.5" fill="#111" font-style="italic" letter-spacing="-0.8">RGCC</text>
<text x="588.0" y="2114.8" font-size="19.5" fill="#111" font-style="italic" letter-spacing="-0.8">CBX4</text>
<text x="648.4" y="2114.8" font-size="19.5" fill="#111" font-style="italic" letter-spacing="-0.8">DSG2</text>
<circle cx="155.1" cy="2129.8" r="2.70" fill="#f04040"/>
<text x="157.3" y="2121.7" font-size="19.5" fill="#111" font-style="italic" letter-spacing="-0.8">CSF3</text>
<circle cx="402.5" cy="2126.0" r="2.70" fill="#f04040"/>
<text x="411.5" y="2133.3" font-size="19.5" fill="#111" font-style="italic" letter-spacing="-0.8">MMP1</text>
<text x="591.1" y="2134.6" font-size="19.5" fill="#111" font-style="italic" letter-spacing="-0.8">SOD2</text>
<text x="657.9" y="2134.2" font-size="19.5" fill="#111" font-style="italic" letter-spacing="-0.8">BCR</text>
<text x="720.4" y="2148.4" font-size="19.5" fill="#111" font-style="italic" letter-spacing="-0.8">KDM2A</text>
<text x="478.2" y="2142.0" font-size="19.5" fill="#111" font-style="italic" letter-spacing="-0.8">AREG</text>
<text x="436.0" y="2149.2" font-size="19.5" fill="#111" font-style="italic" letter-spacing="-0.8">IL7R</text>
<text x="542.0" y="2149.2" font-size="19.5" fill="#111" font-style="italic" letter-spacing="-0.8">FOXE1</text>
<circle cx="380.0" cy="2152.0" r="2.70" fill="#f04040"/>
<text x="363.2" y="2155.7" font-size="19.5" fill="#111" font-style="italic" letter-spacing="-0.8">CLMP</text>
<text x="648.4" y="2156.0" font-size="19.5" fill="#111" font-style="italic" letter-spacing="-0.8">ITGB8</text>
<text x="479.5" y="2160.0" font-size="19.5" fill="#111" font-style="italic" letter-spacing="-0.8">TGFA</text>
<circle cx="259.0" cy="2170.5" r="2.70" fill="#f04040"/>
<text x="254.2" y="2164.7" font-size="19.5" fill="#111" font-style="italic" letter-spacing="-0.8">IL1A</text>
<text x="421.4" y="2167.8" font-size="19.5" fill="#111" font-style="italic" letter-spacing="-0.8">SAA1</text>
<text x="534.3" y="2167.0" font-size="19.5" fill="#111" font-style="italic" letter-spacing="-0.8">ARNTL2</text>
<text x="519.2" y="2169.0" font-size="19.5" fill="#111" font-style="italic" letter-spacing="-0.8">CXCL5</text>
<text x="604.0" y="2166.5" font-size="19.5" fill="#111" font-style="italic" letter-spacing="-0.8">CDH3</text>
<text x="693.7" y="2165.6" font-size="19.5" fill="#111" font-style="italic" letter-spacing="-0.8">ITGA3</text>
<circle cx="134.9" cy="2182.8" r="2.70" fill="#f04040"/>
<text x="140.9" y="2178.5" font-size="19.5" fill="#111" font-style="italic" letter-spacing="-0.8">IL1B</text>
<text x="326.6" y="2182.0" font-size="19.5" fill="#111" font-style="italic" letter-spacing="-0.8">CXCL8</text>
<text x="398.5" y="2185.0" font-size="19.5" fill="#111" font-style="italic" letter-spacing="-0.8">IGF2BP2</text>
<text x="479.5" y="2183.7" font-size="19.5" fill="#111" font-style="italic" letter-spacing="-0.8">EPHA2</text>
<circle cx="556.0" cy="2181.0" r="2.70" fill="#f04040"/>
<text x="558.8" y="2188.0" font-size="19.5" fill="#111" font-style="italic" letter-spacing="-0.8">ST3GAL1</text>
<text x="646.3" y="2187.6" font-size="19.5" fill="#111" font-style="italic" letter-spacing="-0.8">VEGFB</text>
<text x="706.6" y="2185.0" font-size="19.5" fill="#111" font-style="italic" letter-spacing="-0.8">KLF6</text>
<text x="755.8" y="2178.9" font-size="19.5" fill="#111" font-style="italic" letter-spacing="-0.8">BCL2L1</text>
<circle cx="231.4" cy="2187.0" r="2.70" fill="#f04040"/>
<text x="232.7" y="2190.2" font-size="19.5" fill="#111" font-style="italic" letter-spacing="-0.8">IGLC1</text>
<text x="355.5" y="2206.5" font-size="19.5" fill="#111" font-style="italic" letter-spacing="-0.8">CXCL1</text>
<text x="423.0" y="2206.5" font-size="19.5" fill="#111" font-style="italic" letter-spacing="-0.8">NFKB2</text>
<text x="514.9" y="2207.4" font-size="19.5" fill="#111" font-style="italic" letter-spacing="-0.8">SMAD7</text>
<text x="583.8" y="2207.4" font-size="19.5" fill="#111" font-style="italic" letter-spacing="-0.8">XBP1</text>
<text x="639.0" y="2207.4" font-size="19.5" fill="#111" font-style="italic" letter-spacing="-0.8">PDGFA</text>
<text x="698.0" y="2210.8" font-size="19.5" fill="#111" font-style="italic" letter-spacing="-0.8">COL12A1</text>
<text x="396.4" y="2223.8" font-size="19.5" fill="#111" font-style="italic" letter-spacing="-0.8">CCL20</text>
<text x="463.2" y="2226.8" font-size="19.5" fill="#111" font-style="italic" letter-spacing="-0.8">CXCL13</text>
<text x="543.7" y="2228.0" font-size="19.5" fill="#111" font-style="italic" letter-spacing="-0.8">CXCL3</text>
<text x="616.1" y="2222.5" font-size="19.5" fill="#111" font-style="italic" letter-spacing="-0.8">IL1R1</text>
<circle cx="1213.7" cy="1991.5" r="2.70" fill="#3a3a3a"/>
<text x="1216.0" y="1991.5" font-size="19.5" fill="#111" font-style="italic" letter-spacing="-0.8">NUPR1</text>
<circle cx="1276.5" cy="2006.4" r="2.70" fill="#3a3a3a"/>
<text x="1278.8" y="2006.4" font-size="19.5" fill="#111" font-style="italic" letter-spacing="-0.8">SELENOP</text>
<circle cx="1158.0" cy="2030.0" r="2.70" fill="#3a3a3a"/>
<text x="1160.3" y="2020.8" font-size="19.5" fill="#111" font-style="italic" letter-spacing="-0.8">GAS5</text>
<text x="1072.0" y="2046.0" font-size="19.5" fill="#111" font-style="italic" letter-spacing="-0.8">CCDC115</text>
<text x="1099.8" y="2068.2" font-size="19.5" fill="#111" font-style="italic" letter-spacing="-0.8">TMEM99</text>
<circle cx="1188.0" cy="2069.0" r="2.70" fill="#3a3a3a"/>
<text x="1190.5" y="2068.2" font-size="19.5" fill="#111" font-style="italic" letter-spacing="-0.8">EIF4EBP3</text>
<text x="1041.7" y="2083.0" font-size="19.5" fill="#111" font-style="italic" letter-spacing="-0.8">MYCL</text>
<text x="1221.6" y="2090.5" font-size="19.5" fill="#111" font-style="italic" letter-spacing="-0.8">SOX2</text>
<text x="1296.0" y="2091.5" font-size="19.5" fill="#111" font-style="italic" letter-spacing="-0.8">TMEM14A</text>
<text x="1037.0" y="2103.0" font-size="19.5" fill="#111" font-style="italic" letter-spacing="-0.8">TMEM168</text>
<text x="1124.0" y="2103.0" font-size="19.5" fill="#111" font-style="italic" letter-spacing="-0.8">OAZ2</text>
<text x="1171.9" y="2106.4" font-size="19.5" fill="#111" font-style="italic" letter-spacing="-0.8">SNHG32</text>
<text x="1244.9" y="2109.0" font-size="19.5" fill="#111" font-style="italic" letter-spacing="-0.8">DEFB1</text>
<text x="1323.0" y="2114.7" font-size="19.5" fill="#111" font-style="italic" letter-spacing="-0.8">ALDH3A1</text>
<text x="1058.0" y="2120.3" font-size="19.5" fill="#111" font-style="italic" letter-spacing="-0.8">TCEA3</text>
<text x="1120.7" y="2120.3" font-size="19.5" fill="#111" font-style="italic" letter-spacing="-0.8">TP53AIP1</text>
<text x="1263.5" y="2128.7" font-size="19.5" fill="#111" font-style="italic" letter-spacing="-0.8">WNT2B</text>
<text x="1040.8" y="2139.0" font-size="19.5" fill="#111" font-style="italic" letter-spacing="-0.8">RHOV</text>
<text x="1104.5" y="2136.6" font-size="19.5" fill="#111" font-style="italic" letter-spacing="-0.8">EFNA3</text>
<text x="1170.5" y="2136.6" font-size="19.5" fill="#111" font-style="italic" letter-spacing="-0.8">DEGS2</text>
<text x="1218.4" y="2135.6" font-size="19.5" fill="#111" font-style="italic" letter-spacing="-0.8">CA11</text>
<text x="1284.8" y="2144.0" font-size="19.5" fill="#111" font-style="italic" letter-spacing="-0.8">GATM</text>
<circle cx="1364.0" cy="2135.0" r="2.70" fill="#3a3a3a"/>
<text x="1337.0" y="2142.6" font-size="19.5" fill="#111" font-style="italic" letter-spacing="-0.8">GSTA4</text>
<text x="1113.8" y="2152.0" font-size="19.5" fill="#111" font-style="italic" letter-spacing="-0.8">VAV3</text>
<text x="1164.9" y="2155.6" font-size="19.5" fill="#111" font-style="italic" letter-spacing="-0.8">IFITM2</text>
<text x="1227.7" y="2158.9" font-size="19.5" fill="#111" font-style="italic" letter-spacing="-0.8">SSBP2</text>
<text x="1399.7" y="2157.5" font-size="19.5" fill="#111" font-style="italic" letter-spacing="-0.8">CXCL14</text>
<text x="1052.0" y="2162.1" font-size="19.5" fill="#111" font-style="italic" letter-spacing="-0.8">HSPB1</text>
<text x="1098.9" y="2170.5" font-size="19.5" fill="#111" font-style="italic" letter-spacing="-0.8">CALML3</text>
<text x="1158.0" y="2176.0" font-size="19.5" fill="#111" font-style="italic" letter-spacing="-0.8">GPSM2</text>
<text x="1227.7" y="2176.0" font-size="19.5" fill="#111" font-style="italic" letter-spacing="-0.8">EPCAM</text>
<circle cx="1321.0" cy="2152.0" r="2.70" fill="#3a3a3a"/>
<text x="1298.8" y="2170.5" font-size="19.5" fill="#111" font-style="italic" letter-spacing="-0.8">NSG1</text>
<circle cx="1372.7" cy="2190.5" r="2.70" fill="#3a3a3a"/>
<text x="1378.7" y="2187.7" font-size="19.5" fill="#111" font-style="italic" letter-spacing="-0.8">KRT15</text>
<text x="1030.0" y="2190.0" font-size="19.5" fill="#111" font-style="italic" letter-spacing="-0.8">BCL11A</text>
<text x="1105.4" y="2188.2" font-size="19.5" fill="#111" font-style="italic" letter-spacing="-0.8">DAPL1</text>
<text x="1167.2" y="2194.7" font-size="19.5" fill="#111" font-style="italic" letter-spacing="-0.8">HES1</text>
<text x="1217.0" y="2192.8" font-size="19.5" fill="#111" font-style="italic" letter-spacing="-0.8">FOXP2</text>
<text x="1286.7" y="2190.0" font-size="19.5" fill="#111" font-style="italic" letter-spacing="-0.8">DLK2</text>
<circle cx="1445.0" cy="2176.0" r="2.70" fill="#3a3a3a"/>
<circle cx="1314.6" cy="2229.6" r="7.50" fill="#000"/>
<text x="1330.9" y="2235.9" font-size="18.5" fill="#111">Downregulated</text>
<circle cx="1314.6" cy="2251.0" r="7.50" fill="#aaaaaa"/>
<text x="1330.9" y="2257.3" font-size="18.5" fill="#111">No difference</text>
<circle cx="1314.6" cy="2272.6" r="7.50" fill="#ff0000"/>
<text x="1330.9" y="2278.9" font-size="18.5" fill="#111">Upregulated</text>
<text x="1497.0" y="1848.6" font-size="39">i</text>
<text x="1613.3" y="1879.0" font-size="17.32" fill="#c8283c" textLength="79.0" lengthAdjust="spacingAndGlyphs">Periodontitis</text>
<defs><linearGradient id="gI" x1="0" x2="1" y1="0" y2="0"><stop offset="0" stop-color="#2c5c9a"/><stop offset="0.35" stop-color="#a9b0bd"/><stop offset="0.55" stop-color="#fcdcbc"/><stop offset="0.8" stop-color="#d88592"/><stop offset="1" stop-color="#8a1a5a"/></linearGradient></defs>
<rect x="1791.0" y="1874.3" width="202.6" height="6.0" fill="url(#gI)"/>
<text x="1791.0" y="1872.0" font-size="13.5">0</text>
<text x="1882.4" y="1872.0" font-size="13.5" text-anchor="middle">150</text>
<text x="1982.0" y="1872.0" font-size="13.5" text-anchor="end">250</text>
<path d="M1612.6 1883.4h12.9v13.0h-12.9zM1638.0 1883.4h12.9v13.0h-12.9zM1650.7 1883.4h12.9v13.0h-12.9zM1663.4 1883.4h12.9v13.0h-12.9zM1688.8 1883.4h12.9v13.0h-12.9zM1701.5 1883.4h12.9v13.0h-12.9zM1726.9 1883.4h12.9v13.0h-12.9zM1752.3 1883.4h12.9v13.0h-12.9zM1765.0 1883.4h12.9v13.0h-12.9zM1777.7 1883.4h12.9v13.0h-12.9zM1638.0 1896.2h12.9v13.0h-12.9zM1688.8 1896.2h12.9v13.0h-12.9zM1714.2 1896.2h12.9v13.0h-12.9zM1726.9 1896.2h12.9v13.0h-12.9zM1765.0 1896.2h12.9v13.0h-12.9zM1714.2 1909.1h12.9v13.0h-12.9zM1803.0 1909.1h12.9v13.0h-12.9zM1828.4 1909.1h12.9v13.0h-12.9zM1866.5 1909.1h12.9v13.0h-12.9zM1879.2 1909.1h12.9v13.0h-12.9zM1790.4 1921.9h12.9v13.0h-12.9zM1803.0 1921.9h12.9v13.0h-12.9zM1815.7 1921.9h12.9v13.0h-12.9zM1828.4 1921.9h12.9v13.0h-12.9zM1904.6 1921.9h12.9v13.0h-12.9zM1930.0 1921.9h12.9v13.0h-12.9zM1790.4 1934.7h12.9v13.0h-12.9zM1803.0 1934.7h12.9v13.0h-12.9zM1815.7 1934.7h12.9v13.0h-12.9zM1853.8 1934.7h12.9v13.0h-12.9zM1866.5 1934.7h12.9v13.0h-12.9zM1904.6 1934.7h12.9v13.0h-12.9zM1942.7 1934.7h12.9v13.0h-12.9zM1803.0 1947.5h12.9v13.0h-12.9zM1841.1 1947.5h12.9v13.0h-12.9zM1853.8 1947.5h12.9v13.0h-12.9zM1866.5 1947.5h12.9v13.0h-12.9zM1904.6 1947.5h12.9v13.0h-12.9zM1841.1 1960.4h12.9v13.0h-12.9zM1853.8 1960.4h12.9v13.0h-12.9zM1866.5 1960.4h12.9v13.0h-12.9zM1879.2 1960.4h12.9v13.0h-12.9zM1917.3 1960.4h12.9v13.0h-12.9zM1930.0 1960.4h12.9v13.0h-12.9zM1942.7 1960.4h12.9v13.0h-12.9zM1815.7 1973.2h12.9v13.0h-12.9zM1841.1 1973.2h12.9v13.0h-12.9zM1866.5 1973.2h12.9v13.0h-12.9zM1930.0 1973.2h12.9v13.0h-12.9zM1942.7 1973.2h12.9v13.0h-12.9zM1955.4 1973.2h12.9v13.0h-12.9zM1803.0 1986.0h12.9v13.0h-12.9zM1841.1 1986.0h12.9v13.0h-12.9zM1853.8 1986.0h12.9v13.0h-12.9zM1866.5 1986.0h12.9v13.0h-12.9zM1904.6 1986.0h12.9v13.0h-12.9zM1917.3 1986.0h12.9v13.0h-12.9zM1942.7 1986.0h12.9v13.0h-12.9zM1955.4 1986.0h12.9v13.0h-12.9zM1803.0 1998.8h12.9v13.0h-12.9zM1841.1 1998.8h12.9v13.0h-12.9zM1853.8 1998.8h12.9v13.0h-12.9zM1879.2 1998.8h12.9v13.0h-12.9zM1891.9 1998.8h12.9v13.0h-12.9zM1904.6 1998.8h12.9v13.0h-12.9zM1930.0 1998.8h12.9v13.0h-12.9zM1803.0 2011.7h12.9v13.0h-12.9zM1815.7 2011.7h12.9v13.0h-12.9zM1841.1 2011.7h12.9v13.0h-12.9zM1866.5 2011.7h12.9v13.0h-12.9zM1879.2 2011.7h12.9v13.0h-12.9zM1904.6 2011.7h12.9v13.0h-12.9zM1803.0 2024.5h12.9v13.0h-12.9zM1815.7 2024.5h12.9v13.0h-12.9zM1853.8 2024.5h12.9v13.0h-12.9zM1866.5 2024.5h12.9v13.0h-12.9zM1879.2 2024.5h12.9v13.0h-12.9zM1891.9 2024.5h12.9v13.0h-12.9zM1904.6 2024.5h12.9v13.0h-12.9zM1930.0 2024.5h12.9v13.0h-12.9zM1891.9 2037.3h12.9v13.0h-12.9zM1904.6 2037.3h12.9v13.0h-12.9zM1942.7 2037.3h12.9v13.0h-12.9zM1955.4 2037.3h12.9v13.0h-12.9zM1841.1 2050.1h12.9v13.0h-12.9zM1853.8 2050.1h12.9v13.0h-12.9zM1866.5 2050.1h12.9v13.0h-12.9zM1891.9 2050.1h12.9v13.0h-12.9zM1930.0 2050.1h12.9v13.0h-12.9zM1942.7 2050.1h12.9v13.0h-12.9zM1955.4 2050.1h12.9v13.0h-12.9zM1841.1 2063.0h12.9v13.0h-12.9zM1853.8 2063.0h12.9v13.0h-12.9zM1866.5 2063.0h12.9v13.0h-12.9zM1879.2 2063.0h12.9v13.0h-12.9zM1891.9 2063.0h12.9v13.0h-12.9zM1904.6 2063.0h12.9v13.0h-12.9zM1930.0 2063.0h12.9v13.0h-12.9zM1942.7 2063.0h12.9v13.0h-12.9zM1955.4 2063.0h12.9v13.0h-12.9zM1815.7 2075.8h12.9v13.0h-12.9zM1841.1 2075.8h12.9v13.0h-12.9zM1930.0 2075.8h12.9v13.0h-12.9zM1942.7 2075.8h12.9v13.0h-12.9zM1955.4 2075.8h12.9v13.0h-12.9zM1980.8 2088.6h12.9v13.0h-12.9zM1917.3 2101.5h12.9v13.0h-12.9zM1968.1 2101.5h12.9v13.0h-12.9zM1968.1 2139.9h12.9v13.0h-12.9zM1955.4 2152.8h12.9v13.0h-12.9zM1968.1 2152.8h12.9v13.0h-12.9zM1980.8 2165.6h12.9v13.0h-12.9zM1968.1 2178.4h12.9v13.0h-12.9zM1980.8 2178.4h12.9v13.0h-12.9zM1980.8 2191.2h12.9v13.0h-12.9zM1968.1 2204.1h12.9v13.0h-12.9zM1980.8 2204.1h12.9v13.0h-12.9zM1980.8 2216.9h12.9v13.0h-12.9zM1980.8 2229.7h12.9v13.0h-12.9zM1980.8 2242.5h12.9v13.0h-12.9zM1980.8 2255.4h12.9v13.0h-12.9z" fill="#4a76a6"/>
<path d="M1625.3 1883.4h12.9v13.0h-12.9zM1676.1 1883.4h12.9v13.0h-12.9zM1714.2 1883.4h12.9v13.0h-12.9zM1790.4 1883.4h12.9v13.0h-12.9zM1803.0 1883.4h12.9v13.0h-12.9zM1815.7 1883.4h12.9v13.0h-12.9zM1828.4 1883.4h12.9v13.0h-12.9zM1853.8 1883.4h12.9v13.0h-12.9zM1879.2 1883.4h12.9v13.0h-12.9zM1891.9 1883.4h12.9v13.0h-12.9zM1790.4 1896.2h12.9v13.0h-12.9zM1803.0 1896.2h12.9v13.0h-12.9zM1815.7 1896.2h12.9v13.0h-12.9zM1828.4 1896.2h12.9v13.0h-12.9zM1853.8 1896.2h12.9v13.0h-12.9zM1866.5 1896.2h12.9v13.0h-12.9zM1879.2 1896.2h12.9v13.0h-12.9zM1891.9 1896.2h12.9v13.0h-12.9zM1942.7 1896.2h12.9v13.0h-12.9zM1790.4 1909.1h12.9v13.0h-12.9zM1815.7 1909.1h12.9v13.0h-12.9zM1841.1 1909.1h12.9v13.0h-12.9zM1853.8 1909.1h12.9v13.0h-12.9zM1891.9 1909.1h12.9v13.0h-12.9zM1904.6 1909.1h12.9v13.0h-12.9zM1930.0 1909.1h12.9v13.0h-12.9zM1942.7 1909.1h12.9v13.0h-12.9zM1841.1 1921.9h12.9v13.0h-12.9zM1853.8 1921.9h12.9v13.0h-12.9zM1866.5 1921.9h12.9v13.0h-12.9zM1879.2 1921.9h12.9v13.0h-12.9zM1891.9 1921.9h12.9v13.0h-12.9zM1917.3 1921.9h12.9v13.0h-12.9zM1955.4 1921.9h12.9v13.0h-12.9zM1968.1 1921.9h12.9v13.0h-12.9zM1841.1 1934.7h12.9v13.0h-12.9zM1879.2 1934.7h12.9v13.0h-12.9zM1891.9 1934.7h12.9v13.0h-12.9zM1917.3 1934.7h12.9v13.0h-12.9zM1955.4 1934.7h12.9v13.0h-12.9zM1968.1 1934.7h12.9v13.0h-12.9zM1815.7 1947.5h12.9v13.0h-12.9zM1828.4 1947.5h12.9v13.0h-12.9zM1917.3 1947.5h12.9v13.0h-12.9zM1930.0 1947.5h12.9v13.0h-12.9zM1942.7 1947.5h12.9v13.0h-12.9zM1955.4 1947.5h12.9v13.0h-12.9zM1968.1 1947.5h12.9v13.0h-12.9zM1891.9 1960.4h12.9v13.0h-12.9zM1904.6 1960.4h12.9v13.0h-12.9zM1955.4 1960.4h12.9v13.0h-12.9zM1968.1 1960.4h12.9v13.0h-12.9zM1891.9 1973.2h12.9v13.0h-12.9zM1904.6 1973.2h12.9v13.0h-12.9zM1968.1 1973.2h12.9v13.0h-12.9zM1980.8 1973.2h12.9v13.0h-12.9zM1879.2 1986.0h12.9v13.0h-12.9zM1930.0 1986.0h12.9v13.0h-12.9zM1968.1 1986.0h12.9v13.0h-12.9zM1980.8 1986.0h12.9v13.0h-12.9zM1866.5 1998.8h12.9v13.0h-12.9zM1917.3 1998.8h12.9v13.0h-12.9zM1942.7 1998.8h12.9v13.0h-12.9zM1955.4 1998.8h12.9v13.0h-12.9zM1968.1 1998.8h12.9v13.0h-12.9zM1980.8 1998.8h12.9v13.0h-12.9zM1853.8 2011.7h12.9v13.0h-12.9zM1917.3 2011.7h12.9v13.0h-12.9zM1930.0 2011.7h12.9v13.0h-12.9zM1942.7 2011.7h12.9v13.0h-12.9zM1955.4 2011.7h12.9v13.0h-12.9zM1968.1 2011.7h12.9v13.0h-12.9zM1980.8 2011.7h12.9v13.0h-12.9zM1841.1 2024.5h12.9v13.0h-12.9zM1917.3 2024.5h12.9v13.0h-12.9zM1942.7 2024.5h12.9v13.0h-12.9zM1955.4 2024.5h12.9v13.0h-12.9zM1968.1 2024.5h12.9v13.0h-12.9zM1980.8 2024.5h12.9v13.0h-12.9zM1828.4 2037.3h12.9v13.0h-12.9zM1917.3 2037.3h12.9v13.0h-12.9zM1968.1 2037.3h12.9v13.0h-12.9zM1980.8 2037.3h12.9v13.0h-12.9zM1815.7 2050.1h12.9v13.0h-12.9zM1917.3 2050.1h12.9v13.0h-12.9zM1968.1 2050.1h12.9v13.0h-12.9zM1980.8 2050.1h12.9v13.0h-12.9zM1803.0 2063.0h12.9v13.0h-12.9zM1917.3 2063.0h12.9v13.0h-12.9zM1968.1 2063.0h12.9v13.0h-12.9zM1980.8 2063.0h12.9v13.0h-12.9zM1968.1 2075.8h12.9v13.0h-12.9zM1980.8 2075.8h12.9v13.0h-12.9zM1980.8 2152.8h12.9v13.0h-12.9z" fill="#3b6aa0"/>
<path d="M1739.6 1883.4h12.9v13.0h-12.9zM1612.6 1896.2h12.9v13.0h-12.9zM1625.3 1896.2h12.9v13.0h-12.9zM1663.4 1896.2h12.9v13.0h-12.9zM1701.5 1896.2h12.9v13.0h-12.9zM1752.3 1896.2h12.9v13.0h-12.9zM1777.7 1896.2h12.9v13.0h-12.9zM1625.3 1909.1h12.9v13.0h-12.9zM1688.8 1909.1h12.9v13.0h-12.9zM1726.9 1909.1h12.9v13.0h-12.9zM1765.0 1909.1h12.9v13.0h-12.9zM1777.7 1909.1h12.9v13.0h-12.9zM1663.4 1934.7h12.9v13.0h-12.9zM1688.8 1934.7h12.9v13.0h-12.9zM1714.2 1934.7h12.9v13.0h-12.9zM1828.4 1934.7h12.9v13.0h-12.9zM1765.0 1947.5h12.9v13.0h-12.9zM1879.2 1947.5h12.9v13.0h-12.9zM1891.9 1947.5h12.9v13.0h-12.9zM1803.0 1960.4h12.9v13.0h-12.9zM1815.7 1960.4h12.9v13.0h-12.9zM1828.4 1960.4h12.9v13.0h-12.9zM1790.4 1973.2h12.9v13.0h-12.9zM1803.0 1973.2h12.9v13.0h-12.9zM1828.4 1973.2h12.9v13.0h-12.9zM1853.8 1973.2h12.9v13.0h-12.9zM1879.2 1973.2h12.9v13.0h-12.9zM1917.3 1973.2h12.9v13.0h-12.9zM1815.7 1986.0h12.9v13.0h-12.9zM1828.4 1986.0h12.9v13.0h-12.9zM1891.9 1986.0h12.9v13.0h-12.9zM1790.4 1998.8h12.9v13.0h-12.9zM1815.7 1998.8h12.9v13.0h-12.9zM1828.4 1998.8h12.9v13.0h-12.9zM1790.4 2011.7h12.9v13.0h-12.9zM1828.4 2011.7h12.9v13.0h-12.9zM1891.9 2011.7h12.9v13.0h-12.9zM1790.4 2024.5h12.9v13.0h-12.9zM1828.4 2024.5h12.9v13.0h-12.9zM1790.4 2037.3h12.9v13.0h-12.9zM1803.0 2037.3h12.9v13.0h-12.9zM1815.7 2037.3h12.9v13.0h-12.9zM1841.1 2037.3h12.9v13.0h-12.9zM1853.8 2037.3h12.9v13.0h-12.9zM1866.5 2037.3h12.9v13.0h-12.9zM1879.2 2037.3h12.9v13.0h-12.9zM1930.0 2037.3h12.9v13.0h-12.9zM1790.4 2050.1h12.9v13.0h-12.9zM1803.0 2050.1h12.9v13.0h-12.9zM1828.4 2050.1h12.9v13.0h-12.9zM1879.2 2050.1h12.9v13.0h-12.9zM1904.6 2050.1h12.9v13.0h-12.9zM1790.4 2063.0h12.9v13.0h-12.9zM1815.7 2063.0h12.9v13.0h-12.9zM1828.4 2063.0h12.9v13.0h-12.9zM1803.0 2075.8h12.9v13.0h-12.9zM1828.4 2075.8h12.9v13.0h-12.9zM1853.8 2075.8h12.9v13.0h-12.9zM1866.5 2075.8h12.9v13.0h-12.9zM1891.9 2075.8h12.9v13.0h-12.9zM1917.3 2088.6h12.9v13.0h-12.9zM1955.4 2088.6h12.9v13.0h-12.9zM1968.1 2088.6h12.9v13.0h-12.9zM1765.0 2101.5h12.9v13.0h-12.9zM1955.4 2101.5h12.9v13.0h-12.9zM1980.8 2101.5h12.9v13.0h-12.9zM1968.1 2114.3h12.9v13.0h-12.9zM1980.8 2114.3h12.9v13.0h-12.9zM1968.1 2127.1h12.9v13.0h-12.9zM1980.8 2127.1h12.9v13.0h-12.9zM1955.4 2139.9h12.9v13.0h-12.9zM1980.8 2139.9h12.9v13.0h-12.9zM1930.0 2152.8h12.9v13.0h-12.9zM1930.0 2165.6h12.9v13.0h-12.9zM1968.1 2165.6h12.9v13.0h-12.9zM1930.0 2178.4h12.9v13.0h-12.9zM1942.7 2178.4h12.9v13.0h-12.9zM1955.4 2178.4h12.9v13.0h-12.9zM1968.1 2191.2h12.9v13.0h-12.9zM1930.0 2204.1h12.9v13.0h-12.9zM1942.7 2204.1h12.9v13.0h-12.9zM1955.4 2204.1h12.9v13.0h-12.9zM1968.1 2229.7h12.9v13.0h-12.9zM1968.1 2242.5h12.9v13.0h-12.9zM1968.1 2255.4h12.9v13.0h-12.9z" fill="#5d82aa"/>
<path d="M1841.1 1883.4h12.9v13.0h-12.9zM1866.5 1883.4h12.9v13.0h-12.9zM1904.6 1883.4h12.9v13.0h-12.9zM1917.3 1883.4h12.9v13.0h-12.9zM1930.0 1883.4h12.9v13.0h-12.9zM1942.7 1883.4h12.9v13.0h-12.9zM1955.4 1883.4h12.9v13.0h-12.9zM1968.1 1883.4h12.9v13.0h-12.9zM1980.8 1883.4h12.9v13.0h-12.9zM1841.1 1896.2h12.9v13.0h-12.9zM1904.6 1896.2h12.9v13.0h-12.9zM1917.3 1896.2h12.9v13.0h-12.9zM1930.0 1896.2h12.9v13.0h-12.9zM1955.4 1896.2h12.9v13.0h-12.9zM1968.1 1896.2h12.9v13.0h-12.9zM1980.8 1896.2h12.9v13.0h-12.9zM1917.3 1909.1h12.9v13.0h-12.9zM1955.4 1909.1h12.9v13.0h-12.9zM1968.1 1909.1h12.9v13.0h-12.9zM1980.8 1909.1h12.9v13.0h-12.9zM1942.7 1921.9h12.9v13.0h-12.9zM1980.8 1921.9h12.9v13.0h-12.9zM1930.0 1934.7h12.9v13.0h-12.9zM1980.8 1934.7h12.9v13.0h-12.9zM1980.8 1947.5h12.9v13.0h-12.9zM1980.8 1960.4h12.9v13.0h-12.9z" fill="#2f5f98"/>
<path d="M1650.7 1896.2h12.9v13.0h-12.9zM1676.1 1896.2h12.9v13.0h-12.9zM1739.6 1896.2h12.9v13.0h-12.9zM1612.6 1909.1h12.9v13.0h-12.9zM1638.0 1909.1h12.9v13.0h-12.9zM1650.7 1909.1h12.9v13.0h-12.9zM1663.4 1909.1h12.9v13.0h-12.9zM1676.1 1909.1h12.9v13.0h-12.9zM1701.5 1909.1h12.9v13.0h-12.9zM1739.6 1909.1h12.9v13.0h-12.9zM1752.3 1909.1h12.9v13.0h-12.9zM1612.6 1921.9h12.9v13.0h-12.9zM1625.3 1921.9h12.9v13.0h-12.9zM1638.0 1921.9h12.9v13.0h-12.9zM1650.7 1921.9h12.9v13.0h-12.9zM1663.4 1921.9h12.9v13.0h-12.9zM1676.1 1921.9h12.9v13.0h-12.9zM1688.8 1921.9h12.9v13.0h-12.9zM1701.5 1921.9h12.9v13.0h-12.9zM1714.2 1921.9h12.9v13.0h-12.9zM1752.3 1921.9h12.9v13.0h-12.9zM1765.0 1921.9h12.9v13.0h-12.9zM1612.6 1934.7h12.9v13.0h-12.9zM1625.3 1934.7h12.9v13.0h-12.9zM1638.0 1934.7h12.9v13.0h-12.9zM1650.7 1934.7h12.9v13.0h-12.9zM1676.1 1934.7h12.9v13.0h-12.9zM1701.5 1934.7h12.9v13.0h-12.9zM1752.3 1934.7h12.9v13.0h-12.9zM1765.0 1934.7h12.9v13.0h-12.9zM1777.7 1934.7h12.9v13.0h-12.9zM1726.9 1947.5h12.9v13.0h-12.9zM1739.6 1947.5h12.9v13.0h-12.9zM1752.3 1947.5h12.9v13.0h-12.9zM1777.7 1947.5h12.9v13.0h-12.9zM1790.4 1947.5h12.9v13.0h-12.9zM1714.2 1960.4h12.9v13.0h-12.9zM1726.9 1960.4h12.9v13.0h-12.9zM1739.6 1960.4h12.9v13.0h-12.9zM1752.3 1960.4h12.9v13.0h-12.9zM1765.0 1960.4h12.9v13.0h-12.9zM1777.7 1960.4h12.9v13.0h-12.9zM1790.4 1960.4h12.9v13.0h-12.9zM1663.4 1973.2h12.9v13.0h-12.9zM1688.8 1973.2h12.9v13.0h-12.9zM1726.9 1973.2h12.9v13.0h-12.9zM1739.6 1973.2h12.9v13.0h-12.9zM1752.3 1973.2h12.9v13.0h-12.9zM1765.0 1973.2h12.9v13.0h-12.9zM1777.7 1973.2h12.9v13.0h-12.9zM1612.6 1998.8h12.9v13.0h-12.9zM1625.3 1998.8h12.9v13.0h-12.9zM1688.8 1998.8h12.9v13.0h-12.9zM1714.2 1998.8h12.9v13.0h-12.9zM1765.0 1998.8h12.9v13.0h-12.9zM1612.6 2011.7h12.9v13.0h-12.9zM1625.3 2011.7h12.9v13.0h-12.9zM1676.1 2011.7h12.9v13.0h-12.9zM1688.8 2011.7h12.9v13.0h-12.9zM1714.2 2011.7h12.9v13.0h-12.9zM1765.0 2011.7h12.9v13.0h-12.9zM1612.6 2024.5h12.9v13.0h-12.9zM1625.3 2024.5h12.9v13.0h-12.9zM1688.8 2024.5h12.9v13.0h-12.9zM1714.2 2024.5h12.9v13.0h-12.9zM1765.0 2024.5h12.9v13.0h-12.9zM1688.8 2037.3h12.9v13.0h-12.9zM1688.8 2050.1h12.9v13.0h-12.9zM1714.2 2050.1h12.9v13.0h-12.9zM1714.2 2063.0h12.9v13.0h-12.9zM1790.4 2075.8h12.9v13.0h-12.9zM1879.2 2075.8h12.9v13.0h-12.9zM1904.6 2075.8h12.9v13.0h-12.9zM1917.3 2075.8h12.9v13.0h-12.9zM1777.7 2088.6h12.9v13.0h-12.9zM1891.9 2088.6h12.9v13.0h-12.9zM1904.6 2088.6h12.9v13.0h-12.9zM1930.0 2088.6h12.9v13.0h-12.9zM1841.1 2101.5h12.9v13.0h-12.9zM1866.5 2101.5h12.9v13.0h-12.9zM1891.9 2101.5h12.9v13.0h-12.9zM1904.6 2101.5h12.9v13.0h-12.9zM1930.0 2101.5h12.9v13.0h-12.9zM1942.7 2101.5h12.9v13.0h-12.9zM1891.9 2114.3h12.9v13.0h-12.9zM1917.3 2114.3h12.9v13.0h-12.9zM1955.4 2114.3h12.9v13.0h-12.9zM1891.9 2127.1h12.9v13.0h-12.9zM1917.3 2127.1h12.9v13.0h-12.9zM1955.4 2127.1h12.9v13.0h-12.9zM1891.9 2139.9h12.9v13.0h-12.9zM1904.6 2139.9h12.9v13.0h-12.9zM1917.3 2139.9h12.9v13.0h-12.9zM1803.0 2152.8h12.9v13.0h-12.9zM1815.7 2152.8h12.9v13.0h-12.9zM1828.4 2152.8h12.9v13.0h-12.9zM1841.1 2152.8h12.9v13.0h-12.9zM1853.8 2152.8h12.9v13.0h-12.9zM1866.5 2152.8h12.9v13.0h-12.9zM1904.6 2152.8h12.9v13.0h-12.9zM1942.7 2152.8h12.9v13.0h-12.9zM1891.9 2165.6h12.9v13.0h-12.9zM1942.7 2165.6h12.9v13.0h-12.9zM1955.4 2165.6h12.9v13.0h-12.9zM1803.0 2178.4h12.9v13.0h-12.9zM1815.7 2178.4h12.9v13.0h-12.9zM1828.4 2178.4h12.9v13.0h-12.9zM1841.1 2178.4h12.9v13.0h-12.9zM1853.8 2178.4h12.9v13.0h-12.9zM1866.5 2178.4h12.9v13.0h-12.9zM1891.9 2178.4h12.9v13.0h-12.9zM1803.0 2191.2h12.9v13.0h-12.9zM1841.1 2191.2h12.9v13.0h-12.9zM1853.8 2191.2h12.9v13.0h-12.9zM1866.5 2191.2h12.9v13.0h-12.9zM1930.0 2191.2h12.9v13.0h-12.9zM1942.7 2191.2h12.9v13.0h-12.9zM1955.4 2191.2h12.9v13.0h-12.9zM1891.9 2204.1h12.9v13.0h-12.9zM1930.0 2216.9h12.9v13.0h-12.9zM1942.7 2216.9h12.9v13.0h-12.9zM1955.4 2216.9h12.9v13.0h-12.9zM1968.1 2216.9h12.9v13.0h-12.9zM1930.0 2229.7h12.9v13.0h-12.9zM1942.7 2229.7h12.9v13.0h-12.9zM1955.4 2229.7h12.9v13.0h-12.9zM1815.7 2242.5h12.9v13.0h-12.9zM1841.1 2242.5h12.9v13.0h-12.9zM1853.8 2242.5h12.9v13.0h-12.9zM1866.5 2242.5h12.9v13.0h-12.9zM1930.0 2242.5h12.9v13.0h-12.9zM1942.7 2242.5h12.9v13.0h-12.9zM1955.4 2242.5h12.9v13.0h-12.9zM1841.1 2255.4h12.9v13.0h-12.9zM1853.8 2255.4h12.9v13.0h-12.9zM1866.5 2255.4h12.9v13.0h-12.9zM1930.0 2255.4h12.9v13.0h-12.9zM1942.7 2255.4h12.9v13.0h-12.9zM1955.4 2255.4h12.9v13.0h-12.9z" fill="#7690ae"/>
<path d="M1726.9 1921.9h12.9v13.0h-12.9zM1638.0 1947.5h12.9v13.0h-12.9zM1650.7 1947.5h12.9v13.0h-12.9zM1663.4 1947.5h12.9v13.0h-12.9zM1612.6 1960.4h12.9v13.0h-12.9zM1650.7 1960.4h12.9v13.0h-12.9zM1663.4 1960.4h12.9v13.0h-12.9zM1701.5 1960.4h12.9v13.0h-12.9zM1612.6 1973.2h12.9v13.0h-12.9zM1625.3 1973.2h12.9v13.0h-12.9zM1638.0 1973.2h12.9v13.0h-12.9zM1650.7 1973.2h12.9v13.0h-12.9zM1612.6 1986.0h12.9v13.0h-12.9zM1625.3 1986.0h12.9v13.0h-12.9zM1650.7 1986.0h12.9v13.0h-12.9zM1739.6 1986.0h12.9v13.0h-12.9zM1752.3 1998.8h12.9v13.0h-12.9zM1777.7 1998.8h12.9v13.0h-12.9zM1739.6 2011.7h12.9v13.0h-12.9zM1739.6 2024.5h12.9v13.0h-12.9zM1638.0 2037.3h12.9v13.0h-12.9zM1701.5 2037.3h12.9v13.0h-12.9zM1752.3 2037.3h12.9v13.0h-12.9zM1765.0 2037.3h12.9v13.0h-12.9zM1777.7 2037.3h12.9v13.0h-12.9zM1638.0 2050.1h12.9v13.0h-12.9zM1701.5 2050.1h12.9v13.0h-12.9zM1752.3 2050.1h12.9v13.0h-12.9zM1777.7 2050.1h12.9v13.0h-12.9zM1638.0 2063.0h12.9v13.0h-12.9zM1701.5 2063.0h12.9v13.0h-12.9zM1752.3 2063.0h12.9v13.0h-12.9zM1765.0 2075.8h12.9v13.0h-12.9zM1777.7 2075.8h12.9v13.0h-12.9zM1765.0 2088.6h12.9v13.0h-12.9zM1790.4 2088.6h12.9v13.0h-12.9zM1790.4 2101.5h12.9v13.0h-12.9zM1803.0 2127.1h12.9v13.0h-12.9zM1815.7 2127.1h12.9v13.0h-12.9zM1841.1 2127.1h12.9v13.0h-12.9zM1853.8 2127.1h12.9v13.0h-12.9zM1942.7 2127.1h12.9v13.0h-12.9zM1726.9 2139.9h12.9v13.0h-12.9zM1803.0 2139.9h12.9v13.0h-12.9zM1815.7 2139.9h12.9v13.0h-12.9zM1841.1 2139.9h12.9v13.0h-12.9zM1853.8 2139.9h12.9v13.0h-12.9zM1942.7 2139.9h12.9v13.0h-12.9zM1714.2 2152.8h12.9v13.0h-12.9zM1663.4 2204.1h12.9v13.0h-12.9zM1879.2 2216.9h12.9v13.0h-12.9zM1891.9 2216.9h12.9v13.0h-12.9zM1904.6 2216.9h12.9v13.0h-12.9zM1917.3 2229.7h12.9v13.0h-12.9zM1879.2 2242.5h12.9v13.0h-12.9zM1879.2 2255.4h12.9v13.0h-12.9zM1904.6 2255.4h12.9v13.0h-12.9z" fill="#a2a7b0"/>
<path d="M1739.6 1921.9h12.9v13.0h-12.9zM1777.7 1921.9h12.9v13.0h-12.9zM1726.9 1934.7h12.9v13.0h-12.9zM1739.6 1934.7h12.9v13.0h-12.9zM1676.1 1947.5h12.9v13.0h-12.9zM1688.8 1947.5h12.9v13.0h-12.9zM1701.5 1947.5h12.9v13.0h-12.9zM1714.2 1947.5h12.9v13.0h-12.9zM1625.3 1960.4h12.9v13.0h-12.9zM1676.1 1960.4h12.9v13.0h-12.9zM1688.8 1960.4h12.9v13.0h-12.9zM1676.1 1973.2h12.9v13.0h-12.9zM1701.5 1973.2h12.9v13.0h-12.9zM1714.2 1973.2h12.9v13.0h-12.9zM1638.0 1986.0h12.9v13.0h-12.9zM1663.4 1986.0h12.9v13.0h-12.9zM1676.1 1986.0h12.9v13.0h-12.9zM1688.8 1986.0h12.9v13.0h-12.9zM1701.5 1986.0h12.9v13.0h-12.9zM1714.2 1986.0h12.9v13.0h-12.9zM1752.3 1986.0h12.9v13.0h-12.9zM1765.0 1986.0h12.9v13.0h-12.9zM1777.7 1986.0h12.9v13.0h-12.9zM1790.4 1986.0h12.9v13.0h-12.9zM1638.0 1998.8h12.9v13.0h-12.9zM1650.7 1998.8h12.9v13.0h-12.9zM1663.4 1998.8h12.9v13.0h-12.9zM1676.1 1998.8h12.9v13.0h-12.9zM1701.5 1998.8h12.9v13.0h-12.9zM1638.0 2011.7h12.9v13.0h-12.9zM1650.7 2011.7h12.9v13.0h-12.9zM1663.4 2011.7h12.9v13.0h-12.9zM1701.5 2011.7h12.9v13.0h-12.9zM1752.3 2011.7h12.9v13.0h-12.9zM1777.7 2011.7h12.9v13.0h-12.9zM1638.0 2024.5h12.9v13.0h-12.9zM1650.7 2024.5h12.9v13.0h-12.9zM1663.4 2024.5h12.9v13.0h-12.9zM1676.1 2024.5h12.9v13.0h-12.9zM1701.5 2024.5h12.9v13.0h-12.9zM1752.3 2024.5h12.9v13.0h-12.9zM1777.7 2024.5h12.9v13.0h-12.9zM1612.6 2037.3h12.9v13.0h-12.9zM1625.3 2037.3h12.9v13.0h-12.9zM1650.7 2037.3h12.9v13.0h-12.9zM1663.4 2037.3h12.9v13.0h-12.9zM1676.1 2037.3h12.9v13.0h-12.9zM1714.2 2037.3h12.9v13.0h-12.9zM1612.6 2050.1h12.9v13.0h-12.9zM1625.3 2050.1h12.9v13.0h-12.9zM1650.7 2050.1h12.9v13.0h-12.9zM1663.4 2050.1h12.9v13.0h-12.9zM1676.1 2050.1h12.9v13.0h-12.9zM1765.0 2050.1h12.9v13.0h-12.9zM1612.6 2063.0h12.9v13.0h-12.9zM1625.3 2063.0h12.9v13.0h-12.9zM1650.7 2063.0h12.9v13.0h-12.9zM1663.4 2063.0h12.9v13.0h-12.9zM1676.1 2063.0h12.9v13.0h-12.9zM1688.8 2063.0h12.9v13.0h-12.9zM1765.0 2063.0h12.9v13.0h-12.9zM1777.7 2063.0h12.9v13.0h-12.9zM1803.0 2088.6h12.9v13.0h-12.9zM1815.7 2088.6h12.9v13.0h-12.9zM1828.4 2088.6h12.9v13.0h-12.9zM1841.1 2088.6h12.9v13.0h-12.9zM1853.8 2088.6h12.9v13.0h-12.9zM1866.5 2088.6h12.9v13.0h-12.9zM1879.2 2088.6h12.9v13.0h-12.9zM1942.7 2088.6h12.9v13.0h-12.9zM1803.0 2101.5h12.9v13.0h-12.9zM1815.7 2101.5h12.9v13.0h-12.9zM1828.4 2101.5h12.9v13.0h-12.9zM1853.8 2101.5h12.9v13.0h-12.9zM1879.2 2101.5h12.9v13.0h-12.9zM1752.3 2114.3h12.9v13.0h-12.9zM1803.0 2114.3h12.9v13.0h-12.9zM1815.7 2114.3h12.9v13.0h-12.9zM1828.4 2114.3h12.9v13.0h-12.9zM1841.1 2114.3h12.9v13.0h-12.9zM1853.8 2114.3h12.9v13.0h-12.9zM1866.5 2114.3h12.9v13.0h-12.9zM1879.2 2114.3h12.9v13.0h-12.9zM1904.6 2114.3h12.9v13.0h-12.9zM1930.0 2114.3h12.9v13.0h-12.9zM1942.7 2114.3h12.9v13.0h-12.9zM1879.2 2127.1h12.9v13.0h-12.9zM1904.6 2127.1h12.9v13.0h-12.9zM1930.0 2127.1h12.9v13.0h-12.9zM1930.0 2139.9h12.9v13.0h-12.9zM1879.2 2152.8h12.9v13.0h-12.9zM1891.9 2152.8h12.9v13.0h-12.9zM1917.3 2152.8h12.9v13.0h-12.9zM1803.0 2165.6h12.9v13.0h-12.9zM1815.7 2165.6h12.9v13.0h-12.9zM1828.4 2165.6h12.9v13.0h-12.9zM1841.1 2165.6h12.9v13.0h-12.9zM1853.8 2165.6h12.9v13.0h-12.9zM1866.5 2165.6h12.9v13.0h-12.9zM1879.2 2165.6h12.9v13.0h-12.9zM1904.6 2165.6h12.9v13.0h-12.9zM1917.3 2165.6h12.9v13.0h-12.9zM1879.2 2178.4h12.9v13.0h-12.9zM1904.6 2178.4h12.9v13.0h-12.9zM1917.3 2178.4h12.9v13.0h-12.9zM1815.7 2191.2h12.9v13.0h-12.9zM1828.4 2191.2h12.9v13.0h-12.9zM1879.2 2191.2h12.9v13.0h-12.9zM1891.9 2191.2h12.9v13.0h-12.9zM1904.6 2191.2h12.9v13.0h-12.9zM1917.3 2191.2h12.9v13.0h-12.9zM1803.0 2204.1h12.9v13.0h-12.9zM1815.7 2204.1h12.9v13.0h-12.9zM1828.4 2204.1h12.9v13.0h-12.9zM1841.1 2204.1h12.9v13.0h-12.9zM1853.8 2204.1h12.9v13.0h-12.9zM1866.5 2204.1h12.9v13.0h-12.9zM1879.2 2204.1h12.9v13.0h-12.9zM1904.6 2204.1h12.9v13.0h-12.9zM1917.3 2204.1h12.9v13.0h-12.9zM1803.0 2216.9h12.9v13.0h-12.9zM1815.7 2216.9h12.9v13.0h-12.9zM1828.4 2216.9h12.9v13.0h-12.9zM1841.1 2216.9h12.9v13.0h-12.9zM1853.8 2216.9h12.9v13.0h-12.9zM1866.5 2216.9h12.9v13.0h-12.9zM1917.3 2216.9h12.9v13.0h-12.9zM1803.0 2229.7h12.9v13.0h-12.9zM1815.7 2229.7h12.9v13.0h-12.9zM1828.4 2229.7h12.9v13.0h-12.9zM1841.1 2229.7h12.9v13.0h-12.9zM1853.8 2229.7h12.9v13.0h-12.9zM1866.5 2229.7h12.9v13.0h-12.9zM1879.2 2229.7h12.9v13.0h-12.9zM1891.9 2229.7h12.9v13.0h-12.9zM1803.0 2242.5h12.9v13.0h-12.9zM1828.4 2242.5h12.9v13.0h-12.9zM1891.9 2242.5h12.9v13.0h-12.9zM1904.6 2242.5h12.9v13.0h-12.9zM1803.0 2255.4h12.9v13.0h-12.9zM1815.7 2255.4h12.9v13.0h-12.9zM1828.4 2255.4h12.9v13.0h-12.9zM1891.9 2255.4h12.9v13.0h-12.9z" fill="#8c9db2"/>
<path d="M1612.6 1947.5h12.9v13.0h-12.9zM1625.3 1947.5h12.9v13.0h-12.9zM1638.0 1960.4h12.9v13.0h-12.9zM1726.9 1986.0h12.9v13.0h-12.9zM1726.9 1998.8h12.9v13.0h-12.9zM1739.6 1998.8h12.9v13.0h-12.9zM1726.9 2011.7h12.9v13.0h-12.9zM1726.9 2024.5h12.9v13.0h-12.9zM1726.9 2037.3h12.9v13.0h-12.9zM1739.6 2037.3h12.9v13.0h-12.9zM1726.9 2050.1h12.9v13.0h-12.9zM1739.6 2050.1h12.9v13.0h-12.9zM1726.9 2063.0h12.9v13.0h-12.9zM1739.6 2063.0h12.9v13.0h-12.9zM1726.9 2075.8h12.9v13.0h-12.9zM1752.3 2075.8h12.9v13.0h-12.9zM1777.7 2101.5h12.9v13.0h-12.9zM1790.4 2114.3h12.9v13.0h-12.9zM1739.6 2127.1h12.9v13.0h-12.9zM1828.4 2127.1h12.9v13.0h-12.9zM1866.5 2127.1h12.9v13.0h-12.9zM1790.4 2139.9h12.9v13.0h-12.9zM1828.4 2139.9h12.9v13.0h-12.9zM1866.5 2139.9h12.9v13.0h-12.9zM1879.2 2139.9h12.9v13.0h-12.9zM1701.5 2165.6h12.9v13.0h-12.9zM1688.8 2178.4h12.9v13.0h-12.9zM1904.6 2229.7h12.9v13.0h-12.9zM1917.3 2242.5h12.9v13.0h-12.9zM1917.3 2255.4h12.9v13.0h-12.9z" fill="#b5b3b4"/>
<path d="M1612.6 2075.8h12.9v13.0h-12.9zM1638.0 2075.8h12.9v13.0h-12.9zM1739.6 2114.3h12.9v13.0h-12.9zM1612.6 2127.1h12.9v13.0h-12.9zM1625.3 2127.1h12.9v13.0h-12.9zM1650.7 2127.1h12.9v13.0h-12.9zM1726.9 2127.1h12.9v13.0h-12.9zM1752.3 2127.1h12.9v13.0h-12.9zM1612.6 2139.9h12.9v13.0h-12.9zM1625.3 2139.9h12.9v13.0h-12.9zM1676.1 2152.8h12.9v13.0h-12.9zM1663.4 2165.6h12.9v13.0h-12.9zM1714.2 2191.2h12.9v13.0h-12.9zM1701.5 2204.1h12.9v13.0h-12.9zM1739.6 2216.9h12.9v13.0h-12.9zM1790.4 2229.7h12.9v13.0h-12.9zM1726.9 2242.5h12.9v13.0h-12.9zM1739.6 2242.5h12.9v13.0h-12.9zM1612.6 2255.4h12.9v13.0h-12.9zM1726.9 2255.4h12.9v13.0h-12.9zM1739.6 2255.4h12.9v13.0h-12.9zM1790.4 2255.4h12.9v13.0h-12.9z" fill="#e8b4ae"/>
<path d="M1625.3 2075.8h12.9v13.0h-12.9zM1688.8 2075.8h12.9v13.0h-12.9zM1701.5 2075.8h12.9v13.0h-12.9zM1612.6 2088.6h12.9v13.0h-12.9zM1650.7 2088.6h12.9v13.0h-12.9zM1739.6 2088.6h12.9v13.0h-12.9zM1612.6 2101.5h12.9v13.0h-12.9zM1625.3 2101.5h12.9v13.0h-12.9zM1739.6 2101.5h12.9v13.0h-12.9zM1676.1 2114.3h12.9v13.0h-12.9zM1701.5 2114.3h12.9v13.0h-12.9zM1714.2 2127.1h12.9v13.0h-12.9zM1765.0 2127.1h12.9v13.0h-12.9zM1777.7 2127.1h12.9v13.0h-12.9zM1638.0 2139.9h12.9v13.0h-12.9zM1650.7 2139.9h12.9v13.0h-12.9zM1714.2 2139.9h12.9v13.0h-12.9zM1726.9 2152.8h12.9v13.0h-12.9zM1739.6 2152.8h12.9v13.0h-12.9zM1726.9 2165.6h12.9v13.0h-12.9zM1752.3 2165.6h12.9v13.0h-12.9zM1790.4 2165.6h12.9v13.0h-12.9zM1739.6 2178.4h12.9v13.0h-12.9zM1790.4 2178.4h12.9v13.0h-12.9zM1752.3 2191.2h12.9v13.0h-12.9zM1650.7 2216.9h12.9v13.0h-12.9zM1726.9 2216.9h12.9v13.0h-12.9zM1777.7 2216.9h12.9v13.0h-12.9zM1726.9 2229.7h12.9v13.0h-12.9zM1752.3 2242.5h12.9v13.0h-12.9zM1765.0 2242.5h12.9v13.0h-12.9zM1790.4 2242.5h12.9v13.0h-12.9zM1765.0 2255.4h12.9v13.0h-12.9zM1777.7 2255.4h12.9v13.0h-12.9z" fill="#fde0c2"/>
<path d="M1650.7 2075.8h12.9v13.0h-12.9zM1676.1 2075.8h12.9v13.0h-12.9zM1714.2 2075.8h12.9v13.0h-12.9zM1625.3 2088.6h12.9v13.0h-12.9zM1638.0 2088.6h12.9v13.0h-12.9zM1676.1 2088.6h12.9v13.0h-12.9zM1701.5 2088.6h12.9v13.0h-12.9zM1726.9 2088.6h12.9v13.0h-12.9zM1752.3 2088.6h12.9v13.0h-12.9zM1638.0 2101.5h12.9v13.0h-12.9zM1650.7 2101.5h12.9v13.0h-12.9zM1676.1 2101.5h12.9v13.0h-12.9zM1714.2 2101.5h12.9v13.0h-12.9zM1726.9 2101.5h12.9v13.0h-12.9zM1638.0 2114.3h12.9v13.0h-12.9zM1663.4 2114.3h12.9v13.0h-12.9zM1688.8 2114.3h12.9v13.0h-12.9zM1714.2 2114.3h12.9v13.0h-12.9zM1765.0 2114.3h12.9v13.0h-12.9zM1777.7 2114.3h12.9v13.0h-12.9zM1663.4 2127.1h12.9v13.0h-12.9zM1688.8 2127.1h12.9v13.0h-12.9zM1663.4 2139.9h12.9v13.0h-12.9zM1676.1 2139.9h12.9v13.0h-12.9zM1688.8 2139.9h12.9v13.0h-12.9zM1765.0 2139.9h12.9v13.0h-12.9zM1777.7 2139.9h12.9v13.0h-12.9zM1752.3 2152.8h12.9v13.0h-12.9zM1765.0 2152.8h12.9v13.0h-12.9zM1790.4 2152.8h12.9v13.0h-12.9zM1765.0 2165.6h12.9v13.0h-12.9zM1777.7 2165.6h12.9v13.0h-12.9zM1726.9 2178.4h12.9v13.0h-12.9zM1752.3 2178.4h12.9v13.0h-12.9zM1726.9 2191.2h12.9v13.0h-12.9zM1790.4 2191.2h12.9v13.0h-12.9zM1726.9 2204.1h12.9v13.0h-12.9zM1739.6 2204.1h12.9v13.0h-12.9zM1752.3 2204.1h12.9v13.0h-12.9zM1765.0 2216.9h12.9v13.0h-12.9zM1790.4 2216.9h12.9v13.0h-12.9zM1765.0 2229.7h12.9v13.0h-12.9zM1777.7 2229.7h12.9v13.0h-12.9zM1625.3 2242.5h12.9v13.0h-12.9zM1777.7 2242.5h12.9v13.0h-12.9z" fill="#e6d2c0"/>
<path d="M1663.4 2075.8h12.9v13.0h-12.9zM1612.6 2114.3h12.9v13.0h-12.9zM1625.3 2114.3h12.9v13.0h-12.9zM1650.7 2114.3h12.9v13.0h-12.9zM1726.9 2114.3h12.9v13.0h-12.9zM1638.0 2127.1h12.9v13.0h-12.9zM1676.1 2127.1h12.9v13.0h-12.9zM1701.5 2127.1h12.9v13.0h-12.9zM1701.5 2139.9h12.9v13.0h-12.9zM1752.3 2139.9h12.9v13.0h-12.9zM1739.6 2165.6h12.9v13.0h-12.9zM1739.6 2191.2h12.9v13.0h-12.9zM1790.4 2204.1h12.9v13.0h-12.9zM1752.3 2216.9h12.9v13.0h-12.9zM1739.6 2229.7h12.9v13.0h-12.9zM1752.3 2229.7h12.9v13.0h-12.9zM1752.3 2255.4h12.9v13.0h-12.9z" fill="#f8d0b8"/>
<path d="M1739.6 2075.8h12.9v13.0h-12.9zM1663.4 2088.6h12.9v13.0h-12.9zM1688.8 2088.6h12.9v13.0h-12.9zM1714.2 2088.6h12.9v13.0h-12.9zM1663.4 2101.5h12.9v13.0h-12.9zM1688.8 2101.5h12.9v13.0h-12.9zM1701.5 2101.5h12.9v13.0h-12.9zM1752.3 2101.5h12.9v13.0h-12.9zM1790.4 2127.1h12.9v13.0h-12.9zM1777.7 2152.8h12.9v13.0h-12.9zM1765.0 2178.4h12.9v13.0h-12.9zM1777.7 2178.4h12.9v13.0h-12.9zM1676.1 2191.2h12.9v13.0h-12.9zM1765.0 2191.2h12.9v13.0h-12.9zM1777.7 2191.2h12.9v13.0h-12.9zM1765.0 2204.1h12.9v13.0h-12.9zM1777.7 2204.1h12.9v13.0h-12.9zM1638.0 2229.7h12.9v13.0h-12.9z" fill="#c9bdb4"/>
<path d="M1739.6 2139.9h12.9v13.0h-12.9zM1625.3 2152.8h12.9v13.0h-12.9zM1650.7 2152.8h12.9v13.0h-12.9zM1688.8 2152.8h12.9v13.0h-12.9zM1701.5 2152.8h12.9v13.0h-12.9zM1688.8 2165.6h12.9v13.0h-12.9zM1714.2 2165.6h12.9v13.0h-12.9zM1663.4 2178.4h12.9v13.0h-12.9zM1676.1 2178.4h12.9v13.0h-12.9zM1701.5 2178.4h12.9v13.0h-12.9zM1714.2 2178.4h12.9v13.0h-12.9zM1663.4 2191.2h12.9v13.0h-12.9zM1688.8 2191.2h12.9v13.0h-12.9zM1701.5 2191.2h12.9v13.0h-12.9zM1638.0 2204.1h12.9v13.0h-12.9zM1676.1 2204.1h12.9v13.0h-12.9zM1688.8 2204.1h12.9v13.0h-12.9z" fill="#e0a0a4"/>
<path d="M1612.6 2152.8h12.9v13.0h-12.9zM1638.0 2152.8h12.9v13.0h-12.9zM1638.0 2216.9h12.9v13.0h-12.9zM1650.7 2229.7h12.9v13.0h-12.9zM1714.2 2229.7h12.9v13.0h-12.9zM1714.2 2255.4h12.9v13.0h-12.9z" fill="#c8708e"/>
<path d="M1663.4 2152.8h12.9v13.0h-12.9zM1650.7 2165.6h12.9v13.0h-12.9zM1714.2 2204.1h12.9v13.0h-12.9zM1688.8 2216.9h12.9v13.0h-12.9zM1701.5 2216.9h12.9v13.0h-12.9zM1676.1 2229.7h12.9v13.0h-12.9zM1688.8 2229.7h12.9v13.0h-12.9zM1676.1 2242.5h12.9v13.0h-12.9z" fill="#d48c9a"/>
<path d="M1612.6 2165.6h12.9v13.0h-12.9zM1650.7 2191.2h12.9v13.0h-12.9zM1676.1 2216.9h12.9v13.0h-12.9zM1701.5 2255.4h12.9v13.0h-12.9z" fill="#b85a80"/>
<path d="M1625.3 2165.6h12.9v13.0h-12.9zM1625.3 2178.4h12.9v13.0h-12.9zM1650.7 2178.4h12.9v13.0h-12.9zM1650.7 2204.1h12.9v13.0h-12.9zM1663.4 2216.9h12.9v13.0h-12.9zM1688.8 2242.5h12.9v13.0h-12.9zM1701.5 2242.5h12.9v13.0h-12.9z" fill="#cc7c92"/>
<path d="M1638.0 2165.6h12.9v13.0h-12.9zM1676.1 2165.6h12.9v13.0h-12.9zM1638.0 2178.4h12.9v13.0h-12.9zM1625.3 2191.2h12.9v13.0h-12.9zM1638.0 2191.2h12.9v13.0h-12.9zM1714.2 2216.9h12.9v13.0h-12.9zM1663.4 2229.7h12.9v13.0h-12.9zM1701.5 2229.7h12.9v13.0h-12.9zM1714.2 2242.5h12.9v13.0h-12.9z" fill="#dc9aa0"/>
<path d="M1612.6 2178.4h12.9v13.0h-12.9zM1612.6 2191.2h12.9v13.0h-12.9zM1676.1 2255.4h12.9v13.0h-12.9zM1688.8 2255.4h12.9v13.0h-12.9z" fill="#b04e7a"/>
<path d="M1612.6 2204.1h12.9v13.0h-12.9zM1625.3 2229.7h12.9v13.0h-12.9zM1638.0 2242.5h12.9v13.0h-12.9zM1663.4 2255.4h12.9v13.0h-12.9z" fill="#a63e72"/>
<path d="M1625.3 2204.1h12.9v13.0h-12.9zM1625.3 2216.9h12.9v13.0h-12.9zM1650.7 2242.5h12.9v13.0h-12.9zM1663.4 2242.5h12.9v13.0h-12.9z" fill="#c06888"/>
<path d="M1612.6 2216.9h12.9v13.0h-12.9z" fill="#a02c6a"/>
<path d="M1612.6 2229.7h12.9v13.0h-12.9zM1612.6 2242.5h12.9v13.0h-12.9zM1625.3 2255.4h12.9v13.0h-12.9zM1638.0 2255.4h12.9v13.0h-12.9zM1650.7 2255.4h12.9v13.0h-12.9z" fill="#9a2062"/>
<path d="M1625.30 1883.4V2268.2M1612.6 1896.23H1993.5M1637.99 1883.4V2268.2M1612.6 1909.05H1993.5M1650.69 1883.4V2268.2M1612.6 1921.88H1993.5M1663.39 1883.4V2268.2M1612.6 1934.71H1993.5M1676.08 1883.4V2268.2M1612.6 1947.53H1993.5M1688.78 1883.4V2268.2M1612.6 1960.36H1993.5M1701.48 1883.4V2268.2M1612.6 1973.19H1993.5M1714.17 1883.4V2268.2M1612.6 1986.01H1993.5M1726.87 1883.4V2268.2M1612.6 1998.84H1993.5M1739.57 1883.4V2268.2M1612.6 2011.67H1993.5M1752.26 1883.4V2268.2M1612.6 2024.49H1993.5M1764.96 1883.4V2268.2M1612.6 2037.32H1993.5M1777.66 1883.4V2268.2M1612.6 2050.15H1993.5M1790.35 1883.4V2268.2M1612.6 2062.97H1993.5M1803.05 1883.4V2268.2M1612.6 2075.80H1993.5M1815.75 1883.4V2268.2M1612.6 2088.63H1993.5M1828.44 1883.4V2268.2M1612.6 2101.45H1993.5M1841.14 1883.4V2268.2M1612.6 2114.28H1993.5M1853.84 1883.4V2268.2M1612.6 2127.11H1993.5M1866.53 1883.4V2268.2M1612.6 2139.93H1993.5M1879.23 1883.4V2268.2M1612.6 2152.76H1993.5M1891.93 1883.4V2268.2M1612.6 2165.59H1993.5M1904.62 1883.4V2268.2M1612.6 2178.41H1993.5M1917.32 1883.4V2268.2M1612.6 2191.24H1993.5M1930.02 1883.4V2268.2M1612.6 2204.07H1993.5M1942.71 1883.4V2268.2M1612.6 2216.89H1993.5M1955.41 1883.4V2268.2M1612.6 2229.72H1993.5M1968.11 1883.4V2268.2M1612.6 2242.55H1993.5M1980.80 1883.4V2268.2M1612.6 2255.37H1993.5" fill="none" stroke="#4a4a4a" stroke-width="0.9"/>
<rect x="1612.6" y="1883.4" width="380.9" height="384.8" fill="none" stroke="#222" stroke-width="1.6"/>
<text x="1607.0" y="1893.4" font-size="12.6" text-anchor="end" fill="#111" letter-spacing="-0.5">Plasma Cells</text>
<text x="1607.0" y="1906.2" font-size="12.6" text-anchor="end" fill="#2a7db8" letter-spacing="-0.5">Suprabasal KCs</text>
<text x="1607.0" y="1919.1" font-size="12.6" text-anchor="end" fill="#2a7db8" letter-spacing="-0.5">Lining Mucosal KCs</text>
<text x="1607.0" y="1931.9" font-size="12.6" text-anchor="end" fill="#111" letter-spacing="-0.5">Th Cells</text>
<text x="1607.0" y="1944.7" font-size="12.6" text-anchor="end" fill="#111" letter-spacing="-0.5">B Cells</text>
<text x="1607.0" y="1957.5" font-size="12.6" text-anchor="end" fill="#111" letter-spacing="-0.5">Schwann Cells</text>
<text x="1607.0" y="1970.4" font-size="12.6" text-anchor="end" fill="#111" letter-spacing="-0.5">LEC 2</text>
<text x="1607.0" y="1983.2" font-size="12.6" text-anchor="end" fill="#2a7db8" letter-spacing="-0.5">Melanocytes</text>
<text x="1607.0" y="1996.0" font-size="12.6" text-anchor="end" fill="#111" letter-spacing="-0.5">NK T Cells</text>
<text x="1607.0" y="2008.9" font-size="12.6" text-anchor="end" fill="#111" letter-spacing="-0.5">Th17 Cells</text>
<text x="1607.0" y="2021.7" font-size="12.6" text-anchor="end" fill="#111" letter-spacing="-0.5">Tc Cells</text>
<text x="1607.0" y="2034.5" font-size="12.6" text-anchor="end" fill="#111" letter-spacing="-0.5">MAIT Cells</text>
<text x="1607.0" y="2047.3" font-size="12.6" text-anchor="end" fill="#111" letter-spacing="-0.5">Treg Cells</text>
<text x="1607.0" y="2060.2" font-size="12.6" text-anchor="end" fill="#111" letter-spacing="-0.5">gd T Cells</text>
<text x="1607.0" y="2073.0" font-size="12.6" text-anchor="end" fill="#111" letter-spacing="-0.5">NK Cells</text>
<text x="1607.0" y="2085.8" font-size="12.6" text-anchor="end" fill="#111" letter-spacing="-0.5">Pericytes</text>
<text x="1607.0" y="2098.6" font-size="12.6" text-anchor="end" fill="#2a7db8" letter-spacing="-0.5">Langerhans Cells</text>
<text x="1607.0" y="2111.5" font-size="12.6" text-anchor="end" fill="#111" letter-spacing="-0.5">pDCs</text>
<text x="1607.0" y="2124.3" font-size="12.6" text-anchor="end" fill="#111" letter-spacing="-0.5">Neutrophils</text>
<text x="1607.0" y="2137.1" font-size="12.6" text-anchor="end" fill="#111" letter-spacing="-0.5">Mac-Mono</text>
<text x="1607.0" y="2149.9" font-size="12.6" text-anchor="end" fill="#111" letter-spacing="-0.5">cDCs</text>
<text x="1607.0" y="2162.8" font-size="12.6" text-anchor="end" fill="#111" letter-spacing="-0.5">Vascular SM Cells</text>
<text x="1607.0" y="2175.6" font-size="12.6" text-anchor="end" fill="#111" letter-spacing="-0.5">PC Venule VECs</text>
<text x="1607.0" y="2188.4" font-size="12.6" text-anchor="end" fill="#111" letter-spacing="-0.5">LEC 1</text>
<text x="1607.0" y="2201.3" font-size="12.6" text-anchor="end" fill="#2a7db8" letter-spacing="-0.5">Masticatory KCs</text>
<text x="1607.0" y="2214.1" font-size="12.6" text-anchor="end" fill="#111" letter-spacing="-0.5">Capillary VECs</text>
<text x="1607.0" y="2226.9" font-size="12.6" text-anchor="end" fill="#2a7db8" letter-spacing="-0.5">SK/JKs</text>
<text x="1607.0" y="2239.7" font-size="12.6" text-anchor="end" fill="#111" letter-spacing="-0.5">Arterial VECs</text>
<text x="1607.0" y="2252.6" font-size="12.6" text-anchor="end" fill="#111" letter-spacing="-0.5">Fibroblast 2</text>
<text x="1607.0" y="2265.4" font-size="12.6" text-anchor="end" fill="#111" letter-spacing="-0.5">Fibroblast 1</text>
<text x="1614.5" y="2271.5" font-size="12.6" fill="#111" transform="rotate(90 1614.5 2271.5)" letter-spacing="-0.5">Fibroblast 1</text>
<text x="1627.2" y="2271.5" font-size="12.6" fill="#111" transform="rotate(90 1627.2 2271.5)" letter-spacing="-0.5">Fibroblast 2</text>
<text x="1639.9" y="2271.5" font-size="12.6" fill="#111" transform="rotate(90 1639.9 2271.5)" letter-spacing="-0.5">Arterial VECs</text>
<text x="1652.6" y="2271.5" font-size="12.6" fill="#2a7db8" transform="rotate(90 1652.6 2271.5)" letter-spacing="-0.5">SK/JKs</text>
<text x="1665.3" y="2271.5" font-size="12.6" fill="#111" transform="rotate(90 1665.3 2271.5)" letter-spacing="-0.5">Capillary VECs</text>
<text x="1678.0" y="2271.5" font-size="12.6" fill="#2a7db8" transform="rotate(90 1678.0 2271.5)" letter-spacing="-0.5">Masticatory KCs</text>
<text x="1690.7" y="2271.5" font-size="12.6" fill="#111" transform="rotate(90 1690.7 2271.5)" letter-spacing="-0.5">LEC 1</text>
<text x="1703.4" y="2271.5" font-size="12.6" fill="#111" transform="rotate(90 1703.4 2271.5)" letter-spacing="-0.5">PC Venule VECs</text>
<text x="1716.1" y="2271.5" font-size="12.6" fill="#111" transform="rotate(90 1716.1 2271.5)" letter-spacing="-0.5">Vascular SM Cells</text>
<text x="1728.8" y="2271.5" font-size="12.6" fill="#111" transform="rotate(90 1728.8 2271.5)" letter-spacing="-0.5">cDCs</text>
<text x="1741.5" y="2271.5" font-size="12.6" fill="#111" transform="rotate(90 1741.5 2271.5)" letter-spacing="-0.5">Mac-Mono</text>
<text x="1754.2" y="2271.5" font-size="12.6" fill="#111" transform="rotate(90 1754.2 2271.5)" letter-spacing="-0.5">Neutrophils</text>
<text x="1766.9" y="2271.5" font-size="12.6" fill="#111" transform="rotate(90 1766.9 2271.5)" letter-spacing="-0.5">pDCs</text>
<text x="1779.6" y="2271.5" font-size="12.6" fill="#2a7db8" transform="rotate(90 1779.6 2271.5)" letter-spacing="-0.5">Langerhans Cells</text>
<text x="1792.3" y="2271.5" font-size="12.6" fill="#111" transform="rotate(90 1792.3 2271.5)" letter-spacing="-0.5">Pericytes</text>
<text x="1805.0" y="2271.5" font-size="12.6" fill="#111" transform="rotate(90 1805.0 2271.5)" letter-spacing="-0.5">NK Cells</text>
<text x="1817.7" y="2271.5" font-size="12.6" fill="#111" transform="rotate(90 1817.7 2271.5)" letter-spacing="-0.5">gd T Cells</text>
<text x="1830.4" y="2271.5" font-size="12.6" fill="#111" transform="rotate(90 1830.4 2271.5)" letter-spacing="-0.5">Treg Cells</text>
<text x="1843.1" y="2271.5" font-size="12.6" fill="#111" transform="rotate(90 1843.1 2271.5)" letter-spacing="-0.5">MAIT Cells</text>
<text x="1855.8" y="2271.5" font-size="12.6" fill="#111" transform="rotate(90 1855.8 2271.5)" letter-spacing="-0.5">Tc Cells</text>
<text x="1868.5" y="2271.5" font-size="12.6" fill="#111" transform="rotate(90 1868.5 2271.5)" letter-spacing="-0.5">Th17 Cells</text>
<text x="1881.2" y="2271.5" font-size="12.6" fill="#111" transform="rotate(90 1881.2 2271.5)" letter-spacing="-0.5">NK T Cells</text>
<text x="1893.9" y="2271.5" font-size="12.6" fill="#2a7db8" transform="rotate(90 1893.9 2271.5)" letter-spacing="-0.5">Melanocytes</text>
<text x="1906.6" y="2271.5" font-size="12.6" fill="#111" transform="rotate(90 1906.6 2271.5)" letter-spacing="-0.5">LEC 2</text>
<text x="1919.3" y="2271.5" font-size="12.6" fill="#111" transform="rotate(90 1919.3 2271.5)" letter-spacing="-0.5">Schwann Cells</text>
<text x="1932.0" y="2271.5" font-size="12.6" fill="#111" transform="rotate(90 1932.0 2271.5)" letter-spacing="-0.5">B Cells</text>
<text x="1944.7" y="2271.5" font-size="12.6" fill="#111" transform="rotate(90 1944.7 2271.5)" letter-spacing="-0.5">Th Cells</text>
<text x="1957.4" y="2271.5" font-size="12.6" fill="#2a7db8" transform="rotate(90 1957.4 2271.5)" letter-spacing="-0.5">Lining Mucosal KCs</text>
<text x="1970.1" y="2271.5" font-size="12.6" fill="#2a7db8" transform="rotate(90 1970.1 2271.5)" letter-spacing="-0.5">Suprabasal KCs</text>
<text x="1982.8" y="2271.5" font-size="12.6" fill="#111" transform="rotate(90 1982.8 2271.5)" letter-spacing="-0.5">Plasma Cells</text>
</svg>
</body></html>
